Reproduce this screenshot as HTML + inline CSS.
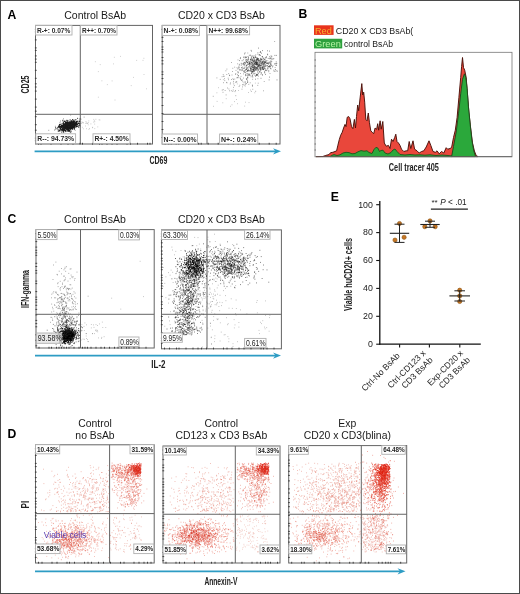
<!DOCTYPE html>
<html><head><meta charset="utf-8"><title>Figure</title>
<style>html,body{margin:0;padding:0;background:#fff;}body{width:520px;height:594px;overflow:hidden;font-family:"Liberation Sans",sans-serif;}svg{display:block;filter:blur(0.45px);}#fr{position:absolute;left:0;top:0;width:518px;height:592px;border:1px solid #4a4a4a;}</style>
</head><body>
<svg width="520" height="594" viewBox="0 0 520 594" font-family="Liberation Sans, sans-serif"><rect x="0" y="0" width="520" height="594" fill="#fff"/>
<text x="7.5" y="18.5" font-size="12.2" text-anchor="start" font-weight="bold" fill="#000" >A</text>
<text x="298.6" y="18.2" font-size="12.2" text-anchor="start" font-weight="bold" fill="#000" >B</text>
<text x="7.6" y="222.9" font-size="12.2" text-anchor="start" font-weight="bold" fill="#000" >C</text>
<text x="7.6" y="438.4" font-size="12.2" text-anchor="start" font-weight="bold" fill="#000" >D</text>
<text x="330.8" y="201.3" font-size="12.2" text-anchor="start" font-weight="bold" fill="#000" >E</text>
<text x="95.2" y="18.5" font-size="10.5" text-anchor="middle" font-weight="normal" fill="#1a1a1a" >Control BsAb</text>
<text x="221.4" y="18.5" font-size="10.5" text-anchor="middle" font-weight="normal" fill="#1a1a1a" >CD20 x CD3 BsAb</text>
<path d="M68.0 126.1h.01M69.8 123.9h.01M66.8 127.3h.01M66.0 125.9h.01M72.3 126.5h.01M65.8 125.9h.01M64.4 126.1h.01M70.3 125.1h.01M73.0 124.4h.01M66.0 126.4h.01M67.6 124.6h.01M68.1 126.3h.01M63.4 131.8h.01M75.7 123.6h.01M79.1 123.3h.01M73.2 122.0h.01M69.6 126.4h.01M61.0 129.9h.01M61.7 125.8h.01M69.7 128.1h.01M65.5 122.6h.01M69.3 124.1h.01M70.4 124.2h.01M69.7 122.9h.01M71.4 127.7h.01M57.2 128.0h.01M71.2 125.5h.01M76.8 123.3h.01M70.7 126.5h.01M65.9 126.1h.01M68.0 126.5h.01M67.9 125.1h.01M78.5 123.2h.01M69.5 121.9h.01M64.5 129.2h.01M68.3 123.4h.01M74.6 125.5h.01M66.3 129.0h.01M59.4 130.6h.01M71.6 128.6h.01M66.1 123.8h.01M71.0 125.8h.01M71.6 124.7h.01M70.8 126.8h.01M63.1 126.5h.01M68.9 125.7h.01M65.7 126.5h.01M61.7 125.0h.01M73.2 126.1h.01M62.4 129.4h.01M72.8 124.1h.01M69.9 129.9h.01M72.5 125.1h.01M66.5 127.1h.01M65.7 124.1h.01M69.0 127.9h.01M66.7 124.5h.01M73.3 125.6h.01M71.3 128.0h.01M69.5 126.7h.01M71.4 123.9h.01M67.6 128.6h.01M65.5 123.5h.01M69.2 124.0h.01M64.9 127.6h.01M62.6 126.9h.01M67.2 125.5h.01M64.2 129.3h.01M75.9 124.8h.01M66.3 124.3h.01M65.3 127.1h.01M67.5 123.6h.01M68.5 126.3h.01M63.8 131.0h.01M65.1 123.9h.01M69.5 125.3h.01M66.0 125.6h.01M66.4 127.1h.01M63.8 130.7h.01M66.2 122.2h.01M72.1 125.8h.01M68.6 125.2h.01M69.4 126.4h.01M69.5 124.1h.01M67.9 126.1h.01M72.9 126.4h.01M69.1 123.7h.01M68.1 126.5h.01M70.7 126.0h.01M70.7 128.0h.01M61.8 132.1h.01M67.6 130.2h.01M73.4 126.0h.01M62.1 126.4h.01M64.2 128.3h.01M68.7 124.5h.01M62.5 126.7h.01M68.7 124.5h.01M67.7 126.2h.01M62.9 123.4h.01M64.3 130.0h.01M68.0 125.6h.01M67.2 126.2h.01M66.2 129.9h.01M73.0 126.7h.01M70.6 125.6h.01M70.4 125.1h.01M74.4 128.9h.01M67.7 127.4h.01M73.2 126.1h.01M71.6 125.6h.01M70.6 128.8h.01M72.2 127.3h.01M70.8 132.1h.01M78.6 123.1h.01M72.7 123.2h.01M74.0 123.2h.01M73.1 127.6h.01M68.9 125.4h.01M72.0 128.5h.01M68.5 123.0h.01M71.3 126.3h.01M71.0 131.2h.01M69.6 127.6h.01M65.4 123.6h.01M62.2 126.1h.01M74.2 120.8h.01M69.4 125.9h.01M76.3 121.4h.01M65.8 128.1h.01M66.2 124.3h.01M71.3 126.2h.01M67.2 128.8h.01M72.6 127.9h.01M72.7 124.4h.01M62.5 126.0h.01M69.7 122.6h.01M61.3 127.2h.01M79.2 124.0h.01M73.6 122.6h.01M71.0 128.1h.01M73.0 125.1h.01M70.4 128.1h.01M68.7 126.7h.01M69.1 124.1h.01M67.7 125.8h.01M60.9 126.2h.01M68.9 123.8h.01M73.2 126.8h.01M67.6 127.7h.01M70.1 127.5h.01M66.2 124.4h.01M63.5 124.3h.01M70.0 122.8h.01M73.7 124.4h.01M62.0 126.7h.01M75.2 123.6h.01M70.6 124.6h.01M62.7 128.8h.01M66.7 122.2h.01M68.5 127.7h.01M65.0 127.8h.01M72.5 126.0h.01M63.3 124.3h.01M70.0 128.4h.01M68.2 124.6h.01M71.2 125.3h.01M63.2 122.8h.01M65.8 127.7h.01M65.5 125.2h.01M71.8 125.4h.01M64.2 125.4h.01M66.4 128.1h.01M74.1 127.2h.01M64.2 129.2h.01M59.3 126.1h.01M68.9 124.6h.01M67.9 126.0h.01M68.2 124.3h.01M71.6 124.8h.01M63.3 126.9h.01M70.7 122.7h.01M71.1 123.9h.01M71.0 126.0h.01M75.4 125.1h.01M64.8 123.4h.01M68.7 124.7h.01M74.8 125.5h.01M72.6 124.8h.01M62.6 125.6h.01M59.5 124.5h.01M72.2 124.6h.01M68.2 126.3h.01M72.3 126.5h.01M66.2 125.1h.01M74.5 126.3h.01M65.5 124.3h.01M70.6 126.4h.01M68.5 130.0h.01M69.7 125.2h.01M77.2 121.8h.01M69.0 124.2h.01M76.3 123.1h.01M69.4 126.0h.01M64.7 128.7h.01M79.7 123.9h.01M65.5 124.2h.01M66.4 126.4h.01M67.6 122.5h.01M76.7 124.4h.01M63.1 131.1h.01M67.1 127.4h.01M70.3 127.2h.01M71.0 125.7h.01M63.0 127.6h.01M66.2 126.0h.01M71.0 125.4h.01M70.3 124.7h.01M65.6 124.0h.01M59.3 125.1h.01M69.0 129.0h.01M64.2 126.6h.01M66.3 127.2h.01M77.3 126.5h.01M66.5 125.3h.01M69.1 124.3h.01M64.8 124.3h.01M69.3 123.5h.01M75.1 123.2h.01M66.4 126.7h.01M68.6 126.9h.01M60.4 127.3h.01M67.5 123.0h.01M65.4 127.3h.01M70.0 122.4h.01M65.0 124.3h.01M69.4 122.8h.01M68.6 127.9h.01M67.5 127.7h.01M73.7 122.5h.01M64.4 125.2h.01M66.4 126.4h.01M62.7 127.7h.01M65.8 128.5h.01M78.4 123.4h.01M78.6 125.8h.01M69.9 121.7h.01M69.2 124.2h.01M73.4 126.9h.01M69.3 124.7h.01M79.4 123.6h.01M71.2 124.2h.01M69.9 123.9h.01M68.8 125.4h.01M65.8 125.5h.01M67.8 125.6h.01M67.1 125.4h.01M67.0 126.5h.01M66.8 127.1h.01M66.6 128.4h.01M64.5 124.2h.01M59.7 127.3h.01M66.5 126.9h.01M66.4 124.4h.01M72.4 124.0h.01M72.6 125.0h.01M73.3 124.0h.01M70.0 123.6h.01M67.0 125.6h.01M69.3 126.6h.01M65.5 127.6h.01M62.2 126.2h.01M69.1 127.4h.01M70.8 125.4h.01M62.2 130.5h.01M70.7 127.3h.01M74.5 124.6h.01M65.2 127.5h.01M66.0 127.5h.01M66.3 127.1h.01M64.9 121.8h.01M71.8 123.9h.01M76.2 124.2h.01M63.2 127.7h.01M63.2 123.8h.01M63.7 126.7h.01M69.5 126.0h.01M70.1 126.5h.01M73.6 123.5h.01M72.4 125.2h.01M61.8 129.6h.01M64.0 128.3h.01M68.6 127.7h.01M75.8 125.8h.01M61.3 127.8h.01M66.7 125.8h.01M68.5 127.7h.01M68.9 123.8h.01M76.1 123.1h.01M65.9 123.9h.01M66.6 124.4h.01M76.2 126.5h.01M57.9 129.8h.01M67.2 123.3h.01M62.7 128.7h.01M69.2 127.7h.01M65.8 130.1h.01M70.4 125.0h.01M72.7 125.1h.01M66.0 124.3h.01M67.9 120.3h.01M64.5 124.0h.01M72.7 127.0h.01M66.2 125.3h.01M75.3 124.7h.01M74.9 124.1h.01M72.2 129.1h.01M67.2 127.9h.01M70.8 121.7h.01M76.5 122.0h.01M71.7 125.0h.01M65.5 125.8h.01M72.2 122.1h.01M67.7 120.8h.01M64.2 121.5h.01M66.2 126.6h.01M57.5 127.9h.01M65.2 125.3h.01M70.6 126.0h.01M74.1 126.8h.01M66.7 128.3h.01M72.4 124.5h.01M65.8 124.8h.01M65.3 128.1h.01M66.5 126.7h.01M64.4 124.7h.01M78.6 127.1h.01M72.0 124.8h.01M65.0 129.8h.01M62.7 127.1h.01M68.3 122.2h.01M68.6 128.3h.01M71.0 121.0h.01M73.2 121.8h.01M67.8 125.5h.01M64.4 129.3h.01M68.8 126.5h.01M61.7 125.4h.01M75.7 124.0h.01M67.5 126.2h.01M63.5 122.9h.01M62.7 126.9h.01M72.0 126.0h.01M61.3 125.4h.01M65.5 130.2h.01M63.3 125.6h.01M71.3 128.3h.01M71.9 126.7h.01M74.6 121.5h.01M71.1 124.7h.01M72.3 123.5h.01M74.3 128.3h.01M79.5 121.3h.01M66.8 127.4h.01M74.4 122.8h.01M74.6 122.7h.01M75.6 123.7h.01M71.8 120.6h.01M59.9 130.0h.01M59.4 130.9h.01M62.1 126.5h.01M72.6 124.9h.01M68.5 126.1h.01M67.5 127.6h.01M71.4 126.1h.01M70.2 124.2h.01M62.7 120.8h.01M75.6 124.3h.01M70.6 126.3h.01M66.0 130.9h.01M69.7 124.8h.01M68.8 124.9h.01M58.5 135.2h.01M69.9 124.7h.01M64.0 126.0h.01M63.6 123.2h.01M58.4 126.5h.01M70.4 124.5h.01M71.4 125.6h.01M61.6 127.3h.01M72.3 122.1h.01M64.5 124.4h.01M65.5 124.7h.01M63.3 123.6h.01M72.3 122.2h.01M67.5 125.3h.01M66.7 128.4h.01M67.8 127.3h.01M63.2 130.0h.01M68.5 130.8h.01M73.2 124.7h.01M66.3 122.8h.01M70.7 125.3h.01M74.0 125.7h.01M72.5 126.0h.01M68.3 126.8h.01M65.5 128.2h.01M64.7 125.8h.01M72.3 125.7h.01M68.3 125.7h.01M67.6 126.0h.01M70.2 124.3h.01M66.5 126.1h.01M60.7 126.6h.01M74.8 122.3h.01M68.9 125.5h.01M68.8 125.1h.01M77.6 118.3h.01M66.6 123.4h.01M68.1 125.0h.01M69.6 124.8h.01M69.1 127.4h.01M66.3 124.3h.01M64.9 128.4h.01M67.7 121.9h.01M70.2 123.9h.01M70.5 125.6h.01M74.6 126.7h.01M75.4 125.9h.01M75.3 124.2h.01M69.3 128.7h.01M68.2 122.7h.01M69.4 125.8h.01M62.0 130.6h.01M65.2 127.0h.01M60.5 128.5h.01M69.4 126.7h.01M72.3 123.7h.01M65.0 127.3h.01M69.8 129.8h.01M69.2 124.1h.01M65.8 121.7h.01M58.3 131.3h.01M76.2 126.1h.01M70.2 124.1h.01M68.3 127.5h.01M74.5 127.3h.01M65.2 123.0h.01M66.0 125.1h.01M71.7 125.9h.01M68.6 125.4h.01M64.6 126.4h.01M68.0 127.8h.01M66.1 125.7h.01M74.0 128.0h.01M68.1 123.8h.01M69.2 128.5h.01M75.3 122.6h.01M62.8 128.3h.01M64.7 129.4h.01M67.4 126.0h.01M63.4 123.1h.01M65.9 126.6h.01M67.8 127.3h.01M71.7 122.0h.01M67.8 127.7h.01M72.3 126.5h.01M75.8 123.5h.01M70.0 125.1h.01M76.8 121.6h.01M69.1 124.6h.01M75.9 119.6h.01M67.6 123.4h.01M64.3 130.5h.01M65.0 125.5h.01M69.3 125.8h.01M67.0 124.4h.01M71.4 126.5h.01M60.3 128.8h.01M66.2 126.5h.01M71.0 122.3h.01M59.0 126.8h.01M65.1 127.8h.01M75.2 125.3h.01M59.8 124.3h.01M73.1 124.8h.01M64.4 127.7h.01M76.6 124.9h.01M74.8 125.1h.01M67.2 128.2h.01M69.8 124.2h.01M65.0 126.5h.01M63.8 125.2h.01M67.3 125.2h.01M63.5 124.7h.01M79.8 125.4h.01M72.5 121.7h.01M69.1 123.2h.01M70.6 124.7h.01M66.6 120.3h.01M74.7 125.5h.01M70.9 125.0h.01M59.2 126.4h.01M68.6 127.3h.01M66.0 122.6h.01M74.3 123.3h.01M76.6 125.1h.01M67.8 128.7h.01M64.9 120.8h.01M66.0 126.0h.01M62.8 127.0h.01M68.2 124.5h.01M67.1 125.9h.01M69.4 125.5h.01M65.7 126.1h.01M68.3 128.0h.01M68.8 127.4h.01M67.2 128.5h.01M71.4 124.7h.01M69.2 126.2h.01M74.8 122.3h.01M69.5 124.5h.01M62.5 128.4h.01M61.2 126.9h.01M72.8 129.1h.01M63.0 125.5h.01M64.1 125.7h.01M71.2 125.2h.01M66.7 126.3h.01M65.9 125.6h.01M66.2 124.3h.01M66.3 124.9h.01M73.7 126.8h.01M69.6 124.2h.01M77.5 124.6h.01M67.8 122.3h.01M69.2 123.5h.01M76.0 122.8h.01M67.7 120.9h.01M73.0 123.2h.01M74.3 125.4h.01M67.7 126.0h.01M66.1 130.1h.01M60.4 124.3h.01M68.3 124.5h.01M68.0 125.3h.01M70.7 123.9h.01M69.8 125.3h.01M68.2 124.9h.01M73.2 121.6h.01M62.7 127.0h.01M69.8 127.5h.01M71.6 126.8h.01M73.1 127.0h.01M64.3 126.9h.01M63.3 131.5h.01M79.8 121.1h.01M67.5 126.7h.01M74.0 128.1h.01M67.2 127.1h.01M71.5 124.7h.01M64.0 126.1h.01M71.7 126.6h.01M69.2 123.0h.01M68.9 125.4h.01M72.5 126.3h.01M65.2 124.9h.01M68.1 129.8h.01M71.8 122.5h.01M74.1 127.1h.01M62.3 125.1h.01M67.3 123.3h.01M62.8 129.9h.01M77.8 121.1h.01M67.8 127.4h.01M71.6 128.1h.01M71.6 124.7h.01M63.4 127.9h.01M63.9 128.3h.01M64.9 128.8h.01M75.9 123.5h.01M72.9 124.2h.01M70.5 126.5h.01M70.2 129.1h.01M70.1 128.1h.01M72.5 123.8h.01M70.3 129.9h.01M70.1 125.3h.01M72.6 119.5h.01M67.7 127.9h.01M69.9 126.9h.01M68.6 123.5h.01M67.4 128.0h.01M80.2 118.9h.01M67.4 127.6h.01M68.4 129.6h.01M70.8 124.5h.01M72.0 126.1h.01M71.8 121.3h.01M72.8 124.1h.01M69.9 125.6h.01M69.6 123.6h.01M70.6 126.8h.01M77.2 126.5h.01M64.0 128.0h.01M70.8 127.7h.01M69.4 130.7h.01M72.6 122.2h.01M61.5 126.1h.01M72.4 125.9h.01M73.7 121.9h.01M67.2 128.1h.01M68.6 125.8h.01M71.1 124.7h.01M69.1 124.4h.01M63.3 127.8h.01M70.3 127.0h.01M68.8 125.9h.01M63.4 130.1h.01M69.9 127.7h.01M64.7 128.4h.01M69.0 126.3h.01M63.7 132.2h.01M63.9 125.8h.01M67.3 129.4h.01M72.7 127.2h.01M66.8 126.2h.01M64.4 126.8h.01M73.4 124.8h.01M69.3 126.6h.01M65.7 124.0h.01M63.6 129.1h.01M71.2 123.7h.01M59.0 127.4h.01M68.5 128.1h.01M64.3 127.0h.01M60.9 126.3h.01M71.3 123.5h.01M67.7 129.6h.01M67.1 124.5h.01M65.5 127.1h.01M65.4 126.3h.01M71.8 125.7h.01M71.9 125.9h.01M67.1 127.8h.01M75.0 122.6h.01M68.9 130.4h.01M67.7 126.0h.01M66.7 126.4h.01M68.0 131.4h.01M55.5 127.7h.01M64.9 127.4h.01M69.3 127.2h.01M68.6 122.9h.01M71.3 123.2h.01M74.3 121.0h.01M74.8 125.7h.01M72.4 125.8h.01M73.4 126.8h.01M70.0 126.1h.01M67.2 122.9h.01M73.1 120.8h.01M65.6 122.5h.01M67.9 128.3h.01M64.0 126.3h.01M63.7 127.6h.01M67.2 126.0h.01M73.8 127.5h.01M70.3 124.3h.01M71.2 126.2h.01M71.6 123.4h.01M73.6 124.2h.01M74.7 126.7h.01M74.1 126.7h.01M75.9 123.9h.01M69.9 123.4h.01M71.6 125.6h.01M72.8 121.8h.01M65.7 125.8h.01M60.5 128.3h.01M76.7 126.8h.01M75.2 125.8h.01M77.3 124.1h.01M66.8 128.7h.01M75.1 125.1h.01M72.3 124.8h.01M69.6 124.5h.01M75.1 124.9h.01M68.4 129.2h.01M70.8 125.7h.01M66.9 128.6h.01M68.9 126.8h.01M72.1 126.3h.01M73.9 125.5h.01M73.9 125.0h.01M68.1 126.5h.01M74.4 124.7h.01M67.5 124.7h.01M66.7 125.8h.01M60.7 128.6h.01M70.9 127.5h.01M71.2 124.2h.01M68.7 124.9h.01M68.2 129.6h.01M70.7 123.9h.01M65.3 127.6h.01M70.3 127.2h.01M71.0 122.8h.01M71.2 122.8h.01M65.4 124.1h.01M70.3 127.8h.01M67.0 127.5h.01M65.5 131.0h.01M79.6 121.8h.01M64.9 126.2h.01M66.3 127.7h.01M76.9 122.7h.01M69.2 123.1h.01M61.3 127.9h.01M73.5 122.4h.01M74.0 123.5h.01M71.2 122.6h.01M60.3 126.6h.01M60.7 129.1h.01M69.3 131.5h.01M67.8 124.5h.01M66.6 124.6h.01M70.6 125.9h.01M59.1 130.2h.01M69.6 128.2h.01M66.1 126.9h.01M66.8 124.5h.01M77.1 124.9h.01M68.5 125.1h.01M64.9 127.2h.01M66.0 124.9h.01M67.9 125.3h.01M73.5 122.9h.01M62.4 129.7h.01M67.8 124.1h.01M74.3 126.0h.01M61.0 129.6h.01M74.2 127.7h.01M69.9 124.2h.01M69.0 128.7h.01M68.0 128.4h.01M64.0 126.5h.01M71.4 126.3h.01M70.7 121.7h.01M74.5 126.3h.01M72.5 122.8h.01M74.1 123.7h.01M64.2 127.3h.01M62.4 125.7h.01M71.0 125.1h.01M65.1 130.7h.01M66.6 124.6h.01M66.9 125.9h.01M69.3 126.1h.01M69.6 124.6h.01M66.0 127.8h.01M67.7 125.2h.01M71.3 125.2h.01M64.5 125.9h.01M71.9 125.8h.01M68.6 129.2h.01M68.2 125.5h.01M69.4 124.7h.01M65.0 128.0h.01M70.6 125.5h.01M67.4 122.8h.01M70.1 119.9h.01M71.1 124.0h.01M64.3 124.2h.01M70.4 128.9h.01M73.2 123.1h.01M68.8 124.0h.01M70.4 123.7h.01M67.2 128.7h.01M64.3 125.3h.01M71.5 121.9h.01M59.2 127.4h.01M65.2 127.9h.01M72.3 124.6h.01M75.1 127.3h.01M66.6 124.5h.01M70.2 122.3h.01M63.4 127.8h.01M73.6 123.7h.01M72.6 126.2h.01M65.9 131.6h.01M64.5 127.6h.01M68.4 122.2h.01M74.8 125.8h.01M73.6 123.4h.01M67.9 130.9h.01M73.5 125.6h.01M70.9 127.8h.01M61.6 130.1h.01M73.2 125.7h.01" stroke="#000" stroke-width="1.1" stroke-linecap="round" opacity="0.9" fill="none"/>
<path d="M68.6 127.1h.01M73.7 120.7h.01M64.7 129.6h.01M66.8 126.4h.01M68.3 126.4h.01M80.6 126.2h.01M69.5 122.8h.01M83.1 122.8h.01M73.9 125.3h.01M73.4 121.1h.01M58.5 130.1h.01M76.3 121.7h.01M71.1 124.4h.01M58.6 127.5h.01M72.7 121.7h.01M64.7 124.7h.01M66.9 122.0h.01M77.3 123.2h.01M74.4 129.3h.01M65.7 126.8h.01M76.5 122.8h.01M71.7 126.6h.01M70.2 132.3h.01M69.5 124.6h.01M66.5 123.5h.01M59.1 129.9h.01M68.1 128.2h.01M79.3 120.7h.01M73.4 120.0h.01M79.7 121.6h.01M68.3 123.1h.01M62.9 120.0h.01M58.7 125.9h.01M73.2 127.6h.01M58.0 127.3h.01M64.0 126.5h.01M76.7 123.3h.01M79.5 126.9h.01M59.2 133.6h.01M80.5 123.7h.01M63.4 122.5h.01M77.0 124.4h.01M63.3 126.8h.01M77.5 125.7h.01M57.4 135.0h.01M70.4 128.2h.01M66.7 124.7h.01M71.0 126.1h.01M74.9 119.6h.01M73.5 126.1h.01M67.6 124.9h.01M73.3 125.2h.01M69.3 123.1h.01M68.5 123.8h.01M61.4 123.9h.01M66.0 124.8h.01M64.1 127.2h.01M66.9 128.5h.01M72.4 123.6h.01M60.4 130.9h.01M79.9 125.4h.01M76.3 121.3h.01M75.3 122.4h.01M70.7 115.0h.01M61.6 127.4h.01M78.7 121.7h.01M62.2 127.1h.01M63.4 118.8h.01M61.4 127.3h.01M67.0 125.9h.01M72.9 120.1h.01M60.9 124.1h.01M70.9 122.0h.01M64.2 125.7h.01M59.4 126.3h.01M64.7 125.8h.01M68.9 126.4h.01M61.6 129.3h.01M63.7 130.4h.01M63.8 129.1h.01M72.3 128.3h.01M70.5 127.3h.01M60.7 129.4h.01M64.1 126.5h.01M59.0 125.9h.01M70.2 126.7h.01M72.7 122.5h.01M61.4 126.0h.01M63.1 126.8h.01M76.0 127.7h.01M60.6 121.0h.01M55.8 128.8h.01M48.8 130.3h.01M72.4 126.9h.01M69.1 122.3h.01M55.3 126.3h.01M69.8 126.4h.01M78.5 123.6h.01M73.6 123.6h.01M61.8 127.2h.01M56.4 128.8h.01M75.2 121.3h.01M54.7 130.2h.01M63.8 127.7h.01M59.2 128.5h.01M71.3 130.0h.01M67.5 126.6h.01M63.1 120.9h.01M84.1 117.1h.01M87.1 123.5h.01M79.7 119.1h.01M79.2 123.2h.01M75.2 130.3h.01M68.9 126.6h.01M59.5 125.3h.01M62.0 126.6h.01M79.4 125.0h.01M78.0 123.5h.01M75.6 125.8h.01M64.3 125.5h.01M68.6 123.2h.01M73.0 122.2h.01M65.4 123.3h.01M68.0 127.0h.01M67.2 125.3h.01M62.3 127.8h.01M68.2 128.0h.01M55.1 129.4h.01M70.0 122.7h.01M60.5 125.1h.01M66.4 121.9h.01M72.6 125.3h.01M69.7 123.0h.01M66.9 125.6h.01M63.8 125.5h.01M70.2 125.4h.01M70.4 128.9h.01M68.8 124.8h.01M62.8 126.9h.01M60.0 124.7h.01M73.7 125.5h.01M75.1 120.7h.01M74.0 127.6h.01M66.7 127.4h.01M62.5 129.2h.01M60.0 122.4h.01M68.1 134.8h.01M63.1 130.2h.01M63.6 128.9h.01M63.6 122.1h.01" stroke="#222" stroke-width="0.9" stroke-linecap="round" opacity="0.6" fill="none"/>
<path d="M81.4 119.2h.01M86.9 122.5h.01M88.9 129.4h.01M86.0 121.5h.01M88.6 122.7h.01M88.2 124.8h.01M82.3 127.3h.01M92.7 127.3h.01M88.8 120.9h.01M94.8 128.6h.01M97.8 126.9h.01M82.5 122.2h.01M93.8 119.4h.01M85.7 123.3h.01M95.9 119.3h.01M85.5 126.0h.01M80.1 122.4h.01M94.7 124.1h.01M94.8 121.7h.01M94.3 120.7h.01M92.6 127.7h.01M81.3 122.1h.01M86.6 128.7h.01M81.4 123.5h.01M99.9 120.0h.01M99.1 119.8h.01M90.9 123.9h.01M93.7 122.1h.01M89.4 128.5h.01M83.3 128.8h.01M100.2 64.6h.01M107.3 84.6h.01M112.1 80.9h.01M98.3 71.6h.01M95.3 61.7h.01M131.2 85.6h.01M120.4 56.4h.01M136.7 60.4h.01M133.4 77.4h.01M143.0 60.4h.01M114.3 57.3h.01M146.6 88.8h.01M113.6 63.9h.01M144.0 74.5h.01M101.9 80.8h.01M115.0 100.0h.01M98.3 97.2h.01M143.9 58.3h.01" stroke="#888" stroke-width="0.8" stroke-linecap="round" opacity="0.6" fill="none"/>
<rect x="35.5" y="25.4" width="117.0" height="118.6" fill="none" stroke="#646464" stroke-width="1"/>
<line x1="80.3" y1="25.4" x2="80.3" y2="144" stroke="#646464" stroke-width="1"/>
<line x1="35.5" y1="114.3" x2="152.5" y2="114.3" stroke="#646464" stroke-width="1"/>
<path d="M34.9 29.4h1.8M34.9 31.9h1.8M34.9 39.9h1.8M34.9 47.9h1.8M34.9 50.4h1.8M34.9 55.9h1.8M34.9 59.1h1.8M34.9 62.3h1.8M34.9 70.3h1.8M34.9 78.3h1.8M34.9 83.8h1.8M34.9 87.0h1.8M34.9 91.1h1.8M34.9 99.1h1.8M34.9 107.1h1.8M34.9 111.2h1.8M34.9 116.7h1.8M34.9 124.7h1.8M34.9 130.2h1.8M34.9 138.2h1.8M34.9 140.7h1.8M38.5 144.6v-1.8M41.0 144.6v-1.8M51.0 144.6v-1.8M61.0 144.6v-1.8M68.0 144.6v-1.8M73.0 144.6v-1.8M80.0 144.6v-1.8M82.5 144.6v-1.8M92.5 144.6v-1.8M99.5 144.6v-1.8M102.0 144.6v-1.8M107.0 144.6v-1.8M112.0 144.6v-1.8M117.0 144.6v-1.8M127.0 144.6v-1.8M130.5 144.6v-1.8M137.5 144.6v-1.8M147.5 144.6v-1.8M150.0 144.6v-1.8" stroke="#333" stroke-width="0.9" fill="none"/>
<rect x="35.5" y="25.4" width="36.5" height="9.600000000000001" fill="rgba(255,255,255,0.88)" stroke="#b0b0b0" stroke-width="0.9"/>
<text x="36.9" y="32.86" font-size="7.4" text-anchor="start" font-weight="bold" fill="#2a2a2a" textLength="33.5" lengthAdjust="spacingAndGlyphs" >R-+: 0.07%</text>
<rect x="80.5" y="25.4" width="36.5" height="9.600000000000001" fill="rgba(255,255,255,0.88)" stroke="#b0b0b0" stroke-width="0.9"/>
<text x="81.9" y="32.86" font-size="7.4" text-anchor="start" font-weight="bold" fill="#2a2a2a" textLength="34" lengthAdjust="spacingAndGlyphs" >R++: 0.70%</text>
<rect x="35.8" y="133.8" width="39.8" height="9.699999999999989" fill="rgba(255,255,255,0.88)" stroke="#b0b0b0" stroke-width="0.9"/>
<text x="37.2" y="141.31" font-size="7.4" text-anchor="start" font-weight="bold" fill="#2a2a2a" textLength="37" lengthAdjust="spacingAndGlyphs" >R--: 94.73%</text>
<rect x="93" y="133.8" width="37" height="9.699999999999989" fill="rgba(255,255,255,0.88)" stroke="#b0b0b0" stroke-width="0.9"/>
<text x="94.4" y="141.31" font-size="7.4" text-anchor="start" font-weight="bold" fill="#2a2a2a" textLength="34.5" lengthAdjust="spacingAndGlyphs" >R+-: 4.50%</text>
<path d="M257.8 62.6h.01M259.7 54.6h.01M251.7 71.0h.01M262.3 66.2h.01M257.6 59.0h.01M262.0 62.9h.01M259.1 66.3h.01M248.7 61.7h.01M263.1 61.0h.01M251.8 66.6h.01M254.1 61.5h.01M255.8 62.8h.01M268.7 64.2h.01M264.5 62.1h.01M247.7 62.9h.01M256.0 68.7h.01M254.0 73.6h.01M256.6 68.9h.01M252.2 59.3h.01M248.0 60.6h.01M250.7 64.0h.01M264.7 71.6h.01M265.8 57.6h.01M253.2 70.9h.01M257.4 66.6h.01M268.8 71.7h.01M263.7 69.6h.01M253.7 69.2h.01M273.9 70.2h.01M270.9 63.6h.01M249.3 63.3h.01M245.6 57.4h.01M245.8 62.1h.01M252.6 62.8h.01M257.9 64.2h.01M255.1 62.7h.01M252.7 65.7h.01M264.9 62.1h.01M255.2 70.1h.01M253.7 57.4h.01M275.5 69.5h.01M252.0 65.3h.01M259.1 55.0h.01M258.0 58.7h.01M254.2 60.0h.01M260.6 51.6h.01M261.8 60.0h.01M261.0 78.3h.01M244.1 70.4h.01M256.6 63.1h.01M248.4 74.3h.01M255.0 62.5h.01M245.6 63.7h.01M250.7 59.7h.01M252.1 69.4h.01M257.4 67.5h.01M248.0 56.6h.01M265.3 70.5h.01M253.7 69.0h.01M254.4 63.3h.01M270.0 63.2h.01M255.6 62.1h.01M258.7 60.3h.01M240.3 58.6h.01M256.5 67.6h.01M246.5 61.4h.01M270.6 65.9h.01M247.1 62.3h.01M256.9 63.3h.01M262.4 63.0h.01M253.1 65.4h.01M244.3 64.3h.01M256.0 57.4h.01M258.1 64.5h.01M249.0 64.4h.01M262.6 62.1h.01M240.4 57.7h.01M253.3 62.9h.01M252.1 66.2h.01M250.1 62.6h.01M247.4 70.7h.01M263.5 64.8h.01M256.4 61.7h.01M247.0 65.0h.01M269.6 66.4h.01M258.5 66.2h.01M261.7 66.0h.01M271.0 68.8h.01M263.2 64.4h.01M267.3 65.7h.01M270.9 62.1h.01M254.3 70.4h.01M264.5 62.7h.01M252.3 67.7h.01M238.3 72.1h.01M263.3 61.9h.01M249.6 63.3h.01M266.6 61.1h.01M268.9 63.1h.01M266.5 63.6h.01M271.0 61.8h.01M260.2 69.7h.01M272.9 65.9h.01M244.5 53.9h.01M264.4 68.0h.01M266.3 56.6h.01M265.5 68.8h.01M276.0 63.5h.01M251.1 70.8h.01M249.3 74.6h.01M259.2 71.8h.01M256.4 63.0h.01M271.4 65.6h.01M250.1 75.3h.01M260.6 55.4h.01M261.2 63.6h.01M247.5 60.1h.01M255.2 63.0h.01M266.3 57.7h.01M253.3 64.6h.01M260.5 61.4h.01M255.2 57.1h.01M264.0 63.9h.01M259.5 64.8h.01M255.3 67.1h.01M245.1 72.4h.01M248.8 66.7h.01M262.9 59.6h.01M256.3 62.4h.01M260.3 62.3h.01M240.1 69.5h.01M262.1 61.7h.01M272.5 66.9h.01M243.3 59.8h.01M252.9 55.7h.01M251.8 71.3h.01M268.8 66.6h.01M248.7 59.5h.01M253.7 67.6h.01M254.3 65.2h.01M270.4 64.2h.01M265.4 61.8h.01M243.6 63.8h.01M260.0 63.5h.01M262.1 67.7h.01M246.4 60.1h.01M276.6 65.2h.01M255.0 69.8h.01M259.9 60.0h.01M257.2 58.0h.01M229.5 75.3h.01M256.4 63.7h.01M254.5 60.0h.01M255.5 69.9h.01M273.8 58.6h.01M257.6 68.6h.01M245.1 52.9h.01M241.2 63.3h.01M260.3 67.1h.01M269.7 67.0h.01M254.0 57.7h.01M262.2 56.5h.01M263.2 63.3h.01M261.4 53.2h.01M277.0 79.9h.01M252.2 76.0h.01M255.9 68.2h.01M250.0 62.0h.01M259.3 64.5h.01M255.0 60.2h.01M257.7 64.8h.01M269.2 62.2h.01M267.5 50.8h.01M255.0 55.8h.01M254.5 71.6h.01M262.3 67.8h.01M266.8 62.9h.01M255.9 64.2h.01M268.4 66.5h.01M265.5 74.4h.01M263.0 67.5h.01M261.2 63.9h.01M248.5 57.4h.01M258.5 65.7h.01M246.3 59.4h.01M251.4 73.5h.01M264.8 59.5h.01M249.3 64.2h.01M254.0 68.0h.01M261.2 69.0h.01M255.4 56.9h.01M248.1 63.1h.01M250.5 69.1h.01M262.9 68.5h.01M252.7 64.1h.01M254.4 68.5h.01M269.6 51.1h.01M257.3 58.9h.01M264.6 63.5h.01M262.5 50.6h.01M250.2 71.3h.01M266.8 70.6h.01M260.1 67.0h.01M250.2 63.7h.01M244.6 62.6h.01M253.9 63.2h.01M256.6 74.4h.01M239.0 67.5h.01M246.3 57.2h.01M263.8 58.2h.01M255.3 67.5h.01M259.9 71.5h.01M246.2 65.6h.01M267.9 68.1h.01M249.4 63.9h.01M246.8 69.3h.01M240.0 70.4h.01M242.1 60.7h.01M253.0 66.1h.01M271.8 56.3h.01M261.5 59.1h.01M262.7 64.4h.01M255.9 60.7h.01M264.0 65.9h.01M258.0 59.5h.01M257.4 62.4h.01M253.3 69.5h.01M259.1 61.2h.01M259.3 62.5h.01M264.2 68.4h.01M251.1 50.4h.01M274.2 71.4h.01M252.0 64.4h.01M274.9 64.2h.01M264.0 68.8h.01M267.8 63.1h.01M245.2 57.8h.01M249.9 61.5h.01M241.8 69.1h.01M253.3 67.7h.01M252.8 59.4h.01M251.3 57.4h.01M275.9 65.4h.01M257.7 63.2h.01M260.6 68.4h.01M262.3 56.5h.01M252.4 63.7h.01M276.2 61.9h.01M263.3 58.3h.01M247.9 59.2h.01M261.9 67.7h.01M243.8 64.6h.01M252.7 71.6h.01M251.5 63.0h.01M251.2 66.4h.01M250.6 59.6h.01M249.5 65.7h.01M265.2 66.6h.01M268.0 67.9h.01M251.7 56.9h.01M256.8 63.5h.01M263.5 66.0h.01M256.3 62.5h.01M261.2 64.8h.01M268.8 70.4h.01M267.7 63.1h.01M269.5 56.8h.01M256.1 69.1h.01M249.6 70.7h.01M243.7 57.1h.01M257.5 68.1h.01M246.9 71.4h.01M256.0 75.3h.01M252.9 67.4h.01M248.7 64.2h.01M255.9 61.6h.01M270.5 66.7h.01M276.8 63.4h.01M257.0 64.5h.01M262.4 75.1h.01M256.5 64.1h.01M251.7 62.3h.01M253.4 60.9h.01M262.3 57.8h.01M259.1 68.1h.01M255.8 69.1h.01M250.5 68.8h.01M245.6 74.3h.01M245.6 69.4h.01M254.0 70.5h.01M262.3 67.6h.01M260.7 67.6h.01M261.0 70.0h.01M253.5 71.1h.01M259.1 65.3h.01M259.1 61.4h.01M258.7 60.3h.01M243.5 63.3h.01M260.3 65.8h.01M250.4 68.4h.01M264.4 61.3h.01M241.5 67.5h.01M257.6 72.0h.01M255.7 62.0h.01M260.5 59.9h.01M261.5 59.4h.01M269.6 77.1h.01M247.7 64.7h.01M256.7 59.9h.01M255.7 64.7h.01M246.4 68.9h.01M251.8 62.9h.01M250.1 67.8h.01M252.2 60.7h.01M260.7 68.4h.01M270.4 58.5h.01M263.3 69.3h.01M259.3 65.8h.01M253.2 69.7h.01M239.6 60.6h.01M258.4 48.1h.01M252.6 67.8h.01M253.2 58.9h.01M253.5 66.9h.01M253.9 61.8h.01M260.2 69.7h.01M255.1 63.3h.01M267.3 69.0h.01M262.7 69.5h.01M256.5 59.9h.01M263.4 62.1h.01M258.7 70.1h.01M256.6 64.5h.01M259.0 65.8h.01M258.7 58.9h.01M254.9 64.1h.01M254.5 66.5h.01M269.4 65.7h.01M268.4 63.2h.01M267.6 63.6h.01M249.3 62.7h.01M256.3 58.9h.01M258.3 59.0h.01M267.7 54.8h.01M245.2 70.5h.01M257.9 54.1h.01M256.5 59.8h.01M252.8 72.4h.01M263.7 60.9h.01M259.9 72.2h.01M257.2 59.0h.01M260.5 65.4h.01M253.9 61.3h.01M260.8 65.1h.01M253.8 57.4h.01M259.7 68.3h.01M238.9 66.8h.01M269.1 79.9h.01M257.5 60.1h.01M244.1 62.3h.01M253.0 56.7h.01M257.3 69.3h.01M251.2 68.1h.01M268.2 58.4h.01M258.8 63.2h.01M252.3 60.8h.01M265.9 62.9h.01M245.5 60.1h.01M244.0 71.7h.01M244.2 65.7h.01M256.8 67.7h.01M247.2 62.3h.01M250.4 70.4h.01M259.7 60.5h.01M252.0 71.8h.01M260.3 61.8h.01M269.5 58.7h.01M253.3 69.9h.01M257.4 74.8h.01M257.2 61.9h.01M263.4 69.4h.01M264.3 59.4h.01M255.5 64.1h.01M262.5 61.8h.01M259.1 63.2h.01M261.8 62.0h.01M257.7 66.4h.01M266.5 65.8h.01M250.6 55.2h.01M248.6 58.3h.01M274.9 55.4h.01M263.3 66.8h.01M251.0 64.3h.01M261.2 72.8h.01M239.2 65.1h.01M246.5 65.4h.01M256.8 60.5h.01M261.2 59.9h.01M256.9 58.0h.01M260.6 52.3h.01M258.6 66.2h.01M260.7 58.3h.01M267.6 54.2h.01M251.1 58.5h.01M244.8 63.9h.01M246.4 69.3h.01M265.1 64.8h.01M263.1 67.8h.01M265.7 62.7h.01M251.7 72.4h.01M254.4 60.9h.01M252.8 77.0h.01M253.0 71.8h.01M256.5 63.4h.01M265.0 66.0h.01M264.8 62.4h.01M251.3 60.3h.01M254.2 58.5h.01M249.4 63.3h.01M250.3 60.9h.01M257.6 59.3h.01M248.2 70.6h.01M270.4 68.3h.01M254.0 74.0h.01M246.8 61.6h.01M262.1 69.0h.01M254.0 68.8h.01M256.1 62.2h.01M254.5 67.6h.01M267.7 65.9h.01M260.7 58.9h.01M260.5 70.0h.01M276.3 55.4h.01M254.4 66.6h.01M244.6 67.9h.01M254.1 65.9h.01M251.3 59.2h.01M249.3 55.3h.01M257.4 63.3h.01M247.9 67.9h.01M257.9 59.0h.01M261.1 65.5h.01M256.7 64.4h.01M254.0 69.7h.01M265.7 62.4h.01M255.4 79.2h.01M265.6 65.2h.01M251.3 69.1h.01M252.8 60.6h.01M258.4 60.9h.01" stroke="#222" stroke-width="0.9" stroke-linecap="round" opacity="0.65" fill="none"/>
<path d="M247.5 74.0h.01M260.9 74.3h.01M244.5 71.9h.01M246.8 79.0h.01M256.5 70.3h.01M251.9 73.5h.01M264.8 66.8h.01M253.8 64.7h.01M247.5 82.5h.01M235.6 74.5h.01M246.9 79.6h.01M246.7 66.7h.01M262.8 66.3h.01M232.0 75.0h.01M276.9 70.5h.01M240.5 73.5h.01M251.5 62.4h.01M237.5 71.9h.01M232.9 78.7h.01M223.4 82.7h.01M242.8 81.7h.01M231.4 62.5h.01M257.7 65.0h.01M226.1 94.9h.01M252.8 89.3h.01M264.7 66.9h.01M238.5 75.5h.01M271.6 58.9h.01M252.3 85.0h.01M243.2 68.4h.01M248.7 70.5h.01M216.9 77.9h.01M232.6 71.5h.01M238.8 68.4h.01M251.0 76.8h.01M267.8 60.7h.01M252.9 71.2h.01M244.1 68.5h.01M265.1 59.9h.01M271.0 55.8h.01M253.4 57.7h.01M244.0 82.8h.01M260.6 60.1h.01M251.4 51.3h.01M248.8 84.4h.01M252.6 86.0h.01M257.9 78.7h.01M256.7 67.6h.01M251.1 55.8h.01M247.5 70.5h.01M234.8 79.1h.01M223.9 76.5h.01M255.0 75.5h.01M265.4 61.2h.01M226.9 69.1h.01M261.9 63.8h.01M243.6 78.1h.01M230.6 82.9h.01M253.2 70.9h.01M245.8 62.5h.01M238.2 72.9h.01M233.4 79.5h.01M237.5 68.9h.01M234.3 85.6h.01M255.1 59.9h.01M255.2 66.9h.01M228.7 73.6h.01M242.6 69.3h.01M249.1 67.1h.01M247.8 77.7h.01M236.7 81.7h.01M252.0 62.0h.01M232.8 91.4h.01M258.6 66.0h.01M264.4 72.7h.01M250.5 67.2h.01M227.4 88.0h.01M220.2 79.4h.01M254.0 60.9h.01M242.0 89.2h.01M248.2 75.4h.01M247.4 77.4h.01M253.8 61.6h.01M226.5 82.4h.01M241.2 65.4h.01M248.0 73.8h.01M270.4 57.3h.01M245.2 86.0h.01M224.4 78.7h.01M257.8 64.5h.01M233.8 84.0h.01M252.7 79.3h.01M256.7 74.6h.01M248.6 69.5h.01M243.4 73.9h.01M274.7 41.5h.01M249.4 75.0h.01M237.3 74.5h.01M223.0 92.3h.01M234.7 67.2h.01M256.6 75.6h.01M265.2 58.2h.01M262.5 68.6h.01M252.0 59.1h.01M241.7 70.6h.01M262.6 62.7h.01M275.7 71.1h.01M263.3 63.4h.01M257.0 68.8h.01M226.8 74.5h.01M261.2 63.2h.01M271.7 57.1h.01M265.4 70.0h.01M255.1 73.3h.01M255.9 67.9h.01M239.7 64.3h.01M277.2 71.5h.01M241.0 76.4h.01M240.0 77.8h.01M249.0 75.6h.01M270.0 73.5h.01M245.1 56.5h.01M246.6 75.2h.01M240.5 78.5h.01M242.6 67.1h.01M260.0 52.4h.01M252.5 75.7h.01M239.1 86.5h.01M224.8 80.6h.01M269.4 66.7h.01M258.2 83.2h.01M241.6 80.2h.01M247.3 62.5h.01M247.8 82.3h.01M242.4 80.0h.01M233.6 81.4h.01M252.3 71.5h.01M252.2 74.8h.01M255.4 76.5h.01M257.0 74.4h.01M244.2 85.1h.01M266.1 60.5h.01M246.3 83.6h.01M247.7 81.3h.01M237.7 63.8h.01M223.2 74.6h.01M256.3 65.0h.01M256.4 75.3h.01M249.8 66.1h.01M251.2 67.8h.01M227.0 82.8h.01M233.5 87.4h.01M247.8 77.1h.01M270.4 64.8h.01M254.4 67.6h.01M270.9 60.7h.01M258.4 76.1h.01M223.9 76.1h.01M236.7 82.1h.01M247.5 75.8h.01M271.8 61.4h.01M266.7 70.2h.01M228.4 79.7h.01M228.9 89.0h.01M231.3 90.7h.01M231.6 79.5h.01M251.3 91.4h.01M259.5 67.6h.01M255.8 54.8h.01M258.5 67.9h.01M245.0 81.8h.01M246.6 67.6h.01M233.2 90.0h.01M235.8 73.5h.01M264.8 72.8h.01M246.6 79.2h.01M264.5 64.8h.01M258.3 73.8h.01M250.2 82.8h.01M257.6 64.5h.01M257.8 85.4h.01M246.8 73.3h.01M239.2 69.4h.01M237.4 77.4h.01M237.0 67.7h.01M235.8 95.7h.01M241.4 80.2h.01M257.4 74.3h.01M243.1 84.6h.01M261.7 62.3h.01M251.2 68.6h.01M252.5 85.9h.01M246.7 69.1h.01M252.9 60.8h.01M239.8 85.3h.01M273.0 59.1h.01M258.2 70.1h.01M254.3 64.1h.01M240.6 79.6h.01M238.1 75.5h.01M238.6 76.9h.01M257.5 75.5h.01M250.4 59.5h.01M242.7 70.5h.01M245.4 82.2h.01M257.8 70.6h.01M248.5 71.0h.01M263.9 63.7h.01M225.1 90.5h.01M242.5 86.9h.01M246.3 78.6h.01M243.0 68.0h.01M213.2 96.3h.01M241.8 64.2h.01M245.6 84.3h.01M253.2 65.0h.01M257.9 65.3h.01M235.4 90.5h.01M257.9 52.6h.01M252.8 69.6h.01M246.0 83.6h.01M235.6 82.2h.01M247.2 71.4h.01M222.1 76.7h.01M247.6 67.7h.01M255.6 57.5h.01M263.4 90.8h.01M238.0 59.9h.01M262.3 74.6h.01M247.8 53.0h.01M235.0 91.6h.01M254.9 68.7h.01M250.8 69.9h.01M245.2 67.0h.01M246.6 57.3h.01M237.9 77.8h.01M254.5 63.6h.01M259.2 64.7h.01M254.9 64.2h.01M258.8 65.0h.01M271.3 64.6h.01M236.8 77.8h.01M259.5 65.8h.01M242.3 63.9h.01M255.7 91.3h.01M256.9 65.7h.01M264.2 81.5h.01M258.4 73.1h.01M247.7 70.7h.01M247.6 80.8h.01M223.2 89.6h.01M259.5 55.1h.01M270.0 62.1h.01M230.2 84.0h.01M252.8 66.3h.01M275.1 67.5h.01M236.0 70.4h.01M249.8 73.8h.01M261.4 73.1h.01M225.9 70.8h.01M272.3 59.0h.01M274.9 63.5h.01M222.2 90.1h.01M250.7 65.9h.01M257.0 61.0h.01M255.9 66.7h.01M244.0 57.7h.01M245.3 72.3h.01M245.6 75.7h.01M243.8 71.7h.01M245.5 75.2h.01M257.0 74.8h.01M228.2 78.2h.01M229.5 90.8h.01M232.8 68.3h.01M252.0 69.6h.01M247.8 68.8h.01M258.5 69.4h.01M271.1 59.0h.01M242.7 84.8h.01" stroke="#333" stroke-width="0.8" stroke-linecap="round" opacity="0.6" fill="none"/>
<path d="M232.0 104.8h.01M229.5 75.4h.01M226.2 98.7h.01M237.3 83.9h.01M233.3 82.9h.01M216.9 92.8h.01M229.7 75.6h.01M249.0 102.6h.01M245.4 102.2h.01M238.6 90.5h.01M234.4 101.6h.01M244.7 106.1h.01M255.3 83.1h.01M250.5 90.0h.01M248.6 92.5h.01M218.6 87.7h.01M254.8 92.8h.01M230.6 106.3h.01M236.6 99.5h.01M213.6 106.3h.01M237.6 103.7h.01M247.7 78.4h.01M223.3 79.6h.01M222.8 102.8h.01M217.1 101.4h.01" stroke="#777" stroke-width="0.8" stroke-linecap="round" opacity="0.6" fill="none"/>
<rect x="162.2" y="25.4" width="117.80000000000001" height="118.6" fill="none" stroke="#646464" stroke-width="1"/>
<line x1="207" y1="25.4" x2="207" y2="144" stroke="#646464" stroke-width="1"/>
<line x1="162.2" y1="114.3" x2="280" y2="114.3" stroke="#646464" stroke-width="1"/>
<path d="M161.6 29.4h1.8M161.6 37.4h1.8M161.6 41.5h1.8M161.6 47.0h1.8M161.6 49.5h1.8M161.6 52.0h1.8M161.6 57.5h1.8M161.6 60.7h1.8M161.6 63.9h1.8M161.6 71.9h1.8M161.6 74.4h1.8M161.6 78.5h1.8M161.6 84.0h1.8M161.6 92.0h1.8M161.6 97.5h1.8M161.6 105.5h1.8M161.6 113.5h1.8M161.6 121.5h1.8M161.6 129.5h1.8M161.6 137.5h1.8M165.2 144.6v-1.8M168.7 144.6v-1.8M171.2 144.6v-1.8M176.2 144.6v-1.8M178.7 144.6v-1.8M188.7 144.6v-1.8M198.7 144.6v-1.8M201.2 144.6v-1.8M208.2 144.6v-1.8M218.2 144.6v-1.8M228.2 144.6v-1.8M233.2 144.6v-1.8M238.2 144.6v-1.8M241.7 144.6v-1.8M244.2 144.6v-1.8M249.2 144.6v-1.8M259.2 144.6v-1.8M269.2 144.6v-1.8M276.2 144.6v-1.8" stroke="#333" stroke-width="0.9" fill="none"/>
<rect x="162.2" y="25.4" width="37.20000000000002" height="10.200000000000003" fill="rgba(255,255,255,0.88)" stroke="#b0b0b0" stroke-width="0.9"/>
<text x="163.6" y="33.16" font-size="7.4" text-anchor="start" font-weight="bold" fill="#2a2a2a" textLength="34.5" lengthAdjust="spacingAndGlyphs" >N-+: 0.08%</text>
<rect x="207" y="25.4" width="42.599999999999994" height="9.399999999999999" fill="rgba(255,255,255,0.88)" stroke="#b0b0b0" stroke-width="0.9"/>
<text x="208.4" y="32.76" font-size="7.4" text-anchor="start" font-weight="bold" fill="#2a2a2a" textLength="39.5" lengthAdjust="spacingAndGlyphs" >N++: 99.68%</text>
<rect x="162.2" y="134" width="35.30000000000001" height="10" fill="rgba(255,255,255,0.88)" stroke="#b0b0b0" stroke-width="0.9"/>
<text x="163.6" y="141.66" font-size="7.4" text-anchor="start" font-weight="bold" fill="#2a2a2a" textLength="33" lengthAdjust="spacingAndGlyphs" >N--: 0.00%</text>
<rect x="219.6" y="134" width="38.20000000000002" height="10" fill="rgba(255,255,255,0.88)" stroke="#b0b0b0" stroke-width="0.9"/>
<text x="221.0" y="141.66" font-size="7.4" text-anchor="start" font-weight="bold" fill="#2a2a2a" textLength="35.5" lengthAdjust="spacingAndGlyphs" >N+-: 0.24%</text>
<text transform="translate(25.8,84.5) rotate(-90)" x="0" y="3.60" font-size="10" text-anchor="middle" font-weight="bold" fill="#222" textLength="18" lengthAdjust="spacingAndGlyphs">CD25</text>
<line x1="34.6" y1="151.3" x2="276" y2="151.3" stroke="#2d9cc4" stroke-width="1.7"/>
<path d="M281 151.3 L273 148.20000000000002 L275.5 151.3 L273 154.4 Z" fill="#2d9cc4"/>
<text x="149.4" y="163.8" font-size="11" text-anchor="start" font-weight="bold" fill="#222" textLength="18" lengthAdjust="spacingAndGlyphs" >CD69</text>
<rect x="314" y="25.3" width="19.6" height="9.6" fill="#e8341c"/>
<text x="315" y="33.5" font-size="9.2" text-anchor="start" font-weight="normal" fill="#f7b030" textLength="16.8" lengthAdjust="spacingAndGlyphs" >Red</text>
<text x="335.8" y="33.5" font-size="9.2" text-anchor="start" font-weight="normal" fill="#1a1a1a" textLength="77.5" lengthAdjust="spacingAndGlyphs" >CD20 X CD3 BsAb(</text>
<rect x="314" y="38.75" width="28.2" height="9.65" fill="#2ea03e"/>
<text x="315" y="46.9" font-size="9.2" text-anchor="start" font-weight="normal" fill="#b6f5a6" textLength="25.8" lengthAdjust="spacingAndGlyphs" >Green</text>
<text x="344" y="46.9" font-size="9.2" text-anchor="start" font-weight="normal" fill="#1a1a1a" textLength="49" lengthAdjust="spacingAndGlyphs" >control BsAb</text>
<path d="M316.0 156.6 L322.8 156.5 L325.8 155.4 L329.0 154.6 L330.5 152.7 L332.8 152.3 L335.0 151.5 L336.6 150.8 L337.9 145.2 L339.3 139.5 L340.7 135.2 L342.2 132.3 L343.6 128.0 L345.0 124.4 L346.0 126.6 L347.2 117.3 L348.6 116.5 L350.0 118.7 L351.5 126.6 L352.9 128.7 L354.4 119.4 L355.5 128.0 L356.5 116.5 L357.7 105.0 L358.7 110.8 L360.1 97.9 L361.8 83.6 L362.7 95.0 L363.7 92.2 L364.7 102.2 L365.8 119.4 L367.0 120.8 L368.3 113.0 L369.4 122.3 L370.8 130.9 L372.3 132.3 L373.7 133.7 L375.1 128.0 L376.6 129.4 L377.7 123.7 L378.7 130.2 L380.1 120.8 L381.2 129.2 L382.8 121.5 L384.3 143.0 L386.2 146.2 L388.5 145.4 L390.0 148.5 L391.5 139.2 L393.0 141.5 L394.6 137.7 L395.8 134.2 L397.0 141.5 L398.5 143.0 L400.0 145.4 L401.5 149.2 L403.8 151.5 L406.2 150.8 L407.7 150.8 L409.2 141.5 L410.8 148.5 L413.0 140.8 L414.6 149.2 L417.0 150.8 L419.2 153.0 L421.5 151.5 L423.8 150.8 L426.2 147.0 L429.0 140.8 L430.8 145.4 L433.0 151.5 L435.4 152.3 L437.0 150.8 L439.2 153.8 L441.5 151.5 L443.8 153.0 L446.2 147.7 L447.7 149.2 L450.0 148.5 L451.6 147.5 L453.5 137.5 L455.3 130.2 L457.1 117.5 L458.9 97.5 L460.7 77.5 L461.6 66.5 L462.5 57.5 L463.5 67.5 L464.7 70.2 L466.2 77.5 L467.6 95.6 L468.9 112.0 L470.7 128.4 L472.5 143.0 L474.4 151.0 L476.2 155.6 L478.0 156.6Z" fill="#e9473b" stroke="#4a1008" stroke-width="0.95" stroke-linejoin="round"/>
<path d="M330.0 156.6 L331.5 155.5 L334.0 154.6 L337.0 155.5 L340.0 154.8 L343.0 153.0 L346.0 152.3 L349.0 152.6 L352.0 153.8 L355.0 153.5 L358.0 151.8 L361.0 150.6 L364.0 151.2 L367.0 150.8 L369.0 152.5 L372.0 153.5 L374.0 149.5 L376.0 147.3 L378.0 148.2 L379.5 151.5 L381.0 150.5 L383.0 150.2 L385.0 153.0 L388.0 154.0 L391.0 152.5 L393.0 150.0 L395.0 149.0 L397.0 151.5 L400.0 154.5 L405.0 155.0 L410.0 154.5 L415.0 155.0 L420.0 154.8 L425.0 155.2 L430.0 154.8 L436.0 155.5 L442.0 155.0 L448.0 155.5 L452.0 156.0 L452.0 156.6Z" fill="#2ba83b" stroke="#1d5a1d" stroke-width="0.95" stroke-linejoin="round"/>
<path d="M451.6 156.6 L453.5 146.5 L456.2 132.0 L458.5 113.8 L460.7 93.8 L462.5 79.3 L464.4 73.8 L465.8 77.5 L467.1 88.4 L468.4 106.5 L470.2 124.7 L472.0 141.0 L473.8 151.0 L475.6 156.6Z" fill="#2ba83b" stroke="#1d4a1d" stroke-width="0.95" stroke-linejoin="round"/>
<line x1="476" y1="156.6" x2="512" y2="156.6" stroke="#333" stroke-width="0.8"/>
<rect x="315" y="52.3" width="197" height="104.5" fill="none" stroke="#777" stroke-width="0.8"/>
<path d="M314.5 60.0h1.5M314.5 66.0h1.5M314.5 72.0h1.5M314.5 78.0h1.5M314.5 84.0h1.5M314.5 90.0h1.5M314.5 96.0h1.5M314.5 102.0h1.5M314.5 108.0h1.5M314.5 114.0h1.5M314.5 120.0h1.5M314.5 126.0h1.5M314.5 132.0h1.5M314.5 138.0h1.5M314.5 144.0h1.5M314.5 150.0h1.5" stroke="#555" stroke-width="0.7"/>
<text x="388.8" y="170.9" font-size="10" text-anchor="start" font-weight="bold" fill="#222" textLength="50" lengthAdjust="spacingAndGlyphs" >Cell tracer 405</text>
<text x="95" y="223.2" font-size="10.5" text-anchor="middle" font-weight="normal" fill="#1a1a1a" >Control BsAb</text>
<text x="221.4" y="223.2" font-size="10.5" text-anchor="middle" font-weight="normal" fill="#1a1a1a" >CD20 x CD3 BsAb</text>
<path d="M67.5 333.6h.01M66.0 331.8h.01M72.0 333.7h.01M65.8 338.1h.01M70.7 339.9h.01M70.5 337.7h.01M59.9 337.1h.01M68.9 337.4h.01M73.2 331.7h.01M67.0 336.7h.01M67.3 337.8h.01M71.6 336.2h.01M63.7 340.2h.01M71.1 334.3h.01M68.7 337.9h.01M71.9 340.0h.01M65.5 335.1h.01M64.7 337.8h.01M61.3 337.4h.01M71.0 329.2h.01M61.2 336.9h.01M77.8 332.7h.01M59.9 336.3h.01M71.6 338.2h.01M63.6 337.0h.01M58.7 333.5h.01M66.5 339.0h.01M69.6 331.3h.01M59.0 335.1h.01M72.4 334.6h.01M68.8 331.1h.01M67.2 337.1h.01M64.8 331.6h.01M68.2 335.6h.01M62.7 335.8h.01M67.7 330.6h.01M74.5 335.4h.01M66.0 341.0h.01M63.0 330.8h.01M68.0 339.4h.01M64.4 338.2h.01M67.4 336.8h.01M69.7 338.9h.01M69.5 339.9h.01M65.3 340.3h.01M70.3 339.7h.01M58.6 333.3h.01M66.9 328.2h.01M62.7 335.7h.01M72.9 335.4h.01M66.6 336.2h.01M64.1 338.2h.01M54.0 340.4h.01M72.8 336.7h.01M67.2 338.7h.01M60.5 340.1h.01M69.4 333.6h.01M67.4 340.4h.01M65.1 331.4h.01M68.5 340.9h.01M63.5 336.9h.01M70.6 333.5h.01M71.0 330.5h.01M65.9 332.8h.01M66.7 341.0h.01M66.4 335.3h.01M73.0 338.8h.01M72.8 335.1h.01M73.5 338.0h.01M67.3 340.5h.01M64.0 341.5h.01M79.3 335.5h.01M67.8 335.2h.01M72.5 336.6h.01M70.6 332.9h.01M75.4 334.0h.01M70.0 337.4h.01M67.8 330.7h.01M72.5 329.9h.01M73.9 335.0h.01M68.2 330.8h.01M68.1 329.9h.01M59.6 336.0h.01M66.3 333.3h.01M59.5 334.0h.01M61.7 330.7h.01M70.7 336.5h.01M65.5 340.0h.01M68.8 336.9h.01M66.3 331.8h.01M74.0 343.3h.01M74.4 334.9h.01M72.8 331.0h.01M65.1 336.6h.01M66.3 334.0h.01M72.6 333.2h.01M65.0 338.7h.01M69.9 334.7h.01M67.2 333.6h.01M68.4 338.2h.01M64.4 331.6h.01M67.9 339.9h.01M68.4 334.3h.01M64.9 337.7h.01M67.3 328.4h.01M69.1 332.0h.01M72.7 330.7h.01M58.9 335.5h.01M71.6 336.2h.01M66.7 330.4h.01M75.7 331.9h.01M64.8 333.0h.01M60.1 341.2h.01M68.3 338.2h.01M69.8 335.3h.01M69.3 332.5h.01M62.2 343.1h.01M69.9 342.7h.01M64.5 342.0h.01M72.5 333.1h.01M70.5 333.1h.01M68.2 341.7h.01M65.8 327.4h.01M59.4 339.0h.01M78.4 336.1h.01M70.5 340.4h.01M74.7 330.7h.01M61.2 334.0h.01M63.0 338.8h.01M69.4 337.0h.01M68.6 331.0h.01M68.5 334.2h.01M72.1 339.9h.01M65.7 335.7h.01M65.6 331.6h.01M68.5 338.2h.01M58.0 329.2h.01M66.7 337.9h.01M63.3 332.0h.01M65.3 332.6h.01M68.8 332.6h.01M71.5 327.8h.01M72.8 333.6h.01M70.0 340.5h.01M74.9 335.3h.01M67.3 342.9h.01M77.8 335.7h.01M65.0 337.5h.01M55.8 332.2h.01M70.3 332.0h.01M65.9 335.9h.01M65.5 334.8h.01M72.4 336.7h.01M71.9 336.0h.01M60.3 335.4h.01M66.5 340.9h.01M67.4 338.7h.01M66.9 339.3h.01M72.9 336.6h.01M70.8 332.5h.01M63.4 333.5h.01M66.7 335.4h.01M71.5 335.2h.01M68.6 334.7h.01M65.8 335.0h.01M70.3 335.1h.01M67.4 334.8h.01M61.7 338.2h.01M65.0 333.1h.01M71.7 332.0h.01M69.0 337.7h.01M69.0 333.0h.01M65.1 341.1h.01M64.0 334.7h.01M68.6 336.3h.01M63.3 338.8h.01M68.0 333.9h.01M66.4 337.1h.01M70.3 332.3h.01M61.1 336.5h.01M67.6 335.3h.01M68.0 334.3h.01M63.2 334.2h.01M72.1 329.1h.01M64.8 332.9h.01M70.9 336.9h.01M69.5 332.2h.01M68.1 331.8h.01M70.3 339.1h.01M74.7 330.2h.01M65.4 334.9h.01M72.1 334.6h.01M66.6 338.2h.01M68.2 336.5h.01M65.3 338.4h.01M72.2 330.8h.01M57.6 335.3h.01M70.1 339.4h.01M68.8 335.2h.01M69.4 337.1h.01M71.0 338.6h.01M57.8 330.3h.01M62.6 343.2h.01M68.9 336.8h.01M62.3 331.0h.01M65.0 333.8h.01M58.9 336.7h.01M65.5 343.4h.01M65.4 334.2h.01M71.6 339.1h.01M63.7 332.8h.01M68.7 339.2h.01M65.8 332.1h.01M73.9 336.7h.01M72.5 341.9h.01M65.5 339.5h.01M67.3 330.9h.01M71.9 338.1h.01M72.5 334.0h.01M76.2 337.8h.01M65.2 333.5h.01M70.5 334.0h.01M66.4 332.8h.01M69.1 337.8h.01M61.4 334.0h.01M64.7 343.4h.01M63.3 335.2h.01M63.7 333.2h.01M66.9 327.5h.01M68.5 334.7h.01M68.3 333.2h.01M67.6 334.4h.01M70.2 338.3h.01M71.2 339.8h.01M62.8 333.6h.01M69.3 334.8h.01M65.8 335.4h.01M67.6 339.2h.01M67.4 329.7h.01M60.8 336.0h.01M65.4 337.9h.01M60.3 339.4h.01M67.3 331.4h.01M65.3 338.6h.01M67.3 339.9h.01M77.8 334.2h.01M69.1 338.0h.01M69.0 334.2h.01M65.1 336.3h.01M69.6 337.4h.01M70.2 338.4h.01M73.0 327.8h.01M65.6 333.4h.01M66.8 338.1h.01M64.6 341.6h.01M65.5 341.5h.01M67.3 335.6h.01M64.3 337.9h.01M66.4 333.3h.01M67.5 337.8h.01M68.0 334.4h.01M69.3 331.0h.01M65.4 332.8h.01M65.3 330.7h.01M63.2 330.8h.01M72.8 333.8h.01M71.0 335.1h.01M71.4 338.5h.01M70.9 339.9h.01M68.4 329.9h.01M69.0 339.8h.01M73.5 332.9h.01M67.3 336.1h.01M69.9 330.5h.01M60.7 338.0h.01M70.2 334.1h.01M63.4 338.8h.01M72.8 335.0h.01M69.6 332.9h.01M62.1 333.9h.01M68.9 328.7h.01M63.4 331.2h.01M70.9 336.4h.01M71.5 331.6h.01M68.6 339.0h.01M64.5 337.4h.01M72.8 336.6h.01M67.1 336.5h.01M68.8 333.3h.01M79.1 337.9h.01M68.9 333.0h.01M73.0 329.4h.01M71.5 340.8h.01M74.9 337.9h.01M66.3 337.9h.01M71.5 333.2h.01M64.5 333.7h.01M72.4 329.7h.01M71.8 332.0h.01M69.6 331.6h.01M73.5 334.3h.01M71.9 338.3h.01M66.9 332.9h.01M67.9 330.0h.01M66.6 330.9h.01M62.8 337.4h.01M63.1 337.5h.01M65.3 336.9h.01M65.9 339.8h.01M70.1 339.8h.01M70.8 335.6h.01M68.2 336.5h.01M72.8 335.3h.01M62.7 333.3h.01M71.3 333.0h.01M66.0 334.9h.01M68.1 336.7h.01M72.5 330.6h.01M64.2 328.5h.01M65.9 326.7h.01M68.4 333.5h.01M65.5 338.5h.01M60.9 335.3h.01M65.1 332.8h.01M62.5 328.5h.01M70.1 336.0h.01M67.4 337.7h.01M69.4 328.7h.01M68.7 336.6h.01M65.6 336.8h.01M59.1 331.8h.01M63.0 337.5h.01M66.4 334.5h.01M70.1 334.8h.01M66.3 340.2h.01M67.2 335.6h.01M67.3 340.9h.01M67.5 336.6h.01M67.5 334.0h.01M69.1 337.4h.01M73.4 334.3h.01M61.8 338.1h.01M59.4 332.5h.01M69.4 338.1h.01M64.8 335.9h.01M65.3 333.0h.01M72.8 335.7h.01M73.7 338.6h.01M65.7 330.1h.01M70.4 338.9h.01M71.7 340.0h.01M75.5 334.0h.01M75.4 333.1h.01M65.2 331.3h.01M63.2 337.8h.01M64.0 336.2h.01M65.8 335.4h.01M71.4 336.2h.01M73.3 333.2h.01M73.2 331.7h.01M67.8 331.2h.01M67.1 335.1h.01M68.7 335.7h.01M67.0 336.1h.01M69.3 336.7h.01M71.0 333.7h.01M70.2 341.7h.01M64.7 334.2h.01M68.8 343.1h.01M68.8 336.3h.01M63.1 339.4h.01M67.0 334.2h.01M63.5 338.3h.01M65.8 330.3h.01M62.0 338.9h.01M66.0 336.0h.01M69.6 336.7h.01M67.6 335.0h.01M72.1 345.6h.01M70.0 331.5h.01M71.8 336.6h.01M69.3 338.0h.01M59.5 336.8h.01M72.9 338.2h.01M69.9 336.7h.01M60.5 336.3h.01M68.1 340.6h.01M72.1 332.1h.01M66.1 338.2h.01M66.9 330.2h.01M63.8 331.8h.01M64.2 333.1h.01M69.9 334.8h.01M72.8 335.9h.01M71.4 332.8h.01M71.2 332.7h.01M61.2 336.0h.01M72.0 332.8h.01M59.9 341.1h.01M63.9 339.2h.01M62.5 334.9h.01M73.9 336.2h.01M60.7 331.5h.01M71.1 330.8h.01M61.3 334.3h.01M68.3 336.1h.01M65.7 332.6h.01M66.3 337.0h.01M70.6 339.4h.01M60.3 341.9h.01M64.5 335.1h.01M67.7 336.2h.01M68.0 335.2h.01M67.7 334.2h.01M70.4 337.2h.01M67.9 337.4h.01M66.9 336.5h.01M69.8 335.8h.01M67.8 336.9h.01M64.0 332.8h.01M68.5 334.6h.01M66.2 334.4h.01M70.4 334.7h.01M70.5 343.8h.01M72.9 329.9h.01M69.2 335.3h.01M73.1 335.1h.01M70.0 334.3h.01M66.8 339.6h.01M58.3 334.3h.01M67.8 338.9h.01M65.9 332.6h.01M66.7 340.0h.01M69.8 338.3h.01M69.8 335.0h.01M70.6 339.9h.01M67.7 339.8h.01M66.8 333.7h.01M69.9 337.4h.01M65.9 331.0h.01M71.7 334.6h.01M65.4 336.1h.01M74.0 333.1h.01M66.0 334.0h.01M69.6 328.7h.01M69.8 336.6h.01M70.8 331.6h.01M66.7 327.1h.01M68.0 333.4h.01M72.0 339.8h.01M61.3 331.5h.01M66.8 332.6h.01M63.0 333.2h.01M78.6 330.7h.01M63.4 336.1h.01M64.6 332.5h.01M65.7 336.8h.01M71.3 338.9h.01M64.3 338.6h.01M67.4 333.4h.01M68.5 341.8h.01M67.3 338.9h.01M68.5 335.0h.01M66.6 337.5h.01M77.4 332.6h.01M71.6 332.3h.01M62.5 334.5h.01M65.8 329.5h.01M71.0 331.2h.01M74.4 336.6h.01M64.1 338.5h.01M66.7 327.6h.01M64.3 331.8h.01M68.7 335.3h.01M67.3 334.0h.01M64.8 335.2h.01M63.9 341.6h.01M65.3 343.1h.01M60.7 331.2h.01M63.5 332.7h.01M58.8 334.7h.01M70.0 335.2h.01M71.2 342.4h.01M70.4 334.5h.01M67.7 339.6h.01M68.9 337.8h.01M72.2 340.7h.01M72.3 338.4h.01M69.4 333.2h.01M67.4 335.9h.01M71.8 337.4h.01M65.6 334.3h.01M72.2 332.3h.01M72.8 334.5h.01M62.2 333.8h.01M63.8 332.6h.01M65.2 334.2h.01M65.9 329.9h.01M64.6 334.1h.01M66.4 338.1h.01M73.2 335.6h.01M70.9 331.6h.01M73.3 333.8h.01M73.7 335.4h.01M71.9 335.2h.01M76.0 333.4h.01M66.2 337.4h.01M70.2 335.9h.01M70.7 342.0h.01M64.6 342.3h.01M78.7 328.7h.01M66.2 341.5h.01M66.6 333.9h.01M68.1 330.4h.01M71.8 337.1h.01M67.4 339.7h.01M68.8 337.7h.01M74.1 334.6h.01M67.6 338.6h.01M62.8 332.1h.01M59.7 342.3h.01M70.2 337.3h.01M68.3 331.8h.01M73.3 339.7h.01M76.1 337.4h.01M65.8 341.4h.01M64.7 339.2h.01M67.3 342.5h.01M66.9 337.1h.01M74.1 331.6h.01M66.9 339.3h.01M66.0 337.1h.01M68.7 329.4h.01M68.3 333.2h.01M64.6 340.3h.01M74.3 337.8h.01M67.9 335.7h.01M64.2 343.0h.01M66.1 338.3h.01M71.5 337.1h.01M68.6 335.7h.01M62.5 331.5h.01M61.2 342.1h.01M63.3 336.4h.01M59.6 338.0h.01M63.7 336.1h.01M67.5 339.8h.01M63.9 334.1h.01M68.7 334.8h.01M66.4 336.4h.01M63.7 341.7h.01M71.5 334.2h.01M65.6 334.1h.01M68.9 335.5h.01M63.2 333.5h.01M70.0 329.6h.01M68.8 336.7h.01M67.4 332.9h.01M68.8 330.9h.01M68.7 333.3h.01M63.8 342.4h.01M72.2 337.5h.01M60.1 341.0h.01M71.2 339.8h.01M71.0 338.3h.01M66.7 337.6h.01M67.0 331.8h.01M65.3 328.6h.01M76.0 339.6h.01M72.2 333.7h.01M71.2 335.4h.01M70.3 336.4h.01M68.1 340.1h.01M77.1 338.6h.01M65.0 336.7h.01M73.6 335.0h.01M69.4 328.4h.01M63.6 333.2h.01M72.2 335.1h.01M70.5 334.8h.01M69.9 330.5h.01M65.2 332.3h.01M62.9 340.2h.01M66.4 331.5h.01M72.4 334.6h.01M68.3 337.0h.01M63.9 336.0h.01M71.4 334.7h.01M69.2 333.7h.01M64.1 335.3h.01M69.9 335.4h.01M59.9 334.0h.01M70.7 335.4h.01M69.4 330.4h.01M65.2 331.9h.01M69.0 339.6h.01M76.2 335.9h.01M69.2 335.3h.01M66.3 335.5h.01M65.7 341.4h.01M63.1 339.2h.01M69.2 344.5h.01M73.5 336.7h.01M69.8 338.8h.01M68.0 335.8h.01M74.0 333.2h.01M68.0 335.4h.01M64.7 331.2h.01M68.9 336.7h.01M65.8 332.4h.01M63.5 342.8h.01M69.4 333.3h.01M67.9 334.8h.01M68.0 335.9h.01M66.3 333.7h.01M64.5 336.2h.01M70.2 341.1h.01M69.4 340.4h.01M59.5 332.9h.01M69.1 336.9h.01M67.1 332.2h.01M68.2 332.4h.01M76.5 338.2h.01M66.6 325.6h.01M70.6 334.9h.01M71.0 336.0h.01M68.5 341.8h.01M66.5 333.4h.01M65.8 332.7h.01M75.0 331.8h.01M72.6 337.6h.01M73.4 340.8h.01M74.3 332.9h.01M67.8 333.2h.01M60.7 345.7h.01M64.1 341.4h.01M60.0 337.8h.01M75.3 332.0h.01M71.0 333.1h.01M73.6 339.0h.01M70.5 332.3h.01M64.5 340.0h.01M70.0 334.6h.01M69.6 329.1h.01M64.6 329.9h.01M60.6 333.7h.01M60.1 333.2h.01M69.2 334.8h.01M58.3 330.6h.01M67.5 336.2h.01M64.3 339.3h.01M69.2 343.2h.01M71.5 334.9h.01M68.7 332.8h.01M70.0 337.9h.01M71.4 340.4h.01M69.6 333.2h.01M71.9 329.0h.01M65.1 338.3h.01M70.0 333.1h.01M62.4 328.5h.01M64.9 334.9h.01M62.6 335.2h.01M65.3 336.4h.01M75.9 334.8h.01M74.3 334.3h.01M67.8 338.6h.01M73.4 335.9h.01M69.1 337.2h.01M63.9 335.5h.01M67.1 338.2h.01M62.3 339.1h.01M72.6 333.6h.01M67.2 337.8h.01M67.3 333.2h.01M71.7 338.9h.01M66.6 335.8h.01M68.4 335.4h.01M68.5 342.3h.01M68.7 332.5h.01M71.7 333.2h.01M61.5 333.7h.01M70.3 336.6h.01M69.4 332.9h.01M67.1 331.7h.01M65.1 344.0h.01M66.7 334.6h.01M67.8 338.1h.01M73.2 332.7h.01M69.7 338.9h.01M68.4 335.7h.01M63.7 335.6h.01M64.6 341.8h.01M68.0 328.4h.01M62.2 329.3h.01M69.7 332.0h.01M67.1 333.2h.01M68.2 335.6h.01M65.2 337.1h.01M64.4 340.4h.01" stroke="#000" stroke-width="1.0" stroke-linecap="round" opacity="0.9" fill="none"/>
<path d="M76.4 333.2h.01M64.5 332.3h.01M54.3 331.6h.01M72.1 340.2h.01M70.0 328.1h.01M70.7 328.5h.01M58.6 338.5h.01M69.5 337.5h.01M62.6 326.0h.01M76.4 336.8h.01M64.9 326.2h.01M63.0 334.8h.01M52.4 328.5h.01M59.9 320.6h.01M61.5 325.6h.01M65.8 334.1h.01M63.8 325.0h.01M72.4 332.3h.01M73.8 324.8h.01M63.9 332.1h.01M65.9 322.0h.01M71.4 339.7h.01M67.1 326.4h.01M74.4 327.7h.01M71.3 330.8h.01M60.3 324.7h.01M68.0 334.1h.01M78.5 338.7h.01M67.9 330.6h.01M57.2 334.3h.01M57.3 327.6h.01M63.6 326.8h.01M77.0 331.8h.01M81.0 330.3h.01M71.6 329.7h.01M66.8 320.6h.01M73.3 333.4h.01M68.2 342.1h.01M65.5 339.9h.01M57.6 327.3h.01M68.8 329.2h.01M63.6 323.3h.01M78.3 341.6h.01M60.4 338.9h.01M65.5 334.5h.01M67.6 328.2h.01M62.6 312.6h.01M66.3 333.5h.01M64.2 333.7h.01M69.3 330.9h.01M67.0 332.7h.01M75.5 330.9h.01M66.9 331.5h.01M61.0 333.5h.01M72.3 320.4h.01M66.0 331.6h.01M65.7 335.0h.01M66.6 335.9h.01M62.3 324.5h.01M76.6 323.7h.01M58.1 332.0h.01M47.2 330.2h.01M59.5 334.6h.01M74.1 343.6h.01M68.8 320.9h.01M67.4 324.3h.01M68.2 326.8h.01M76.5 331.0h.01M66.0 321.9h.01M57.5 328.9h.01M74.7 333.1h.01M66.9 329.9h.01M65.6 339.4h.01M57.5 337.4h.01M71.4 339.0h.01M53.8 331.0h.01M59.0 323.0h.01M62.5 346.1h.01M59.9 338.5h.01M59.1 342.8h.01M64.9 321.9h.01M80.1 324.6h.01M62.3 335.1h.01M63.7 335.7h.01M65.3 334.2h.01M66.6 324.3h.01M66.6 330.3h.01M81.4 314.5h.01M80.4 328.3h.01M54.8 316.7h.01M70.7 337.1h.01M55.0 325.8h.01M62.0 328.6h.01M71.7 324.9h.01M65.4 330.2h.01M67.6 330.9h.01M75.8 330.2h.01M56.1 333.0h.01M49.7 333.6h.01M66.5 330.0h.01M60.4 333.7h.01M67.1 325.0h.01M56.1 344.6h.01M60.1 328.7h.01M66.1 331.9h.01M67.3 335.5h.01M65.5 313.3h.01M64.1 332.7h.01M86.2 333.6h.01M76.7 321.4h.01M64.3 322.9h.01M63.1 336.8h.01M61.3 331.4h.01M51.0 338.8h.01M57.6 329.9h.01M57.7 331.8h.01M73.9 324.7h.01M64.6 315.1h.01M66.6 320.1h.01M69.8 324.8h.01M61.8 327.5h.01M75.0 321.7h.01M56.0 332.6h.01M71.9 329.4h.01M53.3 324.4h.01M63.1 330.8h.01M66.9 333.8h.01M64.3 332.9h.01M65.7 326.7h.01M68.2 331.2h.01M78.7 334.0h.01M72.6 332.6h.01M73.2 320.0h.01M65.8 332.2h.01M72.0 322.8h.01M75.3 325.6h.01M66.4 321.3h.01M61.7 322.3h.01M69.9 334.6h.01M63.5 314.9h.01M68.4 334.8h.01M62.5 339.3h.01M69.0 328.2h.01M73.7 328.6h.01M74.0 333.7h.01M61.7 336.6h.01M67.4 330.0h.01M63.6 339.5h.01M61.1 337.5h.01M62.9 323.9h.01M73.5 335.8h.01M72.0 333.3h.01M66.1 325.7h.01M66.6 335.5h.01M75.1 332.2h.01M70.7 341.3h.01M69.2 332.5h.01M59.2 324.1h.01M65.1 334.9h.01M71.5 323.0h.01M62.3 331.6h.01M61.1 339.4h.01M71.4 338.1h.01M70.7 325.6h.01M59.0 329.3h.01M72.4 337.1h.01M78.9 338.4h.01M80.1 324.1h.01M69.7 327.2h.01M56.7 324.0h.01M56.1 335.3h.01M64.2 329.0h.01M80.4 335.5h.01M75.2 324.6h.01M53.7 329.1h.01M76.0 324.9h.01M65.1 329.0h.01M65.9 337.3h.01M60.4 332.5h.01M73.0 309.8h.01M56.1 338.9h.01M61.2 342.3h.01M65.5 337.5h.01M69.0 339.1h.01M60.7 344.7h.01M76.1 341.9h.01M67.0 335.8h.01M62.0 321.2h.01M71.8 338.5h.01M59.5 338.1h.01M58.8 334.8h.01M68.5 332.8h.01M68.3 327.9h.01M69.1 325.9h.01M63.1 324.4h.01M60.7 331.4h.01M65.0 334.9h.01M66.3 329.8h.01M74.5 322.1h.01M66.0 335.7h.01M69.3 324.3h.01M67.8 339.6h.01M78.6 324.8h.01M57.5 328.7h.01M65.3 324.7h.01M74.2 333.0h.01M70.4 334.7h.01M62.8 339.1h.01M70.9 332.4h.01M79.7 332.0h.01M76.9 330.1h.01M69.6 331.4h.01M66.4 323.1h.01M64.3 324.7h.01M71.2 328.2h.01M58.4 326.1h.01M65.3 336.7h.01M81.3 326.8h.01M72.8 322.0h.01M60.4 328.4h.01M79.0 341.0h.01M66.9 325.7h.01M72.9 324.8h.01M71.2 334.4h.01M67.0 342.9h.01M70.5 322.2h.01M53.3 336.3h.01M62.7 333.2h.01M57.2 318.6h.01M76.1 322.7h.01M58.6 334.1h.01M60.4 324.4h.01M75.2 325.9h.01M71.5 323.1h.01M68.6 332.1h.01M66.3 340.4h.01M77.1 321.3h.01M61.4 327.9h.01M61.6 328.2h.01M57.9 329.9h.01M79.9 325.0h.01M78.3 335.0h.01M58.4 325.3h.01M52.1 335.7h.01M66.7 327.1h.01M63.0 335.4h.01M66.8 335.7h.01M62.8 325.1h.01M66.1 337.2h.01M68.2 327.7h.01M72.5 324.1h.01M61.9 331.6h.01M79.1 330.8h.01M59.7 325.1h.01M60.7 326.5h.01M70.4 331.8h.01M64.3 333.8h.01M66.5 322.1h.01M73.8 318.7h.01M57.1 325.8h.01M66.6 334.2h.01M64.6 316.8h.01M68.9 344.2h.01M57.8 335.4h.01M77.2 320.9h.01M71.2 318.9h.01M61.6 318.5h.01M68.2 326.0h.01M64.0 329.9h.01M70.9 346.8h.01M69.1 337.4h.01M67.4 335.9h.01M63.4 332.6h.01M65.7 326.1h.01M70.6 337.2h.01M59.0 332.2h.01M82.5 327.7h.01M71.4 323.7h.01M73.2 338.8h.01M66.3 339.8h.01M72.3 339.5h.01M67.0 322.1h.01M69.7 334.1h.01M55.7 334.9h.01M51.5 333.7h.01M60.9 329.1h.01M66.7 333.5h.01M71.8 317.6h.01M73.8 318.4h.01M70.3 324.0h.01M58.6 336.8h.01M70.2 329.1h.01M76.6 327.8h.01M67.1 332.3h.01M74.6 342.7h.01M62.1 343.0h.01M64.7 326.6h.01M63.3 335.5h.01M70.7 335.2h.01M63.4 323.1h.01" stroke="#222" stroke-width="0.9" stroke-linecap="round" opacity="0.75" fill="none"/>
<path d="M58.5 315.5h.01M60.0 297.8h.01M66.6 313.4h.01M60.4 287.6h.01M67.2 292.8h.01M70.6 293.5h.01M68.3 289.1h.01M68.9 307.9h.01M65.2 286.2h.01M60.1 297.7h.01M65.3 279.7h.01M61.2 299.2h.01M60.3 315.5h.01M53.0 279.5h.01M69.4 299.5h.01M59.5 303.7h.01M62.3 319.9h.01M65.6 314.0h.01M61.1 303.1h.01M71.1 275.1h.01M65.6 318.0h.01M67.0 320.8h.01M65.4 307.0h.01M61.9 320.7h.01M88.1 296.2h.01M66.8 316.2h.01M62.8 308.5h.01M69.7 296.9h.01M60.2 314.0h.01M58.1 321.9h.01M67.4 320.2h.01M56.9 302.7h.01M67.2 298.5h.01M76.9 317.7h.01M69.7 319.2h.01M59.2 307.1h.01M64.3 287.4h.01M70.0 284.7h.01M66.6 321.5h.01M60.2 281.3h.01M73.0 276.5h.01M53.8 291.7h.01M59.7 301.8h.01M67.7 288.3h.01M64.0 269.8h.01M59.2 271.2h.01M59.5 314.5h.01M62.5 307.6h.01M58.5 321.2h.01M65.0 316.6h.01M72.2 288.1h.01M70.4 320.4h.01M65.7 311.9h.01M52.7 320.5h.01M51.5 297.8h.01M64.2 276.1h.01M68.7 321.0h.01M64.9 315.3h.01M58.1 319.5h.01M67.8 288.4h.01M64.9 313.3h.01M69.0 293.7h.01M51.8 317.4h.01M75.5 306.4h.01M66.0 302.9h.01M58.7 308.3h.01M62.7 304.4h.01M60.9 315.7h.01M65.0 317.3h.01M70.1 278.7h.01M74.0 291.8h.01M68.8 288.8h.01M69.5 314.9h.01M51.8 294.2h.01M62.4 310.7h.01M75.4 309.0h.01M64.6 294.4h.01M62.6 284.3h.01M67.6 294.0h.01M70.3 319.3h.01M59.7 308.6h.01M78.9 313.0h.01M53.5 265.0h.01M57.6 319.0h.01M64.4 314.4h.01M65.8 303.1h.01M68.7 289.7h.01M69.6 310.1h.01M60.3 290.1h.01M50.9 317.3h.01M55.7 297.8h.01M64.9 301.5h.01M58.4 305.4h.01M65.0 313.9h.01M70.2 313.8h.01M61.1 301.0h.01M59.7 317.3h.01M66.4 305.2h.01M50.4 322.3h.01M77.4 303.7h.01M63.5 301.1h.01M65.7 271.3h.01M65.8 318.7h.01M63.0 316.8h.01M57.0 317.2h.01M71.5 321.3h.01M64.5 280.0h.01M61.7 293.4h.01M58.1 282.7h.01M65.4 316.4h.01M64.3 308.5h.01M65.1 295.7h.01M73.2 309.0h.01M63.5 309.8h.01M67.4 320.1h.01M56.2 307.4h.01M74.8 321.1h.01M57.2 316.9h.01M63.2 318.5h.01M63.1 317.9h.01M71.7 276.9h.01M62.0 286.7h.01M63.2 307.2h.01M57.9 308.6h.01M71.9 307.0h.01M65.2 322.0h.01M62.4 321.6h.01M63.8 313.5h.01M74.8 307.8h.01M59.1 315.6h.01M57.7 283.7h.01M78.5 315.4h.01M64.5 286.9h.01M56.1 292.1h.01M55.7 292.2h.01M62.8 309.5h.01M57.7 294.7h.01M76.3 309.5h.01M56.3 293.2h.01M63.5 288.5h.01M64.1 309.3h.01M61.0 293.5h.01M65.8 302.2h.01M65.6 322.2h.01M67.0 322.5h.01M71.4 296.7h.01M62.1 317.9h.01M56.8 312.8h.01M73.6 300.3h.01M66.1 311.7h.01M67.8 297.6h.01M71.5 295.2h.01M66.8 291.9h.01M72.4 299.2h.01M61.5 305.4h.01M72.8 303.6h.01M61.4 273.9h.01M67.2 319.6h.01M66.6 320.1h.01M65.9 322.7h.01M69.9 318.7h.01M65.1 286.2h.01M63.6 300.8h.01M63.2 307.1h.01M72.4 316.6h.01M70.1 293.8h.01M66.1 306.3h.01M64.4 310.8h.01M54.9 305.5h.01M72.5 301.9h.01M69.4 318.5h.01M63.9 299.2h.01M65.2 317.2h.01M59.5 313.3h.01M64.4 308.0h.01M66.3 289.8h.01M72.8 277.7h.01M63.6 316.8h.01M62.6 283.1h.01M61.1 302.5h.01M68.8 273.4h.01M61.3 299.6h.01M62.9 321.9h.01M53.0 308.8h.01M57.7 300.0h.01M61.5 299.0h.01M61.8 296.4h.01M64.6 308.2h.01M62.6 300.1h.01M62.2 313.1h.01M67.1 307.6h.01M58.3 298.6h.01M63.8 276.2h.01M63.9 309.9h.01M63.3 315.1h.01M69.9 316.8h.01M54.5 297.8h.01M57.0 274.4h.01M53.8 311.2h.01M60.7 308.8h.01M57.5 299.0h.01M71.7 298.5h.01M58.8 320.2h.01M72.3 302.6h.01M68.6 318.4h.01M66.8 322.5h.01M71.3 310.0h.01M63.1 310.6h.01M68.1 312.8h.01M61.7 296.9h.01M66.9 311.6h.01M65.9 314.3h.01M69.4 321.7h.01M69.4 316.7h.01M61.3 321.5h.01M61.9 305.9h.01M68.3 320.6h.01M62.9 319.0h.01M69.8 309.8h.01M61.6 310.7h.01M58.7 295.2h.01M70.2 317.4h.01M51.7 304.1h.01M68.0 281.1h.01M69.9 300.8h.01M60.8 301.8h.01M64.5 295.5h.01M75.1 293.1h.01M75.0 278.5h.01M67.0 294.8h.01M68.5 321.3h.01M64.2 312.2h.01M68.2 298.9h.01M73.6 306.4h.01M59.3 313.9h.01M60.5 312.1h.01M66.8 309.0h.01M64.3 310.0h.01M64.3 298.7h.01M70.8 284.8h.01M74.3 301.6h.01M62.6 308.7h.01M75.9 298.1h.01M75.5 302.0h.01M66.2 288.2h.01M56.2 314.9h.01M59.6 306.3h.01M58.4 302.1h.01M63.3 301.5h.01M77.0 272.1h.01M56.9 306.9h.01M70.9 289.1h.01M65.3 316.9h.01M52.4 319.1h.01M57.8 294.4h.01M67.0 315.0h.01M68.1 308.8h.01M60.0 288.8h.01M74.6 280.2h.01M64.9 268.5h.01M57.5 313.8h.01M68.2 300.8h.01M55.9 262.1h.01M65.0 306.5h.01M70.1 269.1h.01M71.0 268.8h.01M73.0 294.3h.01M77.0 316.6h.01M67.4 316.4h.01M74.4 296.7h.01M66.4 306.0h.01M57.9 302.2h.01M63.0 293.8h.01M60.4 313.7h.01M70.6 309.6h.01M66.5 311.8h.01M61.0 297.3h.01M72.0 316.1h.01M64.8 312.9h.01M62.0 298.4h.01M65.4 277.9h.01M62.8 308.7h.01M66.6 266.7h.01M73.8 303.8h.01M54.4 304.7h.01M64.0 280.8h.01M68.6 313.7h.01M65.7 297.4h.01M66.8 303.3h.01M66.2 305.6h.01M59.7 297.8h.01M65.2 320.5h.01M51.7 312.0h.01M57.5 274.9h.01M64.3 298.1h.01M72.0 298.8h.01M56.5 322.3h.01M68.0 293.0h.01M52.5 307.3h.01M62.6 299.4h.01M65.1 267.2h.01M53.0 293.0h.01M75.7 304.2h.01M62.7 301.9h.01M60.4 314.7h.01M58.1 286.6h.01M61.9 314.4h.01M61.5 268.5h.01M69.4 288.6h.01M62.7 319.1h.01M62.0 304.2h.01M67.0 319.9h.01M61.9 319.9h.01M58.2 322.1h.01M68.9 318.2h.01M63.9 294.4h.01M67.0 319.6h.01" stroke="#333" stroke-width="0.8" stroke-linecap="round" opacity="0.6" fill="none"/>
<path d="M86.6 324.8h.01M97.4 330.4h.01M96.0 324.6h.01M86.2 336.0h.01M80.5 330.4h.01M87.9 341.5h.01M88.6 341.6h.01M105.8 327.5h.01M84.0 326.4h.01M93.5 324.9h.01M84.3 330.5h.01M81.9 324.6h.01M81.7 331.0h.01M96.0 329.8h.01M94.6 333.6h.01M99.4 323.9h.01M86.5 338.5h.01M84.3 339.3h.01M101.8 337.4h.01M92.4 333.6h.01M91.3 324.5h.01M91.3 327.9h.01M95.7 330.6h.01M84.9 322.9h.01M94.0 327.4h.01M80.1 334.4h.01M104.1 336.7h.01M81.2 340.0h.01M82.1 330.4h.01M102.8 327.5h.01M92.4 333.6h.01M97.7 331.8h.01M102.3 322.1h.01M96.5 331.1h.01M97.5 325.5h.01M98.5 337.9h.01M83.0 339.1h.01M101.4 338.4h.01M81.9 327.3h.01M87.5 339.6h.01M140.1 261.3h.01M120.8 309.1h.01M111.7 298.2h.01M143.5 296.6h.01" stroke="#666" stroke-width="0.8" stroke-linecap="round" opacity="0.55" fill="none"/>
<rect x="36" y="229.6" width="118.19999999999999" height="118.4" fill="none" stroke="#646464" stroke-width="1"/>
<line x1="80.5" y1="229.6" x2="80.5" y2="348" stroke="#646464" stroke-width="1"/>
<line x1="36" y1="314.3" x2="154.2" y2="314.3" stroke="#646464" stroke-width="1"/>
<path d="M35.4 233.6h1.8M35.4 239.1h1.8M35.4 241.6h1.8M35.4 247.1h1.8M35.4 250.3h1.8M35.4 252.8h1.8M35.4 255.3h1.8M35.4 263.3h1.8M35.4 266.5h1.8M35.4 270.6h1.8M35.4 273.1h1.8M35.4 281.1h1.8M35.4 283.6h1.8M35.4 291.6h1.8M35.4 297.1h1.8M35.4 299.6h1.8M35.4 302.1h1.8M35.4 305.3h1.8M35.4 309.4h1.8M35.4 314.9h1.8M35.4 320.4h1.8M35.4 323.6h1.8M35.4 326.8h1.8M35.4 334.8h1.8M35.4 340.3h1.8M35.4 345.8h1.8M39.0 348.6v-1.8M49.0 348.6v-1.8M51.5 348.6v-1.8M56.5 348.6v-1.8M59.0 348.6v-1.8M61.5 348.6v-1.8M64.0 348.6v-1.8M66.5 348.6v-1.8M69.0 348.6v-1.8M74.0 348.6v-1.8M79.0 348.6v-1.8M82.5 348.6v-1.8M85.0 348.6v-1.8M87.5 348.6v-1.8M91.0 348.6v-1.8M96.0 348.6v-1.8M101.0 348.6v-1.8M104.5 348.6v-1.8M109.5 348.6v-1.8M114.5 348.6v-1.8M118.0 348.6v-1.8M121.5 348.6v-1.8M126.5 348.6v-1.8M129.0 348.6v-1.8M134.0 348.6v-1.8M139.0 348.6v-1.8M146.0 348.6v-1.8" stroke="#333" stroke-width="0.9" fill="none"/>
<rect x="36" y="229.6" width="21" height="10.0" fill="rgba(255,255,255,0.88)" stroke="#b0b0b0" stroke-width="0.9"/>
<text x="37.4" y="237.77" font-size="8.8" text-anchor="start" font-weight="normal" fill="#1a1a1a" textLength="19" lengthAdjust="spacingAndGlyphs" >5.50%</text>
<rect x="118.7" y="229.8" width="20.700000000000003" height="10.099999999999994" fill="rgba(255,255,255,0.88)" stroke="#b0b0b0" stroke-width="0.9"/>
<text x="120.1" y="238.02" font-size="8.8" text-anchor="start" font-weight="normal" fill="#1a1a1a" textLength="19" lengthAdjust="spacingAndGlyphs" >0.03%</text>
<rect x="36.3" y="333" width="25.400000000000006" height="10.300000000000011" fill="rgba(225,225,225,0.75)" stroke="#b0b0b0" stroke-width="0.9"/>
<text x="37.7" y="341.32" font-size="8.8" text-anchor="start" font-weight="normal" fill="#222" textLength="24" lengthAdjust="spacingAndGlyphs" >93.58%</text>
<rect x="118.9" y="337" width="20.099999999999994" height="9.5" fill="rgba(255,255,255,0.88)" stroke="#b0b0b0" stroke-width="0.9"/>
<text x="120.3" y="344.92" font-size="8.8" text-anchor="start" font-weight="normal" fill="#1a1a1a" textLength="18.5" lengthAdjust="spacingAndGlyphs" >0.89%</text>
<path d="M199.7 255.0h.01M199.6 270.9h.01M186.7 272.5h.01M187.9 263.4h.01M203.8 257.6h.01M203.4 255.5h.01M193.7 271.3h.01M201.4 263.3h.01M206.5 275.8h.01M187.7 267.6h.01M192.8 245.6h.01M188.7 261.0h.01M193.5 268.5h.01M195.2 266.9h.01M198.8 270.0h.01M190.2 259.0h.01M192.4 262.5h.01M205.4 262.1h.01M201.5 261.6h.01M184.9 267.4h.01M195.8 264.1h.01M196.3 267.3h.01M200.0 272.8h.01M204.1 268.6h.01M189.7 258.4h.01M189.6 267.0h.01M202.6 271.9h.01M200.5 268.0h.01M196.1 268.0h.01M198.7 260.4h.01M187.1 273.6h.01M196.9 269.6h.01M189.0 262.7h.01M185.8 264.6h.01M196.6 274.9h.01M190.9 272.1h.01M197.1 261.0h.01M200.3 266.0h.01M190.3 253.0h.01M195.4 264.8h.01M194.0 283.5h.01M190.2 270.7h.01M193.3 256.5h.01M194.6 254.8h.01M190.5 261.8h.01M195.9 258.0h.01M190.6 270.7h.01M188.3 267.9h.01M196.2 254.6h.01M200.0 281.5h.01M201.7 271.6h.01M201.1 264.7h.01M188.3 263.4h.01M181.7 270.0h.01M199.9 267.1h.01M197.6 266.1h.01M195.1 263.4h.01M198.8 263.9h.01M200.6 270.5h.01M199.9 259.2h.01M177.3 268.8h.01M189.1 264.9h.01M191.5 272.1h.01M196.9 260.4h.01M188.9 260.8h.01M192.5 250.7h.01M179.5 266.7h.01M194.0 269.4h.01M192.6 264.7h.01M186.6 263.4h.01M194.7 269.9h.01M185.4 273.6h.01M195.3 264.6h.01M175.9 266.7h.01M192.4 257.8h.01M191.3 263.9h.01M189.8 270.7h.01M198.8 271.1h.01M201.4 269.0h.01M198.0 260.6h.01M196.4 252.1h.01M191.3 267.1h.01M190.1 273.6h.01M197.1 262.6h.01M195.2 265.6h.01M201.2 261.4h.01M203.8 268.2h.01M206.7 259.4h.01M196.6 261.8h.01M186.8 265.2h.01M198.4 279.4h.01M192.0 268.5h.01M192.8 268.5h.01M197.0 281.9h.01M192.4 268.0h.01M197.4 275.1h.01M200.5 275.8h.01M189.5 266.5h.01M199.6 272.3h.01M192.1 260.9h.01M194.3 267.8h.01M194.7 272.7h.01M196.2 266.5h.01M195.5 258.9h.01M198.6 266.0h.01M192.6 262.1h.01M191.2 262.0h.01M183.9 289.9h.01M203.0 268.9h.01M187.4 273.8h.01M192.0 262.5h.01M189.8 280.4h.01M197.2 265.9h.01M191.5 259.5h.01M188.9 276.2h.01M197.6 274.4h.01M196.6 267.9h.01M196.7 266.8h.01M203.8 268.0h.01M205.9 264.1h.01M203.3 272.7h.01M191.4 268.1h.01M195.3 263.0h.01M186.0 271.6h.01M190.0 255.3h.01M200.5 258.7h.01M200.9 267.8h.01M187.1 270.5h.01M191.4 259.8h.01M197.0 263.2h.01M194.8 274.5h.01M197.6 265.4h.01M191.5 255.0h.01M184.5 274.0h.01M190.6 258.6h.01M196.3 272.5h.01M177.9 264.7h.01M186.7 259.3h.01M201.6 253.9h.01M194.1 269.9h.01M196.8 261.2h.01M194.2 267.5h.01M187.2 263.1h.01M194.1 280.9h.01M196.1 270.4h.01M194.9 271.4h.01M206.7 260.8h.01M196.3 270.3h.01M201.6 269.4h.01M188.6 256.9h.01M190.5 265.3h.01M186.5 279.1h.01M186.6 273.1h.01M194.1 253.6h.01M189.0 262.6h.01M197.7 261.4h.01M201.9 262.3h.01M192.2 268.5h.01M188.9 264.7h.01M193.7 268.0h.01M202.4 276.6h.01M203.4 266.7h.01M192.9 266.9h.01M198.6 260.6h.01M200.1 261.9h.01M190.7 264.0h.01M194.2 258.6h.01M200.1 267.6h.01M198.0 266.4h.01M186.6 262.3h.01M194.1 262.1h.01M198.6 265.7h.01M199.6 260.2h.01M193.5 262.2h.01M189.2 267.4h.01M194.3 267.5h.01M186.5 272.7h.01M201.5 268.9h.01M194.1 262.7h.01M200.3 258.2h.01M192.7 251.9h.01M192.1 262.3h.01M189.6 261.1h.01M186.1 272.8h.01M203.3 268.8h.01M199.2 267.5h.01M199.0 269.5h.01M192.0 274.9h.01M184.5 267.5h.01M194.3 268.6h.01M193.0 274.0h.01M181.2 259.0h.01M199.2 277.2h.01M203.6 257.4h.01M201.2 270.7h.01M205.3 274.2h.01M196.0 271.8h.01M191.8 267.3h.01M186.1 264.4h.01M195.0 268.2h.01M198.4 268.5h.01M197.4 264.0h.01M186.9 264.1h.01M181.1 269.8h.01M189.5 269.0h.01M196.4 266.0h.01M196.4 256.7h.01M190.5 258.8h.01M189.6 266.7h.01M190.5 260.6h.01M190.7 255.5h.01M190.1 258.7h.01M198.6 270.2h.01M188.9 266.4h.01M188.6 268.8h.01M188.4 257.8h.01M195.0 256.1h.01M204.2 272.1h.01M195.4 261.2h.01M205.4 262.2h.01M194.3 268.1h.01M202.5 273.4h.01M202.5 272.0h.01M187.3 266.8h.01M188.9 273.7h.01M201.9 267.1h.01M187.0 266.3h.01M187.6 261.8h.01M187.4 273.4h.01M188.8 264.7h.01M184.7 263.1h.01M193.0 258.5h.01M196.5 266.3h.01M188.6 264.6h.01M207.7 266.2h.01M177.3 264.4h.01M199.0 261.0h.01M189.3 255.1h.01M191.9 274.5h.01M198.0 275.3h.01M194.5 259.6h.01M189.2 258.2h.01M188.2 261.5h.01M194.7 281.9h.01M199.8 259.9h.01M194.1 268.4h.01M206.3 256.1h.01M193.4 264.1h.01M188.0 270.5h.01M193.5 267.7h.01M191.3 252.1h.01M195.3 271.9h.01M197.0 265.0h.01M193.4 267.3h.01M199.3 265.7h.01M197.6 270.7h.01M181.5 269.8h.01M194.5 271.5h.01M194.2 275.0h.01M196.6 272.8h.01M181.4 263.6h.01M197.7 259.7h.01M201.7 270.0h.01M188.2 276.5h.01M191.1 267.9h.01M175.5 258.5h.01M205.1 257.5h.01M193.4 262.7h.01M184.2 272.2h.01M195.9 274.9h.01M201.2 264.3h.01M191.3 266.2h.01M196.6 260.8h.01M196.5 270.5h.01M192.2 267.2h.01M209.3 261.4h.01M183.5 272.1h.01M188.9 268.8h.01M199.4 277.2h.01M198.1 267.3h.01M190.6 258.9h.01M199.7 257.0h.01M180.0 272.1h.01M191.0 258.9h.01M193.9 259.7h.01M195.9 276.0h.01M188.3 277.2h.01M197.8 268.7h.01M195.4 262.2h.01M191.1 276.2h.01M184.4 260.6h.01M199.9 261.0h.01M198.0 274.3h.01M187.7 274.2h.01M198.5 271.8h.01M193.7 266.1h.01M196.3 272.5h.01M206.6 276.5h.01M197.4 264.9h.01M195.2 266.7h.01M197.2 263.5h.01M190.5 261.9h.01M177.6 271.0h.01M196.4 253.5h.01M189.8 257.9h.01M182.2 270.8h.01M193.9 256.7h.01M200.8 274.4h.01M200.2 259.6h.01M189.2 272.0h.01M191.2 275.4h.01M189.1 259.7h.01M191.3 264.5h.01M196.7 265.0h.01M189.1 268.6h.01M186.8 257.9h.01M192.1 271.1h.01M187.0 257.3h.01M181.7 259.4h.01M187.7 263.9h.01M190.0 264.3h.01M200.4 270.4h.01M197.9 258.8h.01M188.4 268.5h.01M194.8 268.8h.01M195.5 264.0h.01M192.4 271.1h.01M199.3 254.5h.01M202.0 260.0h.01M199.7 259.5h.01M199.2 261.0h.01M180.0 261.8h.01M188.5 268.7h.01M198.9 273.2h.01M199.6 263.1h.01M198.2 255.2h.01M196.8 260.2h.01M202.0 270.7h.01M188.8 256.4h.01M203.4 271.6h.01M199.8 268.1h.01M187.7 266.0h.01M185.8 260.5h.01M208.1 245.7h.01M190.7 271.3h.01M185.4 264.8h.01M204.5 261.7h.01M192.6 261.9h.01M201.0 277.6h.01M197.8 260.4h.01M192.4 260.6h.01M196.8 259.1h.01M207.5 260.3h.01M194.3 258.2h.01M204.9 251.6h.01M188.8 269.2h.01M194.1 277.0h.01M192.6 276.6h.01M202.5 264.9h.01M196.5 273.1h.01M196.6 271.4h.01M195.8 271.9h.01M194.2 260.7h.01M190.8 267.2h.01M193.9 285.5h.01M203.5 261.3h.01M196.3 273.8h.01M188.1 259.6h.01M197.0 265.3h.01M190.0 271.6h.01M195.4 275.2h.01M193.6 266.2h.01M193.0 273.4h.01M201.5 262.5h.01M182.6 267.1h.01M197.7 260.9h.01M196.1 251.8h.01M188.0 252.2h.01M186.2 260.5h.01M184.9 262.7h.01M195.0 269.6h.01M190.2 271.0h.01M177.2 261.1h.01M188.5 256.3h.01M193.2 258.8h.01M191.3 253.9h.01M193.7 270.6h.01M196.6 260.4h.01M196.3 272.8h.01M196.1 265.0h.01M201.8 262.4h.01M185.7 267.6h.01M199.6 268.1h.01M186.3 262.7h.01M207.6 262.0h.01M199.1 263.5h.01M198.3 263.1h.01M204.0 277.3h.01M191.4 264.1h.01M195.8 264.1h.01M196.2 259.5h.01M194.6 261.6h.01M195.6 249.3h.01M192.6 268.9h.01M187.9 262.4h.01M192.9 260.6h.01M189.6 251.3h.01M196.8 266.5h.01M199.6 265.2h.01M188.8 267.6h.01M204.5 260.9h.01M189.4 274.4h.01M197.2 271.7h.01M196.0 258.0h.01M188.2 262.3h.01M193.6 263.5h.01M200.5 270.4h.01M187.1 265.3h.01M199.1 260.5h.01M184.5 260.0h.01M187.4 273.0h.01M182.2 280.9h.01M198.5 259.8h.01M193.5 260.5h.01M197.7 270.1h.01M200.8 250.6h.01M190.2 269.3h.01M209.1 268.4h.01M193.2 261.7h.01M197.2 257.7h.01M195.2 268.8h.01M199.0 262.4h.01M186.7 258.5h.01M194.4 258.6h.01M191.8 269.5h.01M186.0 271.2h.01M199.8 265.3h.01M182.7 268.4h.01M195.8 264.8h.01M189.7 267.3h.01M186.5 253.5h.01M188.2 259.0h.01M190.3 262.1h.01M196.1 257.0h.01M199.5 272.1h.01M195.8 276.7h.01M196.6 251.4h.01M193.2 263.6h.01M202.8 260.0h.01M199.0 261.2h.01M190.6 258.7h.01M202.7 265.6h.01M191.8 265.7h.01M194.9 270.5h.01M181.3 265.3h.01M194.1 262.5h.01M198.1 266.7h.01M194.5 271.8h.01M184.8 272.8h.01M195.7 259.7h.01M194.9 272.7h.01M193.4 267.6h.01M199.6 262.3h.01M203.0 261.1h.01M185.3 267.0h.01M201.6 256.7h.01M198.3 260.1h.01M189.6 255.5h.01M191.0 257.7h.01M198.1 275.5h.01M193.5 272.8h.01M195.3 275.5h.01M184.2 262.3h.01M192.9 261.2h.01M190.5 271.3h.01M195.7 266.3h.01M196.2 271.8h.01M196.6 264.2h.01M198.4 269.8h.01M192.5 264.6h.01M188.3 261.6h.01M194.1 270.0h.01M183.6 264.5h.01M192.2 255.1h.01M193.8 263.4h.01M195.1 264.0h.01M195.5 273.0h.01M202.2 271.7h.01M185.4 251.0h.01M200.4 258.0h.01M190.4 269.5h.01M201.4 266.0h.01M198.1 266.7h.01M200.3 253.3h.01M200.4 270.9h.01M188.1 259.8h.01M193.8 260.8h.01M205.1 261.4h.01M199.2 271.4h.01M203.8 255.8h.01M192.9 269.2h.01M193.5 256.1h.01M180.9 267.0h.01M200.6 275.9h.01M196.1 266.0h.01M207.8 266.5h.01M197.6 254.9h.01M204.2 262.5h.01M203.3 271.1h.01M188.3 265.0h.01M195.0 275.1h.01M198.1 249.0h.01M196.0 264.3h.01M202.8 273.2h.01M190.2 266.6h.01M192.0 264.6h.01M186.1 270.4h.01M189.0 268.3h.01M204.9 251.6h.01M198.0 261.2h.01M180.8 265.8h.01M193.2 264.6h.01M189.8 271.3h.01M183.1 267.3h.01M194.5 255.0h.01M187.0 260.2h.01M198.5 268.9h.01M203.7 270.7h.01M197.2 268.5h.01M195.8 270.4h.01M203.7 264.5h.01M192.0 254.1h.01M195.3 269.6h.01M197.4 254.9h.01M192.2 259.8h.01M197.3 273.2h.01M193.4 264.1h.01M202.4 265.3h.01M197.3 271.5h.01M197.8 262.6h.01M193.9 263.4h.01M198.0 269.8h.01M195.4 276.5h.01M190.2 265.1h.01M203.5 263.0h.01M195.0 270.1h.01M197.7 265.4h.01M198.9 269.0h.01M203.4 260.2h.01M197.6 266.6h.01M186.5 264.2h.01M192.8 261.0h.01M192.5 261.4h.01M194.2 269.4h.01M203.3 265.6h.01M186.0 272.8h.01M189.0 260.7h.01M201.3 269.9h.01M190.2 271.6h.01M190.2 267.6h.01M191.9 256.1h.01M196.3 257.4h.01M195.2 262.1h.01M194.5 266.9h.01M206.9 256.1h.01M190.9 266.8h.01M187.0 270.6h.01M186.1 264.0h.01M202.0 269.1h.01M208.1 271.8h.01M196.5 260.9h.01M199.2 279.1h.01M195.3 271.0h.01M193.8 279.1h.01M202.7 264.7h.01M193.1 258.7h.01M190.7 263.2h.01M205.2 259.7h.01M186.0 264.5h.01M181.6 265.0h.01M193.2 267.4h.01M196.5 280.4h.01M193.5 263.7h.01M196.3 268.6h.01M191.7 254.1h.01M194.1 252.5h.01M189.9 258.8h.01M186.6 255.0h.01M188.6 265.2h.01M188.3 267.5h.01M203.4 252.7h.01M198.9 264.5h.01M183.4 271.0h.01M188.8 271.3h.01M192.4 267.1h.01M193.9 279.6h.01M194.6 265.1h.01M179.6 258.8h.01M189.6 266.8h.01M189.2 267.2h.01M196.8 265.9h.01M184.7 267.6h.01M190.9 256.3h.01M190.2 265.7h.01M195.4 268.4h.01M197.3 267.3h.01M194.4 259.9h.01M190.7 262.6h.01M199.5 267.6h.01M188.5 273.5h.01M192.4 257.6h.01M203.6 269.8h.01M193.3 260.2h.01M203.5 269.4h.01M185.0 278.9h.01M191.0 266.0h.01M192.2 264.4h.01M200.4 260.4h.01M187.1 255.6h.01M205.8 270.5h.01M188.8 269.9h.01M190.7 270.0h.01M201.5 263.2h.01M196.8 269.8h.01M195.9 276.1h.01M196.0 277.5h.01M190.2 261.5h.01M202.6 257.5h.01M193.0 273.3h.01M194.7 265.5h.01M200.8 268.7h.01M197.9 258.5h.01M196.2 258.7h.01M197.9 268.4h.01M191.4 268.4h.01M201.7 270.3h.01M194.9 271.5h.01M195.7 263.1h.01M206.5 259.3h.01M197.2 271.8h.01M184.9 258.1h.01M193.0 267.1h.01M190.4 264.3h.01M184.1 265.1h.01M198.6 262.0h.01M187.0 275.7h.01M196.8 255.6h.01M187.9 268.9h.01M193.6 262.7h.01M186.2 268.8h.01" stroke="#000" stroke-width="0.9" stroke-linecap="round" opacity="0.85" fill="none"/>
<path d="M238.5 261.4h.01M244.4 265.7h.01M226.5 267.7h.01M213.5 264.0h.01M222.6 260.4h.01M246.2 280.5h.01M240.3 265.4h.01M218.4 257.1h.01M228.5 271.0h.01M243.3 270.0h.01M238.6 272.7h.01M223.5 266.8h.01M218.1 250.5h.01M217.0 257.0h.01M237.6 261.9h.01M237.2 261.2h.01M212.8 263.2h.01M224.1 249.3h.01M238.8 272.3h.01M223.8 259.0h.01M215.0 252.2h.01M239.5 261.6h.01M244.1 258.5h.01M227.2 267.4h.01M221.4 261.5h.01M261.2 256.6h.01M216.3 269.2h.01M226.0 269.4h.01M201.3 261.8h.01M243.7 257.4h.01M225.0 260.0h.01M234.0 278.0h.01M214.5 261.3h.01M233.0 259.7h.01M225.8 274.2h.01M223.1 272.8h.01M211.3 270.0h.01M234.1 259.2h.01M210.7 259.9h.01M221.0 249.1h.01M247.5 262.2h.01M232.0 260.0h.01M218.9 269.6h.01M239.4 272.2h.01M226.5 267.1h.01M241.1 259.1h.01M224.1 261.4h.01M220.8 266.5h.01M230.8 262.1h.01M208.3 262.5h.01M227.6 260.7h.01M222.3 268.4h.01M218.9 262.3h.01M242.0 267.0h.01M214.8 260.9h.01M231.7 268.9h.01M229.2 268.2h.01M216.8 271.5h.01M222.9 274.3h.01M221.0 263.3h.01M220.0 253.0h.01M243.5 264.5h.01M224.8 272.6h.01M237.8 255.6h.01M225.3 265.2h.01M235.2 256.1h.01M226.9 273.8h.01M223.7 263.0h.01M249.9 265.7h.01M227.2 270.5h.01M241.9 263.9h.01M220.1 277.0h.01M233.2 268.8h.01M226.7 264.8h.01M239.2 251.9h.01M206.9 247.2h.01M221.5 261.4h.01M239.3 269.9h.01M220.7 270.4h.01M223.3 274.3h.01M221.6 264.6h.01M219.2 267.5h.01M227.6 274.3h.01M237.7 267.0h.01M214.6 269.6h.01M244.4 273.7h.01M215.7 247.5h.01M221.7 265.1h.01M234.6 260.6h.01M229.3 271.2h.01M230.0 264.3h.01M224.7 276.1h.01M235.8 260.2h.01M223.7 257.8h.01M219.8 266.7h.01M235.1 260.3h.01M215.7 256.6h.01M240.6 259.5h.01M224.8 277.3h.01M233.6 265.3h.01M238.4 268.2h.01M235.4 260.8h.01M246.8 260.6h.01M220.3 245.3h.01M202.9 264.1h.01M237.5 268.6h.01M236.2 255.1h.01M229.5 260.3h.01M220.1 263.6h.01M248.0 270.7h.01M228.0 268.4h.01M217.9 261.6h.01M240.6 274.1h.01M234.9 248.1h.01M217.7 257.3h.01M221.8 264.1h.01M229.3 250.9h.01M232.1 274.5h.01M223.9 283.8h.01M206.8 275.2h.01M243.3 258.8h.01M231.4 265.2h.01M216.8 267.2h.01M234.0 254.5h.01M225.3 266.4h.01M234.2 262.4h.01M237.3 269.2h.01M235.0 287.8h.01M243.3 274.4h.01M213.6 258.2h.01M240.5 284.6h.01M232.2 284.0h.01M231.2 264.9h.01M219.2 258.4h.01M219.5 263.4h.01M225.1 267.8h.01M241.4 276.4h.01M244.7 272.2h.01M213.9 272.8h.01M208.6 284.7h.01M223.1 258.4h.01M239.2 268.2h.01M248.3 273.1h.01M251.9 252.6h.01M234.3 264.3h.01M225.6 265.1h.01M229.7 264.0h.01M237.8 272.1h.01M232.2 266.4h.01M238.4 253.8h.01M243.1 267.0h.01M226.6 253.6h.01M233.5 250.6h.01M221.1 257.8h.01M230.1 266.7h.01M230.8 272.0h.01M257.0 269.5h.01M223.8 266.0h.01M234.7 270.9h.01M229.2 268.5h.01M223.7 260.6h.01M228.0 261.0h.01M246.8 260.8h.01M219.2 269.3h.01M210.4 250.7h.01M234.4 256.4h.01M225.2 275.8h.01M224.0 271.8h.01M238.7 272.8h.01M231.3 272.2h.01M235.7 267.3h.01M231.1 266.8h.01M228.7 261.6h.01M262.1 278.5h.01M212.5 259.4h.01M204.0 255.5h.01M214.3 264.9h.01M239.5 277.2h.01M237.2 270.2h.01M239.1 262.3h.01M229.5 272.8h.01M231.9 273.6h.01M233.9 265.8h.01M221.5 262.7h.01M241.7 266.4h.01M238.2 265.3h.01M240.9 263.2h.01M227.0 252.8h.01M208.4 265.7h.01M234.7 261.5h.01M204.2 253.8h.01M218.4 261.0h.01M220.6 269.8h.01M222.5 266.2h.01M231.9 269.7h.01M225.5 269.4h.01M231.0 258.8h.01M218.0 248.7h.01M245.1 258.9h.01M243.9 261.0h.01M237.0 264.7h.01M243.3 257.9h.01M219.6 261.4h.01M195.8 250.3h.01M229.9 256.3h.01M250.3 261.5h.01M234.6 277.7h.01M249.5 275.9h.01M242.8 282.0h.01M222.6 267.8h.01M238.0 276.9h.01M234.4 267.2h.01M243.8 259.8h.01M214.2 256.3h.01M220.7 261.0h.01M206.4 266.9h.01M240.6 266.4h.01M230.1 261.2h.01M223.7 264.6h.01M227.7 277.3h.01M226.6 259.1h.01M223.9 267.9h.01M254.6 272.3h.01M257.5 256.6h.01M230.5 268.7h.01M235.3 255.7h.01M232.5 257.4h.01M244.7 263.3h.01M230.9 258.7h.01M232.6 276.7h.01M227.2 248.5h.01M224.3 269.1h.01M226.8 269.3h.01M232.3 269.7h.01M250.0 255.5h.01M229.6 263.9h.01M253.8 260.8h.01M232.4 272.3h.01M224.5 273.5h.01M212.9 265.7h.01M208.9 247.0h.01M228.3 258.4h.01M222.4 259.6h.01M223.5 257.3h.01M230.6 254.2h.01M222.7 261.5h.01M220.7 283.7h.01M268.8 282.2h.01M230.2 266.6h.01M245.8 274.1h.01M228.8 276.3h.01M254.2 277.0h.01M240.5 259.8h.01M236.9 244.2h.01M233.9 272.7h.01M234.9 267.8h.01M221.3 271.5h.01M232.3 251.7h.01M226.0 260.4h.01M231.5 270.2h.01M227.8 274.5h.01M220.7 261.0h.01M239.6 261.5h.01M227.9 271.5h.01M214.1 257.9h.01M237.8 256.7h.01M254.7 271.9h.01M232.3 262.6h.01M241.9 273.2h.01M218.0 276.4h.01M231.9 260.3h.01M209.8 252.0h.01M234.9 269.8h.01M227.2 254.7h.01M215.7 274.2h.01M247.5 273.7h.01M243.4 264.0h.01M238.0 261.9h.01M218.0 263.8h.01M220.6 261.5h.01M253.1 265.3h.01M258.7 271.4h.01M211.9 266.3h.01M226.5 267.1h.01M231.7 256.2h.01M229.1 268.9h.01M232.7 260.1h.01M229.0 282.3h.01M212.9 254.8h.01M230.9 265.0h.01M238.5 275.0h.01M229.1 264.4h.01M263.5 265.0h.01M241.6 272.1h.01M209.9 241.8h.01M241.5 266.1h.01M234.9 274.1h.01M216.6 258.7h.01M223.3 258.8h.01M233.7 268.0h.01M249.8 283.1h.01M225.7 258.6h.01M234.3 264.1h.01M212.3 260.0h.01M213.9 275.6h.01M219.2 254.3h.01M239.5 272.4h.01M210.3 279.9h.01M247.6 255.9h.01M220.7 272.1h.01M211.5 261.6h.01M235.7 253.6h.01M238.3 266.6h.01M245.1 257.9h.01M227.4 267.8h.01M245.7 262.6h.01M226.5 257.3h.01M221.2 261.5h.01M197.4 267.8h.01M231.7 265.6h.01M241.5 250.6h.01M247.1 268.6h.01M237.0 265.7h.01M248.5 273.4h.01M231.5 266.5h.01M242.0 254.4h.01M237.9 267.5h.01M219.1 268.9h.01M237.2 269.5h.01M229.0 249.2h.01M223.4 260.8h.01M239.9 261.4h.01M243.3 274.6h.01M227.4 263.7h.01M224.7 269.6h.01M233.0 260.0h.01M228.0 272.4h.01M247.0 277.2h.01M228.5 268.4h.01M239.0 272.6h.01M228.8 257.8h.01M230.1 273.2h.01M230.2 257.2h.01M215.8 273.5h.01M228.6 253.9h.01M224.4 271.8h.01M254.4 259.7h.01M240.0 262.2h.01M231.2 254.2h.01M240.7 253.0h.01M224.8 247.8h.01M231.0 265.7h.01M239.0 268.3h.01M228.6 270.9h.01M214.9 270.6h.01M222.7 259.6h.01M218.5 269.3h.01M231.5 264.3h.01M226.4 259.8h.01M222.6 267.3h.01M215.7 256.6h.01M225.5 271.8h.01M246.2 267.9h.01M236.7 268.9h.01M225.2 278.5h.01M215.9 257.3h.01M240.9 268.4h.01M228.7 263.2h.01M232.7 270.3h.01M242.7 260.1h.01M223.8 270.0h.01M256.3 267.5h.01M234.0 266.5h.01M215.6 264.6h.01M234.7 270.8h.01M238.6 269.9h.01M224.5 266.1h.01M209.2 260.2h.01M232.8 257.5h.01M225.3 266.7h.01M216.5 269.9h.01M224.2 253.0h.01M219.4 264.5h.01M238.7 248.4h.01M221.6 266.7h.01M230.9 269.1h.01M230.6 263.3h.01M234.4 272.3h.01M231.1 273.7h.01M243.1 258.3h.01M200.5 269.0h.01M242.4 266.2h.01M216.7 258.6h.01M234.3 265.3h.01M255.8 273.8h.01M226.6 271.2h.01M233.4 267.3h.01M243.6 269.2h.01M225.7 275.4h.01M233.9 263.5h.01M222.5 268.6h.01M239.4 267.2h.01M231.6 264.7h.01M230.2 249.3h.01M215.0 267.3h.01M234.7 272.0h.01M227.6 255.3h.01M248.5 270.4h.01M232.6 263.0h.01M226.6 254.0h.01M211.1 265.5h.01M254.9 279.2h.01M235.8 270.8h.01M231.8 273.4h.01M238.1 258.2h.01M215.1 263.9h.01M214.4 253.5h.01M222.2 268.7h.01M246.4 272.9h.01M232.5 262.6h.01M236.3 260.4h.01M236.2 270.0h.01M217.4 266.5h.01M245.7 259.6h.01M217.7 268.0h.01M230.6 265.4h.01M238.7 262.4h.01M234.3 271.5h.01M224.3 260.3h.01M236.3 258.7h.01M230.3 263.3h.01M239.0 257.0h.01M226.5 255.9h.01M217.2 267.2h.01M231.8 270.5h.01M243.7 247.6h.01M217.3 256.3h.01M256.2 257.3h.01M213.7 247.9h.01M226.7 275.4h.01M224.2 256.3h.01M225.1 256.4h.01M260.6 262.4h.01M207.0 259.7h.01M217.4 275.7h.01M236.7 272.6h.01M217.4 270.5h.01M234.3 276.4h.01M227.6 256.3h.01M232.5 277.6h.01M237.2 256.2h.01M234.4 263.8h.01M239.4 269.5h.01M233.5 259.0h.01M218.4 257.8h.01M224.5 273.2h.01M214.0 263.6h.01M241.4 260.9h.01M230.4 273.3h.01M233.3 273.7h.01M230.5 267.7h.01M227.2 263.8h.01M217.1 261.2h.01M225.0 266.5h.01M233.2 259.9h.01M220.2 269.1h.01M219.2 268.4h.01M231.7 261.4h.01M223.4 269.8h.01M221.8 249.6h.01M219.0 268.3h.01M228.9 273.5h.01M236.7 276.1h.01M206.9 266.2h.01M227.8 264.4h.01M232.3 256.6h.01M229.1 260.3h.01M242.2 261.8h.01M218.8 257.8h.01M226.4 255.1h.01M245.6 266.9h.01M251.6 253.9h.01M223.5 257.8h.01M232.3 252.0h.01M243.6 265.8h.01M217.6 262.7h.01M225.7 268.7h.01M232.0 258.8h.01M232.1 265.6h.01M229.5 263.8h.01M229.8 254.4h.01M227.7 250.4h.01M218.9 260.0h.01M222.3 268.9h.01M222.5 280.3h.01M234.9 281.4h.01M228.1 265.3h.01M226.8 253.3h.01M234.8 265.1h.01M211.6 249.5h.01M233.8 245.7h.01M235.6 268.9h.01M227.7 261.4h.01M257.3 268.3h.01M231.1 253.2h.01M219.2 269.8h.01M228.2 273.0h.01M248.1 284.7h.01M229.6 257.6h.01M226.0 261.0h.01M245.6 267.8h.01M227.9 270.9h.01M198.8 278.0h.01M249.8 263.4h.01M209.0 259.5h.01M220.4 280.4h.01M231.2 258.9h.01M231.7 257.1h.01M230.1 272.2h.01M225.3 267.2h.01M243.8 260.6h.01M228.7 263.4h.01M241.4 272.5h.01M214.2 253.9h.01M226.8 269.7h.01M209.4 280.3h.01M233.2 264.1h.01M225.3 255.7h.01M245.3 265.3h.01M212.6 262.0h.01M217.2 267.7h.01M238.0 260.6h.01M224.7 269.4h.01M210.5 273.2h.01M239.6 270.7h.01M224.4 263.1h.01M218.4 272.7h.01M203.0 275.7h.01M248.5 258.3h.01M230.8 268.9h.01M239.4 278.2h.01M246.3 267.5h.01M243.4 259.7h.01M242.1 275.9h.01M237.2 258.8h.01M214.1 258.2h.01M237.1 267.9h.01M218.9 269.8h.01M198.4 263.9h.01M220.3 272.5h.01M222.0 262.4h.01M228.4 268.8h.01M224.5 254.1h.01M248.5 275.3h.01M213.3 261.7h.01M218.2 273.7h.01M230.5 260.8h.01M248.8 254.9h.01M237.0 255.4h.01M228.1 267.1h.01M248.8 273.5h.01M208.1 256.5h.01M232.3 264.9h.01M230.9 265.3h.01M241.1 266.9h.01M238.7 253.9h.01M216.5 256.8h.01M247.3 255.7h.01M243.1 271.9h.01M226.3 270.4h.01M225.9 267.7h.01M230.4 261.6h.01M237.7 266.6h.01M216.6 261.2h.01M214.0 267.3h.01M220.8 279.0h.01M210.1 256.2h.01M211.2 257.2h.01M216.4 246.8h.01M229.3 266.0h.01M242.5 269.4h.01M248.8 270.2h.01M254.7 260.5h.01M237.4 266.1h.01M223.1 264.9h.01M239.1 272.1h.01M235.8 265.5h.01M221.5 261.3h.01M253.3 264.6h.01M214.6 264.5h.01M236.0 274.0h.01M224.1 275.8h.01M234.6 287.3h.01M206.1 278.3h.01M231.8 264.4h.01M247.1 257.9h.01M244.2 263.4h.01M238.4 269.5h.01M225.0 267.4h.01M246.1 253.5h.01M247.5 271.4h.01M239.4 267.4h.01M217.2 258.2h.01M217.3 275.4h.01M242.8 268.2h.01M213.6 262.9h.01M231.0 258.5h.01M231.1 265.7h.01M224.8 267.0h.01M229.0 272.4h.01M225.9 276.1h.01M247.4 258.6h.01M231.0 270.9h.01M244.0 257.1h.01M220.5 253.4h.01M239.2 270.0h.01M212.4 268.2h.01M227.8 262.9h.01M212.3 251.9h.01M215.8 264.3h.01M228.8 251.9h.01M242.0 253.4h.01M216.7 267.0h.01M229.5 270.2h.01M267.0 269.9h.01M259.9 250.3h.01M240.9 255.5h.01M218.6 268.0h.01M217.0 260.9h.01M223.4 261.0h.01M221.7 254.4h.01M250.2 254.1h.01M231.9 267.5h.01M218.9 277.4h.01M246.0 273.1h.01M221.3 258.4h.01M221.0 255.9h.01M213.5 268.7h.01M242.8 261.7h.01M241.7 269.0h.01M236.5 261.3h.01M250.0 257.2h.01M226.9 268.4h.01M233.6 266.1h.01M238.5 266.7h.01M234.8 253.9h.01M216.7 264.0h.01M222.9 251.1h.01M229.1 265.8h.01M227.5 241.8h.01M245.7 270.0h.01M218.8 261.3h.01M230.9 269.2h.01M231.1 279.1h.01M227.5 273.9h.01M244.1 260.7h.01M221.0 252.0h.01M256.2 263.5h.01M223.8 282.1h.01M241.2 262.9h.01M228.0 264.6h.01M215.5 255.5h.01M239.8 264.5h.01M222.4 271.8h.01M226.3 254.4h.01M219.4 268.2h.01M227.6 260.2h.01M221.8 261.2h.01M263.1 269.7h.01M229.6 258.9h.01M234.2 260.5h.01M245.6 270.5h.01M231.8 272.0h.01M230.2 280.8h.01M212.9 260.5h.01M229.2 273.4h.01M210.3 266.4h.01M240.5 265.7h.01M242.8 261.9h.01M215.9 281.5h.01M255.1 255.6h.01M232.2 277.0h.01M235.8 262.6h.01M254.3 275.9h.01M244.8 264.1h.01M237.7 261.6h.01M224.8 267.0h.01M237.2 272.9h.01M228.9 262.1h.01M227.8 264.2h.01M240.5 272.0h.01M234.7 264.4h.01M224.6 258.5h.01M217.8 265.0h.01M222.1 253.2h.01M235.0 259.6h.01M231.0 268.3h.01M237.4 275.9h.01M207.8 262.9h.01M209.1 263.2h.01M228.5 273.7h.01M241.1 274.5h.01M208.2 261.7h.01M235.2 267.3h.01M227.3 252.5h.01M253.8 278.0h.01M225.8 268.3h.01M227.0 286.6h.01M231.5 271.4h.01M226.8 269.7h.01M238.7 258.5h.01M247.6 269.2h.01M231.6 269.5h.01M234.8 264.9h.01M215.1 261.6h.01M203.8 259.4h.01M244.1 262.2h.01M232.5 266.3h.01M235.5 257.0h.01M224.8 270.5h.01M227.0 258.9h.01M231.8 257.4h.01M239.7 268.6h.01M233.6 250.5h.01M226.4 259.0h.01M241.4 269.2h.01M239.2 268.0h.01M240.1 256.8h.01M225.9 257.8h.01M220.1 251.5h.01M233.6 261.8h.01M223.4 267.8h.01M225.3 263.3h.01M217.9 256.4h.01M194.0 269.2h.01M245.5 277.5h.01M227.6 261.2h.01M224.2 286.2h.01M240.2 275.7h.01M222.1 258.9h.01M226.3 270.1h.01M238.5 263.7h.01M233.5 268.0h.01M203.6 243.8h.01M224.5 261.0h.01M242.7 254.2h.01M230.2 266.1h.01M225.0 263.1h.01M229.8 271.1h.01M256.4 282.9h.01" stroke="#111" stroke-width="0.9" stroke-linecap="round" opacity="0.7" fill="none"/>
<path d="M180.8 333.1h.01M183.9 277.3h.01M190.1 333.0h.01M191.7 301.1h.01M186.4 295.5h.01M181.9 294.4h.01M189.4 301.9h.01M186.5 331.6h.01M188.3 332.8h.01M181.8 322.8h.01M181.0 316.3h.01M199.3 273.1h.01M196.8 328.2h.01M178.2 321.8h.01M171.9 278.8h.01M189.0 304.1h.01M188.7 303.7h.01M187.6 280.5h.01M193.1 329.5h.01M193.9 308.9h.01M176.6 294.0h.01M184.8 291.1h.01M175.9 296.2h.01M195.7 314.1h.01M184.5 308.4h.01M198.0 283.4h.01M187.7 304.3h.01M182.8 334.2h.01M182.3 333.0h.01M183.0 312.9h.01M198.8 276.0h.01M183.3 321.0h.01M193.8 295.5h.01M186.7 306.9h.01M175.7 327.5h.01M191.7 291.2h.01M192.7 328.6h.01M181.2 277.6h.01M180.3 301.4h.01M192.5 299.2h.01M188.4 322.3h.01M182.4 284.9h.01M194.9 286.2h.01M189.7 304.5h.01M179.8 320.4h.01M188.1 330.3h.01M184.4 278.2h.01M192.5 318.0h.01M188.0 300.0h.01M183.0 308.5h.01M186.9 297.9h.01M179.3 323.8h.01M187.0 304.1h.01M191.9 294.1h.01M191.5 282.2h.01M186.9 274.4h.01M197.0 282.8h.01M198.7 298.8h.01M187.9 278.0h.01M189.2 317.3h.01M187.9 302.7h.01M194.2 318.5h.01M177.3 292.1h.01M188.5 304.1h.01M187.6 328.2h.01M185.1 330.6h.01M189.3 312.5h.01M187.0 321.8h.01M189.5 306.6h.01M183.1 330.9h.01M189.2 280.7h.01M188.7 290.1h.01M192.2 328.1h.01M185.6 299.1h.01M184.0 294.3h.01M182.4 285.1h.01M202.7 306.6h.01M195.8 275.6h.01M180.6 285.2h.01M193.1 313.8h.01M195.5 292.8h.01M184.6 274.0h.01M191.1 291.3h.01M195.3 289.1h.01M176.4 296.7h.01M194.4 291.7h.01M181.0 292.8h.01M189.5 289.8h.01M175.7 308.4h.01M179.4 320.5h.01M184.6 309.7h.01M187.1 329.3h.01M191.8 327.2h.01M195.9 278.1h.01M200.7 273.5h.01M186.4 289.7h.01M179.0 277.6h.01M194.8 329.4h.01M181.5 279.6h.01M193.6 290.6h.01M191.6 312.9h.01M192.6 297.2h.01M184.7 278.8h.01M190.6 284.8h.01M188.0 297.2h.01M174.0 292.9h.01M188.2 272.0h.01M190.1 327.5h.01M187.1 320.5h.01M189.8 302.0h.01M194.3 329.7h.01M182.5 314.1h.01M190.6 297.1h.01M200.4 303.8h.01M175.8 289.6h.01M186.6 300.2h.01M179.1 296.2h.01M189.0 289.4h.01M189.4 315.7h.01M203.3 292.6h.01M185.6 324.7h.01M179.8 333.2h.01M187.9 325.5h.01M183.1 289.3h.01M191.4 306.8h.01M192.6 316.5h.01M181.2 276.9h.01M180.2 311.7h.01M194.8 290.7h.01M180.5 278.9h.01M184.7 305.3h.01M177.5 326.6h.01M191.8 296.7h.01M200.3 295.4h.01M199.2 282.0h.01M189.2 322.5h.01M174.6 294.3h.01M178.4 317.4h.01M188.2 329.3h.01M175.1 289.5h.01M199.6 302.1h.01M187.5 300.0h.01M184.8 281.7h.01M188.6 275.5h.01M188.4 320.0h.01M190.5 297.7h.01M193.3 309.0h.01M199.2 281.4h.01M187.3 301.6h.01M182.1 294.9h.01M183.8 334.6h.01M188.6 287.6h.01M185.8 274.4h.01M188.5 328.4h.01M180.4 310.8h.01M195.0 276.9h.01M175.4 322.1h.01M174.6 301.3h.01M182.8 272.1h.01M179.1 276.3h.01M198.1 317.3h.01M170.8 295.1h.01M188.8 330.5h.01M189.9 277.9h.01M187.6 314.8h.01M185.2 306.8h.01M189.8 318.5h.01M176.1 317.2h.01M193.5 273.5h.01M188.3 283.0h.01M183.1 275.5h.01M204.9 287.7h.01M189.5 301.9h.01M198.1 330.7h.01M190.0 286.2h.01M186.9 289.7h.01M196.7 273.8h.01M183.1 301.5h.01M191.8 319.1h.01M172.5 330.8h.01M180.6 327.1h.01M186.6 280.9h.01M184.7 324.6h.01M184.0 279.5h.01M189.4 298.5h.01M184.1 272.7h.01M179.1 313.2h.01M191.7 272.8h.01M175.7 282.0h.01M175.2 322.9h.01M178.8 327.1h.01M185.4 294.5h.01M177.3 283.3h.01M204.5 294.5h.01M182.6 314.9h.01M188.7 278.5h.01M186.3 313.4h.01M188.5 302.5h.01M192.5 275.4h.01M179.4 307.6h.01M174.1 310.8h.01M190.0 321.3h.01M192.9 288.7h.01M187.9 333.8h.01M193.4 286.5h.01M187.2 289.8h.01M200.0 315.5h.01M185.6 288.0h.01M193.9 294.2h.01M196.3 290.5h.01M178.6 296.8h.01M187.1 323.5h.01M176.2 312.2h.01M189.2 322.9h.01M185.6 275.7h.01M180.9 290.0h.01M184.5 303.1h.01M176.1 294.6h.01M187.8 273.9h.01M187.4 302.2h.01M185.2 290.4h.01M192.1 275.6h.01M187.7 305.8h.01M190.6 293.8h.01M179.6 326.6h.01M183.1 302.2h.01M187.6 296.9h.01M186.2 310.2h.01M182.6 316.0h.01M178.6 332.6h.01M179.2 300.1h.01M195.8 303.5h.01M198.7 294.0h.01M180.6 319.1h.01M198.5 304.5h.01M181.5 311.6h.01M186.4 334.1h.01M190.7 310.3h.01M189.9 329.1h.01M179.4 304.4h.01M183.4 292.0h.01M188.1 321.9h.01M184.9 277.0h.01M186.7 303.3h.01M173.4 294.7h.01M186.8 286.7h.01M184.8 317.3h.01M187.0 307.8h.01M177.1 305.6h.01M182.6 328.3h.01M178.2 285.7h.01M179.7 291.8h.01M199.6 287.7h.01M185.0 331.4h.01M186.5 297.4h.01M168.9 299.1h.01M183.8 312.4h.01M194.2 280.0h.01M202.0 329.3h.01M188.7 295.9h.01M187.6 302.1h.01M192.1 286.7h.01M175.3 313.1h.01M182.9 310.5h.01M183.1 310.7h.01M189.9 331.4h.01M186.0 329.6h.01M181.4 334.1h.01M192.6 280.3h.01M194.3 283.2h.01M188.3 272.9h.01M194.7 279.8h.01M190.3 303.3h.01M183.1 319.3h.01M175.4 317.8h.01M177.0 287.4h.01M201.1 327.9h.01M194.4 280.4h.01M194.9 300.9h.01M189.2 313.6h.01M191.0 295.0h.01M180.1 327.6h.01M183.7 287.9h.01M188.6 293.6h.01M184.3 334.7h.01M194.5 332.0h.01M177.7 315.6h.01M185.2 293.7h.01M183.3 332.3h.01M185.3 304.2h.01M188.9 277.9h.01M195.9 289.8h.01M187.4 330.1h.01M189.5 302.7h.01M185.2 324.3h.01M191.0 295.1h.01M185.6 302.0h.01M190.7 300.4h.01M190.6 298.8h.01M185.4 331.7h.01M191.2 275.0h.01M179.2 277.9h.01M186.9 277.9h.01M196.7 274.3h.01M187.7 283.4h.01M186.1 284.5h.01M197.8 286.3h.01M175.9 317.3h.01M197.8 307.2h.01M187.5 290.0h.01M188.6 274.8h.01M176.0 292.4h.01M191.0 280.1h.01M180.2 320.0h.01M177.2 292.9h.01M199.8 311.8h.01M194.6 325.8h.01M185.7 294.8h.01M179.9 319.5h.01M196.5 277.7h.01M193.0 314.6h.01M188.5 309.6h.01M183.6 300.3h.01M189.6 292.9h.01M186.5 304.2h.01M184.4 324.4h.01M185.7 287.3h.01M187.1 332.9h.01M169.1 295.2h.01M183.4 312.7h.01M192.7 315.7h.01M184.8 293.0h.01M188.9 312.5h.01M185.6 285.1h.01M184.4 311.6h.01M193.9 293.2h.01M177.3 321.7h.01M170.4 328.2h.01M167.0 329.0h.01M181.5 329.3h.01M180.0 278.4h.01M180.6 297.7h.01M195.2 299.1h.01M180.4 308.2h.01M188.9 300.7h.01M178.8 324.4h.01M191.5 287.6h.01M186.0 291.5h.01M195.3 283.3h.01M177.7 324.6h.01M190.4 275.8h.01M187.2 313.7h.01M181.0 282.1h.01M196.5 299.2h.01M175.7 304.5h.01M188.7 312.2h.01M181.6 333.5h.01M187.9 306.3h.01M198.1 289.3h.01M190.1 286.3h.01M189.5 315.5h.01M182.6 278.7h.01M193.2 299.2h.01M189.0 318.7h.01M181.5 327.1h.01M200.0 294.2h.01M180.0 312.7h.01M195.8 293.0h.01M184.2 292.9h.01M187.8 322.2h.01M185.9 298.9h.01M189.4 308.7h.01M206.3 276.2h.01M192.2 299.8h.01M187.5 313.7h.01M202.9 324.1h.01M173.9 311.3h.01M193.2 296.3h.01M188.8 290.4h.01M189.0 289.1h.01M199.5 331.0h.01M190.8 309.8h.01M191.1 292.9h.01M183.2 286.8h.01M181.5 307.7h.01M184.3 308.8h.01M191.3 304.4h.01M197.9 294.9h.01M203.2 278.0h.01M197.2 298.7h.01M182.6 298.4h.01M191.9 278.9h.01M182.6 309.5h.01M180.5 326.6h.01M180.7 311.4h.01M174.9 278.4h.01M196.5 283.0h.01M195.4 319.8h.01M197.0 285.0h.01M191.7 286.2h.01M187.0 301.1h.01M200.9 275.3h.01M186.1 332.1h.01M182.2 319.5h.01M183.6 326.1h.01M190.9 300.6h.01M193.6 296.5h.01M183.2 280.6h.01M181.9 290.1h.01M196.0 301.8h.01M190.1 327.4h.01M188.1 299.0h.01M182.7 330.7h.01M200.5 322.4h.01M181.9 324.6h.01M191.8 323.5h.01M188.9 276.8h.01M190.1 329.3h.01M172.1 331.6h.01M204.4 283.8h.01M184.8 304.4h.01M182.7 332.6h.01M175.1 317.7h.01M190.2 314.5h.01M192.2 280.9h.01M185.3 285.5h.01M185.2 310.1h.01M188.6 327.4h.01M200.6 332.2h.01M180.4 303.0h.01M192.1 299.9h.01M195.3 286.1h.01M186.1 302.8h.01M200.6 274.6h.01M189.4 325.5h.01M189.3 296.5h.01M175.7 314.3h.01M179.8 299.2h.01M192.4 294.4h.01M189.7 272.4h.01M180.7 288.6h.01M177.7 281.0h.01M183.6 273.7h.01M194.3 286.7h.01M185.2 303.3h.01M187.8 309.4h.01M183.6 312.0h.01M190.3 308.1h.01M190.8 280.8h.01M180.7 295.4h.01M198.3 299.1h.01M191.2 276.7h.01M189.2 272.5h.01M178.5 286.4h.01M193.2 274.9h.01M190.6 282.4h.01M199.7 275.0h.01M193.4 293.0h.01M202.1 275.8h.01M179.8 274.9h.01M190.4 317.0h.01M184.1 317.5h.01M179.3 325.0h.01M201.9 273.4h.01M187.9 323.4h.01M184.1 329.1h.01M193.7 296.6h.01M180.8 332.7h.01M183.7 305.9h.01M178.2 309.0h.01M185.0 292.4h.01M181.1 322.9h.01M188.6 297.9h.01M185.1 281.9h.01M188.8 309.5h.01M193.9 304.5h.01M188.0 295.2h.01M202.2 283.8h.01M188.3 323.0h.01M186.5 284.4h.01M192.0 284.0h.01M194.2 329.2h.01M179.3 334.0h.01M183.0 286.2h.01M197.7 279.9h.01M180.7 331.4h.01M193.4 283.7h.01M190.4 295.9h.01M194.1 283.8h.01M183.8 333.4h.01M179.8 310.5h.01M191.8 284.6h.01M187.8 332.9h.01M196.1 303.0h.01M191.8 292.4h.01M198.7 302.7h.01M176.7 284.0h.01M187.9 302.8h.01M190.3 287.3h.01M183.5 323.7h.01M194.7 281.5h.01M189.1 290.7h.01M187.2 327.3h.01M188.2 290.5h.01M183.0 325.8h.01M191.3 334.9h.01M197.6 316.6h.01M184.7 306.6h.01M187.4 318.5h.01M190.7 301.6h.01M191.3 298.0h.01M196.9 313.4h.01M197.9 273.0h.01M184.1 291.2h.01M186.3 274.8h.01M190.4 315.1h.01M190.0 277.1h.01M191.8 301.8h.01M192.8 309.4h.01M187.2 297.9h.01M199.1 310.0h.01M188.0 328.0h.01M196.2 279.4h.01M187.5 295.8h.01M187.8 313.6h.01M181.0 329.6h.01M178.1 320.5h.01M177.0 328.6h.01M187.9 287.9h.01M185.2 276.6h.01M186.1 292.5h.01M191.4 326.6h.01M190.1 292.1h.01M179.6 310.0h.01M186.8 274.3h.01M190.1 303.3h.01M191.8 314.7h.01M185.7 290.7h.01M184.0 323.6h.01M205.1 292.6h.01M176.9 319.6h.01M186.5 281.8h.01M183.1 277.1h.01M186.2 320.9h.01M186.9 290.6h.01M192.9 275.8h.01M187.2 317.5h.01M192.6 300.6h.01M188.1 284.5h.01M188.7 316.8h.01M183.1 281.1h.01M183.9 281.9h.01M194.8 284.0h.01M187.8 301.2h.01M192.0 285.3h.01M183.8 328.9h.01M181.8 284.0h.01M189.2 304.6h.01M191.2 275.0h.01M177.7 308.5h.01M192.5 277.2h.01M187.3 313.9h.01M188.7 287.3h.01M183.8 331.5h.01M187.1 318.7h.01M192.9 294.2h.01M186.5 276.1h.01M205.0 285.9h.01M183.1 325.5h.01M193.8 322.3h.01M186.5 307.5h.01M188.4 302.7h.01M179.3 332.1h.01M187.3 316.9h.01M174.1 298.9h.01M196.7 327.1h.01M182.8 324.6h.01M172.7 301.9h.01M183.3 296.9h.01M189.8 326.4h.01M179.3 302.5h.01M185.9 317.6h.01M185.4 319.3h.01M183.7 290.3h.01M189.9 334.0h.01M187.3 324.6h.01M188.6 296.6h.01M193.8 313.1h.01M188.3 301.0h.01M176.0 273.6h.01M184.7 324.3h.01M197.0 278.7h.01M198.3 278.0h.01M191.9 323.4h.01M186.5 310.0h.01M175.8 316.8h.01M180.8 333.2h.01M175.5 328.6h.01M194.3 324.1h.01M181.6 329.9h.01M194.7 301.7h.01M193.8 304.5h.01M194.9 279.2h.01M182.8 313.4h.01M180.6 296.8h.01M189.5 292.3h.01M198.4 307.3h.01M191.1 329.2h.01M187.9 291.3h.01M174.6 291.6h.01M189.5 312.1h.01M184.0 324.6h.01M183.2 312.1h.01M195.6 309.5h.01M189.0 318.3h.01M182.3 293.1h.01M182.2 307.1h.01M199.1 314.3h.01M188.1 328.0h.01M175.9 330.4h.01M185.4 326.5h.01M179.9 322.7h.01M194.0 323.3h.01M191.1 285.5h.01M192.0 334.0h.01M185.7 334.6h.01M203.2 314.1h.01M183.2 290.2h.01M188.3 299.8h.01M193.1 273.1h.01M190.4 278.1h.01M186.3 326.9h.01M190.6 291.4h.01M191.8 301.2h.01M184.6 330.5h.01M190.7 272.0h.01M183.6 310.5h.01M192.8 294.1h.01M187.2 317.7h.01M182.1 300.5h.01M186.1 334.6h.01M189.9 321.0h.01M194.3 273.2h.01M193.9 316.0h.01M198.1 283.8h.01M184.9 317.1h.01M195.2 299.2h.01M198.1 285.3h.01M181.9 301.6h.01M188.8 298.8h.01M181.2 333.3h.01M190.6 307.6h.01M181.1 304.0h.01M186.9 313.9h.01M177.3 312.4h.01M198.4 282.9h.01M177.0 278.9h.01M202.5 281.4h.01M199.2 307.4h.01M184.9 313.7h.01M187.0 300.7h.01M191.5 282.4h.01M192.0 303.7h.01M200.9 276.1h.01M189.1 281.4h.01M193.2 313.3h.01M173.0 290.8h.01M183.7 333.8h.01M196.5 317.5h.01M191.8 300.9h.01M175.4 329.1h.01M190.7 276.8h.01M179.1 329.8h.01M200.0 328.2h.01M193.6 276.7h.01M197.8 330.9h.01M185.1 319.7h.01M212.5 279.4h.01M196.7 297.0h.01M188.9 305.2h.01M192.2 332.0h.01M178.2 296.0h.01M179.9 327.1h.01M181.3 309.8h.01M190.0 312.6h.01M186.4 285.7h.01M192.9 330.2h.01M172.3 328.0h.01M184.2 316.2h.01M182.6 332.9h.01M182.1 274.3h.01M195.5 312.2h.01M191.0 324.8h.01M186.5 312.0h.01M182.5 273.1h.01M187.5 320.5h.01M189.9 331.0h.01M203.5 293.9h.01M192.8 309.8h.01M186.5 282.1h.01M195.8 272.8h.01M173.8 303.1h.01M185.8 308.8h.01M180.5 332.8h.01M195.0 291.4h.01M187.6 294.0h.01M191.7 330.6h.01M190.4 309.2h.01M185.9 303.9h.01M175.1 307.2h.01M190.9 301.3h.01M192.8 288.8h.01M185.8 318.6h.01M195.0 311.6h.01M186.1 303.5h.01M185.7 298.9h.01M190.7 287.6h.01M185.6 315.2h.01M184.4 281.5h.01M185.6 310.2h.01M182.8 323.1h.01M189.3 282.1h.01M183.6 307.0h.01M178.9 332.0h.01M182.5 312.8h.01M191.5 317.7h.01M185.5 308.2h.01M198.3 287.8h.01M181.7 314.5h.01M192.3 289.3h.01M188.9 324.5h.01M192.0 308.6h.01M194.7 295.7h.01M191.4 323.5h.01M199.2 316.6h.01M186.0 334.6h.01M195.9 329.1h.01M175.3 331.7h.01M182.4 301.5h.01M189.5 282.8h.01M192.3 302.0h.01M179.9 278.6h.01M188.8 315.8h.01M192.3 323.2h.01M188.5 314.7h.01M193.5 304.8h.01M185.5 320.1h.01M189.6 322.9h.01M197.4 330.2h.01M188.2 302.4h.01M193.8 285.2h.01M190.5 291.6h.01M194.0 279.7h.01M189.6 328.8h.01M177.2 322.4h.01M191.9 273.1h.01M190.9 277.9h.01M179.1 312.4h.01M190.7 310.9h.01M179.5 323.4h.01M192.0 315.4h.01M190.7 313.5h.01M192.5 283.6h.01M197.2 301.6h.01M184.1 332.9h.01M186.4 288.1h.01M198.8 272.0h.01M192.0 315.6h.01M185.2 315.8h.01M186.7 332.4h.01M191.7 332.9h.01M200.2 293.9h.01M191.1 292.4h.01M183.7 316.2h.01M183.9 278.0h.01M191.9 272.6h.01M168.7 317.0h.01M196.3 301.7h.01M184.5 299.3h.01M179.1 272.6h.01M189.2 327.5h.01M189.0 273.9h.01M178.3 320.8h.01M188.5 300.2h.01M180.5 287.4h.01M190.0 312.7h.01M193.5 286.5h.01M185.9 313.0h.01M195.3 280.7h.01M177.1 313.5h.01M173.5 303.2h.01M179.9 280.0h.01M196.9 310.5h.01M185.0 310.5h.01M194.8 283.0h.01M179.5 277.0h.01M182.2 277.5h.01M179.5 289.0h.01M191.1 274.4h.01M193.2 284.6h.01M180.2 273.3h.01M187.0 316.7h.01M197.4 284.4h.01M175.0 332.3h.01M182.6 328.3h.01M185.8 284.8h.01M177.7 330.2h.01M180.4 280.6h.01M193.5 274.3h.01M188.6 286.0h.01M191.7 305.5h.01M187.4 283.3h.01M193.0 300.7h.01M182.3 295.6h.01M181.9 328.3h.01M185.0 322.0h.01M171.7 331.1h.01M192.8 274.2h.01M184.1 294.7h.01M183.0 304.4h.01M193.1 295.4h.01M192.6 299.0h.01M188.1 290.2h.01M178.2 281.9h.01M192.4 277.0h.01M184.1 295.6h.01M186.1 320.1h.01M191.6 298.3h.01M176.5 327.6h.01M193.4 297.7h.01M181.0 324.4h.01M189.2 278.7h.01M188.5 316.6h.01M191.9 283.0h.01M182.2 331.5h.01M193.1 327.6h.01M198.0 273.9h.01M183.5 284.8h.01M180.8 330.1h.01M186.6 311.5h.01M173.9 300.7h.01M178.6 324.5h.01M193.7 286.1h.01M177.9 307.3h.01M188.1 306.5h.01M190.2 280.3h.01M180.1 298.3h.01M197.5 333.5h.01M185.2 293.5h.01M197.2 300.7h.01" stroke="#111" stroke-width="0.9" stroke-linecap="round" opacity="0.7" fill="none"/>
<path d="M213.8 299.0h.01M210.6 297.4h.01M193.5 319.7h.01M178.8 330.0h.01M204.9 283.9h.01M201.8 258.7h.01M200.7 249.0h.01M183.7 333.5h.01M197.5 269.1h.01M211.4 261.3h.01M213.1 298.3h.01M182.2 310.2h.01M230.2 272.1h.01M236.4 275.8h.01M209.6 294.5h.01M210.3 323.0h.01M221.8 258.7h.01M202.4 347.1h.01M221.2 332.1h.01M174.6 321.2h.01M177.5 262.0h.01M197.4 293.5h.01M205.9 283.0h.01M170.1 324.6h.01M235.7 285.6h.01M202.1 320.4h.01M178.2 262.6h.01M206.8 279.3h.01M163.2 267.5h.01M206.6 288.4h.01M214.7 251.2h.01M184.6 320.6h.01M240.6 309.9h.01M191.4 268.2h.01M201.3 297.8h.01M197.8 251.3h.01M183.4 271.0h.01M212.1 301.5h.01M196.1 286.7h.01M200.8 302.1h.01M190.2 252.5h.01M210.0 289.1h.01M210.3 302.1h.01M189.1 259.2h.01M184.2 278.6h.01M229.2 265.4h.01M214.6 289.8h.01M203.1 294.3h.01M196.9 296.3h.01M215.3 246.7h.01M187.9 302.8h.01M182.6 261.7h.01M206.4 283.0h.01M226.6 317.7h.01M216.8 303.3h.01M195.2 257.0h.01M206.0 309.1h.01M182.5 279.4h.01M192.5 302.9h.01M203.5 295.6h.01M216.7 304.8h.01M240.1 272.8h.01M209.8 251.4h.01M202.2 272.9h.01M184.6 268.3h.01M201.8 313.5h.01M197.9 290.9h.01M220.1 244.2h.01M213.0 296.5h.01M183.1 256.9h.01M186.3 260.9h.01M204.5 260.7h.01M173.1 282.5h.01M172.4 250.0h.01M191.6 301.8h.01M193.4 286.1h.01M199.9 290.9h.01M204.0 296.5h.01M207.2 273.8h.01M168.4 272.6h.01M201.8 330.4h.01M210.4 323.5h.01M215.5 295.0h.01M212.2 266.8h.01M215.0 295.6h.01M183.9 280.8h.01M210.3 306.1h.01M234.0 255.7h.01M175.8 251.4h.01M203.1 294.1h.01M193.7 280.9h.01M194.7 273.6h.01M189.1 267.7h.01M182.9 279.0h.01M207.9 237.2h.01M212.4 259.6h.01M189.0 287.7h.01M200.3 274.1h.01M203.5 287.5h.01M205.6 317.4h.01M198.1 287.9h.01M223.0 280.5h.01M183.0 239.0h.01M207.8 296.5h.01M190.2 268.8h.01M217.4 294.2h.01M208.7 284.4h.01M202.7 305.4h.01M188.7 297.4h.01M205.5 311.0h.01M204.9 298.4h.01M185.0 263.7h.01M195.2 276.8h.01M180.2 293.5h.01M195.4 271.6h.01M179.3 297.2h.01M229.6 282.9h.01M200.7 302.2h.01M187.7 316.5h.01M185.1 291.2h.01M197.9 272.0h.01M212.1 310.3h.01M187.5 282.2h.01M203.1 309.8h.01M228.2 323.7h.01M195.9 268.7h.01M215.1 304.7h.01M169.6 320.9h.01M182.8 283.2h.01M179.9 257.8h.01M203.3 287.8h.01M194.8 326.0h.01M199.3 244.1h.01M215.0 291.3h.01M179.8 341.6h.01M185.5 309.8h.01M235.5 313.6h.01M191.7 269.6h.01M201.5 327.2h.01M172.7 272.3h.01M189.3 290.2h.01M164.8 326.2h.01M190.7 300.1h.01M210.2 292.4h.01M191.3 302.4h.01M223.4 290.6h.01M164.8 283.4h.01M208.7 308.1h.01M187.8 317.8h.01M209.8 288.0h.01M186.4 263.4h.01M221.5 305.6h.01M211.0 306.4h.01M206.3 265.9h.01M236.1 300.0h.01M196.0 306.5h.01M170.1 275.2h.01M184.6 250.4h.01M185.8 287.5h.01M219.0 250.6h.01M203.2 274.1h.01M174.4 254.8h.01M192.0 323.0h.01M183.9 309.0h.01M181.0 250.5h.01M189.8 288.5h.01M225.6 295.6h.01M217.1 278.9h.01M209.1 294.2h.01M211.4 294.0h.01M196.4 295.1h.01M191.9 245.7h.01M215.7 259.7h.01M187.4 307.5h.01M181.7 270.4h.01M180.9 306.5h.01M194.7 237.4h.01M232.7 244.5h.01M212.3 329.8h.01M182.8 271.0h.01M191.8 286.6h.01M209.2 259.9h.01M184.4 256.7h.01M196.5 269.8h.01M231.2 298.8h.01M195.9 291.6h.01M193.4 303.3h.01M200.2 269.7h.01M184.4 304.4h.01M191.7 275.4h.01M188.0 260.2h.01M188.1 290.7h.01M198.4 254.7h.01M193.8 277.5h.01M196.5 330.0h.01M178.9 291.5h.01M214.1 280.1h.01M216.5 300.2h.01M218.2 285.2h.01M196.5 274.8h.01M230.8 286.2h.01M202.7 260.7h.01M213.6 294.1h.01M168.6 303.1h.01M225.9 300.7h.01M199.3 282.0h.01M198.0 237.6h.01M188.8 308.2h.01M217.2 287.9h.01M202.3 299.9h.01M205.4 297.0h.01M205.0 317.2h.01M196.8 245.7h.01M209.3 303.8h.01M179.8 303.9h.01M213.9 279.1h.01M212.5 283.8h.01M211.4 343.9h.01M178.2 281.7h.01M192.1 276.4h.01M163.1 286.4h.01M225.6 288.4h.01M194.2 323.0h.01M225.7 261.8h.01M171.9 247.1h.01M207.4 303.1h.01M207.9 303.9h.01M220.0 295.3h.01M178.0 304.8h.01M189.1 307.1h.01M229.0 308.2h.01M177.4 317.5h.01M214.4 234.2h.01M233.0 346.4h.01M218.9 306.5h.01M185.1 251.3h.01M204.6 290.3h.01M199.0 277.7h.01M209.9 276.4h.01M186.8 313.0h.01M203.0 292.2h.01M165.9 276.8h.01M215.3 241.5h.01M199.9 296.5h.01M222.9 261.7h.01M187.0 304.1h.01M202.7 322.9h.01M194.4 270.4h.01M206.0 294.0h.01M200.0 269.1h.01M210.3 246.6h.01M186.3 322.5h.01M206.3 273.2h.01M211.3 337.1h.01M195.0 302.8h.01M183.1 290.9h.01M171.1 270.1h.01M207.8 239.7h.01M165.9 297.7h.01M211.7 253.6h.01M206.7 306.8h.01M214.8 313.8h.01M215.8 278.0h.01M170.6 311.7h.01M192.8 295.9h.01M203.1 310.7h.01M186.1 279.1h.01M178.8 264.3h.01M183.8 311.1h.01M199.5 266.8h.01M196.8 275.2h.01M176.5 271.8h.01M203.6 314.7h.01M208.2 281.6h.01M193.0 262.3h.01M200.5 264.9h.01M207.8 328.1h.01M203.0 298.3h.01M206.5 302.1h.01M203.6 280.8h.01" stroke="#333" stroke-width="0.8" stroke-linecap="round" opacity="0.45" fill="none"/>
<path d="M227.6 324.7h.01M219.8 302.3h.01M214.5 341.6h.01M214.8 338.6h.01M212.3 301.5h.01M211.2 337.6h.01M260.6 322.3h.01M211.7 312.3h.01M234.3 327.9h.01M233.0 343.7h.01M217.0 318.9h.01M256.7 302.4h.01M220.1 341.0h.01M264.5 327.1h.01M210.5 326.1h.01M253.4 338.8h.01M262.8 320.7h.01M246.9 313.8h.01M261.4 323.6h.01M238.9 322.5h.01M224.1 334.9h.01M227.9 336.6h.01M269.9 315.4h.01M213.7 316.6h.01M269.6 317.6h.01M235.0 324.9h.01M217.5 319.6h.01M232.3 308.4h.01M236.1 315.0h.01M211.4 304.7h.01M219.7 310.7h.01M245.2 344.8h.01M251.0 343.6h.01M237.6 341.7h.01M257.3 312.8h.01M213.5 320.4h.01M266.7 327.6h.01M228.9 338.8h.01M210.4 307.0h.01M265.4 300.9h.01M222.2 302.6h.01M245.6 339.3h.01M260.4 344.1h.01M234.1 319.6h.01M265.5 315.4h.01M214.9 335.8h.01M261.5 342.4h.01M218.2 319.0h.01M220.3 322.8h.01M259.0 330.4h.01M238.9 327.1h.01M269.1 331.2h.01M228.8 341.7h.01M236.3 308.5h.01M265.1 328.8h.01M211.4 344.1h.01M259.6 333.6h.01M225.1 334.6h.01M257.2 300.5h.01M217.6 302.6h.01" stroke="#555" stroke-width="0.8" stroke-linecap="round" opacity="0.5" fill="none"/>
<rect x="161.5" y="229.9" width="119.89999999999998" height="118.9" fill="none" stroke="#646464" stroke-width="1"/>
<line x1="207" y1="229.9" x2="207" y2="348.8" stroke="#646464" stroke-width="1"/>
<line x1="161.5" y1="314.3" x2="281.4" y2="314.3" stroke="#646464" stroke-width="1"/>
<path d="M160.9 233.9h1.8M160.9 236.4h1.8M160.9 239.6h1.8M160.9 242.8h1.8M160.9 246.9h1.8M160.9 251.0h1.8M160.9 254.2h1.8M160.9 258.3h1.8M160.9 260.8h1.8M160.9 264.0h1.8M160.9 267.2h1.8M160.9 269.7h1.8M160.9 275.2h1.8M160.9 277.7h1.8M160.9 280.2h1.8M160.9 283.4h1.8M160.9 285.9h1.8M160.9 288.4h1.8M160.9 296.4h1.8M160.9 301.9h1.8M160.9 304.4h1.8M160.9 308.5h1.8M160.9 316.5h1.8M160.9 320.6h1.8M160.9 324.7h1.8M160.9 332.7h1.8M160.9 338.2h1.8M160.9 340.7h1.8M160.9 343.2h1.8M164.5 349.40000000000003v-1.8M169.5 349.40000000000003v-1.8M176.5 349.40000000000003v-1.8M179.0 349.40000000000003v-1.8M186.0 349.40000000000003v-1.8M193.0 349.40000000000003v-1.8M198.0 349.40000000000003v-1.8M201.5 349.40000000000003v-1.8M206.5 349.40000000000003v-1.8M213.5 349.40000000000003v-1.8M223.5 349.40000000000003v-1.8M227.0 349.40000000000003v-1.8M232.0 349.40000000000003v-1.8M239.0 349.40000000000003v-1.8M244.0 349.40000000000003v-1.8M251.0 349.40000000000003v-1.8M261.0 349.40000000000003v-1.8M263.5 349.40000000000003v-1.8M267.0 349.40000000000003v-1.8M274.0 349.40000000000003v-1.8" stroke="#333" stroke-width="0.9" fill="none"/>
<rect x="161.5" y="230.4" width="26.0" height="9.099999999999994" fill="rgba(255,255,255,0.88)" stroke="#b0b0b0" stroke-width="0.9"/>
<text x="162.9" y="238.12" font-size="8.8" text-anchor="start" font-weight="normal" fill="#1a1a1a" textLength="24" lengthAdjust="spacingAndGlyphs" >63.30%</text>
<rect x="244.6" y="230" width="25.400000000000006" height="9.300000000000011" fill="rgba(255,255,255,0.88)" stroke="#b0b0b0" stroke-width="0.9"/>
<text x="246.0" y="237.82" font-size="8.8" text-anchor="start" font-weight="normal" fill="#1a1a1a" textLength="23.5" lengthAdjust="spacingAndGlyphs" >26.14%</text>
<rect x="161.5" y="333" width="20.80000000000001" height="9.300000000000011" fill="rgba(255,255,255,0.88)" stroke="#b0b0b0" stroke-width="0.9"/>
<text x="162.9" y="340.82" font-size="8.8" text-anchor="start" font-weight="normal" fill="#1a1a1a" textLength="19" lengthAdjust="spacingAndGlyphs" >9.95%</text>
<rect x="244.6" y="338.4" width="21.400000000000006" height="8.900000000000034" fill="rgba(255,255,255,0.88)" stroke="#b0b0b0" stroke-width="0.9"/>
<text x="246.0" y="346.02" font-size="8.8" text-anchor="start" font-weight="normal" fill="#1a1a1a" textLength="19.5" lengthAdjust="spacingAndGlyphs" >0.61%</text>
<text transform="translate(24.9,289) rotate(-90)" x="0" y="3.71" font-size="10.3" text-anchor="middle" font-weight="bold" fill="#222" textLength="38" lengthAdjust="spacingAndGlyphs">IFN-gamma</text>
<line x1="35" y1="355.6" x2="276" y2="355.6" stroke="#2d9cc4" stroke-width="1.7"/>
<path d="M281 355.6 L273 352.5 L275.5 355.6 L273 358.70000000000005 Z" fill="#2d9cc4"/>
<text x="151.3" y="368.4" font-size="10.5" text-anchor="start" font-weight="bold" fill="#222" textLength="14.2" lengthAdjust="spacingAndGlyphs" >IL-2</text>
<line x1="379.8" y1="201" x2="379.8" y2="344.8" stroke="#111" stroke-width="1.3"/>
<line x1="379.2" y1="344.2" x2="480.8" y2="344.2" stroke="#111" stroke-width="1.3"/>
<line x1="376.2" y1="344.2" x2="379.8" y2="344.2" stroke="#111" stroke-width="1.1"/>
<text x="372.9" y="347.0" font-size="8.8" text-anchor="end" font-weight="normal" fill="#1a1a1a" >0</text>
<line x1="376.2" y1="316.3" x2="379.8" y2="316.3" stroke="#111" stroke-width="1.1"/>
<text x="372.9" y="319.1" font-size="8.8" text-anchor="end" font-weight="normal" fill="#1a1a1a" >20</text>
<line x1="376.2" y1="288.4" x2="379.8" y2="288.4" stroke="#111" stroke-width="1.1"/>
<text x="372.9" y="291.2" font-size="8.8" text-anchor="end" font-weight="normal" fill="#1a1a1a" >40</text>
<line x1="376.2" y1="260.5" x2="379.8" y2="260.5" stroke="#111" stroke-width="1.1"/>
<text x="372.9" y="263.3" font-size="8.8" text-anchor="end" font-weight="normal" fill="#1a1a1a" >60</text>
<line x1="376.2" y1="232.6" x2="379.8" y2="232.6" stroke="#111" stroke-width="1.1"/>
<text x="372.9" y="235.4" font-size="8.8" text-anchor="end" font-weight="normal" fill="#1a1a1a" >80</text>
<line x1="376.2" y1="204.7" x2="379.8" y2="204.7" stroke="#111" stroke-width="1.1"/>
<text x="372.9" y="207.5" font-size="8.8" text-anchor="end" font-weight="normal" fill="#1a1a1a" >100</text>
<line x1="399.6" y1="344.2" x2="399.6" y2="347.4" stroke="#111" stroke-width="1.1"/>
<line x1="429.4" y1="344.2" x2="429.4" y2="347.4" stroke="#111" stroke-width="1.1"/>
<line x1="459.8" y1="344.2" x2="459.8" y2="347.4" stroke="#111" stroke-width="1.1"/>
<circle cx="399.5" cy="223.5" r="2.1" fill="#c67522" stroke="#8a5212" stroke-width="0.6"/>
<circle cx="395.0" cy="240.1" r="2.1" fill="#c67522" stroke="#8a5212" stroke-width="0.6"/>
<circle cx="404.1" cy="237.3" r="2.1" fill="#c67522" stroke="#8a5212" stroke-width="0.6"/>
<line x1="389.8" y1="233.3" x2="409.2" y2="233.3" stroke="#222" stroke-width="1.1"/>
<line x1="399.5" y1="224.2" x2="399.5" y2="242.4" stroke="#222" stroke-width="1"/>
<line x1="394.5" y1="224.2" x2="404.5" y2="224.2" stroke="#222" stroke-width="1"/>
<line x1="394.5" y1="242.4" x2="404.5" y2="242.4" stroke="#222" stroke-width="1"/>
<circle cx="430" cy="220.9" r="2.1" fill="#c67522" stroke="#8a5212" stroke-width="0.6"/>
<circle cx="424.8" cy="226.7" r="2.1" fill="#c67522" stroke="#8a5212" stroke-width="0.6"/>
<circle cx="435.2" cy="226.7" r="2.1" fill="#c67522" stroke="#8a5212" stroke-width="0.6"/>
<line x1="420.3" y1="224.5" x2="439.7" y2="224.5" stroke="#222" stroke-width="1.1"/>
<line x1="430" y1="221.2" x2="430" y2="227.3" stroke="#222" stroke-width="1"/>
<line x1="425" y1="221.2" x2="435" y2="221.2" stroke="#222" stroke-width="1"/>
<line x1="425" y1="227.3" x2="435" y2="227.3" stroke="#222" stroke-width="1"/>
<circle cx="459.7" cy="290.2" r="2.1" fill="#c67522" stroke="#8a5212" stroke-width="0.6"/>
<circle cx="459.7" cy="295.9" r="2.1" fill="#c67522" stroke="#8a5212" stroke-width="0.6"/>
<circle cx="459.7" cy="301.5" r="2.1" fill="#c67522" stroke="#8a5212" stroke-width="0.6"/>
<line x1="449.4" y1="295.9" x2="470.0" y2="295.9" stroke="#222" stroke-width="1.1"/>
<line x1="459.7" y1="290.8" x2="459.7" y2="301.0" stroke="#222" stroke-width="1"/>
<line x1="454.4" y1="290.8" x2="465.0" y2="290.8" stroke="#222" stroke-width="1"/>
<line x1="454.4" y1="301.0" x2="465.0" y2="301.0" stroke="#222" stroke-width="1"/>
<text x="431.5" y="204.6" font-size="8" text-anchor="start" font-weight="normal" fill="#222" >**</text>
<text x="440.3" y="204.6" font-size="9.6" text-anchor="start" font-weight="normal" fill="#222" textLength="26.3" lengthAdjust="spacingAndGlyphs" ><tspan font-style="italic">P</tspan> &lt; .01</text>
<line x1="430.9" y1="209.1" x2="467.9" y2="209.1" stroke="#222" stroke-width="1.1"/>
<text transform="translate(348.5,274.5) rotate(-90)" x="0" y="3.60" font-size="10" text-anchor="middle" font-weight="bold" fill="#1a1a1a" textLength="73" lengthAdjust="spacingAndGlyphs">Viable huCD20+ cells</text>
<g transform="translate(400.5,356.4) rotate(-45)"><text x="0" y="0.0" font-size="8.6" text-anchor="end" fill="#1a1a1a">Ctrl-No BsAb</text></g>
<g transform="translate(426.2,353.6) rotate(-45)"><text x="0" y="0.0" font-size="8.6" text-anchor="end" fill="#1a1a1a">Ctrl-CD123 x</text><text x="0" y="10.0" font-size="8.6" text-anchor="end" fill="#1a1a1a">CD3 BsAb</text></g>
<g transform="translate(463.5,353.6) rotate(-45)"><text x="0" y="0.0" font-size="8.6" text-anchor="end" fill="#1a1a1a">Exp-CD20 x</text><text x="0" y="10.0" font-size="8.6" text-anchor="end" fill="#1a1a1a">CD3 BsAb</text></g>
<text x="95" y="426.6" font-size="10.4" text-anchor="middle" font-weight="normal" fill="#1a1a1a" >Control</text>
<text x="95" y="439.0" font-size="10.4" text-anchor="middle" font-weight="normal" fill="#1a1a1a" >no BsAb</text>
<text x="221.3" y="426.6" font-size="10.4" text-anchor="middle" font-weight="normal" fill="#1a1a1a" >Control</text>
<text x="221.3" y="439.0" font-size="10.4" text-anchor="middle" font-weight="normal" fill="#1a1a1a" >CD123 x CD3 BsAb</text>
<text x="347.3" y="426.6" font-size="10.4" text-anchor="middle" font-weight="normal" fill="#1a1a1a" >Exp</text>
<text x="347.3" y="439.0" font-size="10.4" text-anchor="middle" font-weight="normal" fill="#1a1a1a" >CD20 x CD3(blina)</text>
<path d="M60.9 528.9h.01M95.0 530.9h.01M80.4 538.5h.01M79.9 543.8h.01M60.6 523.4h.01M94.6 539.0h.01M67.7 529.6h.01M118.7 531.2h.01M66.7 543.1h.01M58.3 520.8h.01M101.5 541.6h.01M97.8 543.2h.01M71.7 552.6h.01M120.1 537.9h.01M87.6 543.3h.01M70.2 524.8h.01M64.5 527.1h.01M87.9 550.0h.01M68.3 541.8h.01M83.9 529.4h.01M90.4 547.2h.01M83.8 549.5h.01M63.5 551.2h.01M63.5 531.9h.01M59.1 534.6h.01M85.5 548.4h.01M81.5 530.1h.01M55.2 552.6h.01M82.1 528.0h.01M76.8 539.9h.01M64.9 526.8h.01M81.7 533.9h.01M51.0 535.5h.01M55.8 536.3h.01M63.5 532.9h.01M67.8 546.4h.01M65.9 542.5h.01M63.2 535.1h.01M76.5 543.5h.01M74.4 532.9h.01M98.8 533.9h.01M80.5 543.9h.01M66.1 534.2h.01M71.7 545.4h.01M57.7 544.6h.01M89.2 515.1h.01M74.2 520.3h.01M59.7 539.6h.01M80.8 529.6h.01M115.4 533.8h.01M74.4 537.0h.01M85.3 534.2h.01M112.0 532.7h.01M75.9 541.4h.01M73.8 538.9h.01M106.8 534.0h.01M55.3 536.9h.01M53.7 528.4h.01M57.5 532.1h.01M83.8 548.9h.01M61.9 544.3h.01M70.9 549.3h.01M85.5 536.4h.01M72.2 536.5h.01M65.2 523.3h.01M69.7 539.2h.01M86.6 524.9h.01M67.8 535.2h.01M81.9 534.7h.01M58.3 530.0h.01M77.9 540.1h.01M61.4 554.8h.01M63.7 525.4h.01M91.2 519.3h.01M61.9 539.8h.01M80.1 533.9h.01M67.3 546.5h.01M69.5 535.2h.01M64.8 526.1h.01M69.2 524.8h.01M86.3 540.2h.01M54.8 549.1h.01M87.7 537.4h.01M79.6 522.3h.01M64.6 525.9h.01M63.8 548.4h.01M66.9 541.1h.01M55.1 552.9h.01M60.5 534.5h.01M63.0 531.1h.01M76.3 527.8h.01M71.4 538.5h.01M94.2 541.1h.01M67.5 547.2h.01M75.6 520.7h.01M57.0 546.4h.01M82.4 538.4h.01M60.2 541.0h.01M58.8 534.5h.01M68.8 529.5h.01M81.3 532.3h.01M73.9 534.2h.01M74.9 553.3h.01M94.7 527.1h.01M58.3 526.3h.01M73.5 544.5h.01M77.8 536.5h.01M77.1 516.0h.01M103.1 537.7h.01M115.6 526.4h.01M89.6 535.0h.01M78.6 549.5h.01M102.7 541.4h.01M52.7 545.1h.01M57.8 543.4h.01M87.8 532.4h.01M70.7 520.7h.01M64.0 535.6h.01M55.6 537.3h.01M76.0 536.2h.01M99.2 528.3h.01M51.4 552.6h.01M68.5 525.1h.01M51.5 525.5h.01M61.6 547.5h.01M71.1 554.4h.01M71.6 526.6h.01M82.8 529.7h.01M89.7 529.1h.01M80.3 527.2h.01M65.4 541.6h.01M92.4 517.1h.01M61.7 539.8h.01M70.8 533.9h.01M64.7 523.5h.01M119.3 534.0h.01M103.6 539.9h.01M102.4 523.6h.01M70.9 542.5h.01M100.5 539.2h.01M89.2 554.1h.01M46.8 556.4h.01M95.9 540.0h.01M84.9 550.6h.01M80.7 536.5h.01M76.2 524.7h.01M55.3 555.1h.01M64.4 553.6h.01M79.1 531.7h.01M94.7 541.0h.01M71.2 539.2h.01M103.0 534.2h.01M91.4 550.5h.01M71.8 529.3h.01M66.7 547.0h.01M86.6 535.7h.01M64.7 534.8h.01M81.3 532.9h.01M97.0 546.1h.01M77.6 530.4h.01M97.3 542.6h.01M80.2 551.1h.01M81.1 529.3h.01M98.3 538.0h.01M75.8 551.3h.01M112.8 536.8h.01M81.2 541.3h.01M77.6 549.7h.01M74.4 524.4h.01M54.5 531.1h.01M108.7 557.6h.01M92.0 525.7h.01M81.6 546.4h.01M43.5 525.1h.01M83.4 535.3h.01M77.9 532.6h.01M78.8 542.7h.01M82.5 522.5h.01M87.8 535.6h.01M94.7 552.3h.01M54.5 538.3h.01M69.9 536.6h.01M102.5 548.1h.01M63.4 545.6h.01M59.9 535.2h.01M68.6 545.8h.01M63.0 535.4h.01M56.5 543.7h.01M116.8 537.5h.01M62.0 548.2h.01M69.5 537.0h.01M79.7 523.1h.01M65.2 529.4h.01M98.0 549.0h.01M72.2 540.7h.01M102.6 536.0h.01M64.2 541.7h.01M62.1 521.0h.01M59.8 539.5h.01M63.0 544.8h.01M53.8 542.1h.01M97.7 534.7h.01M70.2 547.0h.01M59.3 523.9h.01M85.2 535.9h.01M58.6 525.5h.01M67.3 545.1h.01M73.0 523.4h.01M77.1 522.1h.01M114.5 517.7h.01M113.4 537.7h.01M56.3 536.5h.01M79.8 540.2h.01M101.9 542.7h.01M91.1 551.5h.01M84.7 528.2h.01M83.2 531.8h.01M59.1 534.0h.01M81.9 536.0h.01M91.1 527.3h.01M73.1 531.8h.01M59.4 545.6h.01M76.5 542.6h.01M70.0 544.6h.01M91.8 543.9h.01M83.1 539.2h.01M48.9 534.9h.01M63.3 546.0h.01M84.7 538.3h.01M72.5 531.7h.01M53.4 530.2h.01M80.2 538.7h.01M110.1 535.2h.01M89.5 538.2h.01M79.3 546.5h.01M79.7 553.6h.01M76.0 530.7h.01M62.5 523.5h.01M69.1 527.4h.01M61.5 539.3h.01M79.9 538.9h.01M52.7 529.5h.01M61.6 528.3h.01M86.7 527.4h.01M61.4 542.1h.01M65.9 528.5h.01M90.8 506.8h.01M101.2 542.1h.01M129.1 534.8h.01M73.5 552.0h.01M63.3 530.0h.01M66.1 548.5h.01M68.0 535.5h.01M68.0 540.0h.01M79.0 535.4h.01M78.4 545.2h.01M87.0 540.4h.01M60.3 529.6h.01M67.8 511.8h.01M71.7 546.7h.01M56.0 530.7h.01M70.1 542.7h.01M74.2 542.3h.01M45.1 545.6h.01M64.1 535.2h.01M49.4 538.1h.01M71.6 518.6h.01M87.8 552.4h.01M46.3 543.1h.01M65.6 526.4h.01M64.8 527.3h.01M101.5 529.7h.01M53.2 523.3h.01M74.1 538.0h.01M65.6 553.8h.01M50.4 536.0h.01M75.3 529.8h.01M53.6 528.1h.01M98.3 540.2h.01M74.1 527.7h.01M55.7 544.7h.01M94.6 526.4h.01M53.9 528.4h.01M83.4 530.5h.01M76.9 532.0h.01M78.5 528.9h.01M86.6 541.7h.01M89.7 530.6h.01M88.6 539.3h.01M73.5 523.1h.01M80.8 541.8h.01M67.6 535.4h.01M54.4 534.8h.01M114.4 537.7h.01M79.3 541.6h.01M107.6 518.3h.01M64.3 545.8h.01M60.5 531.2h.01M55.4 532.8h.01M75.2 548.4h.01M62.8 547.2h.01M51.3 544.7h.01M74.4 550.7h.01M55.8 532.8h.01M96.3 544.2h.01M90.9 537.8h.01M52.5 543.6h.01M61.3 547.4h.01M71.3 542.1h.01M106.2 524.9h.01M63.7 542.9h.01M67.7 552.0h.01M87.9 534.2h.01M76.5 527.2h.01M73.5 540.9h.01M95.3 529.1h.01M53.6 523.6h.01M59.5 541.2h.01M50.9 520.7h.01M78.7 552.8h.01M101.9 536.2h.01M45.9 519.0h.01M109.6 544.2h.01M73.5 525.2h.01M81.4 536.4h.01M99.2 533.2h.01M49.6 531.2h.01M76.2 537.1h.01M54.6 547.0h.01M106.0 544.4h.01M69.7 550.9h.01M97.2 544.7h.01M82.9 544.4h.01M84.3 545.5h.01M68.3 543.8h.01M52.5 540.7h.01M55.2 536.0h.01M65.9 538.7h.01M46.5 534.7h.01M76.1 529.9h.01M81.2 534.6h.01M59.3 541.3h.01M83.2 525.4h.01M71.0 537.9h.01M73.0 533.5h.01M76.6 544.0h.01M100.0 540.2h.01M52.9 542.0h.01M45.6 522.7h.01M79.1 550.5h.01M85.6 540.2h.01M75.4 530.8h.01M51.5 543.6h.01M97.1 540.1h.01M72.8 522.6h.01M70.4 539.4h.01M109.3 535.2h.01M83.2 542.3h.01M98.9 536.4h.01M48.4 545.6h.01M68.5 528.9h.01M96.8 536.1h.01M77.4 528.6h.01M101.8 550.6h.01M56.1 528.4h.01M58.3 558.2h.01M87.4 541.9h.01M66.6 532.9h.01M85.9 528.5h.01M88.0 523.4h.01M73.3 540.5h.01M78.2 528.2h.01M53.6 540.1h.01M78.1 540.7h.01M70.9 524.2h.01M55.7 542.5h.01M72.7 546.3h.01M66.1 539.4h.01M70.1 544.4h.01M61.6 535.5h.01M69.6 523.3h.01M88.4 530.5h.01M78.9 531.6h.01M70.6 545.7h.01M80.8 534.2h.01M88.1 531.9h.01M51.6 535.3h.01M95.3 548.9h.01M51.0 535.6h.01M46.5 531.4h.01M57.9 537.6h.01M109.4 540.3h.01M52.5 533.8h.01M66.3 540.3h.01M67.4 535.5h.01M63.3 540.2h.01M67.9 543.2h.01M78.1 527.9h.01M81.2 542.2h.01M95.3 528.2h.01M81.9 532.7h.01M84.4 539.7h.01M79.1 538.0h.01M93.9 541.0h.01M76.9 532.3h.01M71.8 530.9h.01M56.1 521.4h.01M86.8 526.2h.01M60.2 541.0h.01M89.4 526.9h.01M62.5 537.5h.01M93.0 523.7h.01M80.7 533.1h.01M83.6 527.4h.01M68.5 536.8h.01M57.9 546.1h.01M42.1 537.5h.01M83.2 542.4h.01M70.5 528.7h.01M69.1 543.8h.01M47.4 544.4h.01M94.5 542.5h.01M52.2 518.9h.01M84.7 547.1h.01M76.6 543.6h.01M76.9 544.0h.01M62.1 520.9h.01M90.1 545.2h.01M87.0 531.8h.01M53.9 542.1h.01M104.4 530.2h.01M64.1 546.1h.01M61.9 527.8h.01M75.0 544.5h.01M37.6 558.2h.01M103.2 522.1h.01M86.0 543.7h.01M74.3 528.1h.01M102.9 524.1h.01M71.8 552.4h.01M66.3 540.5h.01M60.3 529.9h.01M73.8 536.9h.01M55.6 551.9h.01M68.1 539.7h.01M86.1 539.1h.01M77.8 514.1h.01M82.8 531.3h.01M122.2 530.4h.01M89.6 548.2h.01M79.8 530.4h.01M67.4 534.8h.01M58.3 551.6h.01M109.5 560.8h.01M88.9 546.7h.01M56.7 511.5h.01M72.6 529.7h.01M75.9 529.8h.01M106.0 527.3h.01M72.2 538.1h.01M68.5 526.1h.01M58.9 553.2h.01M81.8 553.7h.01M79.1 549.7h.01M89.4 535.9h.01M83.7 546.1h.01M60.4 525.9h.01M74.0 545.9h.01M81.9 545.7h.01M52.8 550.9h.01M71.9 544.9h.01M72.8 538.0h.01M91.3 525.1h.01M90.2 541.5h.01M74.7 542.5h.01M60.4 542.2h.01M74.3 534.3h.01M79.1 531.1h.01M61.3 537.0h.01M69.2 546.6h.01M58.0 526.5h.01M92.8 537.3h.01M94.7 531.4h.01M89.3 541.8h.01M76.7 526.7h.01M75.7 545.5h.01M100.9 541.6h.01M47.8 542.1h.01M62.8 544.4h.01M72.1 546.2h.01M93.6 548.1h.01M53.3 551.3h.01M64.7 544.9h.01M110.7 543.4h.01M79.4 533.9h.01M70.1 542.8h.01M62.8 533.9h.01M61.5 531.5h.01M62.8 539.5h.01M70.4 544.7h.01M92.4 520.4h.01M78.5 540.9h.01M56.1 545.3h.01M51.8 557.8h.01M76.0 554.9h.01M38.5 522.5h.01M95.5 539.2h.01M95.9 532.3h.01M55.6 548.3h.01M73.4 543.5h.01M66.4 546.9h.01M116.1 541.5h.01M95.3 542.1h.01M43.2 539.0h.01M77.2 528.0h.01M58.8 530.9h.01M89.1 535.1h.01M59.0 537.5h.01M89.8 533.5h.01M56.0 541.2h.01M59.4 532.7h.01M75.5 520.0h.01M59.8 551.0h.01M46.2 525.6h.01M78.8 556.0h.01M97.4 539.7h.01M80.2 535.7h.01M91.1 514.4h.01M76.6 546.1h.01M73.2 548.5h.01M58.6 530.0h.01M54.4 530.8h.01M51.6 551.6h.01M64.7 535.2h.01M91.5 542.1h.01M55.9 520.1h.01M64.5 540.1h.01M71.5 545.0h.01M72.2 538.6h.01M70.6 547.4h.01M77.3 547.6h.01M84.6 540.6h.01M46.9 543.4h.01M74.2 551.0h.01M64.7 528.1h.01M76.7 515.0h.01M79.6 537.9h.01M81.1 525.2h.01M58.3 548.2h.01M76.3 542.2h.01M79.6 534.4h.01M65.4 556.3h.01M71.5 543.5h.01M42.0 522.0h.01M88.0 533.1h.01M63.8 534.4h.01M71.0 539.4h.01M78.9 539.5h.01M73.7 542.6h.01M52.4 540.8h.01M63.3 550.0h.01M55.5 532.5h.01M76.2 541.1h.01M89.3 546.0h.01M67.2 551.8h.01M72.3 553.1h.01M67.0 535.2h.01M91.5 548.0h.01M73.5 537.5h.01M57.3 543.2h.01M79.4 517.7h.01M82.7 548.3h.01M85.6 550.5h.01M65.4 531.3h.01M66.5 542.5h.01M75.7 556.8h.01M83.7 533.1h.01M76.1 530.0h.01M62.4 557.3h.01M98.2 527.7h.01M94.0 538.5h.01M77.5 531.6h.01M72.2 538.3h.01M68.3 528.9h.01M79.5 525.4h.01M58.1 547.0h.01M67.6 543.8h.01M44.4 541.2h.01M66.7 557.0h.01M75.3 538.4h.01M60.7 529.9h.01M93.0 522.7h.01M56.2 527.7h.01M82.9 531.4h.01M83.3 515.3h.01M49.4 545.5h.01M96.3 532.6h.01M86.5 544.2h.01M88.0 534.6h.01M48.6 544.1h.01M77.1 533.7h.01M66.5 536.1h.01M59.3 532.6h.01M95.8 550.7h.01M72.5 549.7h.01M89.4 554.4h.01M81.8 549.9h.01M98.0 546.0h.01M74.1 530.5h.01M83.3 542.2h.01M52.6 528.3h.01M81.0 542.2h.01M70.1 538.8h.01M75.7 527.1h.01M95.0 513.6h.01M53.1 518.4h.01M74.4 543.0h.01M78.8 553.6h.01M94.5 556.5h.01M74.2 525.7h.01M105.4 532.2h.01M74.7 550.4h.01M67.3 532.9h.01M64.3 539.0h.01M51.7 522.8h.01M88.9 545.6h.01M77.2 532.2h.01M87.7 549.9h.01M77.9 541.4h.01M109.6 544.1h.01M68.9 545.7h.01M78.4 545.9h.01M77.7 517.1h.01M55.9 537.1h.01M42.2 545.1h.01M104.4 528.1h.01M106.6 533.7h.01M48.2 552.9h.01M57.9 534.7h.01M86.7 533.5h.01M91.2 532.1h.01M77.6 525.7h.01M75.4 526.9h.01M72.7 546.8h.01M74.6 540.8h.01M91.9 538.5h.01M46.5 553.0h.01M52.4 540.1h.01M75.3 534.2h.01M103.1 542.7h.01" stroke="#e86a58" stroke-width="1.0" stroke-linecap="round" opacity="0.5" fill="none"/>
<path d="M70.5 537.6h.01M63.3 538.7h.01M48.7 547.5h.01M86.4 540.2h.01M70.6 542.4h.01M70.9 535.2h.01M69.7 540.4h.01M71.4 541.2h.01M54.1 539.0h.01M68.0 558.2h.01M66.3 541.1h.01M71.9 533.0h.01M86.3 543.9h.01M67.9 543.9h.01M74.0 549.1h.01M68.9 546.4h.01M66.3 546.5h.01M60.6 543.4h.01M69.5 540.6h.01M57.5 541.3h.01M63.0 540.4h.01M78.6 544.9h.01M68.3 550.3h.01M71.1 536.5h.01M84.4 530.0h.01M82.5 540.3h.01M67.4 541.1h.01M63.8 542.0h.01M77.6 540.4h.01M66.0 554.5h.01M61.8 543.8h.01M63.2 540.3h.01M69.4 538.8h.01M71.9 531.8h.01M60.0 536.5h.01M73.1 535.7h.01M66.0 547.5h.01M73.2 533.5h.01M69.9 543.9h.01M68.5 556.4h.01M76.9 540.9h.01M70.1 550.1h.01M80.1 541.8h.01M69.5 536.7h.01M65.4 542.3h.01M72.6 534.2h.01M76.1 537.1h.01M56.5 540.4h.01M64.1 536.7h.01M82.3 549.6h.01M81.6 554.3h.01M66.6 537.0h.01M43.3 544.1h.01M63.7 540.4h.01M64.4 535.8h.01M65.9 538.1h.01M62.5 537.7h.01M68.6 536.5h.01M64.8 545.3h.01M75.9 536.6h.01M52.3 543.0h.01M79.2 537.3h.01M67.0 539.4h.01M75.0 536.6h.01M56.7 542.3h.01M79.0 534.3h.01M66.0 539.3h.01M58.0 544.7h.01M68.2 550.0h.01M78.2 545.5h.01M74.6 531.1h.01M64.0 539.2h.01M80.9 539.4h.01M60.8 537.7h.01M56.5 545.8h.01M55.9 542.0h.01M82.4 543.1h.01M58.6 535.7h.01M55.0 542.3h.01M82.5 543.7h.01M69.7 548.6h.01M77.2 549.3h.01M66.8 539.7h.01M76.3 533.8h.01M74.0 546.2h.01M71.3 540.4h.01M76.8 548.0h.01M64.6 542.9h.01M75.7 544.1h.01M71.3 546.8h.01M87.0 533.3h.01M66.1 537.0h.01M61.8 539.6h.01M72.8 534.7h.01M70.6 535.9h.01M63.6 535.2h.01M79.7 543.1h.01M61.2 534.7h.01M68.8 547.2h.01M71.7 545.3h.01M71.6 539.3h.01M68.4 540.0h.01M69.5 544.0h.01M70.4 527.1h.01M62.1 531.2h.01M85.2 541.2h.01M77.8 541.3h.01M59.0 532.0h.01M52.0 536.4h.01M62.0 543.8h.01M51.5 546.7h.01M82.1 550.4h.01M67.1 537.3h.01M84.3 538.3h.01M68.6 539.2h.01M85.8 535.3h.01M61.9 542.8h.01M82.9 546.6h.01M72.2 550.4h.01M60.3 544.8h.01M52.5 544.4h.01M81.9 533.3h.01M65.1 531.2h.01M74.1 532.7h.01M78.9 537.8h.01M69.4 550.7h.01M70.6 549.4h.01M57.9 540.3h.01M59.1 550.5h.01M78.2 546.7h.01M67.4 532.4h.01M71.6 543.2h.01M62.3 544.8h.01M62.5 536.1h.01M84.1 531.3h.01M65.6 530.6h.01M79.8 529.3h.01M69.5 547.9h.01M75.1 539.8h.01M84.0 539.1h.01M71.2 527.3h.01M62.2 536.2h.01M64.9 545.6h.01M72.5 532.7h.01M74.1 551.6h.01M87.4 537.7h.01M67.5 545.3h.01M54.0 546.4h.01M65.1 535.2h.01M61.6 545.7h.01M65.0 532.1h.01M67.9 536.6h.01M78.5 545.5h.01M60.6 548.7h.01M70.8 545.8h.01M76.7 535.7h.01M77.8 544.9h.01M61.7 542.0h.01M58.0 535.6h.01M72.2 537.0h.01M91.6 539.8h.01M75.6 541.0h.01M65.7 557.6h.01M80.0 546.9h.01M61.3 559.7h.01M74.3 535.4h.01M72.7 542.2h.01M69.2 539.0h.01M68.3 537.6h.01M78.4 539.2h.01M61.6 546.4h.01M86.3 539.8h.01M62.4 538.8h.01M80.7 545.1h.01M73.9 553.0h.01M74.0 543.1h.01M56.6 537.4h.01M63.1 543.4h.01M57.7 544.0h.01M66.5 544.1h.01M68.0 546.8h.01M69.5 542.6h.01M65.9 543.8h.01M70.4 537.4h.01M87.5 532.8h.01M54.5 552.4h.01M66.1 531.9h.01M73.9 542.8h.01M55.7 533.2h.01M77.7 547.8h.01M55.3 545.7h.01M66.0 538.5h.01M77.7 525.9h.01M64.1 547.0h.01M58.3 542.6h.01M78.7 534.1h.01M67.6 553.3h.01M80.0 539.9h.01M88.0 539.2h.01M54.3 538.5h.01M67.1 545.1h.01M81.3 522.2h.01M73.4 537.3h.01M61.3 526.2h.01M75.8 539.2h.01M70.6 548.7h.01M78.1 540.9h.01M89.1 538.9h.01M75.6 545.2h.01M62.6 537.0h.01M80.1 538.4h.01M69.7 552.5h.01M64.2 552.3h.01M70.9 533.3h.01M92.8 536.8h.01M69.4 533.5h.01M65.3 538.0h.01M63.5 548.9h.01M64.7 539.6h.01M76.8 533.1h.01M62.1 553.1h.01M63.5 537.4h.01M78.6 534.1h.01M79.1 539.3h.01M65.1 538.8h.01M77.3 539.5h.01M73.4 536.7h.01M55.6 541.8h.01M83.1 541.7h.01M82.1 534.0h.01M75.7 526.5h.01M57.6 547.3h.01M57.8 539.5h.01M76.5 538.4h.01M76.0 533.9h.01M57.2 540.5h.01M58.5 546.8h.01M67.8 544.2h.01M67.6 540.4h.01M65.8 538.6h.01M68.3 539.0h.01M65.7 538.8h.01M71.3 539.5h.01M86.6 546.0h.01M68.0 542.4h.01M70.1 535.2h.01M67.1 534.2h.01M80.3 539.7h.01M64.0 535.5h.01M55.4 547.0h.01M61.4 529.6h.01M60.6 549.1h.01M80.7 546.7h.01M79.1 542.1h.01M62.3 537.6h.01M67.4 544.8h.01M68.8 539.0h.01M60.2 542.7h.01M79.6 536.2h.01M58.6 540.3h.01M86.5 536.9h.01M59.6 540.8h.01M50.5 546.5h.01M81.0 544.0h.01M68.5 541.9h.01M61.4 531.3h.01M75.1 545.9h.01M71.6 544.8h.01M71.2 532.5h.01M77.7 543.4h.01M85.9 545.3h.01M81.7 541.8h.01M79.9 554.5h.01M70.9 544.8h.01M71.6 533.7h.01M70.3 548.7h.01M90.7 543.9h.01M81.1 539.9h.01M63.8 542.5h.01M95.0 540.4h.01M64.3 545.4h.01M63.8 544.1h.01M91.4 536.3h.01M62.9 539.7h.01M69.9 547.5h.01M93.8 539.8h.01M85.7 545.9h.01M65.1 545.0h.01M69.0 533.5h.01M65.1 543.9h.01M60.0 553.4h.01M60.0 548.5h.01M63.1 543.3h.01M82.0 533.5h.01M56.8 541.2h.01M66.4 538.7h.01M89.2 541.3h.01M56.2 539.6h.01M57.6 542.6h.01M48.5 536.7h.01M77.2 535.9h.01M52.5 539.0h.01M59.9 541.1h.01M62.2 545.3h.01M85.9 540.2h.01M69.4 540.9h.01M75.8 528.6h.01M60.2 539.7h.01M59.9 541.5h.01M91.2 539.7h.01M74.2 545.7h.01M71.4 550.4h.01M81.2 540.1h.01M77.8 534.6h.01M67.0 533.3h.01M73.4 542.9h.01M57.7 539.5h.01M61.8 530.6h.01M69.7 541.3h.01M59.5 539.6h.01M80.7 549.6h.01M74.5 532.3h.01M71.6 540.8h.01M72.0 543.8h.01M73.1 550.7h.01M68.5 539.5h.01M68.0 534.6h.01M76.8 533.0h.01M65.1 539.5h.01M69.6 541.6h.01M61.1 551.7h.01M78.5 544.9h.01M87.1 550.0h.01M74.6 539.5h.01M71.7 535.4h.01M77.4 537.0h.01M78.2 527.8h.01M39.5 548.2h.01M73.9 546.0h.01M76.4 535.4h.01M73.2 548.0h.01M58.3 532.9h.01M68.3 545.0h.01M60.4 541.0h.01M66.5 533.1h.01M66.6 545.2h.01M63.3 546.1h.01M72.3 547.1h.01M72.5 534.0h.01M85.4 550.8h.01" stroke="#dc3c28" stroke-width="1.0" stroke-linecap="round" opacity="0.5" fill="none"/>
<path d="M108.6 470.4h.01M95.2 491.1h.01M87.4 511.2h.01M43.6 469.2h.01M99.7 498.0h.01M100.0 502.6h.01M100.8 510.8h.01M58.1 491.7h.01M106.2 477.4h.01M87.7 510.8h.01M108.8 487.8h.01M55.8 482.5h.01M80.5 492.4h.01M75.2 484.4h.01M59.2 496.8h.01M102.9 497.2h.01M49.8 490.3h.01M94.8 504.3h.01M106.1 484.5h.01M96.3 488.4h.01M96.3 507.5h.01M81.1 504.3h.01M97.0 487.6h.01M82.2 491.3h.01M72.2 504.1h.01M81.0 495.1h.01M79.1 499.7h.01M85.5 509.2h.01M85.2 480.6h.01M85.2 492.4h.01M92.9 498.2h.01M78.6 502.5h.01M68.4 467.3h.01M70.7 511.7h.01M85.6 498.1h.01M90.2 492.0h.01M87.9 477.5h.01M99.6 494.8h.01M102.8 510.4h.01M49.8 492.5h.01M71.8 496.0h.01M91.5 499.2h.01M103.7 509.0h.01M74.1 487.9h.01M101.8 492.2h.01M88.1 507.1h.01M88.7 499.8h.01M69.5 499.6h.01M102.9 489.1h.01M75.9 510.0h.01M61.7 508.7h.01M75.1 474.0h.01M107.7 465.6h.01M66.9 492.2h.01M104.8 505.4h.01M95.4 495.3h.01M83.6 497.0h.01M86.8 505.1h.01M79.8 500.1h.01M81.2 483.9h.01M93.5 467.2h.01M93.0 498.4h.01M101.6 499.4h.01M89.6 484.0h.01M98.2 487.8h.01M64.8 501.9h.01M75.0 486.3h.01M101.1 508.2h.01M87.1 499.2h.01M94.0 502.0h.01M103.1 481.2h.01M89.1 498.5h.01M91.0 498.1h.01M100.9 510.8h.01M108.4 507.7h.01M86.8 505.9h.01M93.9 484.9h.01M69.9 503.9h.01M85.9 496.5h.01M85.6 510.6h.01M106.5 482.0h.01M108.2 502.2h.01M56.3 507.5h.01M77.3 494.3h.01M64.7 488.2h.01M73.5 492.4h.01M63.7 486.2h.01M102.4 495.3h.01M80.9 511.8h.01M83.1 497.4h.01M68.0 503.9h.01M75.5 478.5h.01M58.8 484.9h.01M57.6 474.3h.01M82.0 509.5h.01M86.4 481.0h.01M69.1 507.7h.01M74.1 506.8h.01M64.8 495.7h.01M103.1 479.0h.01M65.1 502.8h.01M84.5 510.9h.01M103.7 506.3h.01M107.3 496.1h.01M102.7 504.9h.01M63.3 504.0h.01M94.2 493.3h.01M90.2 465.6h.01M63.6 510.5h.01M88.1 490.0h.01M82.4 488.7h.01M81.5 502.2h.01M79.9 488.5h.01M103.9 485.1h.01M92.6 502.4h.01M97.4 494.3h.01M59.1 487.2h.01M98.6 489.7h.01M93.2 470.6h.01M93.2 479.2h.01M101.6 493.6h.01M67.4 474.4h.01M79.1 483.7h.01M99.5 507.0h.01M43.9 483.6h.01M55.8 488.3h.01M94.4 507.6h.01M80.9 494.1h.01M75.2 509.5h.01M89.6 485.7h.01M107.1 497.9h.01M75.8 482.8h.01M75.9 488.7h.01M95.5 482.9h.01M95.4 507.8h.01M83.8 487.0h.01M75.8 486.8h.01M69.2 493.1h.01M85.5 509.9h.01M73.2 511.1h.01M92.5 492.8h.01M103.3 478.4h.01M85.1 492.0h.01M96.0 482.5h.01M92.0 482.1h.01M100.2 502.7h.01M107.6 497.8h.01M106.6 507.0h.01M85.7 479.6h.01M99.6 474.9h.01M68.7 509.3h.01M50.2 510.0h.01M63.5 490.9h.01M67.2 510.7h.01M96.5 498.3h.01M76.0 477.4h.01M94.6 482.3h.01M105.1 488.8h.01M83.3 509.1h.01M57.6 488.8h.01M106.2 500.7h.01M96.2 483.4h.01M84.4 485.6h.01M59.5 502.0h.01M83.6 495.6h.01M79.9 510.3h.01M72.9 508.5h.01M100.6 506.6h.01M87.5 488.8h.01M103.2 493.8h.01M87.6 491.4h.01M77.2 491.6h.01M101.4 472.5h.01M51.9 471.2h.01M81.5 503.4h.01M86.3 482.2h.01M61.5 501.7h.01M105.0 502.5h.01M65.4 500.2h.01M73.2 491.6h.01M89.5 498.0h.01M69.0 489.0h.01M108.8 475.2h.01M78.8 483.3h.01M66.8 511.4h.01M67.2 475.6h.01M91.6 476.2h.01M66.7 470.3h.01M99.8 501.9h.01M61.2 489.5h.01M60.4 511.9h.01M89.5 502.3h.01M78.2 503.1h.01M88.0 503.9h.01M84.6 493.4h.01M63.7 507.3h.01M72.8 476.1h.01M87.9 508.2h.01M83.5 488.2h.01M72.9 503.0h.01M91.6 510.8h.01M99.9 509.2h.01M88.1 504.1h.01M58.7 500.8h.01M85.0 489.0h.01M96.9 503.3h.01M97.0 490.6h.01M90.6 478.5h.01M107.1 481.3h.01M84.2 495.5h.01M54.9 482.1h.01M92.5 509.0h.01M94.8 502.2h.01M103.5 501.1h.01M75.8 502.4h.01M61.3 505.2h.01M71.1 507.1h.01M81.7 501.1h.01M62.9 500.5h.01M96.4 489.7h.01M95.0 507.8h.01M78.8 489.6h.01M101.4 501.3h.01M93.9 487.0h.01M82.8 478.7h.01M92.7 485.7h.01M77.0 481.2h.01M107.7 511.7h.01M88.1 505.9h.01M103.3 498.4h.01M70.4 482.5h.01M84.6 497.9h.01M63.7 499.9h.01M79.1 510.4h.01M52.9 505.6h.01M46.1 498.9h.01M99.6 485.1h.01M103.3 489.1h.01M104.3 483.2h.01M66.0 508.4h.01M91.6 492.2h.01M90.9 502.8h.01M92.4 510.7h.01M58.0 480.4h.01M86.9 511.5h.01M105.7 486.3h.01M98.3 468.9h.01M100.8 478.5h.01M74.1 495.0h.01M88.2 499.8h.01M44.0 510.7h.01M107.5 481.1h.01M102.1 510.0h.01M75.9 486.8h.01M92.5 487.8h.01M68.4 506.3h.01M68.2 477.2h.01M68.0 495.4h.01M74.4 496.2h.01M108.6 511.7h.01M67.0 507.7h.01M72.3 508.9h.01M56.6 511.1h.01M63.7 496.6h.01M70.8 509.1h.01M96.1 469.4h.01M100.6 483.0h.01M92.4 491.4h.01M60.1 482.3h.01M107.5 499.7h.01M71.9 489.4h.01M92.9 499.7h.01M99.3 508.0h.01M57.6 492.1h.01M100.5 507.8h.01M105.2 490.3h.01M84.2 496.7h.01M79.4 489.1h.01M103.8 498.6h.01M102.7 481.4h.01M107.8 499.1h.01M98.1 488.9h.01M83.6 490.6h.01M77.2 493.6h.01M88.2 483.0h.01M102.4 505.0h.01M89.6 478.8h.01M48.7 496.8h.01M102.1 472.5h.01M74.0 499.9h.01M91.3 499.2h.01M90.8 467.8h.01M102.1 497.1h.01M62.0 493.4h.01M68.1 503.5h.01M73.5 482.7h.01M103.7 506.5h.01M99.9 507.7h.01M75.0 503.4h.01M92.9 486.8h.01M70.5 500.1h.01M103.8 491.7h.01M47.8 492.9h.01M95.1 503.2h.01M95.0 479.4h.01M45.5 499.7h.01M97.9 507.4h.01M53.7 484.2h.01M57.1 492.4h.01M84.9 499.7h.01M91.1 494.2h.01M93.6 474.0h.01M77.6 508.4h.01M68.1 476.7h.01M71.1 503.5h.01M51.5 509.1h.01M90.7 506.3h.01M70.1 498.4h.01M49.8 495.0h.01M54.8 494.3h.01M79.6 510.1h.01M79.5 496.0h.01M53.9 476.7h.01M91.2 510.6h.01M96.2 501.4h.01M108.7 493.6h.01M92.8 492.1h.01M71.6 508.7h.01M89.9 494.5h.01M106.6 503.2h.01M60.6 511.1h.01M79.8 483.2h.01M54.5 488.9h.01M72.5 502.0h.01M109.0 502.0h.01M98.8 467.3h.01M59.7 479.5h.01M57.0 492.9h.01M91.3 472.9h.01M76.6 511.0h.01M79.1 494.3h.01M65.4 504.8h.01M70.5 510.3h.01M87.2 490.1h.01M105.4 480.3h.01M106.1 511.6h.01M93.3 488.3h.01M96.5 479.5h.01M71.5 510.6h.01M70.1 509.9h.01M87.3 504.6h.01M94.3 502.0h.01M91.3 488.0h.01M78.0 487.9h.01M83.4 477.9h.01M93.5 509.4h.01M77.2 505.3h.01M94.2 501.6h.01M81.3 495.1h.01M106.3 473.9h.01M103.4 489.5h.01M74.4 495.0h.01M103.6 494.5h.01M106.5 492.0h.01M99.4 511.4h.01M72.5 499.3h.01M85.5 490.9h.01M92.7 489.2h.01M61.2 498.8h.01M86.1 493.6h.01M104.5 485.4h.01M102.5 504.6h.01M97.3 482.6h.01M67.8 510.8h.01M83.9 494.6h.01M69.5 484.5h.01M75.4 511.2h.01M75.2 506.8h.01M100.0 501.6h.01M90.5 473.6h.01M76.0 506.9h.01M58.5 494.3h.01M41.5 510.0h.01M83.3 506.0h.01M69.7 506.8h.01M104.2 493.8h.01M102.9 490.6h.01M107.7 481.7h.01M100.6 477.4h.01M93.0 510.5h.01M72.8 485.9h.01M92.6 479.6h.01M69.5 479.6h.01M98.1 500.7h.01M77.5 502.6h.01M54.7 475.4h.01M85.7 495.8h.01M83.3 477.6h.01M89.5 484.9h.01M88.8 498.1h.01M74.0 501.4h.01M91.9 480.0h.01M101.3 494.4h.01M75.4 501.7h.01M97.8 511.9h.01M103.8 504.0h.01M92.5 510.3h.01M96.7 481.6h.01M88.4 481.1h.01M81.1 471.7h.01M80.0 481.1h.01M108.3 486.4h.01M71.1 511.3h.01M72.6 483.7h.01M60.1 482.4h.01M58.1 510.7h.01M79.0 499.2h.01M102.8 496.5h.01M76.6 500.1h.01M70.9 492.4h.01" stroke="#e06a58" stroke-width="1.0" stroke-linecap="round" opacity="0.5" fill="none"/>
<path d="M141.0 463.6h.01M139.4 472.6h.01M140.6 472.1h.01M136.4 473.7h.01M140.7 466.8h.01M133.1 470.4h.01M137.6 473.3h.01M140.2 469.3h.01M138.9 468.1h.01M138.2 472.2h.01M134.5 470.7h.01M135.7 466.9h.01M140.7 467.6h.01M137.2 465.7h.01M132.8 472.4h.01M138.2 473.3h.01M135.3 467.5h.01M140.2 468.1h.01M137.1 470.0h.01M136.2 469.7h.01M136.3 469.5h.01M137.6 472.3h.01M134.7 471.0h.01M134.6 472.3h.01M136.2 463.7h.01M135.7 469.3h.01M128.4 464.5h.01M136.4 466.8h.01M137.8 476.8h.01M139.0 472.4h.01M135.7 465.7h.01M139.4 463.1h.01M139.2 464.6h.01M140.8 465.6h.01M135.8 473.3h.01M137.0 464.1h.01M135.2 468.6h.01M138.7 468.9h.01M134.4 470.8h.01M131.5 469.8h.01M135.0 474.5h.01M137.7 473.3h.01M140.6 470.3h.01M136.3 469.7h.01M134.3 472.0h.01M137.4 465.3h.01M136.3 474.0h.01M133.4 468.1h.01M129.8 471.2h.01M137.5 471.0h.01M134.2 467.9h.01M130.9 468.5h.01M136.2 467.9h.01M136.9 476.0h.01M138.7 473.2h.01M137.2 470.5h.01M140.0 465.9h.01M140.3 470.9h.01M136.0 466.1h.01M133.2 468.5h.01M127.3 473.6h.01M135.6 470.4h.01M132.9 467.7h.01M129.0 466.3h.01M138.1 467.6h.01M131.7 465.9h.01M134.3 469.7h.01M136.3 470.2h.01M138.5 472.1h.01M139.5 465.5h.01M132.1 466.2h.01M139.2 469.1h.01M138.9 467.6h.01M140.7 472.6h.01M138.7 467.4h.01M135.1 469.8h.01M135.9 471.3h.01M134.1 470.6h.01M132.1 463.7h.01M128.1 471.1h.01M129.6 467.5h.01M131.7 474.5h.01M138.6 468.9h.01M139.6 470.4h.01M132.7 466.4h.01M139.4 469.5h.01M135.3 471.4h.01M138.8 472.8h.01M130.9 466.9h.01M131.3 467.2h.01M135.8 470.2h.01M135.9 472.7h.01M134.6 469.3h.01M138.1 468.0h.01M133.5 465.7h.01M127.5 469.8h.01M137.0 471.7h.01M140.2 473.2h.01M134.9 470.5h.01M135.1 467.2h.01M140.5 473.1h.01M133.8 470.2h.01M136.0 468.3h.01M134.2 465.3h.01M140.9 472.5h.01M133.0 469.3h.01M135.6 472.7h.01M135.0 467.8h.01M130.4 474.0h.01M137.2 472.8h.01M136.7 467.2h.01M132.3 471.9h.01M128.7 470.2h.01M139.0 471.8h.01M131.5 466.1h.01M140.2 472.9h.01M134.4 464.1h.01M136.4 470.5h.01M137.3 468.9h.01M137.1 468.9h.01M135.1 468.9h.01M134.7 467.2h.01M138.7 470.4h.01M140.5 469.5h.01M136.7 470.4h.01M137.2 466.1h.01M136.4 465.4h.01M133.3 471.6h.01M139.7 468.6h.01M129.5 467.8h.01M140.0 468.7h.01M140.7 465.2h.01M135.7 474.1h.01M138.2 471.3h.01M135.0 471.0h.01M133.0 465.4h.01M128.7 468.3h.01M134.6 469.7h.01M138.9 470.6h.01M136.9 466.9h.01M137.0 468.2h.01M137.9 463.8h.01M138.6 470.8h.01M136.7 470.3h.01M139.3 467.8h.01M138.2 475.5h.01M134.5 473.0h.01M139.5 472.3h.01M131.4 468.1h.01M136.7 473.8h.01M136.6 473.0h.01M137.5 464.6h.01M132.9 474.9h.01M137.1 468.9h.01M130.2 469.4h.01M133.9 468.2h.01M133.5 467.5h.01M135.1 468.8h.01M131.4 473.1h.01M137.6 471.4h.01M139.6 469.0h.01M138.6 470.2h.01M137.1 467.8h.01M133.8 470.7h.01M136.4 471.9h.01M139.8 471.2h.01M135.5 467.6h.01M139.1 467.0h.01M139.6 465.4h.01M133.9 467.1h.01M134.2 466.3h.01M134.5 470.3h.01M135.8 473.7h.01M131.2 468.0h.01M140.3 471.4h.01M135.1 469.4h.01M138.1 467.6h.01M135.3 474.4h.01M139.3 468.6h.01M139.7 467.7h.01M139.6 470.9h.01M139.3 470.4h.01M133.7 471.0h.01M140.8 468.6h.01M133.1 468.0h.01M133.9 468.7h.01M140.9 469.3h.01M134.8 471.0h.01M140.0 469.4h.01M136.8 474.6h.01M139.1 469.5h.01M138.8 470.3h.01M140.8 464.4h.01M133.2 470.4h.01M136.8 474.0h.01M137.7 472.0h.01M137.7 468.8h.01M130.9 471.1h.01M136.4 470.3h.01M137.3 466.8h.01M135.8 470.5h.01M138.7 466.5h.01M138.7 467.0h.01M138.7 466.2h.01M137.3 471.2h.01M135.2 470.0h.01M138.1 470.9h.01M138.0 475.2h.01M136.2 467.5h.01M138.4 463.5h.01M136.3 467.3h.01M137.8 473.1h.01M134.7 470.1h.01M137.8 474.8h.01M136.2 470.2h.01M137.2 468.3h.01M130.7 469.8h.01M134.6 470.7h.01M138.9 467.8h.01M135.7 475.9h.01M131.6 469.6h.01M139.1 476.4h.01M137.2 473.0h.01M136.0 471.5h.01M128.9 472.1h.01M131.0 470.4h.01M136.3 466.6h.01M136.2 471.8h.01M136.1 473.2h.01M137.5 472.7h.01M133.2 466.8h.01M137.6 470.0h.01M135.6 468.4h.01M134.3 466.2h.01M133.7 470.9h.01M136.0 469.0h.01M140.1 473.9h.01M135.2 465.5h.01M138.6 466.0h.01M133.6 465.7h.01M138.6 471.4h.01M134.3 469.9h.01M140.6 468.9h.01M131.9 468.0h.01M137.2 470.2h.01M130.8 465.4h.01M129.3 467.7h.01M139.7 474.7h.01M140.1 471.2h.01M138.6 471.1h.01M133.6 473.3h.01M135.9 471.3h.01M133.9 466.3h.01M138.2 468.1h.01M137.5 476.0h.01M138.0 475.9h.01M140.9 466.2h.01M134.6 468.5h.01M133.2 474.3h.01M139.3 468.2h.01M138.4 470.0h.01M139.4 466.1h.01M133.4 469.7h.01M135.1 470.9h.01M137.1 466.9h.01M136.8 471.3h.01M136.8 466.2h.01M132.2 466.1h.01M135.2 468.5h.01M137.4 470.3h.01M131.8 468.4h.01M140.0 473.5h.01M137.6 470.7h.01M136.9 466.5h.01M137.3 468.7h.01M135.8 468.2h.01M138.6 470.7h.01M135.9 467.6h.01M139.5 464.8h.01M139.4 472.4h.01" stroke="#e0281a" stroke-width="1.0" stroke-linecap="round" opacity="0.8" fill="none"/>
<path d="M134.3 473.5h.01M140.3 481.3h.01M116.4 467.9h.01M128.0 477.0h.01M137.7 470.8h.01M124.3 478.9h.01M119.4 473.6h.01M122.0 482.8h.01M118.1 477.8h.01M113.4 468.6h.01M127.5 472.4h.01M123.6 476.2h.01M116.4 472.2h.01M125.3 474.0h.01M120.9 474.9h.01M121.2 477.3h.01M131.8 469.7h.01M115.0 477.3h.01M137.2 472.0h.01M112.1 463.1h.01M115.5 466.7h.01M121.3 471.2h.01M111.3 477.6h.01M136.7 472.1h.01M120.4 473.4h.01M133.6 475.2h.01M116.6 474.5h.01M140.8 471.1h.01M120.0 468.1h.01M132.7 477.9h.01M133.3 466.4h.01M133.3 477.0h.01M114.0 470.7h.01M131.3 475.6h.01M127.9 465.4h.01M113.4 470.0h.01M115.2 466.2h.01M122.2 472.6h.01M116.6 468.0h.01M133.9 476.3h.01M119.7 480.2h.01M127.6 475.9h.01M126.4 466.9h.01M123.0 469.1h.01M133.3 467.6h.01M131.8 473.3h.01M137.8 472.8h.01M130.8 470.2h.01M128.8 475.2h.01M116.8 474.4h.01M130.2 465.1h.01M130.2 476.2h.01M127.2 472.3h.01M128.7 474.5h.01M132.2 469.6h.01M112.1 476.8h.01M117.3 466.2h.01M140.2 476.0h.01M114.6 470.2h.01M121.6 478.2h.01M121.9 475.1h.01M112.0 465.3h.01M126.3 474.0h.01M127.7 473.3h.01M131.6 468.0h.01M121.7 474.1h.01M130.6 472.9h.01M117.8 467.7h.01M116.9 470.0h.01M129.9 470.6h.01M130.5 479.1h.01M132.9 472.8h.01M129.7 475.5h.01M132.1 464.8h.01M139.1 473.3h.01M125.3 469.1h.01M124.6 474.3h.01M121.8 472.6h.01M115.8 469.3h.01M112.0 468.4h.01M128.2 469.4h.01M128.7 464.9h.01M125.2 484.2h.01M126.9 474.8h.01M115.7 468.2h.01M126.3 467.2h.01M118.9 469.3h.01M115.9 474.7h.01M127.9 470.5h.01M130.1 470.0h.01M113.9 471.4h.01M128.4 472.5h.01M130.4 467.5h.01M128.1 472.8h.01M118.5 484.7h.01M140.3 475.8h.01M124.3 480.3h.01M127.3 472.9h.01M137.4 475.0h.01M118.9 467.5h.01M122.8 468.0h.01M119.2 472.2h.01M120.8 476.1h.01M119.9 475.0h.01M131.7 473.7h.01M122.0 472.8h.01M121.8 474.4h.01M121.9 472.7h.01M131.3 472.4h.01M135.2 468.1h.01M119.3 470.1h.01M131.1 469.6h.01M112.0 467.7h.01M128.2 471.8h.01M127.1 466.2h.01M135.9 474.4h.01M130.9 471.4h.01M129.9 467.7h.01M114.1 471.6h.01M138.8 472.9h.01M136.8 472.0h.01M126.4 475.2h.01M116.8 474.0h.01M127.8 480.4h.01M132.8 481.0h.01M128.5 469.2h.01M117.8 473.7h.01M123.8 470.0h.01M136.4 478.5h.01M129.9 466.8h.01M118.1 477.9h.01M133.6 469.8h.01M120.0 467.3h.01M126.2 466.2h.01M113.7 471.7h.01M120.1 463.6h.01M112.8 470.0h.01M118.7 475.7h.01M123.6 474.3h.01M119.0 475.1h.01M133.8 470.6h.01M125.2 470.8h.01M122.5 470.6h.01M120.4 465.6h.01M126.4 469.7h.01M127.0 466.3h.01M119.8 482.1h.01M135.0 479.5h.01M120.1 472.8h.01M125.3 472.2h.01M124.4 473.2h.01M119.5 472.8h.01M124.9 467.2h.01M124.6 467.5h.01M125.0 480.3h.01M114.7 465.1h.01M127.0 482.3h.01M135.0 478.4h.01M133.0 477.6h.01M134.1 476.2h.01M112.4 475.8h.01M126.8 475.8h.01M127.2 478.1h.01M119.0 477.8h.01M122.8 466.4h.01M138.8 473.1h.01M124.1 476.0h.01M121.0 465.9h.01M134.5 486.4h.01M112.6 474.3h.01M117.4 468.0h.01M124.4 466.1h.01M124.7 470.5h.01M118.6 464.8h.01M124.3 474.8h.01M129.0 471.0h.01M125.6 476.8h.01M127.4 472.7h.01M138.9 473.9h.01M137.8 474.5h.01M137.7 478.5h.01M123.8 477.1h.01M113.5 465.1h.01M111.5 466.8h.01M122.2 473.7h.01M134.6 467.7h.01M112.2 477.2h.01M121.1 477.3h.01M120.8 465.0h.01M114.2 470.4h.01M139.7 472.4h.01M125.8 477.7h.01M112.7 471.5h.01M116.8 476.0h.01M140.2 475.3h.01M117.4 468.8h.01M134.1 474.5h.01M114.7 465.4h.01M116.1 470.0h.01M126.6 472.2h.01M128.2 478.5h.01M128.2 479.9h.01M134.7 468.9h.01M111.7 471.9h.01M119.1 465.7h.01M118.3 470.4h.01M129.6 469.5h.01M118.1 464.4h.01M131.8 475.2h.01M120.0 467.6h.01M116.4 471.9h.01M125.7 468.8h.01M132.8 473.4h.01M118.4 472.8h.01M135.1 475.4h.01M116.9 480.7h.01M120.9 468.7h.01M118.2 470.1h.01M131.5 475.5h.01M126.8 464.6h.01M135.3 476.5h.01M113.6 476.3h.01M114.0 482.6h.01M128.3 472.5h.01M114.1 470.0h.01M115.7 474.2h.01M124.6 470.4h.01M135.7 470.5h.01M119.9 468.9h.01M115.2 474.1h.01M134.6 478.9h.01M126.8 467.6h.01M113.4 474.3h.01M120.8 469.4h.01M125.8 472.4h.01M124.9 467.3h.01M112.8 466.4h.01M117.2 464.8h.01M117.8 475.5h.01M121.4 470.5h.01M120.5 471.9h.01M134.8 468.6h.01M113.2 476.0h.01M129.7 472.1h.01M125.3 472.3h.01M138.2 486.7h.01M136.5 468.4h.01M125.6 477.7h.01M116.5 472.5h.01M134.8 474.9h.01M138.8 466.7h.01M125.2 468.5h.01M112.8 469.6h.01M133.9 473.6h.01M124.7 480.2h.01M136.1 472.9h.01M120.3 477.2h.01M125.9 470.8h.01M117.3 479.9h.01M122.6 475.3h.01M118.9 476.1h.01M118.3 477.0h.01M136.7 467.9h.01M119.0 469.7h.01M124.4 480.8h.01M132.8 473.2h.01M126.0 470.1h.01M127.5 474.3h.01M134.1 469.2h.01M126.0 468.0h.01M121.1 472.8h.01M127.7 471.8h.01M124.7 471.3h.01M112.6 474.4h.01M127.0 474.3h.01M112.2 465.7h.01M122.7 466.2h.01M122.7 477.2h.01M118.6 472.2h.01M140.9 471.6h.01M120.2 468.1h.01M113.9 467.9h.01M121.9 476.4h.01M130.6 478.0h.01M133.9 477.3h.01M118.9 472.2h.01M132.4 467.6h.01M128.8 472.9h.01M116.8 471.2h.01M111.9 468.5h.01M116.3 471.7h.01M125.5 470.3h.01M114.0 470.9h.01M132.3 468.6h.01M115.6 468.3h.01M135.8 469.9h.01M128.6 465.7h.01M130.1 469.6h.01M122.7 473.5h.01M126.1 476.1h.01" stroke="#e04a38" stroke-width="1.0" stroke-linecap="round" opacity="0.55" fill="none"/>
<path d="M139.9 485.3h.01M127.1 476.1h.01M125.1 479.9h.01M129.5 496.1h.01M131.8 499.9h.01M121.7 496.3h.01M120.3 496.4h.01M141.7 496.2h.01M131.5 505.8h.01M119.5 476.7h.01M132.7 482.0h.01M117.3 492.8h.01M116.1 489.8h.01M134.9 496.2h.01M130.9 501.8h.01M127.4 491.9h.01M114.1 479.4h.01M133.1 492.6h.01M129.6 493.5h.01M121.7 495.5h.01M141.3 464.9h.01M138.3 487.0h.01M133.6 508.1h.01M131.3 479.9h.01M119.7 500.3h.01M130.1 504.0h.01M128.7 493.5h.01M133.8 486.7h.01M128.3 495.1h.01M130.9 489.8h.01M128.5 497.4h.01M129.5 496.8h.01M129.0 500.1h.01M127.1 492.7h.01M136.0 483.8h.01M128.8 506.5h.01M136.4 486.7h.01M132.2 491.9h.01M127.8 486.7h.01M127.1 491.4h.01M137.7 494.2h.01M129.6 499.2h.01M132.0 476.9h.01M128.2 495.5h.01M126.7 496.2h.01M133.6 486.5h.01M131.2 499.8h.01M135.3 481.2h.01M136.6 483.9h.01M120.7 503.9h.01M114.6 490.5h.01M136.3 486.2h.01M134.8 500.2h.01M125.2 506.3h.01M132.2 499.1h.01M127.5 503.6h.01M125.8 503.8h.01M134.2 499.7h.01M119.0 484.7h.01M131.1 487.3h.01M128.9 478.9h.01M137.9 489.4h.01M133.6 494.9h.01M121.4 505.1h.01M113.0 479.1h.01M129.8 491.6h.01M128.0 470.9h.01M134.1 480.4h.01M134.7 479.5h.01M125.7 504.5h.01M118.2 470.7h.01M127.1 472.0h.01M138.4 495.3h.01M123.9 495.0h.01M138.6 496.0h.01M129.6 464.5h.01M125.8 491.6h.01M121.8 489.0h.01M115.1 477.2h.01M136.3 478.7h.01M124.3 486.4h.01M130.2 500.6h.01M133.8 480.7h.01M121.2 483.2h.01M128.0 488.9h.01M133.4 496.8h.01M126.3 477.5h.01M125.5 479.2h.01M117.8 482.5h.01M126.4 496.3h.01M140.2 489.5h.01M124.0 477.6h.01M114.7 485.8h.01M133.4 497.3h.01M128.0 480.0h.01M131.7 488.2h.01M137.2 487.3h.01M130.4 504.1h.01M126.0 487.4h.01M128.2 478.1h.01M117.9 472.1h.01M127.5 486.6h.01M140.6 491.4h.01M118.1 502.5h.01M126.0 492.6h.01M135.9 483.8h.01M134.8 503.3h.01M141.0 490.2h.01M123.0 473.3h.01M118.2 484.8h.01M117.1 495.2h.01M141.0 485.4h.01M122.0 492.4h.01M128.5 485.3h.01M118.0 490.7h.01M130.0 491.7h.01M129.2 497.8h.01M133.9 495.3h.01M129.9 498.2h.01M116.4 494.1h.01M134.2 509.3h.01M134.1 490.5h.01M134.6 496.3h.01M117.6 488.5h.01M126.6 477.4h.01M122.2 498.1h.01M114.1 492.5h.01M135.2 495.9h.01M135.3 484.4h.01M134.3 506.4h.01M140.1 478.5h.01M121.2 495.3h.01M135.5 484.0h.01M128.2 487.7h.01M125.4 506.8h.01M139.8 467.1h.01M128.7 493.9h.01M131.2 496.7h.01M121.9 492.2h.01M133.3 502.0h.01M138.0 500.9h.01M127.5 486.2h.01M114.7 485.9h.01M121.9 472.4h.01M124.0 497.5h.01M139.1 479.7h.01M121.9 482.3h.01M116.4 487.2h.01M129.0 504.6h.01M119.8 498.0h.01M137.6 487.2h.01M121.8 500.7h.01M132.3 486.4h.01M138.4 476.7h.01M119.4 477.3h.01M118.3 481.3h.01M117.4 478.4h.01M129.2 480.4h.01M127.3 478.1h.01M126.2 487.1h.01M122.1 489.3h.01M138.8 499.7h.01M119.1 481.8h.01M137.5 500.7h.01M121.2 487.8h.01M132.2 502.5h.01M117.5 480.0h.01M139.6 498.0h.01M127.0 495.8h.01M133.8 484.2h.01M128.0 481.7h.01M122.1 487.9h.01M124.0 504.1h.01M138.9 473.2h.01M135.8 470.8h.01M136.1 502.4h.01M124.2 510.2h.01M127.4 484.3h.01M136.5 505.6h.01M120.0 490.6h.01M132.0 469.3h.01M112.9 490.6h.01M128.6 483.5h.01M128.5 482.8h.01M112.2 489.1h.01M129.4 495.4h.01M128.3 494.4h.01M133.9 487.7h.01M135.0 470.5h.01M128.1 471.7h.01M138.7 489.9h.01M121.6 504.8h.01M132.8 483.1h.01M117.8 495.8h.01M127.0 482.2h.01M131.0 473.2h.01M120.0 498.3h.01M129.8 496.4h.01M130.0 488.3h.01M130.5 502.7h.01M135.3 491.9h.01M129.1 475.6h.01M121.6 482.4h.01M124.7 479.0h.01M133.5 494.0h.01M130.1 499.7h.01M115.7 487.4h.01M132.0 504.8h.01M119.7 487.2h.01M122.9 476.9h.01M124.7 474.0h.01M135.8 488.3h.01M112.6 489.1h.01M117.4 508.0h.01M125.1 507.0h.01M139.4 493.3h.01M135.4 492.6h.01M135.2 495.7h.01M123.2 486.9h.01M126.1 498.2h.01" stroke="#e05a48" stroke-width="1.0" stroke-linecap="round" opacity="0.5" fill="none"/>
<path d="M128.3 491.6h.01M126.2 485.0h.01M134.2 489.7h.01M124.2 497.5h.01M135.5 504.6h.01M135.3 498.5h.01M133.3 481.0h.01M134.8 491.3h.01M141.7 484.5h.01M136.6 488.2h.01M127.4 504.8h.01M131.9 479.5h.01M133.0 501.0h.01M135.0 494.8h.01M126.3 501.6h.01M130.5 497.2h.01M139.7 484.1h.01M131.9 489.3h.01M122.7 504.9h.01M134.0 501.9h.01M136.3 491.8h.01M144.0 493.4h.01M129.5 481.9h.01M137.1 487.1h.01M123.8 505.7h.01M121.3 480.5h.01M127.2 483.0h.01M138.3 493.8h.01M131.7 503.4h.01M121.2 485.2h.01M127.2 497.9h.01M135.0 500.2h.01M133.2 503.3h.01M141.7 502.9h.01M137.7 490.8h.01M138.8 489.9h.01M135.1 499.7h.01M137.9 495.8h.01M137.0 492.4h.01M132.1 490.4h.01M135.0 501.9h.01M132.4 500.0h.01M133.1 492.7h.01M126.0 478.2h.01M124.8 497.2h.01M130.8 486.7h.01M132.7 503.9h.01M133.1 491.9h.01M127.6 491.4h.01M135.9 500.3h.01M135.2 482.3h.01M132.8 481.9h.01M137.8 494.7h.01M138.6 483.4h.01M141.7 479.8h.01M131.6 498.4h.01M130.7 495.0h.01M128.8 490.3h.01M124.2 502.3h.01M136.6 503.1h.01M140.5 478.9h.01M130.9 483.4h.01M131.4 501.5h.01M135.8 485.0h.01M123.2 488.3h.01M134.1 479.9h.01M128.8 479.2h.01M133.1 487.5h.01M137.7 493.0h.01M121.6 493.1h.01M130.9 478.1h.01M128.2 478.4h.01M136.2 490.8h.01M133.3 480.0h.01M125.4 489.7h.01M127.5 504.2h.01M140.1 485.5h.01M131.1 486.4h.01M131.0 500.0h.01M132.3 492.3h.01M132.4 489.4h.01M127.8 504.8h.01M129.2 486.1h.01M126.6 481.5h.01M136.7 494.5h.01M135.6 495.4h.01M138.1 498.8h.01M146.9 489.0h.01M133.1 482.0h.01M134.1 481.7h.01M139.8 485.6h.01M131.8 483.8h.01M133.0 501.7h.01M143.8 500.9h.01M122.5 478.0h.01M136.8 486.0h.01M137.5 483.0h.01M133.9 491.3h.01M123.6 490.2h.01M127.8 497.8h.01M124.4 487.5h.01M139.9 483.9h.01M129.5 483.8h.01M136.6 483.8h.01M132.0 486.7h.01M129.8 490.3h.01M125.9 497.4h.01M133.9 495.4h.01M130.4 483.2h.01M134.7 486.4h.01M140.0 493.1h.01M132.6 499.1h.01M138.4 493.7h.01M126.9 488.8h.01M131.5 479.4h.01M131.0 503.1h.01M138.3 497.9h.01M138.7 478.2h.01M132.3 478.2h.01M128.3 480.5h.01" stroke="#e04a38" stroke-width="1.0" stroke-linecap="round" opacity="0.5" fill="none"/>
<path d="M110.4 535.6h.01M118.6 529.1h.01M130.8 548.5h.01M110.2 542.1h.01M130.7 545.3h.01M131.4 523.2h.01M127.5 540.7h.01M118.4 550.0h.01M135.1 525.6h.01M134.8 538.5h.01M128.0 528.4h.01M132.7 538.0h.01M115.9 547.7h.01M115.3 548.6h.01M141.6 516.9h.01M135.7 549.5h.01M130.3 531.5h.01M130.4 544.4h.01M127.0 543.5h.01M119.1 522.3h.01M113.5 544.3h.01M130.1 520.2h.01M113.7 539.0h.01M138.4 531.1h.01M138.2 526.0h.01M126.5 546.0h.01M110.9 541.3h.01M116.5 518.5h.01M124.6 552.0h.01M140.5 544.2h.01M123.7 532.7h.01M125.0 532.8h.01M136.8 537.9h.01M114.8 523.9h.01M123.6 518.8h.01M113.5 520.1h.01M137.4 529.2h.01M134.8 533.1h.01M139.7 525.8h.01M140.8 539.8h.01M133.9 530.5h.01M135.3 537.0h.01M129.9 546.0h.01M136.0 536.1h.01M124.2 519.6h.01M117.8 528.8h.01M117.1 526.0h.01M131.9 517.2h.01M132.4 520.1h.01M135.4 536.6h.01M134.2 537.6h.01M124.7 545.7h.01M134.3 528.5h.01M135.1 515.2h.01M141.1 526.7h.01M120.1 530.7h.01M124.0 549.6h.01M118.7 530.4h.01M119.8 526.6h.01M135.3 534.9h.01M116.6 541.4h.01M120.2 548.8h.01M119.7 521.3h.01M135.0 547.9h.01M129.9 517.8h.01M134.6 533.1h.01M139.7 538.1h.01M115.2 539.8h.01M131.2 533.2h.01M123.4 515.0h.01M135.9 547.3h.01M123.4 551.4h.01M137.1 529.1h.01M113.5 522.8h.01M124.9 543.5h.01M116.7 549.7h.01M136.7 523.2h.01M115.5 544.0h.01M139.1 534.6h.01M141.3 540.2h.01M111.0 549.9h.01M133.6 533.3h.01M135.2 538.9h.01M130.7 539.7h.01M130.6 549.5h.01M117.6 534.9h.01M116.2 517.4h.01M116.6 544.6h.01M110.2 548.2h.01M131.4 523.4h.01M113.7 530.6h.01M136.3 545.4h.01M124.6 527.3h.01M125.5 536.5h.01M115.8 537.7h.01M121.3 535.1h.01M116.0 545.9h.01M129.1 546.4h.01M135.2 536.2h.01M122.2 530.6h.01" stroke="#e07a6a" stroke-width="1.0" stroke-linecap="round" opacity="0.5" fill="none"/>
<rect x="35.5" y="444.8" width="118.69999999999999" height="118.19999999999999" fill="none" stroke="#646464" stroke-width="1"/>
<line x1="109.6" y1="444.8" x2="109.6" y2="563" stroke="#646464" stroke-width="1"/>
<line x1="35.5" y1="513.6" x2="154.2" y2="513.6" stroke="#646464" stroke-width="1"/>
<path d="M34.9 448.8h1.8M34.9 452.9h1.8M34.9 455.4h1.8M34.9 463.4h1.8M34.9 466.6h1.8M34.9 472.1h1.8M34.9 477.6h1.8M34.9 481.7h1.8M34.9 487.2h1.8M34.9 492.7h1.8M34.9 498.2h1.8M34.9 501.4h1.8M34.9 503.9h1.8M34.9 507.1h1.8M34.9 512.6h1.8M34.9 515.8h1.8M34.9 519.0h1.8M34.9 527.0h1.8M34.9 529.5h1.8M34.9 537.5h1.8M34.9 540.0h1.8M34.9 543.2h1.8M34.9 548.7h1.8M34.9 551.9h1.8M34.9 557.4h1.8M38.5 563.6v-1.8M42.0 563.6v-1.8M52.0 563.6v-1.8M57.0 563.6v-1.8M67.0 563.6v-1.8M69.5 563.6v-1.8M74.5 563.6v-1.8M84.5 563.6v-1.8M88.0 563.6v-1.8M91.5 563.6v-1.8M98.5 563.6v-1.8M103.5 563.6v-1.8M110.5 563.6v-1.8M120.5 563.6v-1.8M124.0 563.6v-1.8M134.0 563.6v-1.8M139.0 563.6v-1.8M144.0 563.6v-1.8M147.5 563.6v-1.8M151.0 563.6v-1.8" stroke="#333" stroke-width="0.9" fill="none"/>
<rect x="35.5" y="444.6" width="24.200000000000003" height="9.199999999999989" fill="rgba(255,255,255,0.88)" stroke="#b0b0b0" stroke-width="0.9"/>
<text x="36.9" y="451.72" font-size="7.0" text-anchor="start" font-weight="bold" fill="#1e1e1e" textLength="22" lengthAdjust="spacingAndGlyphs" >10.43%</text>
<rect x="130" y="444.6" width="23.80000000000001" height="9.199999999999989" fill="rgba(255,255,255,0.88)" stroke="#b0b0b0" stroke-width="0.9"/>
<text x="131.4" y="451.72" font-size="7.0" text-anchor="start" font-weight="bold" fill="#1e1e1e" textLength="22" lengthAdjust="spacingAndGlyphs" >31.59%</text>
<rect x="35.5" y="544" width="24.5" height="9.600000000000023" fill="rgba(255,255,255,0.88)" stroke="#b0b0b0" stroke-width="0.9"/>
<text x="36.9" y="551.32" font-size="7.0" text-anchor="start" font-weight="bold" fill="#1e1e1e" textLength="22.5" lengthAdjust="spacingAndGlyphs" >53.68%</text>
<rect x="133.8" y="544" width="20.0" height="9.600000000000023" fill="rgba(255,255,255,0.88)" stroke="#b0b0b0" stroke-width="0.9"/>
<text x="135.2" y="551.32" font-size="7.0" text-anchor="start" font-weight="bold" fill="#1e1e1e" textLength="18" lengthAdjust="spacingAndGlyphs" >4.29%</text>
<text x="43.8" y="537.9" font-size="9.6" text-anchor="start" font-weight="normal" fill="#5a3cae" textLength="42.5" lengthAdjust="spacingAndGlyphs" >Viable cells</text>
<path d="M198.1 529.5h.01M212.8 522.9h.01M226.9 516.7h.01M215.4 536.9h.01M235.5 545.0h.01M209.0 535.4h.01M194.5 530.1h.01M215.6 512.2h.01M228.3 529.7h.01M191.3 541.5h.01M203.9 547.0h.01M186.6 530.9h.01M205.9 521.7h.01M209.6 534.1h.01M209.3 541.6h.01M227.8 535.1h.01M208.0 544.0h.01M182.1 533.0h.01M206.2 537.4h.01M173.1 539.2h.01M189.4 545.7h.01M226.5 539.4h.01M198.5 549.1h.01M180.2 527.7h.01M181.1 543.2h.01M228.2 547.1h.01M196.2 534.9h.01M183.4 544.3h.01M209.2 527.8h.01M208.6 541.2h.01M181.1 539.4h.01M203.1 524.5h.01M209.3 536.9h.01M185.0 544.2h.01M205.1 534.3h.01M223.8 536.9h.01M179.7 538.3h.01M227.1 538.7h.01M195.5 536.1h.01M204.9 531.9h.01M170.0 533.5h.01M178.0 535.4h.01M204.2 543.5h.01M202.2 529.1h.01M180.7 554.2h.01M198.2 532.1h.01M187.8 540.6h.01M209.6 529.0h.01M205.4 521.2h.01M199.0 539.8h.01M195.4 544.7h.01M206.5 527.3h.01M164.2 524.2h.01M218.1 538.6h.01M224.0 536.6h.01M239.8 532.3h.01M194.8 523.7h.01M190.3 523.1h.01M217.3 533.2h.01M178.2 540.9h.01M189.9 546.4h.01M188.6 537.6h.01M201.9 539.2h.01M228.7 533.8h.01M172.1 535.2h.01M168.9 538.2h.01M183.1 545.8h.01M233.1 532.1h.01M184.0 536.9h.01M199.6 549.0h.01M203.3 531.7h.01M206.8 541.0h.01M188.5 535.8h.01M207.3 553.0h.01M219.6 513.9h.01M209.0 525.0h.01M225.5 532.0h.01M204.6 555.5h.01M225.7 540.5h.01M201.1 524.0h.01M212.6 547.4h.01M179.8 527.9h.01M212.2 531.2h.01M203.6 539.6h.01M198.4 528.2h.01M211.4 519.2h.01M206.2 529.0h.01M211.1 540.4h.01M199.6 544.4h.01M233.8 525.9h.01M194.9 534.8h.01M234.1 541.1h.01M248.9 541.5h.01M202.7 524.2h.01M184.8 532.0h.01M226.6 546.5h.01M167.7 525.6h.01M188.6 540.6h.01M180.7 543.8h.01M182.6 538.3h.01M202.6 531.2h.01M200.1 541.4h.01M197.7 536.0h.01M208.0 519.3h.01M207.0 537.3h.01M184.7 541.8h.01M199.4 537.8h.01M181.7 541.1h.01M201.1 542.0h.01M171.7 529.3h.01M181.1 541.7h.01M203.1 523.5h.01M197.6 552.1h.01M192.0 539.8h.01M191.8 529.9h.01M166.0 528.2h.01M191.3 534.9h.01M226.8 528.9h.01M227.6 515.4h.01M192.6 550.1h.01M197.9 543.6h.01M218.0 531.1h.01M211.8 539.3h.01M189.3 535.9h.01M189.8 553.3h.01M194.3 533.2h.01M196.2 541.3h.01M196.5 537.7h.01M196.0 547.0h.01M200.4 538.9h.01M178.3 528.5h.01M215.3 550.4h.01M184.8 531.6h.01M169.1 541.8h.01M233.7 541.2h.01M185.6 554.0h.01M190.8 540.4h.01M182.1 536.5h.01M216.1 529.0h.01M179.2 533.2h.01M203.1 537.8h.01M169.7 534.3h.01M224.3 548.0h.01M209.1 539.0h.01M177.6 541.6h.01M187.0 529.8h.01M207.4 545.0h.01M195.6 534.5h.01M205.6 539.3h.01M217.0 528.4h.01M214.4 534.5h.01M223.8 547.0h.01M211.1 534.1h.01M218.3 544.3h.01M191.4 530.8h.01M212.0 542.4h.01M198.9 533.3h.01M194.9 530.7h.01M216.1 533.5h.01M197.1 539.4h.01M198.9 543.6h.01M201.3 529.3h.01M205.2 539.4h.01M188.1 525.5h.01M213.7 535.8h.01M203.8 535.7h.01M205.4 536.8h.01M189.2 524.0h.01M190.2 537.9h.01M192.6 539.5h.01M198.2 545.6h.01M193.6 536.6h.01M186.9 525.6h.01M217.5 551.7h.01M209.9 518.4h.01M213.8 536.2h.01M226.7 534.0h.01M194.6 540.0h.01M198.1 540.5h.01M214.2 530.5h.01M217.0 529.6h.01M223.3 528.3h.01M218.5 537.6h.01M193.4 526.0h.01M179.2 530.9h.01M188.7 539.7h.01M177.6 543.1h.01M187.0 530.1h.01M224.2 542.1h.01M197.7 522.0h.01M175.2 534.7h.01M195.0 542.7h.01M204.5 534.6h.01M198.1 536.9h.01M202.4 536.1h.01M181.0 532.2h.01M183.8 541.3h.01M215.7 526.9h.01M201.4 541.2h.01M176.9 537.7h.01M219.8 547.3h.01M207.7 532.3h.01M204.0 536.7h.01M181.2 537.3h.01M210.4 532.9h.01M188.9 535.3h.01M220.1 535.5h.01M196.6 530.8h.01M201.4 529.4h.01M212.2 535.2h.01M199.8 533.0h.01M199.1 529.8h.01M198.0 535.7h.01M177.9 542.8h.01M189.2 536.9h.01M196.6 533.7h.01M185.9 531.8h.01M192.0 524.1h.01M217.8 534.7h.01M176.4 537.2h.01M199.2 534.5h.01M190.9 536.9h.01M218.1 541.3h.01M224.6 536.7h.01M189.6 536.8h.01M190.7 553.3h.01M193.9 536.4h.01M225.5 528.6h.01M195.6 541.3h.01M227.1 538.4h.01M196.6 535.2h.01M193.2 538.4h.01M209.8 539.3h.01M181.5 536.1h.01M215.8 544.3h.01M218.8 541.3h.01M185.2 529.3h.01M199.0 537.8h.01M213.8 527.3h.01M209.1 529.4h.01M204.6 529.8h.01M184.2 540.0h.01M203.7 536.4h.01M194.9 532.6h.01M212.4 546.6h.01M199.7 535.1h.01M191.6 541.9h.01M212.4 546.9h.01M177.8 543.5h.01M190.4 541.0h.01M211.9 530.6h.01M200.5 528.1h.01M207.0 522.4h.01M195.6 541.8h.01M205.2 523.3h.01M198.5 523.6h.01M212.9 540.6h.01M191.7 533.1h.01M179.9 530.4h.01M212.0 545.5h.01M207.3 538.1h.01M167.3 528.2h.01M178.6 533.0h.01M178.9 518.7h.01M199.3 541.9h.01M196.1 537.7h.01M218.1 547.4h.01M190.8 540.2h.01M230.8 531.4h.01M178.7 538.6h.01M212.1 551.3h.01M186.3 525.2h.01M176.9 546.5h.01M222.6 530.2h.01M193.9 542.4h.01M206.5 530.9h.01M185.6 522.9h.01M222.1 536.1h.01M179.2 543.3h.01M213.2 537.7h.01M177.9 529.4h.01M221.3 536.6h.01M232.6 547.1h.01M179.8 544.7h.01M192.6 525.9h.01M205.0 534.8h.01M209.9 533.6h.01M189.5 529.4h.01M192.3 539.1h.01M168.9 541.0h.01M196.7 538.2h.01M199.2 529.0h.01M207.2 541.7h.01M217.9 523.5h.01M231.4 530.8h.01M181.2 540.4h.01M212.4 539.4h.01M196.1 545.7h.01M199.7 520.9h.01M204.6 528.8h.01M208.1 547.5h.01M211.7 541.2h.01M223.1 542.3h.01M184.0 528.2h.01M187.7 541.1h.01M193.6 527.1h.01M174.0 534.6h.01M182.8 541.5h.01M204.4 517.2h.01M230.3 529.1h.01M183.9 528.6h.01M206.0 535.5h.01M209.7 541.0h.01M237.5 524.6h.01M225.6 536.5h.01M224.0 540.9h.01M210.6 546.5h.01M186.0 537.0h.01M187.0 558.8h.01M206.3 534.5h.01M184.7 531.0h.01M175.5 536.2h.01M208.4 533.2h.01M185.5 538.7h.01M204.1 532.1h.01M219.6 536.3h.01M189.3 528.0h.01M184.3 533.6h.01M197.5 548.5h.01M230.6 548.2h.01M213.8 535.9h.01M170.1 544.1h.01M166.2 530.2h.01M177.8 531.6h.01M178.1 536.9h.01M178.6 544.1h.01M194.0 537.7h.01M187.0 534.9h.01M182.6 541.9h.01M208.9 541.4h.01M217.3 529.6h.01M187.9 540.9h.01M180.2 539.9h.01M199.7 520.6h.01M172.7 536.7h.01M202.9 519.4h.01M215.6 538.1h.01M225.8 551.6h.01M202.6 535.3h.01M203.1 530.5h.01M195.0 524.7h.01M204.0 527.6h.01M226.9 542.7h.01M198.3 543.4h.01M182.1 536.3h.01M193.9 525.1h.01M199.8 532.8h.01M204.8 537.8h.01M164.5 530.6h.01M185.5 531.4h.01M213.7 533.8h.01M203.5 529.0h.01M214.1 528.3h.01M198.5 538.1h.01M231.7 549.1h.01M201.0 518.9h.01M213.7 531.3h.01M190.1 527.6h.01M224.4 548.8h.01M194.0 534.3h.01M181.0 522.2h.01M214.4 540.9h.01M217.7 531.0h.01M210.9 536.3h.01M185.6 533.9h.01M182.0 525.7h.01M201.2 534.6h.01M192.2 541.5h.01M195.0 544.7h.01M219.6 551.8h.01M208.7 531.1h.01M205.9 538.8h.01M214.3 540.7h.01M194.7 523.8h.01M221.3 542.1h.01M198.0 544.6h.01M192.4 540.0h.01M191.0 524.7h.01M193.4 532.8h.01M182.9 541.8h.01M191.4 537.2h.01M201.6 537.0h.01M199.4 551.9h.01M197.9 513.7h.01M208.0 540.4h.01M179.7 545.3h.01M191.0 541.5h.01M203.5 525.0h.01M173.6 539.4h.01M198.9 540.2h.01M225.6 525.3h.01M199.5 524.7h.01M169.7 524.9h.01M199.3 529.7h.01M205.2 521.2h.01M170.3 547.4h.01M186.9 532.0h.01M206.8 533.3h.01M204.8 543.7h.01M185.7 531.1h.01M201.7 540.7h.01M191.1 532.9h.01M182.7 540.2h.01M188.1 527.2h.01M204.9 532.1h.01M197.2 545.6h.01M213.9 529.7h.01M168.6 535.1h.01M185.3 550.4h.01M215.3 533.4h.01M209.2 544.7h.01M210.0 535.6h.01M197.5 525.1h.01M198.7 543.1h.01M169.5 544.3h.01M192.5 535.1h.01M209.3 549.9h.01M193.7 547.2h.01M198.1 535.3h.01M176.9 537.5h.01M209.6 536.7h.01M206.2 526.3h.01M211.4 534.4h.01M214.7 524.8h.01M207.7 541.3h.01M187.4 525.9h.01M211.7 535.1h.01M191.6 528.8h.01M199.7 522.9h.01M212.7 530.5h.01M183.4 543.9h.01M198.4 529.9h.01M216.1 523.5h.01M216.3 537.3h.01M197.3 537.9h.01M181.7 533.3h.01M219.7 548.3h.01M198.6 529.9h.01M182.7 545.4h.01M200.7 551.0h.01M186.6 546.4h.01M200.5 535.2h.01M208.5 538.0h.01M210.5 542.3h.01M223.4 515.8h.01M184.3 548.1h.01M168.2 534.9h.01M198.9 539.2h.01M223.8 523.8h.01M209.6 527.8h.01M181.6 543.3h.01M212.0 535.0h.01M199.5 547.5h.01M201.8 525.3h.01M174.0 551.0h.01M197.2 523.5h.01M222.5 525.6h.01M195.0 536.5h.01M222.9 546.2h.01M207.9 548.8h.01M185.9 530.1h.01M190.8 520.9h.01M202.9 533.6h.01M167.5 524.2h.01M198.7 528.9h.01M195.3 531.9h.01M199.3 533.9h.01M204.8 535.3h.01M220.8 542.1h.01M227.7 533.1h.01M206.3 539.9h.01M233.3 539.7h.01M220.1 529.0h.01M215.8 546.1h.01M210.4 533.1h.01M182.2 530.4h.01M164.7 534.2h.01M201.6 535.5h.01M166.3 546.2h.01M215.3 523.5h.01M193.5 532.9h.01M177.3 534.2h.01M199.9 536.0h.01M224.5 529.9h.01M190.1 525.4h.01M206.0 549.5h.01M216.4 545.5h.01M192.4 528.3h.01M201.0 541.0h.01M185.1 525.6h.01M196.3 533.1h.01M207.8 544.7h.01M217.8 541.5h.01M203.8 553.7h.01M195.2 536.5h.01M198.1 540.7h.01M202.2 546.6h.01M207.8 541.3h.01M214.3 530.6h.01M214.6 543.6h.01M193.2 530.9h.01M213.2 537.0h.01M208.6 529.6h.01M212.6 528.0h.01M193.8 538.9h.01M201.2 540.5h.01M210.2 528.7h.01M211.1 538.8h.01M205.2 545.1h.01M174.3 537.1h.01M190.2 533.9h.01M212.1 544.2h.01M196.6 525.3h.01M212.2 522.0h.01M191.0 529.9h.01M186.2 525.3h.01M201.2 523.0h.01M209.5 550.9h.01M211.1 537.3h.01M199.7 541.8h.01M198.6 536.4h.01M223.0 534.5h.01M221.7 549.9h.01M221.5 515.9h.01M188.7 535.6h.01M208.0 526.3h.01M188.6 540.9h.01M208.6 519.4h.01M180.7 543.0h.01M183.2 527.0h.01M193.4 539.1h.01M228.9 529.7h.01M192.5 541.7h.01M235.0 519.0h.01M197.0 526.5h.01M215.6 538.4h.01M194.7 531.5h.01M219.0 522.9h.01M196.5 531.1h.01M198.6 524.2h.01M206.3 541.9h.01M225.9 533.7h.01M196.9 538.5h.01M179.2 536.7h.01M192.2 530.5h.01M207.9 537.0h.01M226.0 536.5h.01M230.1 543.0h.01M194.2 561.1h.01M201.3 532.1h.01M211.5 545.2h.01M214.5 536.6h.01M202.9 534.7h.01M210.3 527.0h.01M208.5 522.5h.01M200.9 535.7h.01M208.3 526.3h.01M233.2 523.7h.01M193.1 520.0h.01M195.6 546.3h.01M178.1 532.2h.01M212.3 541.1h.01M214.8 544.2h.01M190.1 530.7h.01M189.4 534.8h.01M201.5 528.2h.01M196.1 531.1h.01M233.3 537.7h.01M206.6 534.6h.01M211.1 534.9h.01M193.0 546.4h.01M200.9 530.4h.01M209.4 530.8h.01M186.1 524.4h.01M204.7 534.1h.01M219.6 532.2h.01M203.5 538.3h.01M182.4 538.1h.01M183.3 535.4h.01M190.8 534.1h.01M194.1 525.5h.01M199.8 522.1h.01M188.8 538.7h.01M179.2 545.4h.01M184.9 533.1h.01M212.8 552.8h.01M185.7 551.5h.01M219.0 524.0h.01M209.9 544.3h.01M183.2 533.8h.01M219.8 527.3h.01M184.2 530.4h.01M183.7 522.3h.01M194.9 545.6h.01M183.4 527.3h.01M205.1 530.4h.01M201.2 536.8h.01M172.2 542.3h.01M204.6 542.2h.01M207.0 524.7h.01M222.0 539.1h.01M225.2 529.8h.01M207.6 542.1h.01M185.6 534.7h.01M215.0 538.4h.01M197.5 535.0h.01M194.2 544.4h.01M190.7 524.1h.01M235.5 532.0h.01M215.3 539.3h.01M196.9 535.2h.01M198.3 542.3h.01M182.2 537.1h.01M219.0 546.1h.01M196.6 533.6h.01M207.1 536.9h.01M192.9 539.0h.01M201.4 540.4h.01M205.9 538.0h.01M200.7 528.8h.01M204.5 538.4h.01M169.0 519.6h.01M189.9 525.8h.01M221.0 537.0h.01M186.3 537.6h.01M182.8 540.2h.01M180.0 534.7h.01M210.0 539.9h.01M204.8 534.9h.01M230.4 546.3h.01M205.7 545.4h.01M194.4 537.2h.01M204.1 536.2h.01M180.5 528.9h.01M178.8 536.7h.01M177.9 527.8h.01M206.3 543.2h.01M204.3 540.3h.01M224.3 529.5h.01M186.1 540.4h.01M174.8 540.7h.01M219.6 526.5h.01M193.5 531.9h.01M208.6 544.7h.01M215.6 533.5h.01M189.6 542.3h.01M184.7 541.6h.01M206.0 534.5h.01M200.2 524.8h.01M207.4 546.1h.01M224.6 522.6h.01M213.5 522.7h.01M197.6 526.9h.01M196.0 552.9h.01M197.5 540.7h.01M164.9 525.4h.01M193.5 548.0h.01M216.8 535.5h.01M186.4 533.5h.01M204.0 540.9h.01M172.1 536.8h.01M210.1 532.8h.01M191.5 532.4h.01M182.8 538.5h.01M194.1 531.3h.01M210.7 519.9h.01M216.6 537.2h.01M187.8 530.4h.01M200.7 524.3h.01M217.1 534.3h.01M198.7 539.3h.01M208.0 535.9h.01M187.0 541.0h.01M227.2 536.6h.01M203.5 533.8h.01M208.6 542.8h.01M199.7 527.8h.01M215.7 525.7h.01M223.6 546.0h.01M186.7 541.9h.01M203.7 551.2h.01M195.1 538.9h.01M218.2 532.7h.01M232.3 530.8h.01M215.7 520.6h.01M216.4 529.5h.01M182.6 552.7h.01M210.8 536.0h.01M218.2 539.8h.01M214.5 553.5h.01" stroke="#e45a45" stroke-width="1.0" stroke-linecap="round" opacity="0.55" fill="none"/>
<path d="M183.1 546.2h.01M188.7 535.7h.01M202.2 538.0h.01M208.4 532.2h.01M191.9 531.6h.01M203.3 532.7h.01M186.9 528.1h.01M196.5 540.5h.01M196.4 540.7h.01M199.5 543.4h.01M186.6 538.0h.01M182.3 532.7h.01M211.4 546.4h.01M197.0 541.2h.01M205.6 523.4h.01M204.3 535.9h.01M195.9 533.7h.01M175.4 527.2h.01M198.9 530.8h.01M184.0 533.5h.01M199.4 529.8h.01M202.5 532.0h.01M213.0 536.5h.01M202.3 534.0h.01M205.8 536.7h.01M184.1 541.0h.01M201.3 534.2h.01M188.2 538.3h.01M186.3 531.1h.01M186.5 525.2h.01M177.0 535.0h.01M187.2 539.6h.01M206.0 532.0h.01M183.1 530.5h.01M180.6 536.8h.01M194.9 535.0h.01M185.4 536.2h.01M196.0 540.0h.01M197.3 534.8h.01M191.1 533.2h.01M188.6 535.6h.01M199.1 544.7h.01M169.4 529.4h.01M175.0 530.6h.01M216.2 539.8h.01M207.4 536.7h.01M172.5 538.5h.01M197.8 534.6h.01M205.0 532.6h.01M196.8 538.0h.01M199.1 533.6h.01M193.9 537.7h.01M208.7 533.5h.01M198.8 536.1h.01M203.0 539.2h.01M195.7 535.6h.01M177.6 534.0h.01M189.3 534.0h.01M201.8 529.1h.01M217.5 534.1h.01M188.3 535.4h.01M191.6 543.2h.01M215.9 533.5h.01M207.9 537.9h.01M194.7 525.5h.01M189.3 537.6h.01M198.4 534.6h.01M191.4 536.4h.01M193.9 532.0h.01M189.6 520.0h.01M185.8 539.0h.01M197.0 521.6h.01M197.5 540.0h.01M203.8 523.7h.01M189.6 542.6h.01M194.6 535.7h.01M197.1 530.1h.01M181.8 533.5h.01M202.5 537.4h.01M195.5 539.7h.01M205.3 543.2h.01M207.4 530.9h.01M210.7 547.1h.01M212.6 537.7h.01M180.5 536.0h.01M207.5 528.7h.01M207.7 539.1h.01M190.4 535.8h.01M203.4 527.1h.01M206.1 534.0h.01M182.7 526.7h.01M195.0 538.8h.01M172.9 527.8h.01M198.9 537.6h.01M174.8 540.5h.01M194.4 534.1h.01M192.6 528.2h.01M181.8 535.9h.01M199.2 541.5h.01M194.8 532.3h.01M192.9 532.9h.01M200.7 544.9h.01M198.5 537.8h.01M205.9 525.1h.01M195.8 542.7h.01M181.0 532.9h.01M181.8 533.0h.01M201.8 536.1h.01M194.4 527.4h.01M196.2 531.7h.01M202.6 529.6h.01M199.0 536.8h.01M183.8 534.1h.01M208.7 536.0h.01M202.2 535.3h.01M206.9 538.7h.01M185.7 539.8h.01M198.8 543.0h.01M210.5 538.9h.01M196.9 530.3h.01M184.5 535.2h.01M187.4 537.7h.01M200.8 532.7h.01M190.5 524.7h.01M209.8 539.9h.01M188.9 537.0h.01M196.5 541.3h.01M180.1 527.6h.01M187.0 524.2h.01M209.4 536.1h.01M184.9 532.3h.01M187.0 530.0h.01M194.9 537.5h.01M208.5 535.8h.01M204.1 536.4h.01M191.0 530.7h.01M194.1 529.8h.01M183.8 529.1h.01M175.8 543.6h.01M203.0 529.7h.01M221.6 534.9h.01M203.0 535.4h.01M179.5 534.9h.01M191.5 533.2h.01M185.8 528.3h.01M204.0 537.7h.01M192.2 533.5h.01M193.2 534.6h.01M218.2 530.4h.01M208.5 543.0h.01M209.6 539.8h.01M198.9 537.1h.01M198.1 525.9h.01M198.1 529.3h.01M203.9 538.9h.01M191.8 532.3h.01M195.4 529.0h.01M184.3 531.4h.01M211.8 530.8h.01M184.5 530.9h.01M172.6 536.8h.01M182.2 537.3h.01M180.9 530.3h.01M172.3 539.9h.01M198.3 522.4h.01M203.5 530.8h.01M203.2 538.6h.01M184.6 537.4h.01M211.1 542.3h.01M200.6 539.2h.01M182.8 538.8h.01M206.2 540.8h.01M197.2 533.0h.01M210.5 529.7h.01M219.8 529.8h.01M190.3 521.9h.01M189.4 521.4h.01M188.1 536.9h.01M196.7 542.3h.01M195.2 534.4h.01M186.8 528.0h.01M172.6 535.1h.01M195.7 536.6h.01M193.4 530.4h.01M197.4 527.7h.01M202.9 539.5h.01M206.2 531.7h.01M185.7 535.3h.01M196.0 537.1h.01M201.7 536.9h.01M198.9 529.3h.01M208.0 524.7h.01M207.3 538.0h.01M192.9 537.4h.01M198.6 535.1h.01M202.4 536.7h.01M187.7 525.9h.01M208.0 530.7h.01M195.0 530.2h.01M186.6 535.3h.01M201.2 530.9h.01M196.5 531.3h.01M209.1 541.8h.01M187.0 527.1h.01M214.9 534.2h.01M209.0 534.7h.01M200.9 523.2h.01M187.6 531.8h.01M197.6 529.5h.01M193.3 531.2h.01M200.3 536.8h.01M205.8 538.9h.01M208.1 536.1h.01M190.5 545.7h.01M211.8 533.4h.01M193.8 539.6h.01M183.6 537.9h.01M182.1 533.3h.01M215.7 532.4h.01M189.9 536.3h.01M204.3 533.3h.01M185.2 533.2h.01M190.3 541.2h.01M208.4 535.2h.01M185.6 544.3h.01M199.2 532.8h.01M196.7 536.0h.01M221.8 531.2h.01M183.3 532.1h.01M192.5 538.9h.01M186.9 537.2h.01M192.9 544.2h.01M196.9 527.4h.01M206.7 524.5h.01M188.0 536.9h.01M200.6 534.1h.01M196.2 533.4h.01M208.9 535.8h.01M198.0 538.9h.01M189.7 535.6h.01M192.1 538.9h.01M209.5 535.5h.01M192.6 548.4h.01M204.3 531.0h.01M228.3 529.3h.01M223.9 532.6h.01M195.8 522.3h.01M186.5 541.9h.01M165.0 531.3h.01M197.8 534.7h.01M185.3 541.2h.01M199.9 539.3h.01M213.4 529.7h.01M200.7 530.7h.01M199.7 535.6h.01M180.4 532.3h.01M198.4 538.0h.01M189.4 535.5h.01M207.5 534.9h.01M213.0 535.2h.01M204.7 541.0h.01M189.6 541.4h.01M176.7 539.9h.01M191.9 548.0h.01M191.6 544.8h.01M185.8 535.9h.01M183.0 529.5h.01M192.2 547.4h.01M196.9 531.3h.01M201.0 529.3h.01M202.0 530.2h.01M197.9 535.4h.01M215.6 547.6h.01M194.8 532.4h.01M203.8 529.7h.01M185.6 538.3h.01M196.1 533.3h.01M198.8 541.1h.01M209.9 533.2h.01M187.3 528.4h.01M190.1 534.6h.01M206.8 525.6h.01M203.3 530.4h.01M191.7 528.0h.01M184.7 529.9h.01M194.3 526.5h.01M210.4 523.7h.01M170.4 529.7h.01M185.6 540.4h.01M193.9 536.0h.01M214.9 534.4h.01M197.2 543.1h.01M207.8 528.2h.01M196.2 531.6h.01M183.0 535.7h.01M204.5 535.5h.01M198.5 539.7h.01M206.6 531.0h.01M200.8 528.0h.01M184.6 532.9h.01M195.4 530.6h.01M196.3 543.4h.01M200.6 540.1h.01M193.6 535.8h.01M184.3 541.3h.01M189.4 529.9h.01M186.7 542.4h.01M188.3 531.9h.01M197.6 541.9h.01M179.6 536.2h.01M198.0 532.9h.01M212.6 537.4h.01M197.7 525.1h.01M198.0 546.2h.01M192.6 538.4h.01M203.0 534.1h.01M205.8 530.9h.01M191.3 537.4h.01M192.8 539.3h.01M202.3 529.7h.01M176.3 544.1h.01M195.5 536.7h.01M191.3 537.4h.01M200.2 524.3h.01M193.3 531.8h.01M197.7 535.6h.01M191.7 533.7h.01M184.4 537.8h.01M199.5 544.0h.01M200.0 525.1h.01M196.6 533.9h.01M208.7 532.6h.01M181.8 536.2h.01M208.3 530.1h.01M196.0 544.5h.01M178.1 534.2h.01M208.8 530.3h.01M188.8 540.6h.01M198.8 539.9h.01M186.6 532.5h.01M202.2 539.8h.01M189.4 529.5h.01M197.9 534.1h.01M197.6 542.8h.01M206.9 544.3h.01M204.4 544.6h.01M187.9 536.0h.01M191.0 533.0h.01M200.6 524.7h.01M204.9 542.8h.01M191.9 532.7h.01M199.7 523.5h.01M184.9 537.3h.01M182.7 534.5h.01M173.7 530.3h.01M190.8 532.8h.01M200.4 544.5h.01M201.9 537.4h.01M205.3 532.3h.01M191.4 536.8h.01M200.3 538.8h.01M191.7 535.4h.01M189.7 529.2h.01M192.1 541.0h.01M215.4 536.4h.01M207.5 546.7h.01M212.4 531.0h.01M211.3 528.1h.01M191.6 541.4h.01M179.9 543.8h.01M198.6 534.1h.01M190.3 543.7h.01M192.0 530.6h.01M210.3 533.8h.01M214.8 544.4h.01M205.3 533.2h.01M213.9 533.5h.01M190.7 529.9h.01M191.0 533.0h.01M176.9 525.8h.01M196.3 526.6h.01M189.4 536.3h.01M193.5 531.0h.01M192.2 533.0h.01M195.7 540.0h.01M189.8 540.2h.01M201.8 538.1h.01M197.8 536.9h.01M190.0 540.2h.01M196.0 541.8h.01M205.0 531.0h.01M205.9 537.2h.01M196.2 530.0h.01M186.2 534.4h.01M192.7 528.9h.01M192.2 527.4h.01M173.1 534.9h.01M205.9 530.1h.01M203.6 540.8h.01M182.0 534.8h.01M196.1 545.3h.01M190.1 538.0h.01M193.9 525.7h.01M204.7 534.8h.01M189.1 528.9h.01M192.6 542.7h.01M193.5 540.0h.01M199.7 547.0h.01M201.1 532.7h.01M193.3 536.6h.01M193.8 531.9h.01M184.7 540.7h.01M219.0 529.0h.01M199.1 536.3h.01M203.0 540.9h.01M189.6 526.2h.01M211.0 543.5h.01M193.8 525.3h.01M209.9 538.8h.01M198.1 532.3h.01M191.3 526.2h.01M192.8 528.2h.01M191.7 525.3h.01M188.2 533.1h.01M208.9 535.2h.01M195.2 543.7h.01M207.8 535.5h.01M203.5 528.1h.01M184.6 529.2h.01M180.7 534.4h.01M192.3 532.9h.01M196.6 533.5h.01M196.6 534.3h.01M195.7 528.3h.01M187.5 529.6h.01M203.3 541.6h.01M205.7 542.0h.01M189.7 538.8h.01M208.7 524.4h.01M204.1 538.8h.01M174.3 540.8h.01M191.5 530.0h.01M214.3 537.1h.01M180.4 530.4h.01M181.5 535.7h.01M193.6 531.5h.01M175.1 533.1h.01M209.7 543.7h.01M205.1 535.7h.01M192.4 551.2h.01" stroke="#d83020" stroke-width="1.0" stroke-linecap="round" opacity="0.55" fill="none"/>
<path d="M217.4 479.0h.01M208.4 492.6h.01M196.8 499.7h.01M225.2 502.1h.01M184.0 504.0h.01M207.3 510.4h.01M197.9 499.8h.01M218.2 467.4h.01M201.0 501.2h.01M221.2 496.0h.01M204.2 479.7h.01M219.8 496.3h.01M207.1 508.8h.01M185.8 504.7h.01M206.9 488.3h.01M223.5 476.9h.01M204.6 491.2h.01M198.0 492.9h.01M222.8 508.5h.01M211.5 496.8h.01M203.0 498.0h.01M223.3 490.4h.01M217.2 501.5h.01M204.2 473.9h.01M198.0 482.5h.01M222.7 475.7h.01M230.3 499.7h.01M203.0 509.2h.01M210.5 463.5h.01M203.7 488.6h.01M199.2 483.9h.01M221.9 504.7h.01M203.8 509.7h.01M202.5 474.0h.01M202.7 492.2h.01M226.4 468.9h.01M205.3 479.9h.01M197.3 506.0h.01M211.2 477.2h.01M202.1 468.3h.01M214.2 499.9h.01M171.7 478.1h.01M197.4 494.7h.01M204.2 510.2h.01M208.6 491.0h.01M201.8 507.0h.01M195.2 500.5h.01M201.7 495.9h.01M206.0 497.5h.01M177.6 496.3h.01M216.6 480.1h.01M178.3 491.1h.01M219.4 503.6h.01M215.2 508.0h.01M224.3 467.9h.01M214.3 510.8h.01M200.7 502.7h.01M231.8 472.2h.01M227.9 488.2h.01M208.9 508.6h.01M211.6 499.7h.01M201.9 478.7h.01M186.2 488.5h.01M223.0 494.4h.01M229.7 491.2h.01M200.3 496.9h.01M219.9 486.9h.01M216.5 508.7h.01M207.0 468.3h.01M204.6 496.6h.01M200.4 481.8h.01M212.2 483.1h.01M204.5 510.0h.01M184.3 478.7h.01M205.3 472.7h.01M224.3 495.7h.01M207.5 497.7h.01M214.3 509.3h.01M203.8 497.2h.01M223.8 480.7h.01M207.1 484.3h.01M214.2 496.5h.01M212.5 479.9h.01M221.8 510.9h.01M201.9 511.3h.01M221.3 479.6h.01M200.7 498.0h.01M223.5 503.2h.01M196.2 483.5h.01M234.0 489.7h.01M200.7 483.7h.01M183.7 509.1h.01M209.1 492.1h.01M214.2 481.2h.01M194.4 472.6h.01M230.9 483.3h.01M184.5 493.0h.01M202.3 491.0h.01M226.9 504.7h.01M207.2 510.6h.01M205.9 493.7h.01M191.5 493.0h.01M186.3 480.2h.01M177.4 499.3h.01M171.7 504.8h.01M206.5 509.8h.01M208.9 483.2h.01M186.9 508.5h.01M211.9 498.2h.01M216.9 492.0h.01M227.4 475.0h.01M200.1 505.1h.01M178.5 510.2h.01M228.0 492.6h.01M212.1 507.8h.01M211.7 492.0h.01M202.0 504.6h.01M208.7 472.8h.01M207.3 487.5h.01M213.7 494.0h.01M185.7 504.4h.01M209.5 506.6h.01M216.8 479.5h.01M192.1 506.9h.01M174.3 492.1h.01M177.3 510.6h.01M183.4 501.6h.01M194.0 489.3h.01M206.4 508.7h.01M215.1 494.6h.01M206.3 494.0h.01M192.5 500.8h.01M220.6 479.1h.01M209.8 499.7h.01M187.0 486.3h.01M211.9 504.7h.01M174.0 508.4h.01M220.7 483.0h.01M211.8 498.6h.01M200.3 480.5h.01M198.8 485.9h.01M218.1 500.4h.01M188.6 493.0h.01M193.3 496.1h.01M189.0 503.3h.01M222.8 504.7h.01M181.3 482.6h.01M227.1 509.9h.01M197.1 495.3h.01M205.1 510.9h.01M189.9 502.2h.01M202.2 497.5h.01M198.9 498.6h.01M209.0 501.5h.01M213.3 487.6h.01M212.8 477.8h.01M187.0 491.3h.01M179.3 490.5h.01M205.0 502.6h.01M230.3 502.9h.01M185.9 473.6h.01M182.8 500.2h.01M188.5 506.8h.01M176.1 476.8h.01M200.4 496.6h.01M175.4 511.5h.01M225.5 496.7h.01M223.4 483.9h.01M206.2 506.7h.01M213.6 505.4h.01M229.7 478.9h.01M231.1 478.0h.01M192.5 485.7h.01M228.9 494.7h.01M221.4 489.7h.01M207.6 491.4h.01M222.1 497.5h.01M207.5 503.3h.01M201.4 506.2h.01M227.5 491.4h.01M183.9 504.4h.01M180.0 493.6h.01M221.3 479.5h.01M198.2 508.4h.01M231.4 501.0h.01M226.4 487.2h.01M213.8 506.1h.01M192.6 492.4h.01M225.3 488.7h.01M195.6 503.4h.01M208.3 502.0h.01M228.1 472.1h.01M224.0 478.2h.01M199.0 503.2h.01M214.2 480.1h.01M203.3 490.1h.01M212.9 511.6h.01M228.2 495.7h.01M186.8 499.8h.01M229.2 487.9h.01M224.2 498.1h.01M221.2 503.3h.01M208.8 497.4h.01M218.3 492.3h.01M230.8 511.7h.01M214.0 492.1h.01M221.1 492.5h.01M233.2 482.8h.01M180.3 500.3h.01M182.8 480.2h.01M203.7 478.3h.01M228.9 487.3h.01M223.1 500.8h.01M204.9 481.6h.01M185.8 510.0h.01M224.0 477.9h.01M220.5 492.6h.01M231.3 505.2h.01M231.0 477.5h.01M198.1 506.7h.01M216.5 510.9h.01M175.4 507.8h.01M203.4 485.9h.01M213.1 491.9h.01M211.0 507.7h.01M216.4 484.5h.01M230.3 487.7h.01M170.2 502.1h.01M191.8 467.5h.01M221.3 479.5h.01M224.9 476.1h.01M222.3 485.9h.01M229.0 471.7h.01M226.4 503.9h.01M218.1 507.7h.01M221.4 510.5h.01M215.5 495.5h.01M229.5 499.1h.01M231.1 479.6h.01M179.0 488.3h.01M229.3 510.8h.01M214.9 494.9h.01M227.2 467.6h.01M222.1 495.8h.01M221.5 482.5h.01M203.3 491.5h.01M211.7 508.4h.01M221.5 507.3h.01M196.6 484.6h.01M198.8 505.5h.01M184.8 490.4h.01M202.2 487.8h.01M218.4 489.5h.01M217.6 504.6h.01M199.8 491.0h.01M233.0 498.4h.01M225.6 506.7h.01M216.0 500.7h.01M170.2 496.0h.01M179.6 500.7h.01M222.1 504.9h.01M205.9 488.0h.01M205.0 467.4h.01M231.6 474.9h.01M207.4 500.6h.01M173.8 498.0h.01M220.6 493.0h.01M191.6 506.4h.01M191.4 487.8h.01M211.0 495.9h.01M227.2 502.4h.01M179.6 509.8h.01M192.3 495.1h.01M205.0 490.9h.01M185.2 496.0h.01M227.9 504.9h.01M178.9 506.1h.01M229.6 487.1h.01M218.9 501.6h.01M201.1 478.5h.01M209.9 503.5h.01M202.6 510.5h.01M227.9 482.1h.01M224.9 483.6h.01M217.0 498.5h.01M224.2 509.3h.01M230.5 505.5h.01M206.5 503.2h.01M210.5 481.8h.01M227.8 492.2h.01M207.7 489.2h.01M175.0 481.5h.01M213.7 509.1h.01M216.9 496.4h.01M195.2 500.1h.01M186.8 473.9h.01M231.1 491.6h.01M195.9 478.2h.01M229.7 479.4h.01M222.9 510.7h.01M211.4 507.3h.01M224.8 503.6h.01M186.7 500.0h.01M188.1 466.8h.01M175.8 508.6h.01M198.2 476.9h.01M233.6 502.1h.01M190.5 497.8h.01M216.7 510.7h.01M221.4 499.2h.01M220.9 496.8h.01M227.2 508.4h.01M218.0 491.6h.01M233.0 510.1h.01M219.6 502.8h.01M202.0 497.6h.01M216.5 475.3h.01M205.4 499.3h.01M217.7 485.7h.01M193.4 486.3h.01M188.9 480.5h.01M208.5 480.7h.01M204.6 502.3h.01M204.2 509.2h.01M228.7 503.2h.01M214.0 501.6h.01M231.0 495.1h.01M223.9 477.0h.01M221.0 509.2h.01M226.2 496.4h.01M222.3 484.8h.01M199.4 472.6h.01M229.6 505.2h.01M228.1 499.1h.01M171.7 488.2h.01M218.6 473.7h.01M218.4 499.2h.01M219.2 505.0h.01M223.0 491.1h.01M203.8 478.9h.01M225.3 478.6h.01M203.0 489.2h.01M198.2 499.4h.01M193.4 467.8h.01M173.8 489.4h.01M229.9 488.0h.01M221.6 509.0h.01M177.4 501.7h.01M202.3 495.6h.01M208.4 510.7h.01M206.2 511.2h.01M186.7 492.8h.01M200.5 511.5h.01M216.6 505.7h.01M223.5 501.8h.01M199.4 471.7h.01M203.0 493.8h.01M216.7 476.0h.01M202.5 491.2h.01M202.2 500.6h.01M212.9 503.3h.01M187.2 487.5h.01M193.4 509.7h.01M229.9 489.4h.01M220.9 476.6h.01M186.1 476.7h.01M223.7 493.4h.01M190.3 500.8h.01M190.4 495.8h.01M209.4 481.1h.01M202.5 499.4h.01M205.8 499.0h.01M202.4 476.1h.01M218.7 483.5h.01M220.6 495.1h.01M210.8 504.9h.01M194.6 486.2h.01M213.7 504.9h.01M211.1 500.6h.01M227.5 507.2h.01" stroke="#e06a58" stroke-width="1.0" stroke-linecap="round" opacity="0.5" fill="none"/>
<path d="M261.5 467.2h.01M260.5 465.2h.01M267.0 468.8h.01M266.4 472.9h.01M264.5 464.7h.01M264.3 468.5h.01M265.0 468.3h.01M264.6 466.1h.01M258.9 470.0h.01M268.0 466.0h.01M263.0 467.0h.01M268.6 470.2h.01M267.9 469.3h.01M263.3 468.7h.01M265.7 471.8h.01M264.5 471.2h.01M261.8 468.8h.01M267.2 473.2h.01M263.1 473.7h.01M266.1 471.7h.01M265.1 470.6h.01M266.9 469.6h.01M267.0 468.5h.01M269.0 471.7h.01M266.4 465.9h.01M258.7 470.1h.01M262.2 470.4h.01M263.8 470.1h.01M262.7 465.9h.01M261.6 464.1h.01M262.4 464.9h.01M264.3 468.4h.01M265.5 464.3h.01M256.9 472.2h.01M268.0 469.0h.01M259.5 467.6h.01M259.7 473.4h.01M263.9 469.6h.01M268.5 470.1h.01M260.6 472.8h.01M264.9 473.4h.01M261.7 469.8h.01M263.1 468.9h.01M262.5 467.4h.01M265.7 472.7h.01M265.6 469.4h.01M265.4 468.1h.01M259.1 471.2h.01M261.4 469.3h.01M260.0 468.2h.01M259.6 465.9h.01M268.4 470.8h.01M264.7 470.6h.01M264.5 467.7h.01M267.6 469.3h.01M267.5 466.1h.01M264.5 468.3h.01M261.3 471.4h.01M261.2 470.6h.01M262.4 467.4h.01M264.9 470.7h.01M261.5 474.3h.01M262.4 470.2h.01M260.6 470.7h.01M261.0 469.2h.01M265.9 469.2h.01M258.8 470.2h.01M255.9 470.4h.01M267.3 464.4h.01M267.8 472.1h.01M262.4 466.0h.01M265.1 468.7h.01M263.2 468.9h.01M257.7 466.8h.01M257.1 466.6h.01M266.6 474.4h.01M265.7 469.7h.01M264.6 470.2h.01M260.9 468.7h.01M262.6 471.4h.01M265.7 467.0h.01M264.7 470.5h.01M264.4 466.4h.01M261.2 466.6h.01M262.4 470.0h.01M257.8 471.8h.01M263.6 468.6h.01M268.2 469.1h.01M262.2 467.2h.01M266.1 469.3h.01M257.5 471.3h.01M257.2 467.1h.01M257.2 468.3h.01M266.1 464.3h.01M258.5 464.9h.01M263.3 471.5h.01M265.1 470.4h.01M262.0 467.1h.01M268.6 471.0h.01M264.1 470.3h.01M260.8 468.3h.01M265.7 466.4h.01M267.8 468.0h.01M262.7 467.6h.01M267.4 471.5h.01M264.4 466.3h.01M265.5 469.8h.01M262.9 476.4h.01M264.8 468.4h.01M265.5 465.1h.01M268.9 479.7h.01M263.4 472.7h.01M257.8 468.7h.01M268.7 467.0h.01M261.4 468.4h.01M266.9 468.3h.01M266.7 471.2h.01M265.0 466.5h.01M264.9 471.7h.01M262.9 473.1h.01M263.8 472.0h.01M262.5 469.7h.01M262.8 464.5h.01M264.3 463.5h.01M268.8 470.0h.01M265.1 467.8h.01M261.7 466.0h.01M259.3 465.9h.01M263.7 464.0h.01M262.4 470.3h.01M264.0 469.7h.01M262.8 465.9h.01M264.4 472.1h.01M265.0 466.9h.01M257.5 469.4h.01M263.5 469.5h.01M263.5 468.7h.01M261.2 466.3h.01M267.7 472.3h.01M268.7 467.4h.01M261.9 471.0h.01M257.2 466.6h.01M262.7 470.9h.01M262.1 468.9h.01M265.7 469.3h.01M265.6 468.5h.01M257.3 465.2h.01M261.6 469.5h.01M263.0 472.2h.01M258.5 471.0h.01M265.4 469.3h.01M266.8 463.7h.01M265.4 471.7h.01M263.4 472.7h.01M263.6 468.1h.01M260.7 466.2h.01M265.6 469.6h.01M260.9 473.0h.01M261.5 467.4h.01M258.9 470.6h.01M257.0 473.6h.01M263.3 471.5h.01M267.4 472.7h.01M265.1 470.8h.01M267.7 472.3h.01M264.6 473.4h.01M265.7 466.3h.01M261.9 466.7h.01M255.1 470.9h.01M264.8 470.6h.01M259.6 466.5h.01M262.7 470.5h.01M268.4 463.6h.01M264.6 471.3h.01M261.1 466.1h.01M265.0 477.2h.01M264.1 470.3h.01M264.9 474.3h.01M265.7 470.6h.01M267.7 469.1h.01M260.2 465.5h.01M261.4 472.1h.01M266.2 473.6h.01M264.7 473.4h.01M266.4 466.7h.01M263.2 471.2h.01M258.5 469.5h.01M261.4 468.6h.01M265.0 471.9h.01M264.5 463.7h.01M262.0 471.3h.01M261.8 466.3h.01M261.7 471.7h.01M266.7 468.3h.01M258.6 469.5h.01M265.7 474.0h.01M258.9 468.5h.01M258.8 469.1h.01M266.0 469.1h.01M262.5 470.1h.01M264.6 472.8h.01M260.4 463.6h.01M263.8 466.3h.01M264.4 470.3h.01M265.7 470.8h.01M265.2 470.9h.01M259.1 466.4h.01M265.4 467.8h.01M263.6 464.8h.01M268.4 463.2h.01M262.5 468.3h.01M261.6 466.9h.01M265.6 465.1h.01M263.2 476.1h.01M265.4 463.0h.01M263.3 472.9h.01M265.6 469.1h.01M259.3 466.7h.01M259.0 472.4h.01M261.9 469.6h.01M267.5 467.0h.01M261.8 472.0h.01M265.6 470.5h.01M267.4 472.9h.01M267.9 471.7h.01M268.6 474.3h.01M261.1 475.6h.01M265.8 470.2h.01M267.8 470.1h.01M260.1 468.4h.01M268.3 473.1h.01M262.9 464.8h.01M265.7 467.9h.01M265.0 468.9h.01M267.5 471.1h.01M259.6 468.8h.01M260.7 467.8h.01M252.2 469.4h.01M265.2 468.1h.01M266.4 473.1h.01M256.1 468.6h.01M257.9 474.2h.01M262.6 466.0h.01M264.4 470.6h.01M264.9 466.8h.01M268.0 468.7h.01M264.5 467.0h.01M267.1 468.4h.01M261.9 468.0h.01M268.9 466.7h.01M265.0 474.1h.01M267.5 473.5h.01M262.7 470.5h.01M262.2 469.2h.01M267.0 464.2h.01M265.1 467.2h.01M264.5 466.4h.01M266.4 469.6h.01M259.9 470.4h.01M265.7 472.2h.01M265.7 469.9h.01M264.8 467.7h.01M260.3 471.2h.01M262.4 470.7h.01M261.8 471.8h.01M248.7 470.1h.01M262.7 469.5h.01M266.7 468.0h.01M261.7 470.3h.01M262.5 466.7h.01M267.3 468.3h.01M260.2 474.2h.01M268.6 467.5h.01M267.6 473.9h.01M262.2 464.5h.01M264.8 471.9h.01M262.1 464.4h.01M266.2 467.7h.01M262.1 470.2h.01M264.4 469.3h.01M264.9 471.9h.01M268.8 465.2h.01M268.0 469.8h.01M265.3 470.3h.01M261.5 469.4h.01M264.4 471.0h.01M263.0 464.9h.01M265.0 463.7h.01M264.4 473.3h.01M263.3 472.3h.01M266.9 468.8h.01M268.6 468.9h.01M262.2 468.1h.01M267.7 467.7h.01M266.4 469.9h.01M261.9 467.3h.01M264.0 469.8h.01M267.6 468.8h.01M266.9 466.6h.01M265.5 468.2h.01" stroke="#e0281a" stroke-width="1.0" stroke-linecap="round" opacity="0.8" fill="none"/>
<path d="M255.3 472.2h.01M254.5 474.8h.01M266.8 468.5h.01M267.7 469.3h.01M252.9 468.1h.01M251.9 480.5h.01M257.5 475.3h.01M259.0 474.2h.01M238.8 470.0h.01M237.3 469.9h.01M256.7 470.4h.01M262.0 468.1h.01M262.9 470.0h.01M260.6 471.5h.01M259.3 472.8h.01M243.1 472.3h.01M248.7 468.9h.01M251.3 471.8h.01M247.1 472.6h.01M262.8 472.7h.01M254.6 475.7h.01M254.7 471.2h.01M240.4 471.9h.01M245.3 472.4h.01M248.8 468.3h.01M247.5 473.5h.01M245.2 468.9h.01M256.4 475.3h.01M244.6 466.9h.01M248.6 472.6h.01M246.2 470.9h.01M264.5 472.7h.01M252.9 471.7h.01M252.4 469.0h.01M258.0 475.7h.01M255.8 465.9h.01M261.2 472.8h.01M258.7 472.3h.01M253.3 463.2h.01M265.2 466.5h.01M250.4 478.7h.01M256.5 466.6h.01M237.8 469.0h.01M240.5 467.9h.01M258.0 477.8h.01M262.4 469.9h.01M253.0 480.9h.01M259.5 468.3h.01M243.0 464.4h.01M251.0 466.4h.01M254.6 476.6h.01M244.9 468.4h.01M257.4 478.8h.01M246.2 479.8h.01M260.4 471.2h.01M260.1 469.7h.01M266.2 471.5h.01M250.5 471.3h.01M246.4 472.7h.01M244.2 473.7h.01M263.8 468.7h.01M253.7 468.8h.01M252.4 467.0h.01M237.6 463.7h.01M266.8 478.7h.01M239.1 463.2h.01M244.2 478.8h.01M253.5 475.5h.01M253.1 473.5h.01M265.4 465.4h.01M261.3 468.7h.01M241.9 473.5h.01M250.9 467.2h.01M267.7 466.3h.01M252.5 468.0h.01M240.5 470.3h.01M258.8 471.4h.01M261.0 482.1h.01M257.6 474.3h.01M254.8 468.9h.01M250.6 465.5h.01M261.2 475.3h.01M245.9 473.5h.01M250.6 468.9h.01M249.8 468.9h.01M238.6 475.7h.01M267.6 474.5h.01M250.3 469.2h.01M258.6 475.6h.01M263.1 466.3h.01M251.3 475.3h.01M268.7 470.6h.01M243.5 467.3h.01M268.3 475.0h.01M242.5 473.5h.01M248.0 470.6h.01M260.8 475.3h.01M244.7 470.1h.01M262.9 480.2h.01M240.9 467.6h.01M245.1 476.5h.01M237.3 467.4h.01M248.7 463.4h.01M262.8 472.5h.01M244.3 463.8h.01M243.1 466.3h.01M249.5 470.5h.01M253.2 465.1h.01M253.1 474.7h.01M253.0 466.8h.01M247.8 474.2h.01M261.6 480.7h.01M259.8 477.4h.01M249.1 472.0h.01M248.1 475.3h.01M262.9 475.4h.01M244.0 471.9h.01M256.9 468.5h.01M252.5 477.9h.01M261.1 466.9h.01M246.9 474.3h.01M246.5 469.6h.01M243.9 469.4h.01M246.3 467.8h.01M263.9 474.3h.01M249.0 470.9h.01M257.5 469.9h.01M245.5 470.8h.01M263.3 471.1h.01M264.1 480.5h.01M259.3 468.6h.01M257.8 473.6h.01M240.2 476.8h.01M247.2 473.6h.01M257.9 477.1h.01M262.8 474.4h.01M260.0 465.2h.01M251.7 463.1h.01M249.8 473.2h.01M244.5 467.1h.01M255.0 467.1h.01M253.3 478.7h.01M250.4 477.8h.01M246.2 474.0h.01M264.8 469.9h.01M239.6 474.6h.01M248.4 464.4h.01M252.9 467.3h.01M256.3 470.6h.01M237.5 478.9h.01M258.6 476.5h.01M240.7 467.9h.01M261.7 473.8h.01M260.6 476.4h.01M256.9 469.6h.01M239.6 471.7h.01M246.0 473.1h.01M264.5 479.8h.01M243.2 473.6h.01M253.2 475.1h.01M255.2 476.9h.01M243.1 464.5h.01M251.0 475.6h.01M250.5 471.2h.01M266.1 477.6h.01M251.1 473.0h.01M241.3 473.4h.01M254.7 472.8h.01M248.6 470.3h.01M245.1 468.9h.01M253.8 467.5h.01M262.1 473.7h.01M246.7 468.6h.01M258.9 469.6h.01M253.6 467.4h.01M256.8 470.3h.01M246.6 468.6h.01M237.1 472.3h.01M268.0 469.7h.01M254.0 472.5h.01M268.4 474.3h.01M245.4 470.1h.01M242.9 466.9h.01M258.8 468.0h.01M262.0 468.6h.01M242.0 476.7h.01M254.5 467.9h.01M245.6 478.7h.01M268.3 469.9h.01M252.5 466.3h.01M246.5 476.5h.01M242.7 475.4h.01M252.8 469.3h.01M252.6 471.9h.01M256.0 478.5h.01M264.3 474.4h.01M261.2 478.9h.01M247.3 470.4h.01M242.9 474.8h.01M249.5 471.8h.01M256.9 472.3h.01M247.0 471.2h.01M257.1 475.4h.01M258.1 475.1h.01M249.6 471.6h.01M252.6 469.0h.01M241.2 477.6h.01M252.9 471.2h.01M256.3 470.9h.01M244.1 473.3h.01M262.1 474.7h.01M246.7 467.0h.01M253.1 477.2h.01M242.7 466.1h.01M241.6 466.9h.01M260.6 464.1h.01M262.2 474.2h.01M243.0 471.8h.01M249.5 477.1h.01M260.6 474.7h.01M254.5 474.8h.01M237.6 476.8h.01M263.4 481.4h.01M244.9 471.3h.01M243.9 466.0h.01M249.6 471.1h.01M249.3 470.1h.01M254.9 471.1h.01M241.9 471.0h.01M244.3 479.3h.01M239.7 475.3h.01M253.1 473.7h.01M265.5 470.6h.01M251.3 477.1h.01M259.5 473.7h.01M258.4 478.7h.01M261.7 471.4h.01M248.2 474.2h.01M249.9 474.2h.01M252.7 484.6h.01M262.6 471.9h.01M253.3 464.5h.01M253.8 473.1h.01M265.8 469.3h.01M242.5 477.8h.01M252.6 464.5h.01M261.4 467.4h.01M241.9 468.4h.01M261.7 469.4h.01M237.5 469.7h.01M256.1 477.2h.01M257.8 470.0h.01M241.5 474.8h.01M259.5 466.5h.01M259.9 464.8h.01M249.8 474.9h.01M258.1 470.1h.01M259.5 467.5h.01M267.4 471.3h.01M263.6 471.9h.01M263.7 474.4h.01M246.7 475.0h.01M256.5 468.1h.01M255.2 469.4h.01M259.8 476.4h.01M247.6 479.1h.01M255.1 470.5h.01M252.1 464.5h.01M257.0 481.7h.01M244.3 469.0h.01M261.0 474.6h.01M247.7 468.3h.01M251.7 464.0h.01M263.6 468.6h.01M242.3 463.6h.01M246.1 469.8h.01M264.0 471.3h.01M261.1 472.6h.01M250.9 475.9h.01M244.0 475.6h.01M250.3 473.5h.01M258.6 468.5h.01M260.4 469.6h.01M253.6 469.5h.01M245.7 466.3h.01M244.2 473.0h.01M262.6 466.5h.01M263.8 470.5h.01M265.8 478.8h.01M242.6 473.4h.01M240.0 470.2h.01M261.7 467.9h.01M248.6 468.1h.01M245.6 476.5h.01M257.4 468.7h.01M245.9 469.5h.01M239.4 464.7h.01M259.1 478.5h.01M241.3 475.8h.01M242.1 476.3h.01M268.9 479.1h.01M261.4 474.2h.01M254.2 479.0h.01M265.3 472.8h.01M246.9 472.8h.01M250.6 473.2h.01M255.7 476.6h.01M261.5 477.3h.01M252.5 470.1h.01M252.1 473.1h.01M254.0 470.2h.01M262.3 466.3h.01M260.4 467.3h.01M251.2 473.6h.01M257.7 475.3h.01M263.8 471.3h.01M257.0 475.7h.01M241.3 468.3h.01M240.7 468.7h.01M266.4 467.7h.01" stroke="#e04a38" stroke-width="1.0" stroke-linecap="round" opacity="0.55" fill="none"/>
<path d="M238.7 500.8h.01M253.3 468.2h.01M265.9 492.8h.01M252.6 476.2h.01M239.9 493.8h.01M260.2 489.4h.01M266.1 488.4h.01M250.4 485.4h.01M249.6 479.1h.01M257.0 502.3h.01M256.7 488.1h.01M258.9 511.8h.01M252.9 490.0h.01M258.2 486.0h.01M260.4 489.0h.01M261.3 491.2h.01M251.0 493.2h.01M269.4 482.3h.01M268.4 477.0h.01M249.9 490.9h.01M238.8 491.9h.01M264.1 491.0h.01M253.3 493.9h.01M261.6 505.1h.01M261.6 500.9h.01M244.3 488.5h.01M254.6 493.4h.01M262.7 490.1h.01M250.5 491.2h.01M255.8 497.5h.01M251.3 490.2h.01M243.7 466.4h.01M256.0 501.0h.01M261.8 482.7h.01M262.2 470.4h.01M253.1 509.3h.01M237.6 505.8h.01M240.5 485.3h.01M257.5 479.5h.01M259.0 488.1h.01M246.5 498.9h.01M243.5 471.6h.01M242.4 503.9h.01M262.5 493.5h.01M263.8 503.0h.01M260.6 507.1h.01M265.1 484.1h.01M268.2 487.5h.01M252.7 463.8h.01M263.5 492.9h.01M267.3 492.4h.01M254.9 490.2h.01M256.1 489.0h.01M263.5 491.0h.01M255.6 484.1h.01M258.8 496.7h.01M245.5 486.9h.01M250.2 480.1h.01M261.3 494.6h.01M258.1 499.9h.01M254.7 500.6h.01M240.7 474.8h.01M253.9 485.5h.01M258.6 480.3h.01M257.1 506.1h.01M265.0 491.0h.01M254.4 479.4h.01M244.3 475.9h.01M255.8 495.2h.01M257.8 491.5h.01M267.5 471.1h.01M265.0 479.8h.01M252.3 507.0h.01M257.4 483.9h.01M245.5 495.6h.01M255.1 489.1h.01M264.4 486.9h.01M256.8 507.8h.01M238.9 479.7h.01M243.5 490.7h.01M247.2 481.5h.01M253.8 495.9h.01M247.9 479.4h.01M259.3 502.1h.01M252.9 503.3h.01M245.9 494.9h.01M263.2 482.5h.01M265.6 479.4h.01M241.5 508.8h.01M269.6 488.1h.01M250.9 492.7h.01M255.3 492.4h.01M249.5 483.5h.01M245.6 497.0h.01M250.5 505.6h.01M258.5 495.9h.01M254.8 500.5h.01M249.9 496.4h.01M248.0 506.8h.01M265.5 483.9h.01M249.9 488.5h.01M267.3 479.8h.01M245.1 493.7h.01M251.7 488.2h.01M243.3 490.3h.01M256.7 477.2h.01M261.1 490.9h.01M245.8 497.6h.01M253.8 477.3h.01M249.8 484.9h.01M245.6 487.8h.01M260.0 506.8h.01M261.1 475.6h.01M256.1 493.0h.01M266.4 494.4h.01M263.7 492.5h.01M239.0 479.3h.01M253.0 482.8h.01M255.4 485.7h.01M243.2 489.6h.01M243.7 498.5h.01M251.1 501.6h.01M252.0 482.4h.01M262.4 506.1h.01M267.3 499.8h.01M260.9 480.2h.01M252.5 496.5h.01M256.3 492.8h.01M251.8 483.4h.01M267.9 481.7h.01M260.2 494.5h.01M245.1 506.5h.01M248.8 470.4h.01M259.1 482.1h.01M247.2 494.1h.01M266.3 486.2h.01M251.8 489.7h.01M242.4 490.8h.01M264.0 501.6h.01M268.3 477.4h.01M268.3 487.2h.01M247.0 505.4h.01M257.5 494.4h.01M251.2 482.8h.01M260.6 511.7h.01M254.8 470.9h.01M256.6 486.3h.01M250.2 509.3h.01M257.4 463.8h.01M251.2 483.2h.01M265.0 477.7h.01M252.3 482.7h.01M251.4 496.7h.01M259.9 493.9h.01M241.3 471.3h.01M252.1 497.3h.01M259.9 492.5h.01M252.8 478.8h.01M240.4 501.0h.01M250.3 493.9h.01M265.4 488.3h.01M259.4 480.1h.01M261.1 492.9h.01M241.7 494.2h.01M264.8 500.8h.01M257.7 486.4h.01M261.6 495.3h.01M245.6 492.4h.01M268.4 480.3h.01M249.7 502.2h.01M260.9 493.4h.01M252.5 500.9h.01M243.9 499.4h.01M259.1 486.8h.01M266.7 499.1h.01M241.0 497.3h.01M264.2 490.3h.01M254.9 484.7h.01M250.8 490.9h.01M255.8 495.6h.01M260.8 499.0h.01M254.3 487.3h.01M246.1 493.1h.01M246.3 498.2h.01M240.3 488.6h.01M243.9 475.1h.01M247.9 500.7h.01M257.2 479.8h.01M261.5 495.8h.01M249.5 505.8h.01M263.7 472.3h.01M249.5 481.3h.01M264.0 491.7h.01M258.6 470.6h.01M242.6 507.4h.01M264.8 509.0h.01M247.1 504.1h.01M256.8 490.2h.01M253.1 473.3h.01M251.7 482.2h.01M259.5 498.7h.01M254.4 486.7h.01M266.2 491.7h.01M260.5 490.7h.01M247.5 496.3h.01M257.4 485.6h.01M264.1 479.6h.01M261.0 471.5h.01M247.4 510.0h.01M262.0 495.5h.01M262.3 493.1h.01M249.7 490.2h.01M245.7 492.4h.01M263.9 494.6h.01M247.0 490.3h.01M256.5 488.2h.01M264.1 498.4h.01M248.7 487.1h.01M248.1 475.4h.01M247.6 480.3h.01" stroke="#e05a48" stroke-width="1.0" stroke-linecap="round" opacity="0.5" fill="none"/>
<path d="M265.0 492.6h.01M258.8 477.1h.01M263.6 491.0h.01M259.4 496.0h.01M265.9 495.1h.01M259.8 499.7h.01M263.4 500.7h.01M251.5 500.1h.01M254.7 495.0h.01M262.3 494.5h.01M259.1 499.6h.01M257.2 477.3h.01M261.8 503.6h.01M264.7 489.5h.01M263.4 488.5h.01M260.0 492.0h.01M254.4 495.7h.01M257.1 505.9h.01M259.6 487.3h.01M266.7 495.1h.01M255.3 505.1h.01M258.7 499.3h.01M257.3 505.7h.01M257.2 483.4h.01M253.6 495.8h.01M261.1 497.4h.01M248.7 503.8h.01M261.4 478.1h.01M264.2 495.3h.01M263.0 484.7h.01M259.9 487.1h.01M256.4 492.2h.01M265.1 484.6h.01M250.6 494.4h.01M263.7 480.5h.01M258.3 500.1h.01M260.7 497.6h.01M264.1 489.8h.01M262.8 483.8h.01M255.7 479.0h.01M260.2 505.4h.01M261.3 499.8h.01M251.3 485.5h.01M261.4 490.7h.01M244.5 500.6h.01M260.0 478.3h.01M262.2 484.8h.01M261.8 495.5h.01M262.7 505.9h.01M260.7 483.0h.01M258.7 484.7h.01M262.2 484.9h.01M256.7 482.5h.01M257.1 484.7h.01M263.0 480.8h.01M257.0 492.9h.01M269.0 503.4h.01M252.6 477.5h.01M256.2 488.0h.01M259.2 497.3h.01M257.1 504.7h.01M263.4 499.4h.01M259.9 500.3h.01M269.1 489.7h.01M251.2 483.5h.01M258.1 489.5h.01M258.2 480.6h.01M268.2 478.2h.01M250.8 494.6h.01M258.9 479.7h.01M264.9 479.0h.01M254.4 477.7h.01M269.8 492.2h.01M252.1 493.8h.01M258.9 488.2h.01M254.3 497.9h.01M263.3 479.2h.01M257.4 487.4h.01M257.6 483.8h.01M248.1 492.4h.01M255.0 485.5h.01M260.0 478.1h.01M257.1 489.2h.01M258.5 488.0h.01M268.9 496.3h.01M258.0 492.8h.01M253.9 479.0h.01M273.3 502.2h.01M262.8 479.2h.01M260.1 499.6h.01M257.3 493.1h.01M252.9 486.3h.01M273.6 476.3h.01M253.4 505.7h.01M261.0 479.0h.01M265.6 484.3h.01M254.8 501.8h.01M255.6 485.6h.01M260.0 497.1h.01M253.7 498.6h.01M251.0 502.2h.01M260.7 482.1h.01M256.2 498.0h.01M259.2 494.4h.01M264.3 491.9h.01M259.0 480.6h.01M249.6 501.0h.01M266.9 491.5h.01M257.9 504.9h.01M262.0 496.2h.01M256.3 502.4h.01M257.8 480.4h.01M261.4 496.5h.01M258.4 495.4h.01M259.9 505.8h.01M268.7 477.8h.01M257.1 494.5h.01M259.6 495.4h.01M256.7 494.5h.01M260.8 501.3h.01M263.4 482.3h.01M258.9 498.5h.01M260.7 503.3h.01M261.8 486.0h.01M254.7 500.7h.01M265.3 505.3h.01M259.3 484.8h.01M257.4 481.5h.01M253.9 495.7h.01M251.6 495.7h.01M271.0 483.5h.01M254.4 501.4h.01M260.8 502.3h.01M254.7 496.0h.01M247.3 481.7h.01M254.0 484.2h.01M258.5 496.6h.01M248.9 500.3h.01M253.0 497.1h.01M261.4 476.5h.01" stroke="#e04a38" stroke-width="1.0" stroke-linecap="round" opacity="0.5" fill="none"/>
<path d="M243.5 537.8h.01M245.5 546.9h.01M240.3 515.9h.01M253.1 541.1h.01M267.3 544.9h.01M236.8 520.6h.01M245.6 533.8h.01M249.2 518.9h.01M249.0 533.5h.01M263.8 538.2h.01M267.8 531.0h.01M239.6 528.5h.01M264.7 521.4h.01M253.1 532.8h.01M250.5 540.1h.01M241.2 521.6h.01M250.4 518.8h.01M253.0 536.6h.01M254.1 519.4h.01M267.5 516.3h.01M240.2 538.2h.01M238.2 535.3h.01M241.8 531.4h.01M252.3 547.2h.01M236.5 538.4h.01M267.1 542.0h.01M249.7 536.2h.01M254.1 533.6h.01M257.9 547.0h.01M253.9 537.9h.01M250.3 521.2h.01M245.4 534.9h.01M252.6 536.8h.01M257.0 540.5h.01M250.6 532.0h.01M263.3 535.4h.01M244.1 546.0h.01M242.3 534.1h.01M249.8 519.5h.01M243.9 519.0h.01M265.0 541.6h.01M261.2 537.8h.01M252.4 545.8h.01M242.3 530.4h.01M242.0 529.4h.01M243.9 544.3h.01M237.1 519.7h.01M262.1 536.2h.01M256.9 518.8h.01M247.4 538.1h.01M247.8 521.0h.01M252.1 536.8h.01M255.5 519.3h.01M265.4 523.8h.01M252.6 528.2h.01M236.7 533.3h.01M240.4 520.9h.01M248.9 515.1h.01M258.9 529.5h.01M260.1 531.7h.01M255.0 549.7h.01M249.4 537.8h.01M262.6 523.5h.01M256.4 520.4h.01M265.3 520.7h.01M253.0 522.7h.01M264.3 523.3h.01M244.6 524.9h.01M238.3 527.5h.01M246.6 519.5h.01M242.5 549.2h.01M253.5 520.3h.01M249.2 532.9h.01M253.5 533.0h.01M247.0 545.1h.01M265.0 551.2h.01M237.5 518.9h.01M250.8 535.0h.01M262.1 532.4h.01M258.7 531.5h.01M239.4 530.3h.01M257.6 537.5h.01M244.4 530.4h.01M262.9 538.7h.01M239.7 551.0h.01M254.7 545.1h.01M267.6 544.8h.01M240.3 516.8h.01M236.6 519.3h.01M264.1 516.1h.01M258.5 551.8h.01M256.9 547.0h.01M262.1 516.4h.01M256.8 546.3h.01M238.8 529.3h.01M260.7 547.0h.01M247.9 516.5h.01M248.7 538.9h.01M251.3 541.8h.01M249.5 525.0h.01M249.8 521.6h.01M248.9 545.2h.01M246.4 529.1h.01M258.6 522.4h.01M256.6 525.9h.01M264.5 518.2h.01M236.6 548.8h.01M257.8 543.4h.01M250.6 543.6h.01M236.9 547.1h.01M257.7 530.2h.01M265.2 539.2h.01M267.8 549.9h.01M255.4 548.4h.01M242.5 515.8h.01M263.5 516.0h.01M262.7 516.9h.01M240.7 517.0h.01M243.0 547.5h.01M258.4 520.7h.01M266.5 539.1h.01M251.0 547.1h.01M265.7 523.4h.01M257.4 551.8h.01M237.7 521.8h.01M240.3 536.3h.01M237.8 535.8h.01M245.6 526.9h.01M240.9 534.4h.01M240.5 530.9h.01M237.5 530.2h.01M247.9 525.6h.01M254.3 526.6h.01M248.9 532.3h.01M263.5 542.2h.01M253.1 534.2h.01M264.8 528.7h.01M239.5 543.0h.01M253.3 529.0h.01M246.4 531.5h.01M248.9 533.2h.01M252.9 547.7h.01M255.9 518.3h.01M265.2 531.8h.01M257.8 551.9h.01M236.8 550.3h.01M264.9 516.2h.01M244.1 536.0h.01M256.2 546.3h.01M253.9 547.7h.01" stroke="#e08a7a" stroke-width="1.0" stroke-linecap="round" opacity="0.45" fill="none"/>
<rect x="163" y="446" width="117" height="117" fill="none" stroke="#646464" stroke-width="1"/>
<line x1="235.3" y1="446" x2="235.3" y2="563" stroke="#646464" stroke-width="1"/>
<line x1="163" y1="514.25" x2="280" y2="514.25" stroke="#646464" stroke-width="1"/>
<path d="M162.4 450.0h1.8M162.4 454.1h1.8M162.4 459.6h1.8M162.4 465.1h1.8M162.4 467.6h1.8M162.4 470.8h1.8M162.4 478.8h1.8M162.4 482.0h1.8M162.4 484.5h1.8M162.4 487.0h1.8M162.4 490.2h1.8M162.4 493.4h1.8M162.4 496.6h1.8M162.4 500.7h1.8M162.4 503.2h1.8M162.4 505.7h1.8M162.4 508.9h1.8M162.4 512.1h1.8M162.4 516.2h1.8M162.4 518.7h1.8M162.4 522.8h1.8M162.4 525.3h1.8M162.4 527.8h1.8M162.4 533.3h1.8M162.4 535.8h1.8M162.4 539.0h1.8M162.4 547.0h1.8M162.4 552.5h1.8M162.4 556.6h1.8M162.4 560.7h1.8M166.0 563.6v-1.8M176.0 563.6v-1.8M179.5 563.6v-1.8M184.5 563.6v-1.8M194.5 563.6v-1.8M201.5 563.6v-1.8M211.5 563.6v-1.8M215.0 563.6v-1.8M222.0 563.6v-1.8M227.0 563.6v-1.8M232.0 563.6v-1.8M242.0 563.6v-1.8M252.0 563.6v-1.8M257.0 563.6v-1.8M260.5 563.6v-1.8M265.5 563.6v-1.8M268.0 563.6v-1.8M270.5 563.6v-1.8M277.5 563.6v-1.8" stroke="#333" stroke-width="0.9" fill="none"/>
<rect x="163" y="446.8" width="23.30000000000001" height="8.199999999999989" fill="rgba(255,255,255,0.88)" stroke="#b0b0b0" stroke-width="0.9"/>
<text x="164.4" y="453.42" font-size="7.0" text-anchor="start" font-weight="bold" fill="#1e1e1e" textLength="21.5" lengthAdjust="spacingAndGlyphs" >10.14%</text>
<rect x="256.3" y="446.8" width="23.19999999999999" height="8.199999999999989" fill="rgba(255,255,255,0.88)" stroke="#b0b0b0" stroke-width="0.9"/>
<text x="257.7" y="453.42" font-size="7.0" text-anchor="start" font-weight="bold" fill="#1e1e1e" textLength="21.5" lengthAdjust="spacingAndGlyphs" >34.39%</text>
<rect x="163" y="545" width="23.30000000000001" height="8.799999999999955" fill="rgba(255,255,255,0.88)" stroke="#b0b0b0" stroke-width="0.9"/>
<text x="164.4" y="551.92" font-size="7.0" text-anchor="start" font-weight="bold" fill="#1e1e1e" textLength="21.5" lengthAdjust="spacingAndGlyphs" >51.85%</text>
<rect x="260" y="545" width="19.5" height="8.799999999999955" fill="rgba(255,255,255,0.88)" stroke="#b0b0b0" stroke-width="0.9"/>
<text x="261.4" y="551.92" font-size="7.0" text-anchor="start" font-weight="bold" fill="#1e1e1e" textLength="17.5" lengthAdjust="spacingAndGlyphs" >3.62%</text>
<path d="M308.4 533.7h.01M303.1 531.5h.01M301.8 539.6h.01M317.5 534.3h.01M326.8 533.4h.01M351.8 513.9h.01M339.3 540.4h.01M325.0 518.2h.01M314.3 520.2h.01M324.3 542.6h.01M325.4 539.0h.01M309.8 525.2h.01M328.1 528.3h.01M328.6 524.4h.01M319.7 532.2h.01M337.4 531.9h.01M339.8 538.5h.01M297.8 552.0h.01M341.9 543.6h.01M345.1 524.6h.01M338.3 528.6h.01M307.2 535.6h.01M348.1 536.2h.01M321.0 533.1h.01M334.2 534.1h.01M349.0 528.9h.01M345.9 535.9h.01M328.9 534.1h.01M329.0 543.2h.01M327.3 532.3h.01M321.4 534.0h.01M306.5 529.7h.01M359.0 536.8h.01M307.8 551.5h.01M347.5 546.6h.01M342.9 537.3h.01M342.8 530.0h.01M308.0 547.6h.01M314.3 536.5h.01M306.5 523.8h.01M350.5 532.5h.01M296.2 531.2h.01M319.1 532.7h.01M331.8 551.1h.01M342.1 524.7h.01M303.0 531.8h.01M345.5 538.5h.01M333.0 533.2h.01M329.7 536.0h.01M328.6 528.4h.01M341.3 531.3h.01M313.4 524.4h.01M303.9 538.9h.01M306.9 546.6h.01M319.5 536.4h.01M309.9 543.6h.01M368.0 537.2h.01M336.8 545.3h.01M322.9 524.7h.01M331.4 542.5h.01M340.9 528.5h.01M336.0 537.0h.01M320.8 541.1h.01M339.3 523.4h.01M311.3 549.1h.01M338.6 539.0h.01M338.9 537.6h.01M332.3 518.5h.01M335.5 532.1h.01M296.8 534.7h.01M323.6 520.0h.01M327.8 520.5h.01M337.1 542.7h.01M333.2 537.4h.01M325.1 539.3h.01M331.4 544.3h.01M316.5 545.6h.01M317.0 526.8h.01M330.3 515.3h.01M334.8 539.1h.01M307.3 539.0h.01M326.1 542.9h.01M325.7 543.7h.01M342.5 531.8h.01M313.8 527.2h.01M316.3 533.5h.01M319.4 543.8h.01M343.4 540.6h.01M316.9 524.9h.01M342.7 532.5h.01M338.1 532.2h.01M345.9 547.0h.01M335.6 550.3h.01M295.0 536.2h.01M324.9 534.7h.01M297.2 525.7h.01M319.7 512.8h.01M308.8 531.4h.01M335.2 530.4h.01M320.6 532.9h.01M329.8 529.0h.01M335.5 541.9h.01M295.0 550.2h.01M350.0 528.8h.01M309.6 526.2h.01M311.0 523.8h.01M307.1 527.7h.01M324.3 523.1h.01M305.0 536.6h.01M336.0 540.3h.01M328.8 525.3h.01M309.5 541.0h.01M325.9 528.8h.01M335.7 540.4h.01M322.5 538.0h.01M330.2 549.7h.01M309.4 543.6h.01M323.6 531.9h.01M334.8 538.0h.01M343.7 556.8h.01M322.0 512.6h.01M357.3 536.7h.01M351.4 533.7h.01M323.6 552.1h.01M309.1 521.6h.01M305.8 546.6h.01M310.6 535.6h.01M306.2 527.7h.01M314.6 526.2h.01M327.6 541.6h.01M336.5 536.1h.01M321.9 546.9h.01M326.8 556.8h.01M345.0 518.3h.01M354.2 509.0h.01M309.7 535.2h.01M336.3 553.5h.01M309.1 532.9h.01M347.0 523.8h.01M309.5 540.2h.01M335.1 544.4h.01M349.4 558.1h.01M297.0 525.5h.01M337.8 553.3h.01M320.8 525.9h.01M325.2 527.7h.01M314.7 529.3h.01M326.8 537.0h.01M295.4 521.4h.01M310.3 543.0h.01M308.3 527.0h.01M316.1 517.1h.01M325.8 536.4h.01M309.3 529.5h.01M310.2 537.4h.01M333.8 543.0h.01M336.7 528.1h.01M336.6 531.4h.01M349.2 531.0h.01M297.9 517.0h.01M319.1 521.6h.01M337.5 536.8h.01M314.1 531.1h.01M320.4 534.9h.01M301.4 543.5h.01M328.6 546.1h.01M292.8 532.8h.01M344.7 514.1h.01M355.1 537.0h.01M330.7 536.7h.01M307.6 541.0h.01M326.9 520.2h.01M302.2 525.3h.01M317.2 538.8h.01M298.8 545.9h.01M323.5 541.5h.01M302.5 531.6h.01M336.9 540.8h.01M298.6 543.3h.01M327.7 531.5h.01M327.8 526.9h.01M307.0 538.1h.01M319.1 536.6h.01M341.2 538.8h.01M316.7 546.1h.01M352.2 528.5h.01M311.1 525.9h.01M345.5 538.0h.01M312.7 534.3h.01M321.9 538.0h.01M336.6 526.9h.01M305.2 530.6h.01M331.4 527.7h.01M342.7 550.4h.01M314.3 518.7h.01M350.4 526.2h.01M305.2 533.9h.01M320.8 546.8h.01M316.9 534.1h.01M327.1 519.9h.01M304.2 526.4h.01M344.1 527.3h.01M339.8 546.9h.01M316.4 545.3h.01M314.3 529.0h.01M335.9 540.8h.01M333.3 525.3h.01M310.4 509.6h.01M331.2 530.3h.01M333.3 528.9h.01M359.9 532.1h.01M316.4 535.6h.01M355.4 515.2h.01M325.0 525.7h.01M324.8 537.5h.01M319.6 534.3h.01M335.3 533.2h.01M301.6 540.6h.01M327.9 551.1h.01M305.8 534.4h.01M301.5 553.2h.01M303.5 550.4h.01M360.3 534.0h.01M311.9 521.0h.01M305.7 514.0h.01M327.9 522.2h.01M316.3 533.7h.01M319.8 534.9h.01M332.9 523.4h.01M316.7 515.8h.01M304.3 545.0h.01M325.6 535.6h.01M293.3 551.7h.01M334.6 539.4h.01M324.0 545.1h.01M318.6 538.7h.01M330.1 529.6h.01M332.5 542.6h.01M307.2 526.9h.01M326.0 523.6h.01M347.4 531.9h.01M326.5 542.1h.01M290.3 523.4h.01M313.2 532.8h.01M347.9 558.7h.01M314.5 550.1h.01M323.6 539.0h.01M349.3 524.9h.01M336.9 531.1h.01M335.2 536.0h.01M314.5 524.5h.01M344.9 521.7h.01M349.6 531.5h.01M314.9 531.5h.01M320.6 509.7h.01M303.4 534.4h.01M335.0 542.0h.01M316.6 537.3h.01M319.9 539.4h.01M330.7 545.2h.01M343.4 531.5h.01M343.2 533.8h.01M351.2 540.2h.01M327.6 536.9h.01M333.0 535.8h.01M313.0 519.6h.01M339.4 541.5h.01M319.4 517.3h.01M327.4 554.4h.01M317.7 524.1h.01M336.1 539.4h.01M314.9 532.9h.01M339.0 550.9h.01M356.2 521.6h.01M326.2 540.2h.01M322.3 534.1h.01M332.1 542.4h.01M315.9 543.7h.01M307.5 529.3h.01M344.0 557.0h.01M369.9 510.2h.01M314.6 516.1h.01M337.3 541.4h.01M334.6 524.6h.01M331.6 533.0h.01M337.6 530.4h.01M299.7 543.7h.01M337.4 535.9h.01M334.7 546.5h.01M348.6 541.8h.01M316.3 560.9h.01M306.3 531.9h.01M337.9 536.1h.01M325.7 514.5h.01M318.8 534.8h.01M336.8 538.3h.01M337.8 531.8h.01M334.8 541.3h.01M358.2 529.0h.01M312.1 549.8h.01M308.3 517.8h.01M306.9 537.9h.01M323.5 531.7h.01M332.9 531.8h.01M310.5 535.5h.01M354.0 540.8h.01M297.4 538.4h.01M341.7 548.3h.01M317.5 526.9h.01M319.9 534.4h.01M341.4 523.7h.01M337.3 529.9h.01M311.9 519.2h.01M332.6 527.4h.01M320.8 520.4h.01M312.6 539.2h.01M331.5 540.0h.01M337.5 542.1h.01M347.2 517.9h.01M352.0 534.1h.01M321.6 533.9h.01M367.1 529.1h.01M331.1 533.5h.01M331.8 529.5h.01M342.0 525.4h.01M315.6 544.0h.01M306.9 536.9h.01M362.5 538.1h.01M305.6 536.2h.01M361.1 543.6h.01M352.3 534.0h.01M364.7 529.9h.01M326.1 530.4h.01M318.3 534.2h.01M317.3 543.9h.01M304.6 527.8h.01M298.3 544.6h.01M322.7 528.5h.01M352.8 525.8h.01M297.2 539.5h.01M309.6 526.9h.01M307.2 557.3h.01M322.0 513.1h.01M318.3 532.3h.01M347.5 524.3h.01M294.9 544.7h.01M339.6 531.0h.01M313.4 540.7h.01M339.7 560.5h.01M319.6 525.0h.01M346.8 543.3h.01M291.5 527.3h.01M327.6 524.2h.01M313.7 521.0h.01M346.4 537.3h.01M321.7 531.0h.01M311.7 527.6h.01M319.5 538.8h.01M310.4 533.8h.01M317.1 525.8h.01M302.6 532.3h.01M316.4 531.9h.01M339.9 519.8h.01M331.1 527.4h.01M307.6 529.6h.01M331.3 531.4h.01M332.4 544.5h.01M315.9 548.9h.01M329.9 524.8h.01M323.6 543.5h.01M344.1 518.0h.01M296.4 526.8h.01M331.3 540.4h.01M336.9 530.2h.01M306.4 520.0h.01M354.6 517.4h.01M346.3 536.0h.01M325.3 534.7h.01M335.8 529.5h.01M336.1 540.6h.01M338.2 521.2h.01M312.6 544.9h.01M324.8 530.1h.01M329.2 540.8h.01M303.0 530.2h.01M324.0 525.2h.01M310.5 537.3h.01M296.1 521.7h.01M339.8 532.0h.01M331.1 554.1h.01M323.9 535.3h.01M327.1 520.2h.01M310.3 536.7h.01M336.1 535.3h.01M342.9 544.0h.01M327.9 543.9h.01M317.7 534.0h.01M342.8 539.4h.01M350.8 532.3h.01M316.1 532.8h.01M341.6 528.0h.01M307.8 531.6h.01M327.0 524.1h.01M327.7 529.2h.01M314.5 531.5h.01M307.0 534.0h.01M357.4 529.1h.01M338.0 525.5h.01M337.1 539.0h.01M318.8 522.7h.01M325.2 515.8h.01M321.8 548.9h.01M338.5 534.3h.01M353.8 551.0h.01M359.2 534.7h.01M322.3 529.4h.01M352.4 527.5h.01M315.4 547.6h.01M341.2 517.2h.01M308.9 531.9h.01M354.8 533.7h.01M330.1 532.5h.01M306.5 534.0h.01M331.3 509.2h.01M339.6 527.8h.01M322.3 523.5h.01M324.7 532.6h.01M305.3 535.4h.01M322.0 537.2h.01M320.0 542.2h.01M293.5 533.9h.01M354.2 539.5h.01M325.4 544.8h.01M306.4 530.5h.01M344.4 542.2h.01M344.6 524.3h.01M338.9 544.2h.01M309.3 526.2h.01M326.6 530.8h.01M381.6 544.7h.01M314.5 548.4h.01M306.4 533.2h.01M329.5 533.8h.01M312.3 516.0h.01M337.0 524.0h.01M312.6 515.3h.01M315.5 539.9h.01M343.6 541.2h.01M356.9 538.9h.01M326.5 540.6h.01M324.8 534.4h.01M313.5 529.3h.01M313.8 546.4h.01M309.2 548.1h.01M342.4 552.2h.01M330.4 535.9h.01M333.0 520.6h.01M328.6 540.3h.01M314.0 545.9h.01M352.8 536.2h.01M321.0 523.3h.01M311.9 542.9h.01M332.0 507.9h.01M347.0 538.8h.01M333.7 539.3h.01M316.4 499.0h.01M318.2 516.1h.01M332.4 522.2h.01M311.5 531.9h.01M344.7 514.7h.01M330.1 550.1h.01M350.7 522.6h.01M323.9 534.3h.01M334.7 531.9h.01M332.0 529.2h.01M322.2 535.5h.01M300.9 542.9h.01M334.4 531.4h.01M298.8 550.0h.01M315.0 535.2h.01M324.8 540.7h.01M334.4 536.8h.01M318.2 541.5h.01M340.3 517.1h.01M315.1 532.1h.01M342.6 518.5h.01M310.1 528.1h.01M310.1 551.6h.01M323.6 535.4h.01M349.3 528.5h.01M334.9 525.5h.01M335.6 529.0h.01M329.7 539.2h.01M319.9 532.7h.01M291.0 523.9h.01M330.7 545.4h.01M377.3 516.6h.01M298.4 535.3h.01M332.7 526.8h.01M327.1 523.7h.01M317.6 523.8h.01M333.1 534.1h.01M313.1 543.0h.01M323.0 520.9h.01M329.7 540.6h.01M331.1 517.9h.01M339.0 544.4h.01M339.0 529.3h.01M320.5 536.6h.01M337.9 537.8h.01M314.8 532.9h.01M322.8 537.3h.01M332.9 526.2h.01M335.3 536.9h.01M304.0 546.7h.01M333.4 528.5h.01M341.1 525.1h.01M313.5 520.8h.01M293.4 518.1h.01M344.5 529.7h.01M311.5 538.0h.01M318.3 523.9h.01M318.8 545.6h.01M307.8 523.6h.01M322.5 536.5h.01M319.5 557.9h.01M322.4 545.3h.01M345.9 549.9h.01M324.0 536.1h.01M302.2 548.9h.01M360.3 531.3h.01M341.6 531.4h.01M340.0 541.3h.01M325.5 527.0h.01M316.1 549.2h.01M327.9 529.8h.01M328.9 541.8h.01M355.5 545.9h.01M345.1 535.7h.01M323.9 526.4h.01M307.8 540.5h.01M325.1 524.0h.01M325.6 544.6h.01M327.3 529.1h.01M326.8 515.4h.01M328.2 523.7h.01M342.7 497.6h.01M333.4 539.3h.01M322.0 534.9h.01M325.4 518.0h.01M333.5 519.5h.01M308.3 529.2h.01M335.3 522.5h.01M346.6 542.1h.01M310.2 537.3h.01M297.2 536.4h.01M320.1 521.7h.01M331.2 529.9h.01M325.1 528.3h.01M332.2 537.8h.01M330.4 547.4h.01M317.0 510.5h.01M297.3 541.1h.01M307.9 541.1h.01M332.2 520.6h.01M343.2 535.7h.01M342.4 526.1h.01M302.4 514.1h.01M324.1 528.6h.01M335.4 522.0h.01M340.8 550.5h.01M290.1 518.9h.01M324.4 530.2h.01M315.6 522.0h.01M358.8 524.9h.01M348.4 537.3h.01M326.0 527.0h.01M336.5 536.1h.01M342.5 547.4h.01M339.1 529.2h.01M347.5 517.9h.01M349.1 536.9h.01M332.8 543.0h.01M329.3 515.8h.01M334.2 532.8h.01M326.9 512.0h.01M342.8 531.0h.01M305.2 536.5h.01M337.3 553.7h.01M342.9 524.9h.01M330.5 548.6h.01M334.8 539.1h.01M335.5 528.3h.01M320.7 536.9h.01M324.1 544.5h.01M347.9 541.3h.01M310.3 526.4h.01M323.0 536.3h.01M319.0 528.7h.01M332.7 531.7h.01" stroke="#e45a45" stroke-width="1.0" stroke-linecap="round" opacity="0.5" fill="none"/>
<path d="M317.0 537.4h.01M326.4 538.2h.01M319.0 528.0h.01M317.4 536.3h.01M312.5 543.2h.01M314.0 545.7h.01M318.7 532.6h.01M324.2 524.1h.01M328.1 548.3h.01M326.0 533.3h.01M332.4 550.7h.01M311.8 548.7h.01M309.2 533.0h.01M335.4 538.5h.01M317.8 539.9h.01M322.5 532.1h.01M323.5 538.5h.01M323.6 538.9h.01M335.5 532.4h.01M322.9 535.3h.01M311.8 547.3h.01M317.6 546.2h.01M327.2 534.5h.01M319.0 537.4h.01M315.9 536.0h.01M314.0 532.8h.01M319.4 539.0h.01M317.6 540.7h.01M313.8 537.2h.01M312.8 535.8h.01M310.6 528.9h.01M319.8 536.8h.01M311.6 537.7h.01M316.4 539.7h.01M317.0 536.9h.01M317.6 538.9h.01M311.9 532.3h.01M319.0 539.4h.01M310.3 538.4h.01M319.1 532.7h.01M311.8 533.4h.01M316.0 533.3h.01M322.8 539.9h.01M314.6 540.9h.01M325.5 536.0h.01M305.1 527.5h.01M308.0 544.2h.01M326.7 542.5h.01M315.6 531.1h.01M310.8 533.1h.01M324.4 541.4h.01M320.7 539.0h.01M328.2 531.7h.01M324.3 540.4h.01M319.7 539.6h.01M334.2 536.8h.01M323.6 531.6h.01M305.5 521.1h.01M318.8 532.1h.01M310.4 529.9h.01M325.0 537.0h.01M317.8 537.8h.01M307.7 541.7h.01M306.5 539.2h.01M319.1 541.9h.01M321.1 541.2h.01M314.2 541.1h.01M325.6 533.2h.01M323.8 534.6h.01M336.8 530.0h.01M322.4 529.1h.01M311.5 541.0h.01M325.1 534.0h.01M332.1 533.3h.01M321.0 538.3h.01M322.3 526.3h.01M318.5 530.4h.01M335.4 532.9h.01M321.4 535.0h.01M319.3 526.9h.01M312.9 537.0h.01M319.1 534.3h.01M319.0 540.4h.01M313.0 535.4h.01M324.2 533.7h.01M321.7 545.8h.01M315.2 523.8h.01M309.3 524.6h.01M314.2 535.1h.01M310.2 528.5h.01M316.8 535.2h.01M303.3 538.2h.01M326.8 538.5h.01M295.2 540.5h.01M316.3 539.4h.01M314.2 540.1h.01M319.7 525.1h.01M309.2 537.5h.01M307.3 534.0h.01M319.7 536.0h.01M313.0 533.7h.01M311.7 536.9h.01M329.7 523.3h.01M315.7 537.2h.01M314.0 539.8h.01M310.3 531.6h.01M322.9 528.2h.01M328.9 525.7h.01M296.4 541.5h.01M335.0 537.5h.01M320.8 529.9h.01M323.6 528.4h.01M308.6 553.1h.01M324.0 535.3h.01M316.7 540.1h.01M336.9 525.9h.01M313.6 534.8h.01M305.3 525.2h.01M309.6 542.1h.01M314.3 537.8h.01M322.7 533.6h.01M320.9 539.4h.01M325.9 540.7h.01M330.1 533.4h.01M325.1 533.1h.01M313.6 531.6h.01M328.0 534.8h.01M328.9 539.7h.01M312.2 521.4h.01M309.6 534.7h.01M322.5 533.6h.01M313.6 537.1h.01M314.6 537.5h.01M322.7 537.3h.01M324.5 537.8h.01M333.3 538.9h.01M318.7 535.6h.01M323.4 539.9h.01M309.7 533.3h.01M318.7 541.9h.01M307.0 532.7h.01M326.8 525.0h.01M313.8 539.6h.01M328.4 533.7h.01M308.8 531.6h.01M324.3 536.1h.01M307.1 527.1h.01M325.2 539.8h.01M309.3 534.9h.01M335.2 534.1h.01M319.8 536.8h.01M313.9 533.2h.01M338.8 540.2h.01M326.9 526.4h.01M317.6 539.0h.01M318.8 536.5h.01M313.6 531.6h.01M323.5 540.9h.01M313.8 533.8h.01M329.7 533.9h.01M329.3 532.9h.01M319.0 537.7h.01M321.4 535.9h.01M320.7 541.1h.01M315.6 532.3h.01M311.2 535.6h.01M316.5 531.4h.01M319.2 539.5h.01M322.4 538.5h.01M308.8 535.5h.01M328.5 543.3h.01M318.2 538.2h.01M301.0 540.3h.01M320.4 530.5h.01M308.6 539.2h.01M320.8 534.6h.01M325.6 532.8h.01M316.7 537.6h.01M321.9 537.6h.01M316.2 537.4h.01M320.3 534.2h.01M316.6 533.4h.01M320.6 544.7h.01M315.9 533.9h.01M332.0 543.6h.01M309.3 530.9h.01M318.1 528.0h.01M318.6 530.2h.01M324.7 543.6h.01M327.7 542.1h.01M325.0 531.5h.01M306.9 533.3h.01M315.4 530.9h.01M306.3 544.1h.01M321.9 534.2h.01M313.4 540.5h.01M296.9 537.9h.01M320.6 540.6h.01M304.5 541.4h.01M321.5 536.5h.01" stroke="#dc3c28" stroke-width="1.0" stroke-linecap="round" opacity="0.5" fill="none"/>
<path d="M356.6 503.7h.01M330.2 482.5h.01M350.6 498.2h.01M346.7 496.2h.01M339.1 490.9h.01M344.2 482.0h.01M346.9 482.3h.01M329.1 498.4h.01M323.5 506.1h.01M338.5 478.0h.01M341.9 495.1h.01M313.2 500.3h.01M344.0 478.6h.01M316.5 508.2h.01M339.5 489.0h.01M340.5 485.8h.01M344.5 492.4h.01M316.3 499.4h.01M323.1 469.7h.01M305.8 464.3h.01M307.3 509.4h.01M355.6 471.2h.01M338.1 479.9h.01M329.7 499.4h.01M353.8 510.6h.01M335.1 505.9h.01M342.4 511.5h.01M316.4 479.4h.01M354.3 497.4h.01M306.6 472.8h.01M343.7 475.9h.01M334.4 493.7h.01M333.4 509.7h.01M358.2 483.1h.01M333.6 508.4h.01M332.7 485.6h.01M308.2 479.3h.01M338.7 496.4h.01M335.8 492.3h.01M304.9 488.7h.01M320.0 509.1h.01M326.5 498.0h.01M329.5 506.4h.01M338.8 493.9h.01M356.7 483.9h.01M347.6 470.5h.01M347.1 477.1h.01M359.5 479.8h.01M300.4 480.5h.01M341.9 472.0h.01M352.8 501.6h.01M354.0 474.5h.01M330.8 473.2h.01M331.9 464.2h.01M293.6 469.3h.01M327.9 494.3h.01M336.8 502.1h.01M351.4 505.3h.01M342.2 511.5h.01M346.6 467.8h.01M339.9 484.5h.01M338.4 501.0h.01M338.0 502.1h.01M327.9 493.4h.01M338.9 476.3h.01M343.2 480.8h.01M349.6 484.8h.01M343.2 496.9h.01M324.3 464.5h.01M323.5 496.3h.01M314.8 482.1h.01M338.9 469.0h.01M315.2 492.6h.01M341.0 503.0h.01M349.4 498.7h.01M323.3 488.3h.01M336.2 496.6h.01M313.5 491.1h.01M328.8 466.8h.01M295.6 507.2h.01M342.1 495.9h.01M352.1 510.6h.01M352.9 505.6h.01M338.5 497.8h.01M320.3 480.2h.01M334.3 508.8h.01M336.9 472.4h.01M316.6 501.9h.01M303.6 498.0h.01M322.0 479.4h.01M331.7 496.4h.01M335.3 499.0h.01M318.7 508.0h.01M358.2 500.8h.01M297.9 491.4h.01M298.7 498.7h.01M356.1 491.9h.01M328.1 488.8h.01M300.6 487.2h.01M308.7 463.2h.01M304.4 496.5h.01M351.9 494.0h.01M322.6 508.0h.01M303.3 479.1h.01M330.3 493.6h.01M329.2 495.6h.01M356.8 503.7h.01M335.2 468.1h.01M343.5 473.9h.01M350.9 470.2h.01M316.6 486.0h.01M321.7 489.5h.01M335.7 505.8h.01M352.8 486.9h.01M334.0 496.1h.01M356.3 511.4h.01M324.7 480.4h.01M337.6 501.2h.01M329.2 509.8h.01M300.5 482.5h.01M294.8 499.2h.01M346.7 493.0h.01M333.6 497.1h.01M349.2 468.1h.01M352.4 511.2h.01M353.8 485.9h.01M309.8 497.1h.01M338.7 508.4h.01M343.5 480.0h.01M310.5 509.3h.01M332.1 489.5h.01M342.7 491.9h.01M331.2 506.9h.01M352.7 481.2h.01M330.5 496.8h.01M321.0 473.8h.01M301.9 495.6h.01M334.6 490.1h.01M358.5 469.0h.01M349.3 481.9h.01M307.1 499.1h.01M354.6 505.8h.01M317.8 504.7h.01M336.8 476.2h.01M355.7 473.1h.01M329.1 470.4h.01M295.9 507.1h.01M341.0 485.6h.01M317.5 495.7h.01M332.0 493.5h.01M338.4 498.4h.01M341.9 498.0h.01M328.6 466.3h.01M338.3 491.9h.01M332.4 496.6h.01M304.9 482.0h.01M340.5 511.0h.01M320.6 492.1h.01M329.2 492.3h.01M340.3 468.6h.01M344.8 495.4h.01M345.4 491.9h.01M341.6 476.1h.01M353.7 503.0h.01M351.8 509.0h.01M351.3 494.4h.01M316.2 499.2h.01M333.7 480.4h.01M312.8 495.3h.01M339.5 485.5h.01M348.3 487.7h.01M343.0 506.9h.01M317.5 494.2h.01M346.7 506.8h.01M337.6 503.3h.01M343.0 499.7h.01M324.1 485.4h.01M347.9 485.5h.01M309.8 469.2h.01M353.3 506.4h.01M349.5 504.3h.01M350.8 488.0h.01M354.1 492.3h.01M323.8 491.3h.01M312.4 508.3h.01M348.9 487.2h.01M344.8 466.6h.01M340.8 468.9h.01M320.1 499.7h.01M335.1 466.2h.01M323.7 474.3h.01M316.8 476.3h.01M345.8 475.0h.01M357.8 488.5h.01M348.3 464.8h.01M317.7 463.8h.01M350.2 489.3h.01M307.8 476.2h.01M301.1 489.0h.01M330.4 507.9h.01M341.5 494.9h.01M346.2 504.1h.01M344.9 510.2h.01M330.4 486.2h.01M356.2 471.1h.01M323.5 510.6h.01M329.0 508.5h.01M312.7 470.3h.01M353.2 511.3h.01M354.0 497.0h.01M318.4 498.5h.01M351.1 504.2h.01M347.6 500.4h.01M317.4 491.2h.01M328.4 510.9h.01M321.7 505.7h.01M314.7 463.3h.01M318.3 511.6h.01M344.6 503.2h.01M341.8 485.8h.01M353.1 498.9h.01M341.6 471.3h.01M316.7 470.7h.01M347.8 479.2h.01M356.1 506.1h.01M327.9 502.0h.01M346.9 500.9h.01M335.6 503.9h.01M331.8 482.6h.01M346.3 507.9h.01M325.3 488.1h.01M358.5 490.8h.01M329.0 501.0h.01M347.3 511.6h.01M340.3 490.6h.01M324.7 505.8h.01M344.0 502.2h.01M338.6 491.2h.01M293.7 506.9h.01M335.3 472.6h.01M316.8 488.4h.01M341.2 486.3h.01M352.1 485.0h.01M337.8 484.7h.01M325.2 493.5h.01M293.1 466.5h.01M356.2 481.0h.01M339.1 483.6h.01M318.6 482.8h.01M349.5 478.1h.01M316.4 505.3h.01M319.8 489.9h.01M346.2 491.1h.01M311.6 501.4h.01M299.9 510.9h.01M346.3 495.0h.01M344.8 498.8h.01M349.1 512.0h.01M314.6 471.1h.01M340.3 493.6h.01M353.2 491.7h.01M316.8 507.7h.01M342.7 503.0h.01M334.4 501.6h.01M350.6 467.7h.01M316.2 503.9h.01M359.5 502.8h.01M337.4 505.7h.01M321.4 493.9h.01M313.9 498.8h.01M335.5 484.4h.01M330.7 499.6h.01M321.0 495.1h.01M331.0 497.2h.01M307.7 499.0h.01M323.0 492.9h.01M345.6 490.2h.01M301.0 496.4h.01M324.4 480.5h.01M343.5 478.9h.01M322.6 481.0h.01M334.3 491.1h.01M348.4 510.6h.01M336.3 499.0h.01M338.9 506.1h.01M342.0 504.4h.01M352.0 504.8h.01M349.1 473.0h.01M344.2 474.5h.01M344.2 502.8h.01M340.6 499.9h.01M302.3 510.7h.01M323.7 497.9h.01M351.5 482.8h.01M320.3 478.6h.01M341.8 495.2h.01M305.2 499.4h.01M296.9 508.3h.01M337.0 505.7h.01M305.7 484.9h.01M325.6 508.3h.01M335.5 496.1h.01M314.0 498.2h.01M325.6 509.2h.01M345.0 477.0h.01M341.5 475.8h.01M334.5 482.6h.01M352.1 485.8h.01M293.5 499.9h.01M356.5 504.3h.01M357.8 476.1h.01M345.2 483.0h.01M326.1 495.4h.01M296.3 507.9h.01M340.5 492.2h.01M313.6 480.9h.01M332.5 496.0h.01M334.6 497.7h.01M333.0 476.6h.01M351.2 473.7h.01M337.2 480.2h.01M333.1 479.5h.01M322.8 474.6h.01M351.1 495.5h.01M358.9 494.1h.01M321.1 497.2h.01M358.3 489.6h.01M341.2 481.9h.01M357.8 500.1h.01M328.3 483.9h.01M332.9 495.8h.01M320.4 496.6h.01M333.5 466.2h.01M328.6 497.4h.01M340.7 480.9h.01M342.1 470.5h.01M359.2 505.7h.01M344.6 490.5h.01M313.5 486.7h.01M351.1 475.7h.01M356.6 481.4h.01M346.9 476.7h.01M329.2 505.5h.01M333.0 470.5h.01M328.5 469.7h.01M341.8 481.1h.01M316.1 484.4h.01M344.8 509.2h.01M314.3 488.3h.01M334.4 505.9h.01M296.8 488.2h.01M312.2 485.5h.01M296.1 494.5h.01M312.5 494.1h.01M331.8 497.4h.01M342.2 468.8h.01M338.4 501.7h.01M301.5 471.3h.01M336.0 483.4h.01M328.3 475.1h.01M347.0 492.3h.01M357.1 477.9h.01M356.5 464.8h.01M311.6 484.2h.01M328.3 474.3h.01M342.9 489.1h.01M338.3 506.2h.01M344.3 489.0h.01M335.3 471.6h.01M355.1 472.0h.01M342.5 478.0h.01M346.4 503.5h.01M350.9 486.0h.01M343.5 509.6h.01M315.1 499.7h.01M307.2 484.2h.01M348.1 494.4h.01M328.5 511.1h.01M334.3 502.3h.01M343.2 503.2h.01M323.1 488.5h.01M354.0 510.0h.01M326.4 498.0h.01M326.8 498.0h.01M359.7 498.0h.01M344.6 482.0h.01M357.3 487.8h.01M311.9 478.0h.01M309.4 485.6h.01M311.3 494.7h.01M354.3 470.3h.01M312.5 483.9h.01M313.9 511.3h.01M356.3 480.9h.01M311.4 473.4h.01M294.9 479.7h.01M331.9 495.7h.01M337.9 497.7h.01M347.6 508.3h.01M339.2 476.5h.01M347.1 491.7h.01M314.6 500.7h.01M348.5 501.9h.01M313.8 504.8h.01M322.0 469.2h.01M339.6 503.6h.01M310.0 483.2h.01M301.3 511.6h.01M331.0 511.5h.01M334.7 483.7h.01M349.9 495.7h.01M313.6 510.9h.01M320.0 469.0h.01M354.1 507.6h.01M326.0 495.8h.01M303.3 504.1h.01M323.0 504.4h.01M334.1 508.8h.01M348.2 506.5h.01M347.4 479.1h.01M356.0 473.6h.01M334.2 503.5h.01M339.4 484.2h.01M333.6 489.1h.01M323.2 480.6h.01M334.8 479.8h.01M324.1 488.4h.01M333.4 494.7h.01M349.7 506.4h.01M336.6 500.1h.01M321.9 496.0h.01M350.0 466.8h.01M348.2 502.6h.01M347.7 502.1h.01M348.7 489.9h.01M346.2 496.0h.01M312.7 482.7h.01M338.8 486.9h.01M322.9 508.3h.01M312.2 489.1h.01M339.4 487.1h.01M349.5 482.0h.01M307.4 504.3h.01M358.3 494.5h.01M354.7 478.6h.01M339.5 493.6h.01M298.8 490.8h.01M318.7 479.4h.01M354.2 491.4h.01M303.2 511.5h.01M316.5 481.6h.01M315.4 511.6h.01M327.0 478.4h.01M357.3 485.5h.01M313.5 482.7h.01M304.7 502.3h.01M307.4 493.4h.01M329.6 506.5h.01M299.2 502.1h.01M330.6 491.1h.01M330.4 510.3h.01M316.8 490.4h.01M298.1 480.7h.01M311.6 487.1h.01M310.3 483.0h.01M342.1 505.6h.01M351.6 478.6h.01M344.1 502.1h.01M338.5 466.0h.01M341.7 483.5h.01M349.9 477.7h.01M335.2 490.0h.01M340.3 487.0h.01M357.8 491.4h.01M332.9 509.4h.01M332.1 495.4h.01M346.5 502.3h.01M331.7 503.2h.01M342.2 503.7h.01M319.0 491.4h.01M295.1 498.3h.01M338.4 489.4h.01M328.7 489.6h.01M339.6 472.2h.01M327.3 492.5h.01M335.3 499.1h.01M328.7 489.6h.01M342.2 502.4h.01M341.2 495.9h.01M328.0 472.8h.01M345.9 502.6h.01M309.9 479.4h.01M318.3 474.1h.01M353.3 496.9h.01M322.2 489.0h.01M312.7 506.9h.01M347.5 468.5h.01M355.4 493.9h.01M340.6 495.0h.01M308.2 487.9h.01M359.3 471.2h.01M328.1 493.1h.01M338.0 505.2h.01M323.2 501.0h.01M315.9 472.1h.01M359.5 483.2h.01M339.0 464.2h.01M350.4 503.7h.01M315.2 468.4h.01M354.3 498.7h.01M307.0 497.2h.01M352.2 492.4h.01M327.9 499.3h.01M331.0 468.1h.01M339.3 483.7h.01M352.5 506.4h.01M352.7 499.7h.01M346.9 503.8h.01M322.9 498.3h.01M309.3 494.7h.01M304.6 501.8h.01M343.9 503.3h.01M339.2 499.6h.01M355.2 494.2h.01M307.1 491.3h.01M320.5 493.6h.01M336.0 482.9h.01M296.9 465.1h.01M313.0 489.2h.01M309.5 482.3h.01M347.1 497.7h.01M321.7 487.7h.01M338.8 487.2h.01M343.2 503.0h.01M353.6 505.4h.01M351.2 465.7h.01M341.8 478.7h.01M329.4 500.5h.01M330.4 509.4h.01M359.3 482.2h.01M358.9 501.4h.01M318.3 494.1h.01M330.6 478.8h.01M352.9 499.2h.01M308.9 510.6h.01M328.0 493.9h.01M322.8 484.8h.01M354.6 481.4h.01M327.4 503.6h.01M334.6 505.9h.01M328.1 496.6h.01M324.8 468.3h.01M326.6 507.7h.01M341.7 503.8h.01M346.7 474.6h.01M355.7 507.1h.01M337.2 474.4h.01M298.3 504.1h.01M331.8 495.9h.01M310.2 492.8h.01M342.2 507.1h.01M359.6 488.3h.01M349.4 500.0h.01M330.0 498.2h.01M350.7 507.3h.01M331.8 494.0h.01M315.3 484.7h.01M338.5 511.5h.01M331.7 502.3h.01M326.4 483.0h.01M332.0 469.4h.01M304.4 504.5h.01M328.3 477.3h.01M328.1 491.2h.01M318.4 510.8h.01M358.4 466.9h.01M345.8 487.9h.01M326.2 497.8h.01M332.3 489.7h.01M303.5 486.4h.01M357.8 468.2h.01M333.8 511.0h.01M342.4 498.7h.01M336.8 487.1h.01M330.0 511.8h.01M338.7 465.1h.01M296.5 501.8h.01M326.2 503.9h.01M348.5 499.8h.01M299.4 469.8h.01M347.7 492.9h.01M305.0 503.7h.01M341.3 473.0h.01M354.4 472.8h.01M359.2 505.9h.01M323.3 487.0h.01M346.5 494.5h.01M354.8 485.4h.01M305.0 489.6h.01M353.6 484.1h.01M310.6 503.8h.01M308.1 488.4h.01M342.2 504.5h.01M308.5 504.5h.01M355.7 476.7h.01M338.7 504.0h.01M336.0 478.7h.01M354.0 503.0h.01M351.4 495.7h.01M342.6 480.3h.01M311.3 506.2h.01M338.7 489.7h.01M316.1 510.6h.01M306.6 476.9h.01M310.2 507.6h.01M326.1 495.0h.01M355.1 487.1h.01M354.0 476.0h.01M339.2 463.2h.01M302.2 467.0h.01M346.5 465.3h.01M325.8 501.0h.01M299.8 499.8h.01M306.3 502.7h.01M354.1 492.5h.01M336.8 487.0h.01M343.0 507.5h.01M348.0 494.1h.01M343.7 499.9h.01M315.5 481.8h.01M350.9 484.0h.01M347.8 468.2h.01M318.5 486.9h.01M333.1 492.6h.01M337.8 483.2h.01M325.5 484.7h.01M332.1 486.0h.01M345.1 485.4h.01M319.9 491.8h.01M342.0 500.1h.01M318.5 494.5h.01M336.0 503.0h.01M335.8 507.0h.01M347.9 479.3h.01M339.4 470.7h.01M352.1 482.8h.01M294.6 490.3h.01M318.0 489.5h.01M344.6 496.5h.01M298.3 506.4h.01M349.3 497.2h.01M318.1 499.9h.01M311.1 489.4h.01M348.5 498.6h.01M323.7 499.0h.01M301.7 490.3h.01M354.3 496.5h.01M316.2 478.1h.01M350.8 468.4h.01M293.5 496.8h.01M329.6 496.3h.01M354.2 487.6h.01M350.7 477.0h.01M358.8 490.9h.01M324.0 473.4h.01M345.9 468.5h.01M344.5 464.4h.01M338.8 471.2h.01M352.7 501.9h.01M348.9 491.2h.01M297.8 487.4h.01M311.0 467.6h.01M327.9 498.5h.01M338.9 481.1h.01M337.6 477.2h.01M346.6 507.1h.01M331.7 474.9h.01M356.5 495.2h.01M344.5 483.0h.01M352.3 490.9h.01M337.6 473.8h.01M350.5 495.9h.01M342.3 490.5h.01M355.8 497.3h.01M335.1 478.3h.01M297.4 470.5h.01M311.8 470.0h.01M337.2 482.6h.01M329.1 500.6h.01M354.3 487.8h.01M345.2 505.6h.01M315.5 472.4h.01M343.5 483.2h.01M308.9 501.5h.01M303.6 511.9h.01M334.6 500.6h.01M342.1 491.6h.01M336.3 478.9h.01M335.6 486.2h.01M312.8 504.7h.01M336.7 506.0h.01M328.9 478.0h.01M354.9 484.4h.01M316.8 481.9h.01M344.7 493.0h.01M329.3 491.9h.01M324.6 493.2h.01M358.7 463.7h.01M343.0 489.9h.01M358.6 504.0h.01M344.4 480.3h.01M336.2 507.1h.01M324.8 487.8h.01M316.7 486.4h.01M319.0 493.2h.01M350.1 504.4h.01M333.5 488.7h.01M312.0 497.2h.01M329.0 475.7h.01M347.1 494.0h.01M356.2 506.1h.01M299.5 495.4h.01M359.8 479.5h.01M332.4 484.4h.01M342.1 489.1h.01M327.8 494.2h.01M298.0 491.4h.01M294.7 484.5h.01M352.6 497.4h.01M324.0 499.2h.01M315.4 471.7h.01M346.8 502.6h.01M323.9 485.5h.01M309.8 497.4h.01M341.0 498.5h.01M357.0 493.3h.01M334.0 510.1h.01M338.5 482.1h.01M326.9 501.0h.01M349.4 489.7h.01M326.5 503.8h.01M321.6 503.9h.01M336.3 509.7h.01M345.5 491.8h.01M354.4 471.8h.01M296.5 494.6h.01M346.4 511.2h.01M349.7 497.7h.01M340.1 477.5h.01M341.6 498.8h.01M335.6 476.6h.01M326.5 503.6h.01M357.1 493.7h.01M353.0 497.9h.01M355.9 467.8h.01M347.5 502.4h.01M350.0 491.0h.01M355.9 494.2h.01M318.8 493.4h.01M339.6 510.9h.01M340.2 470.1h.01M335.4 500.3h.01M357.2 508.9h.01M326.3 472.6h.01M327.7 510.9h.01M357.9 477.7h.01M330.7 504.9h.01M320.8 486.3h.01M333.3 472.6h.01M338.5 480.4h.01M304.1 495.8h.01M335.2 498.7h.01M324.1 490.4h.01M338.3 502.9h.01M319.5 492.4h.01M326.8 494.7h.01M343.0 463.5h.01M298.4 509.3h.01M339.2 496.7h.01M318.9 494.0h.01M352.0 502.5h.01M312.6 471.8h.01M319.8 487.8h.01M354.1 502.1h.01M344.5 490.9h.01M335.0 497.5h.01M350.1 511.7h.01M330.7 468.1h.01M342.8 501.4h.01M335.7 502.0h.01M339.8 468.7h.01M347.8 486.0h.01M327.3 482.3h.01M356.7 467.5h.01M297.7 473.8h.01M313.6 510.7h.01M331.0 511.6h.01M350.5 500.0h.01M339.0 497.7h.01M351.3 482.5h.01" stroke="#e06a58" stroke-width="1.0" stroke-linecap="round" opacity="0.5" fill="none"/>
<path d="M382.7 477.5h.01M384.7 484.1h.01M381.9 474.5h.01M389.1 476.0h.01M378.0 475.0h.01M386.8 472.6h.01M381.0 474.4h.01M387.2 464.9h.01M385.1 474.0h.01M372.9 466.8h.01M380.0 473.5h.01M383.7 482.6h.01M381.8 466.8h.01M389.7 464.4h.01M386.6 474.0h.01M384.9 470.2h.01M380.8 480.3h.01M376.5 482.7h.01M382.3 498.7h.01M380.9 470.1h.01M382.3 471.4h.01M388.0 469.3h.01M384.8 474.5h.01M384.2 488.3h.01M381.2 478.6h.01M386.2 476.4h.01M376.2 482.1h.01M384.9 477.0h.01M379.7 473.9h.01M382.5 472.9h.01M388.3 470.2h.01M389.8 466.2h.01M388.4 472.4h.01M382.0 479.0h.01M387.6 475.2h.01M380.5 470.9h.01M380.9 480.0h.01M381.3 469.5h.01M386.1 472.4h.01M384.6 472.2h.01M388.6 483.7h.01M380.7 470.9h.01M380.4 472.9h.01M389.3 481.4h.01M379.3 479.6h.01M388.0 470.1h.01M375.6 469.7h.01M383.0 475.5h.01M377.5 468.3h.01M388.2 475.1h.01M381.9 468.9h.01M379.2 468.2h.01M386.3 468.2h.01M378.2 467.8h.01M386.7 482.7h.01M385.3 472.1h.01M384.6 469.6h.01M384.9 475.5h.01M383.4 468.9h.01M380.4 476.4h.01M375.1 477.2h.01M378.3 488.9h.01M382.6 472.7h.01M381.8 480.5h.01M383.2 473.5h.01M384.5 475.7h.01M389.5 468.2h.01M382.0 473.6h.01M383.0 477.7h.01M380.2 471.5h.01M389.7 476.7h.01M385.5 483.8h.01M384.8 475.8h.01M385.1 475.0h.01M387.7 479.7h.01M379.9 477.6h.01M378.6 471.0h.01M384.8 477.0h.01M378.8 468.6h.01M377.3 466.9h.01M383.8 478.4h.01M383.3 472.7h.01M382.1 484.3h.01M385.5 471.0h.01M381.7 466.9h.01M375.8 481.7h.01M382.0 466.0h.01M389.0 466.8h.01M385.2 467.1h.01M382.6 472.5h.01M372.7 480.4h.01M381.1 467.6h.01M385.0 464.4h.01M380.2 482.9h.01M385.2 472.3h.01M388.4 477.0h.01M381.0 481.0h.01M379.9 464.6h.01M381.0 476.7h.01M387.3 466.7h.01M384.1 473.9h.01M378.5 476.8h.01M385.3 483.6h.01M375.8 464.0h.01M386.0 473.1h.01M379.2 478.1h.01M388.1 480.3h.01M376.0 474.9h.01M389.2 474.8h.01M383.3 468.4h.01M386.5 481.3h.01M382.7 479.1h.01M382.1 475.2h.01M389.7 476.8h.01M382.7 478.3h.01M381.6 472.6h.01M386.4 472.1h.01M386.2 466.6h.01M378.2 465.4h.01M388.0 472.2h.01M387.9 478.1h.01M385.4 469.2h.01M384.4 479.4h.01M381.8 476.8h.01M377.5 470.5h.01M389.0 467.6h.01M386.3 482.0h.01M382.5 471.2h.01M386.9 467.8h.01M383.4 466.9h.01M386.5 469.9h.01M384.2 472.2h.01M386.2 464.2h.01M382.4 469.9h.01M386.5 466.8h.01M384.0 483.7h.01M389.4 472.0h.01M382.1 483.8h.01M383.3 470.1h.01M379.4 472.2h.01M374.6 465.0h.01M384.7 465.5h.01M379.6 468.1h.01M383.9 469.3h.01M385.7 466.8h.01M387.4 471.4h.01M379.9 485.2h.01M386.3 481.4h.01M387.2 475.8h.01M380.5 467.9h.01M375.9 473.8h.01M384.9 477.1h.01M385.9 478.4h.01M373.1 480.9h.01M386.3 466.4h.01M378.2 467.6h.01M383.9 483.7h.01M386.2 477.6h.01M384.4 478.4h.01M379.7 472.1h.01M386.3 484.5h.01M379.9 469.4h.01M386.9 472.0h.01M385.4 469.8h.01M388.5 469.4h.01M387.6 480.1h.01M388.6 469.2h.01M379.2 475.6h.01M385.6 476.6h.01M388.4 465.8h.01M387.8 482.4h.01M385.6 466.7h.01M385.3 478.2h.01M388.6 468.2h.01M384.3 477.2h.01M377.1 473.1h.01M379.0 476.1h.01M384.7 470.5h.01M379.1 472.8h.01M384.8 482.2h.01M386.2 464.8h.01M386.0 472.3h.01M381.3 477.7h.01M382.6 478.2h.01M385.0 470.9h.01M387.0 471.7h.01M380.1 474.0h.01M382.6 479.0h.01M382.7 473.8h.01M384.0 475.5h.01M376.5 474.7h.01M388.1 471.4h.01M378.9 482.9h.01M385.9 469.5h.01M381.5 469.6h.01M386.2 472.7h.01M383.3 480.6h.01M387.5 474.8h.01M376.9 479.7h.01M376.4 467.3h.01M385.3 474.3h.01M380.2 473.3h.01M381.9 469.0h.01M385.2 475.5h.01M374.2 476.5h.01M387.2 479.3h.01M382.5 487.5h.01M376.3 466.0h.01M380.0 471.1h.01M378.7 481.3h.01M380.1 468.3h.01M383.6 476.4h.01M380.8 481.2h.01M389.7 479.4h.01M382.2 469.0h.01M387.4 482.0h.01M377.9 484.3h.01M377.3 480.0h.01M382.0 465.8h.01M385.1 474.2h.01M379.0 472.2h.01M382.8 473.4h.01M382.9 472.2h.01M385.1 472.3h.01M381.6 475.7h.01M385.7 486.2h.01M388.5 479.7h.01M387.6 466.8h.01M387.0 473.9h.01M381.5 478.9h.01M380.9 473.4h.01M388.5 469.6h.01M378.6 480.4h.01M373.5 469.7h.01M384.2 465.2h.01M385.3 483.8h.01M379.5 477.5h.01M375.3 475.3h.01M384.1 467.5h.01M386.1 466.9h.01M374.7 474.8h.01M386.5 469.2h.01M375.7 477.0h.01M385.1 465.0h.01M385.0 482.7h.01M376.5 472.5h.01M386.1 464.1h.01M380.9 474.8h.01M382.1 465.1h.01M377.7 477.4h.01M383.6 479.1h.01M386.9 468.3h.01M386.9 468.9h.01M380.6 484.0h.01M389.1 475.7h.01M384.4 471.5h.01M386.2 478.4h.01M384.0 476.6h.01M380.1 484.4h.01M381.7 468.4h.01M387.5 483.4h.01M382.3 471.2h.01M383.4 471.8h.01M386.3 472.5h.01M377.0 470.7h.01M379.2 480.6h.01M384.4 465.0h.01M381.1 472.3h.01M375.1 464.7h.01M386.6 479.0h.01M376.1 476.2h.01M389.9 474.8h.01M381.2 466.4h.01M389.9 485.6h.01M379.1 492.2h.01M374.8 481.7h.01M379.1 475.2h.01M376.7 480.1h.01M388.1 475.8h.01M387.7 478.6h.01M384.8 481.2h.01M386.0 468.9h.01M381.8 464.9h.01M373.9 475.3h.01M378.1 484.4h.01M383.1 469.6h.01M380.4 467.3h.01M381.3 477.5h.01M380.4 471.6h.01M381.9 490.5h.01M380.5 471.9h.01M389.4 472.1h.01M382.6 482.3h.01M384.3 477.1h.01M382.1 479.0h.01M376.1 468.8h.01M380.0 480.2h.01M382.4 469.3h.01M382.7 479.9h.01M382.4 465.2h.01M385.3 478.0h.01M383.4 465.7h.01M387.5 476.2h.01M389.0 476.1h.01M379.9 495.7h.01M382.0 469.4h.01M379.3 474.0h.01M379.0 472.5h.01M383.6 468.0h.01M381.7 481.4h.01M374.6 469.0h.01M382.1 482.8h.01M387.7 478.2h.01M383.1 476.5h.01M384.9 480.3h.01M381.3 471.6h.01M380.1 475.5h.01M381.0 473.2h.01M382.8 470.3h.01M380.7 468.0h.01M385.3 468.0h.01M378.3 475.2h.01M381.8 468.1h.01M386.7 475.5h.01M375.9 477.7h.01M381.4 472.5h.01M383.9 488.3h.01M375.3 469.2h.01M380.6 466.8h.01M383.9 481.2h.01M383.1 485.3h.01M381.4 468.0h.01M385.4 465.4h.01M381.1 468.6h.01M381.4 471.9h.01M380.1 479.6h.01M379.8 482.2h.01M386.1 466.7h.01M380.4 469.8h.01M379.7 484.4h.01M383.7 470.0h.01M382.3 481.1h.01M381.4 476.1h.01M377.8 472.8h.01M383.2 472.7h.01M384.4 468.8h.01M382.7 495.0h.01M384.8 466.9h.01M389.4 467.4h.01M380.7 473.3h.01M385.2 470.8h.01M389.0 474.7h.01M376.8 471.1h.01M384.0 474.8h.01M383.4 471.4h.01M384.7 468.4h.01M389.6 469.3h.01M388.4 470.3h.01M383.0 467.8h.01M383.5 470.2h.01M383.9 479.6h.01M372.6 464.7h.01M383.4 467.9h.01M386.9 472.7h.01M379.7 469.6h.01M385.8 483.1h.01M385.5 475.5h.01M382.4 473.3h.01M386.2 474.5h.01M381.3 484.0h.01M378.5 477.9h.01M384.5 468.8h.01M384.6 464.6h.01M372.5 470.9h.01M380.3 470.1h.01M381.7 474.6h.01M389.8 478.0h.01M381.0 468.8h.01M383.6 482.0h.01M380.5 468.0h.01M385.2 469.1h.01M370.8 468.7h.01M384.5 473.3h.01M381.7 480.7h.01M380.4 473.8h.01M385.8 468.5h.01M380.4 488.1h.01M387.4 464.6h.01M381.9 468.7h.01M380.1 475.3h.01M383.9 477.7h.01M388.5 466.6h.01M387.4 471.2h.01M381.0 479.4h.01M376.4 469.2h.01M385.2 473.7h.01M382.0 485.7h.01M383.5 465.7h.01M379.9 469.3h.01M380.2 469.0h.01M386.1 467.2h.01M386.6 485.0h.01M385.7 478.6h.01M383.0 478.1h.01M386.0 473.2h.01M387.7 465.4h.01M382.4 473.5h.01M384.9 468.0h.01M387.9 468.5h.01M381.0 470.2h.01M385.6 468.4h.01M377.1 473.7h.01M389.3 467.5h.01M380.3 478.6h.01M387.6 471.8h.01M382.5 472.9h.01M385.4 479.2h.01M381.9 482.9h.01M385.9 465.5h.01M383.9 483.4h.01M386.5 483.9h.01M377.5 470.6h.01M383.9 471.2h.01M383.6 467.9h.01M384.8 475.3h.01M388.7 466.4h.01M382.8 476.3h.01M384.6 473.0h.01M380.9 472.7h.01M384.8 477.0h.01M383.8 474.9h.01M379.1 472.2h.01M385.3 465.7h.01M382.0 475.8h.01M381.5 474.8h.01M385.2 480.2h.01M387.9 477.4h.01M385.3 472.0h.01M387.0 470.4h.01M385.8 474.1h.01M384.4 481.6h.01M389.7 469.0h.01M382.6 475.5h.01M383.3 471.3h.01M384.7 490.7h.01M383.9 470.7h.01M384.4 467.5h.01M378.8 466.6h.01M383.1 468.1h.01M386.2 470.5h.01M384.3 466.4h.01M381.4 488.0h.01M374.9 480.6h.01M383.5 467.2h.01M377.4 473.8h.01M382.1 473.6h.01M382.6 471.5h.01M381.1 483.4h.01M384.4 478.8h.01M381.7 478.9h.01M386.5 471.4h.01M383.6 466.1h.01M379.6 471.9h.01M382.3 469.4h.01M387.2 469.2h.01M383.6 464.8h.01M384.5 480.2h.01M386.9 474.6h.01M382.9 464.9h.01M385.6 480.2h.01M382.0 467.2h.01M382.5 472.4h.01M382.0 474.4h.01M378.5 471.1h.01M374.8 473.1h.01M382.5 486.8h.01M383.4 475.1h.01M384.8 468.8h.01M377.5 465.9h.01M383.3 475.6h.01M388.5 467.8h.01M375.7 470.0h.01M381.6 471.4h.01M384.0 471.2h.01M381.5 473.7h.01M381.8 477.3h.01M381.2 470.4h.01M379.6 473.5h.01M381.3 464.7h.01M383.1 479.9h.01M378.7 472.6h.01M382.7 475.1h.01M378.9 473.6h.01M383.2 471.3h.01M384.5 497.1h.01M383.2 470.8h.01M382.1 471.1h.01M385.8 466.0h.01M378.3 464.2h.01M378.7 480.2h.01" stroke="#e01e0e" stroke-width="1.0" stroke-linecap="round" opacity="0.85" fill="none"/>
<path d="M368.0 486.7h.01M383.8 493.3h.01M378.9 489.5h.01M386.9 477.7h.01M390.9 492.1h.01M374.7 475.3h.01M379.6 488.9h.01M383.2 467.4h.01M378.6 495.0h.01M386.5 485.4h.01M386.4 486.4h.01M383.9 490.5h.01M376.4 489.8h.01M382.5 476.5h.01M373.4 489.0h.01M373.2 511.2h.01M373.0 500.5h.01M375.6 488.1h.01M377.6 490.9h.01M377.6 475.1h.01M382.8 505.3h.01M370.5 471.2h.01M377.0 487.5h.01M384.4 495.2h.01M374.6 500.7h.01M380.7 491.4h.01M383.6 498.4h.01M377.6 472.8h.01M375.4 472.9h.01M379.5 511.2h.01M378.8 500.1h.01M378.1 470.1h.01M372.9 484.7h.01M381.3 478.9h.01M369.8 491.0h.01M379.0 484.9h.01M375.4 494.3h.01M378.1 482.5h.01M382.7 489.3h.01M376.2 491.8h.01M373.2 489.9h.01M373.6 498.8h.01M390.5 496.4h.01M382.3 492.4h.01M383.3 477.6h.01M382.5 491.3h.01M380.9 492.9h.01M381.1 471.7h.01M379.6 490.0h.01M380.6 488.4h.01M388.9 482.3h.01M373.8 510.0h.01M370.1 481.1h.01M382.7 491.0h.01M378.1 482.1h.01M384.7 486.8h.01M379.8 497.0h.01M381.4 471.0h.01M376.6 484.7h.01M374.9 486.8h.01M383.0 499.8h.01M384.9 483.9h.01M385.5 487.6h.01M380.4 488.0h.01M380.0 499.7h.01M382.0 507.2h.01M384.0 486.4h.01M380.7 481.4h.01M375.6 481.9h.01M388.3 486.4h.01M389.3 485.5h.01M368.4 497.6h.01M379.1 493.6h.01M379.0 486.4h.01M375.5 513.7h.01M387.2 504.5h.01M378.4 484.2h.01M384.8 483.5h.01M390.4 498.4h.01M381.4 484.8h.01M384.3 482.6h.01M379.6 481.8h.01M382.7 483.5h.01M375.1 502.1h.01M378.9 485.8h.01M371.3 496.2h.01M384.5 506.8h.01M377.1 486.3h.01M380.6 474.5h.01M375.6 489.0h.01M374.3 502.7h.01M371.4 497.5h.01M386.6 494.8h.01M382.8 495.1h.01M380.0 499.0h.01M376.3 483.8h.01M378.9 488.7h.01M389.1 473.6h.01M388.1 483.3h.01M378.6 499.2h.01M390.0 468.6h.01M379.5 492.8h.01M381.1 485.0h.01M384.2 494.2h.01M371.0 487.1h.01M375.7 491.6h.01M371.4 496.1h.01M380.0 489.9h.01M375.4 479.9h.01M382.5 511.1h.01M387.4 498.7h.01M373.6 482.8h.01M383.8 478.5h.01M379.7 481.4h.01M385.5 489.8h.01M374.5 486.4h.01M372.9 483.9h.01M380.0 489.7h.01M382.8 493.9h.01M384.2 476.4h.01M381.6 490.8h.01M382.1 486.4h.01M378.2 483.4h.01M387.7 488.1h.01M380.2 485.5h.01M374.1 508.5h.01M374.9 479.0h.01M380.9 472.0h.01M382.5 469.3h.01M388.0 515.9h.01M381.6 481.3h.01M384.1 496.2h.01M369.9 489.6h.01M383.1 488.2h.01M376.3 478.8h.01M376.6 491.3h.01M378.1 508.0h.01M384.9 481.8h.01M385.4 496.0h.01M383.6 509.5h.01M379.1 483.3h.01M384.5 474.3h.01M375.5 499.8h.01M379.7 487.4h.01M381.7 488.8h.01M383.7 479.0h.01M381.5 487.2h.01M389.9 485.8h.01M378.1 480.1h.01M384.6 510.7h.01M373.8 498.5h.01M371.9 480.6h.01M379.2 474.2h.01M379.0 481.7h.01M373.9 511.3h.01M370.2 488.6h.01M366.9 502.6h.01M387.9 509.0h.01M383.2 474.6h.01M372.7 507.1h.01M385.4 502.5h.01M376.6 489.2h.01M383.1 504.4h.01M382.2 482.3h.01M380.4 497.1h.01M378.9 485.2h.01M388.5 494.6h.01M387.8 479.9h.01M375.5 491.4h.01M385.6 484.1h.01M376.9 485.9h.01M381.8 491.5h.01M372.9 471.5h.01M386.9 488.2h.01M380.8 496.0h.01M388.4 488.1h.01M386.7 471.0h.01M376.5 503.5h.01M388.6 473.1h.01M389.8 471.4h.01M380.2 491.5h.01M387.3 487.5h.01M373.4 483.3h.01M379.6 507.4h.01M381.8 478.7h.01M370.6 477.7h.01M377.8 501.0h.01M387.0 494.6h.01M380.0 500.3h.01M382.7 473.9h.01M385.9 486.7h.01M375.7 493.7h.01M385.3 507.4h.01M386.7 488.0h.01M378.2 465.0h.01M371.1 504.9h.01M389.3 477.6h.01M381.5 499.0h.01M379.8 491.7h.01M391.0 514.1h.01M383.7 494.3h.01M381.5 482.0h.01M389.3 512.9h.01M371.2 478.6h.01M384.9 488.0h.01M377.4 496.3h.01M379.2 484.2h.01M380.0 490.1h.01M377.1 486.3h.01M383.7 475.1h.01M379.7 500.5h.01M375.8 469.3h.01M380.9 488.9h.01M380.2 504.3h.01M375.1 502.7h.01M385.0 482.9h.01M386.7 497.9h.01M385.5 495.9h.01M381.4 498.2h.01M377.5 472.4h.01M380.4 485.9h.01M374.1 496.7h.01M382.9 500.2h.01M380.4 513.9h.01M385.8 475.4h.01M382.8 484.2h.01M386.5 499.1h.01M379.8 483.5h.01M385.3 477.7h.01M383.4 480.1h.01M381.0 489.4h.01M381.8 496.0h.01M383.3 489.9h.01M382.3 479.9h.01M379.8 484.3h.01M376.4 475.3h.01M382.5 475.5h.01M379.8 479.8h.01M384.9 476.8h.01M377.3 479.8h.01M381.9 493.5h.01M384.7 499.6h.01M379.4 478.8h.01M387.8 494.8h.01M386.9 495.0h.01M383.7 498.3h.01M381.3 511.6h.01M389.5 481.8h.01M379.2 486.6h.01M383.2 482.7h.01M377.9 475.5h.01M378.0 507.7h.01M381.7 480.8h.01M389.3 491.3h.01M376.6 483.7h.01M384.5 495.2h.01M389.7 478.2h.01M381.1 478.1h.01M380.7 485.6h.01M375.7 479.9h.01M382.0 479.2h.01M387.4 483.9h.01M381.9 494.7h.01M367.9 492.2h.01M378.9 471.8h.01M382.5 493.6h.01M390.2 482.9h.01M385.3 490.7h.01M383.0 501.3h.01M376.2 487.3h.01M380.8 485.5h.01M373.4 484.3h.01M381.5 501.3h.01M380.3 486.7h.01M385.4 479.5h.01M386.8 491.5h.01M384.9 499.6h.01M379.8 492.6h.01M371.9 498.2h.01M385.7 476.7h.01M380.5 491.6h.01M369.0 501.2h.01M384.6 494.1h.01M381.1 492.7h.01M381.4 469.1h.01M374.5 483.6h.01M381.5 478.3h.01M381.2 496.7h.01M381.8 490.4h.01M387.6 492.4h.01M385.9 488.6h.01M378.0 492.0h.01M373.1 507.6h.01M387.8 484.3h.01M389.1 468.5h.01M380.2 482.4h.01M380.2 485.5h.01M378.8 491.6h.01M383.3 475.4h.01M375.2 477.3h.01M379.7 498.3h.01M379.8 494.0h.01M374.4 498.5h.01M384.5 486.5h.01M376.7 506.1h.01M371.9 476.1h.01M374.3 467.2h.01M385.1 490.5h.01M381.0 500.7h.01M388.7 480.9h.01M376.7 493.2h.01M384.5 488.5h.01M374.3 494.8h.01M381.0 499.1h.01M384.6 490.6h.01M381.2 492.8h.01M388.2 507.6h.01M373.6 492.9h.01M387.9 482.4h.01M371.5 489.7h.01M379.3 490.6h.01M383.8 491.4h.01M387.6 505.1h.01M380.9 492.1h.01M372.1 473.5h.01M378.0 485.1h.01M385.0 506.2h.01M381.6 489.3h.01M377.4 489.4h.01M373.7 485.3h.01M389.7 473.8h.01M383.7 497.3h.01M380.7 471.0h.01M385.7 473.5h.01M385.7 486.2h.01M372.1 495.0h.01M381.7 471.6h.01M376.7 485.3h.01M383.1 469.0h.01M382.2 502.1h.01M380.8 489.1h.01M366.3 472.0h.01M380.8 466.6h.01M375.7 487.4h.01M370.8 500.3h.01M384.5 509.0h.01M379.3 471.7h.01M384.7 478.8h.01M389.6 506.0h.01M389.5 488.0h.01M387.0 491.8h.01M370.9 485.9h.01M377.2 493.9h.01M386.5 486.4h.01M382.6 484.2h.01M384.0 486.7h.01M383.4 500.7h.01M385.9 495.4h.01M387.9 486.4h.01M389.9 482.3h.01M384.8 483.7h.01M384.7 497.7h.01M373.0 473.0h.01M382.7 506.7h.01M385.2 492.7h.01M377.9 496.5h.01M382.7 485.7h.01M390.9 482.1h.01M381.9 491.8h.01M379.7 484.0h.01M383.2 497.5h.01M387.4 475.4h.01M376.8 495.1h.01M375.3 481.0h.01M384.0 486.9h.01M378.8 503.5h.01M374.8 497.0h.01M380.8 487.4h.01M376.0 478.5h.01M387.8 467.5h.01" stroke="#e0301e" stroke-width="1.0" stroke-linecap="round" opacity="0.7" fill="none"/>
<path d="M389.4 515.3h.01M367.2 477.0h.01M397.4 515.4h.01M382.6 494.1h.01M372.6 488.9h.01M373.3 480.2h.01M363.4 503.0h.01M360.6 492.8h.01M374.7 492.1h.01M351.7 476.4h.01M378.0 484.4h.01M386.1 509.4h.01M368.6 508.8h.01M379.2 494.1h.01M373.5 492.2h.01M371.7 496.5h.01M367.2 487.1h.01M383.7 500.4h.01M390.3 489.2h.01M381.1 492.9h.01M375.8 466.1h.01M374.7 493.2h.01M382.3 467.8h.01M387.3 481.0h.01M368.9 469.7h.01M371.6 494.3h.01M373.5 487.9h.01M385.2 500.8h.01M367.9 498.0h.01M377.9 490.1h.01M375.8 494.0h.01M389.1 482.4h.01M372.7 455.3h.01M383.0 466.9h.01M375.2 494.5h.01M383.8 472.1h.01M392.7 496.0h.01M367.6 451.5h.01M375.3 498.2h.01M384.1 480.9h.01M381.2 471.9h.01M380.9 493.0h.01M365.6 494.6h.01M367.3 484.9h.01M379.4 505.0h.01M371.9 483.8h.01M369.0 486.9h.01M382.2 481.3h.01M381.5 495.6h.01M367.9 501.2h.01M367.6 483.6h.01M375.7 490.8h.01M368.8 482.0h.01M370.0 484.0h.01M374.6 506.9h.01M388.1 484.5h.01M384.5 505.3h.01M371.2 473.9h.01M393.2 480.4h.01M392.2 495.6h.01M373.4 518.3h.01M370.9 484.1h.01M360.8 491.0h.01M387.5 487.4h.01M384.8 453.5h.01M371.8 480.0h.01M384.5 484.8h.01M375.3 492.1h.01M377.4 492.7h.01M364.1 493.3h.01M370.9 508.9h.01M390.3 460.6h.01M372.1 505.3h.01M363.6 495.2h.01M381.5 495.6h.01M379.4 490.5h.01M393.5 517.4h.01M377.2 471.2h.01M367.3 487.0h.01M360.7 462.9h.01M368.3 480.7h.01M391.0 489.7h.01M376.0 482.6h.01M369.3 466.9h.01M359.7 474.4h.01M363.4 468.1h.01M363.8 462.0h.01M368.5 493.0h.01M378.3 477.5h.01M375.1 468.6h.01M390.6 468.5h.01M370.0 484.5h.01M370.8 476.7h.01M374.8 492.3h.01M364.2 496.1h.01M366.4 507.9h.01M371.0 487.5h.01M387.5 472.1h.01M368.2 504.4h.01M373.5 491.7h.01M372.7 469.9h.01M390.3 501.7h.01M372.1 463.4h.01M379.8 482.7h.01M365.0 503.7h.01M365.0 472.6h.01M381.5 466.1h.01M363.3 484.7h.01M361.1 509.6h.01M384.2 496.1h.01M380.0 502.1h.01M389.3 491.8h.01M373.1 475.8h.01M379.7 493.8h.01M370.9 497.4h.01M380.3 511.2h.01M351.6 481.3h.01M372.2 507.6h.01M379.5 494.8h.01M379.8 470.8h.01M365.0 479.7h.01M395.6 491.4h.01M383.3 469.8h.01M367.5 482.6h.01M381.9 490.0h.01M379.9 499.2h.01M377.6 489.8h.01M362.6 455.0h.01M376.2 490.8h.01M374.5 467.5h.01M358.8 492.1h.01M385.2 458.6h.01M371.1 470.6h.01M381.6 475.7h.01M379.0 507.8h.01M377.7 473.2h.01M379.0 500.8h.01M385.6 489.9h.01M366.7 482.9h.01M380.1 486.1h.01M384.0 471.7h.01M393.5 498.0h.01M376.8 484.3h.01M355.9 486.5h.01M385.0 482.0h.01M383.9 457.3h.01M373.5 469.8h.01M363.0 488.6h.01M378.8 484.9h.01M381.6 490.7h.01M364.2 499.3h.01M372.2 498.1h.01M356.9 476.3h.01M368.5 480.5h.01M373.4 466.1h.01M385.4 491.5h.01M386.7 498.4h.01M376.2 492.5h.01M356.1 468.3h.01M367.0 492.8h.01M392.2 493.8h.01M359.9 487.3h.01M388.5 485.6h.01M355.6 462.3h.01M360.9 502.8h.01M383.7 486.0h.01M374.8 491.7h.01M366.0 477.8h.01M375.0 464.7h.01M381.4 471.7h.01M377.7 504.3h.01M371.4 475.4h.01M391.8 505.6h.01M385.7 495.6h.01M368.5 479.3h.01M390.0 503.2h.01M380.7 485.6h.01M368.2 502.7h.01M375.8 467.7h.01M377.1 477.6h.01M362.2 482.9h.01M364.8 491.6h.01M362.7 489.3h.01M381.4 482.8h.01M388.8 517.8h.01M391.2 488.8h.01M394.3 461.3h.01M390.7 502.2h.01M373.5 487.6h.01M372.5 499.9h.01M376.3 478.9h.01M367.2 483.1h.01M382.8 510.2h.01M374.6 469.1h.01M383.9 502.8h.01M380.1 494.9h.01M385.2 482.2h.01M378.5 496.6h.01M359.3 494.3h.01M381.6 467.3h.01M373.5 483.7h.01M386.0 471.3h.01M374.9 488.6h.01M388.3 492.1h.01M378.9 494.4h.01M377.8 488.9h.01M357.0 481.0h.01M365.4 480.9h.01M372.6 485.5h.01M372.7 482.6h.01M374.6 505.4h.01M376.1 491.5h.01M383.4 481.2h.01M403.4 493.4h.01M366.7 463.1h.01M369.3 487.3h.01M389.6 503.9h.01M385.2 493.6h.01M374.6 479.5h.01M390.1 460.8h.01M365.2 497.5h.01M369.7 484.7h.01M375.3 485.5h.01M370.2 479.2h.01M369.4 470.4h.01M380.7 488.9h.01M370.2 480.8h.01M358.8 495.7h.01M365.5 493.8h.01M367.2 498.6h.01M359.1 489.5h.01M379.1 497.0h.01M370.4 502.4h.01M365.0 488.2h.01M376.4 490.8h.01M388.6 488.0h.01M381.0 484.5h.01M373.3 492.5h.01M373.9 491.5h.01M380.4 455.5h.01M375.4 476.1h.01M376.8 487.7h.01M368.9 498.9h.01M371.8 494.2h.01M365.6 488.9h.01M389.6 481.4h.01M386.4 480.8h.01M371.3 485.1h.01M375.7 482.6h.01M385.1 480.3h.01M377.1 464.3h.01M385.1 474.2h.01M372.9 472.5h.01M372.4 494.7h.01M385.0 479.1h.01M364.0 484.2h.01M379.1 484.5h.01M372.9 486.5h.01M390.5 476.3h.01M370.5 477.3h.01M367.0 510.0h.01M362.4 462.1h.01M383.7 498.6h.01M383.6 494.2h.01M365.2 482.9h.01M368.9 488.0h.01M366.5 490.5h.01M374.9 485.5h.01M365.8 493.6h.01M371.9 496.0h.01M360.4 510.6h.01M388.6 462.1h.01M382.2 484.7h.01M378.0 491.9h.01M377.3 486.1h.01M378.7 481.1h.01M374.1 491.9h.01M394.0 478.0h.01M371.9 476.0h.01M374.2 479.4h.01M377.2 510.9h.01M393.8 491.7h.01M369.5 495.0h.01M383.2 501.2h.01M367.9 474.9h.01M372.5 504.0h.01M380.4 494.2h.01M381.7 495.9h.01M356.5 506.9h.01M377.4 474.8h.01M371.2 495.7h.01M375.7 466.3h.01M381.9 470.0h.01M375.5 489.8h.01M371.4 463.0h.01M398.3 487.0h.01M380.2 468.1h.01M390.3 486.0h.01M387.9 478.6h.01M366.2 489.7h.01" stroke="#e04a38" stroke-width="1.0" stroke-linecap="round" opacity="0.55" fill="none"/>
<path d="M363.2 517.3h.01M365.3 527.0h.01M382.2 523.3h.01M367.9 536.1h.01M375.1 552.0h.01M381.1 538.8h.01M380.3 544.4h.01M364.4 523.7h.01M367.2 547.7h.01M377.0 521.4h.01M385.7 551.0h.01M370.0 537.9h.01M373.6 519.0h.01M383.6 520.2h.01M372.7 533.7h.01M365.7 544.5h.01M370.4 550.3h.01M366.4 535.0h.01M365.9 545.6h.01M363.2 529.9h.01M378.4 520.8h.01M366.9 547.7h.01M378.2 547.8h.01M383.9 534.7h.01M376.9 541.0h.01M375.6 538.2h.01M368.8 545.7h.01M374.1 518.8h.01M364.2 525.5h.01M363.5 524.4h.01M382.9 523.3h.01M363.7 535.3h.01M382.2 552.0h.01M382.5 544.5h.01M381.2 542.8h.01M380.3 545.5h.01M387.1 548.2h.01M363.7 534.7h.01M380.8 527.2h.01M369.3 526.9h.01M378.1 538.0h.01M384.4 524.0h.01M376.0 549.3h.01M371.8 526.8h.01M379.7 549.5h.01M365.2 548.9h.01M369.4 544.6h.01M368.5 532.7h.01M365.3 536.1h.01M367.3 518.5h.01M365.7 542.1h.01M380.0 527.2h.01M381.2 546.2h.01M362.1 537.8h.01M362.4 522.0h.01M387.1 533.5h.01M365.1 549.9h.01M364.9 529.7h.01M387.1 525.4h.01M364.2 542.5h.01M369.4 533.0h.01M382.0 524.7h.01M386.9 549.0h.01M369.8 545.2h.01M363.6 518.9h.01M365.0 551.8h.01M379.3 515.8h.01M377.6 541.0h.01M385.2 551.1h.01M376.4 525.1h.01M383.0 536.0h.01M381.4 529.2h.01M383.8 532.1h.01M364.3 541.6h.01M383.0 521.9h.01M375.2 538.7h.01M384.4 535.9h.01M381.6 542.2h.01M377.4 534.7h.01M381.8 520.4h.01M366.4 531.2h.01M381.6 543.7h.01M379.7 546.1h.01M374.2 524.5h.01M387.5 534.6h.01M366.8 541.6h.01M384.6 550.7h.01M382.5 521.8h.01M374.2 525.7h.01M372.8 528.9h.01M372.3 515.7h.01M368.7 529.8h.01M387.6 550.2h.01M383.8 519.7h.01M364.1 518.6h.01M363.9 546.2h.01M363.4 528.4h.01M381.2 524.7h.01M376.4 538.6h.01M375.5 531.7h.01M371.1 547.5h.01M376.6 551.8h.01M380.7 529.1h.01M362.1 517.5h.01M374.2 531.0h.01M365.4 546.4h.01M380.6 515.6h.01M373.1 531.5h.01M365.1 544.7h.01M377.4 548.5h.01M364.4 522.8h.01M371.6 550.4h.01M380.0 526.5h.01M379.3 536.1h.01M386.3 527.2h.01M380.1 533.0h.01M381.5 544.9h.01M379.4 542.0h.01M376.0 546.8h.01M371.4 545.0h.01M369.0 517.6h.01M373.0 518.1h.01M369.8 521.2h.01M365.8 551.8h.01M362.2 549.6h.01M366.6 551.0h.01M363.7 542.3h.01M382.6 526.3h.01M366.3 535.2h.01M367.6 515.8h.01M363.9 533.2h.01M380.9 528.2h.01M362.9 523.3h.01M365.3 521.2h.01M382.8 545.2h.01M368.0 537.4h.01M380.6 524.8h.01M364.7 522.1h.01M378.6 530.3h.01M383.2 515.5h.01M375.9 543.0h.01M368.5 543.5h.01M367.8 526.4h.01M364.9 524.7h.01M377.8 528.1h.01M387.9 544.8h.01M364.9 545.0h.01M387.1 545.2h.01M375.0 520.0h.01M387.7 550.2h.01M373.7 550.8h.01M376.9 525.8h.01M383.8 525.7h.01M387.9 518.1h.01M387.7 525.9h.01M368.8 520.7h.01M374.8 528.5h.01M369.8 541.7h.01M387.7 515.7h.01M367.1 535.6h.01M381.4 547.0h.01M382.1 541.4h.01M363.2 534.8h.01M381.8 531.2h.01M379.2 539.3h.01M382.0 542.6h.01M375.3 548.2h.01M376.0 535.9h.01M379.7 538.6h.01M382.4 533.0h.01M369.6 538.3h.01M382.8 542.8h.01M387.6 524.6h.01M379.4 531.3h.01M371.9 525.4h.01M372.5 517.0h.01M377.8 538.4h.01M384.5 540.2h.01M374.0 549.0h.01M387.4 518.3h.01M384.3 536.1h.01M368.7 518.5h.01M380.6 531.2h.01M365.8 528.0h.01M370.7 522.7h.01M386.4 543.1h.01M383.4 537.1h.01M378.2 536.7h.01M363.0 540.9h.01M363.0 533.7h.01M363.6 547.3h.01M385.6 520.7h.01M382.0 533.0h.01M363.5 542.2h.01M384.9 548.8h.01M381.1 524.8h.01M382.1 528.0h.01M378.5 546.9h.01M378.3 538.9h.01M376.1 544.3h.01M382.0 521.9h.01M379.9 529.1h.01M380.4 549.0h.01M380.7 544.5h.01M378.0 520.9h.01M363.7 523.2h.01M370.3 516.1h.01M377.1 532.3h.01M375.5 527.6h.01M387.6 550.4h.01M381.8 539.5h.01M366.9 542.9h.01M365.6 539.6h.01M370.9 539.7h.01M373.1 529.5h.01M378.5 531.4h.01M378.0 521.2h.01M383.3 532.2h.01M377.3 541.3h.01M364.4 529.1h.01M367.3 515.2h.01M364.3 528.1h.01M362.8 519.3h.01M380.5 535.3h.01M374.1 549.1h.01M374.9 523.3h.01M365.0 539.4h.01M381.0 520.2h.01M387.3 533.5h.01M377.2 531.7h.01" stroke="#e07a6a" stroke-width="1.0" stroke-linecap="round" opacity="0.5" fill="none"/>
<path d="M384.4 538.7h.01M360.6 517.8h.01M371.3 550.0h.01M382.8 535.1h.01M371.9 548.4h.01M377.7 518.7h.01M370.7 534.0h.01M376.3 515.5h.01M365.1 533.6h.01M377.9 532.0h.01M386.3 533.2h.01M386.8 531.7h.01M380.0 527.0h.01M376.0 528.6h.01M373.6 519.9h.01M368.1 519.3h.01M385.6 527.0h.01M381.5 549.0h.01M375.7 544.4h.01M385.4 545.9h.01M374.1 526.9h.01M376.0 536.3h.01M375.1 517.3h.01M374.4 537.8h.01M367.2 526.1h.01M392.7 534.6h.01M380.1 515.6h.01M375.1 544.9h.01M372.7 517.8h.01M374.5 533.4h.01M379.7 544.3h.01M387.0 534.7h.01M379.0 549.6h.01M381.2 535.6h.01M371.2 549.9h.01M374.0 518.7h.01M370.7 522.0h.01M373.0 539.2h.01M375.9 516.8h.01M381.4 528.6h.01M373.7 547.2h.01M368.8 532.0h.01M386.8 538.2h.01M378.0 544.4h.01M386.4 533.9h.01M379.0 541.7h.01M368.7 522.5h.01M382.9 547.2h.01M383.3 543.7h.01M390.3 549.4h.01M377.6 519.6h.01M368.9 540.6h.01M373.0 522.8h.01M378.6 537.0h.01M386.0 539.9h.01M380.7 534.3h.01M391.8 549.6h.01M371.4 520.8h.01M371.6 537.0h.01M379.5 521.2h.01M376.1 534.0h.01M379.4 519.0h.01M362.0 515.6h.01M375.3 516.1h.01M383.5 543.5h.01M383.5 522.5h.01M379.8 545.5h.01M384.5 530.5h.01M385.5 534.1h.01M384.4 520.6h.01M365.2 530.0h.01M381.1 547.0h.01M376.2 517.7h.01M381.8 519.5h.01M383.4 535.6h.01M381.0 543.9h.01M393.6 541.0h.01M373.9 523.7h.01M370.7 521.3h.01M381.7 526.2h.01M378.6 518.2h.01M377.5 515.2h.01M371.1 518.6h.01M390.8 529.4h.01M383.6 539.9h.01M375.1 545.1h.01M371.8 541.7h.01M386.7 520.7h.01M373.3 518.5h.01M389.9 537.6h.01M383.3 525.5h.01M386.2 532.9h.01M371.3 525.1h.01M378.8 539.9h.01M375.6 533.1h.01M373.8 522.8h.01M365.4 524.1h.01M373.1 541.3h.01M372.7 529.8h.01M385.0 527.9h.01M370.8 539.7h.01M374.2 516.7h.01M361.7 543.9h.01M358.1 516.7h.01M372.9 517.8h.01M372.7 530.1h.01M371.1 519.4h.01M383.1 520.6h.01M376.3 521.0h.01M373.9 521.0h.01M383.7 522.1h.01M372.4 535.4h.01M383.0 547.8h.01M358.8 541.8h.01M383.3 531.3h.01M376.6 524.1h.01M383.2 545.5h.01M389.5 548.8h.01M375.9 519.1h.01M376.8 537.0h.01M387.8 534.6h.01M375.3 548.5h.01M371.4 532.7h.01M391.4 538.1h.01M382.5 519.2h.01M370.4 517.8h.01M374.7 520.3h.01M379.0 535.0h.01M372.9 542.6h.01M379.8 540.4h.01M390.3 543.5h.01M371.6 523.7h.01M369.9 530.0h.01M385.4 537.2h.01M379.9 538.2h.01M370.8 525.6h.01M375.6 536.1h.01M386.6 549.3h.01M374.8 549.6h.01M392.6 534.8h.01M366.3 539.0h.01M372.7 545.0h.01M370.5 532.7h.01M382.4 525.9h.01M372.4 546.6h.01M382.1 522.9h.01M372.5 515.4h.01M372.8 532.1h.01M370.8 546.1h.01M376.0 548.6h.01M384.3 526.2h.01M367.0 518.3h.01M379.6 537.2h.01M370.7 531.7h.01M379.2 530.2h.01M367.4 538.3h.01M391.7 523.1h.01M376.8 548.3h.01M383.4 517.4h.01M375.6 540.3h.01M367.1 537.7h.01M371.0 524.7h.01M376.2 528.4h.01M379.2 534.7h.01M380.9 542.7h.01M381.1 544.1h.01M376.8 533.0h.01M372.7 519.1h.01M380.6 547.4h.01M389.3 541.6h.01M370.1 544.1h.01M379.4 545.5h.01M378.3 526.4h.01M375.4 526.9h.01M376.2 526.0h.01M367.1 524.0h.01M388.5 531.5h.01M374.7 541.3h.01M372.6 528.9h.01M366.2 532.7h.01M378.6 523.9h.01M379.1 525.4h.01M368.6 549.4h.01M373.1 532.3h.01M371.8 542.9h.01M362.7 537.2h.01M376.5 525.7h.01M384.4 532.5h.01M383.1 519.7h.01M383.9 521.4h.01M364.2 543.5h.01M381.1 543.2h.01M374.8 549.5h.01M369.9 526.6h.01M374.5 546.6h.01M377.1 546.9h.01M355.7 517.6h.01M380.4 544.5h.01M388.7 518.7h.01M384.3 544.4h.01M374.6 517.9h.01M375.9 530.2h.01M358.6 541.8h.01M378.2 538.0h.01M375.5 535.9h.01M387.8 532.7h.01M386.8 542.0h.01M368.5 527.3h.01M375.3 538.1h.01M373.9 523.2h.01M381.8 519.5h.01M367.2 534.6h.01M368.7 529.5h.01M378.1 549.0h.01M369.3 530.1h.01M391.1 532.8h.01M376.1 537.2h.01M376.4 522.5h.01M368.5 544.9h.01M370.8 532.8h.01" stroke="#e04a38" stroke-width="1.0" stroke-linecap="round" opacity="0.5" fill="none"/>
<rect x="288.7" y="445.6" width="118.0" height="117.39999999999998" fill="none" stroke="#646464" stroke-width="1"/>
<line x1="361.3" y1="445.6" x2="361.3" y2="563" stroke="#646464" stroke-width="1"/>
<line x1="288.7" y1="514.25" x2="406.7" y2="514.25" stroke="#646464" stroke-width="1"/>
<path d="M288.09999999999997 449.6h1.8M288.09999999999997 452.1h1.8M288.09999999999997 454.6h1.8M288.09999999999997 460.1h1.8M288.09999999999997 463.3h1.8M288.09999999999997 465.8h1.8M288.09999999999997 471.3h1.8M288.09999999999997 475.4h1.8M288.09999999999997 480.9h1.8M288.09999999999997 488.9h1.8M288.09999999999997 493.0h1.8M288.09999999999997 498.5h1.8M288.09999999999997 502.6h1.8M288.09999999999997 506.7h1.8M288.09999999999997 512.2h1.8M288.09999999999997 515.4h1.8M288.09999999999997 523.4h1.8M288.09999999999997 525.9h1.8M288.09999999999997 531.4h1.8M288.09999999999997 533.9h1.8M288.09999999999997 538.0h1.8M288.09999999999997 542.1h1.8M288.09999999999997 546.2h1.8M288.09999999999997 549.4h1.8M288.09999999999997 557.4h1.8M291.7 563.6v-1.8M301.7 563.6v-1.8M304.2 563.6v-1.8M314.2 563.6v-1.8M319.2 563.6v-1.8M326.2 563.6v-1.8M329.7 563.6v-1.8M339.7 563.6v-1.8M349.7 563.6v-1.8M353.2 563.6v-1.8M360.2 563.6v-1.8M365.2 563.6v-1.8M368.7 563.6v-1.8M378.7 563.6v-1.8M382.2 563.6v-1.8M385.7 563.6v-1.8M388.2 563.6v-1.8M390.7 563.6v-1.8M400.7 563.6v-1.8" stroke="#333" stroke-width="0.9" fill="none"/>
<rect x="288.7" y="445.6" width="19.600000000000023" height="8.699999999999989" fill="rgba(255,255,255,0.88)" stroke="#b0b0b0" stroke-width="0.9"/>
<text x="290.1" y="452.47" font-size="7.0" text-anchor="start" font-weight="bold" fill="#1e1e1e" textLength="18" lengthAdjust="spacingAndGlyphs" >9.61%</text>
<rect x="381.8" y="445.6" width="23.399999999999977" height="8.699999999999989" fill="rgba(255,255,255,0.88)" stroke="#b0b0b0" stroke-width="0.9"/>
<text x="383.2" y="452.47" font-size="7.0" text-anchor="start" font-weight="bold" fill="#1e1e1e" textLength="21.5" lengthAdjust="spacingAndGlyphs" >64.48%</text>
<rect x="288.8" y="545" width="23.0" height="8.799999999999955" fill="rgba(255,255,255,0.88)" stroke="#b0b0b0" stroke-width="0.9"/>
<text x="290.2" y="551.92" font-size="7.0" text-anchor="start" font-weight="bold" fill="#1e1e1e" textLength="21.5" lengthAdjust="spacingAndGlyphs" >18.30%</text>
<rect x="386.3" y="545" width="19.19999999999999" height="8.799999999999955" fill="rgba(255,255,255,0.88)" stroke="#b0b0b0" stroke-width="0.9"/>
<text x="387.7" y="551.92" font-size="7.0" text-anchor="start" font-weight="bold" fill="#1e1e1e" textLength="17.5" lengthAdjust="spacingAndGlyphs" >7.61%</text>
<text transform="translate(25.2,504.6) rotate(-90)" x="0" y="3.96" font-size="11" text-anchor="middle" font-weight="bold" fill="#222" textLength="7.6" lengthAdjust="spacingAndGlyphs">PI</text>
<line x1="35" y1="571.3" x2="400.5" y2="571.3" stroke="#2d9cc4" stroke-width="1.7"/>
<path d="M405.5 571.3 L397.5 568.1999999999999 L400.0 571.3 L397.5 574.4 Z" fill="#2d9cc4"/>
<text x="204.4" y="584.6" font-size="11" text-anchor="start" font-weight="bold" fill="#222" textLength="33" lengthAdjust="spacingAndGlyphs" >Annexin-V</text></svg>
<div id="fr"></div>
</body></html>
